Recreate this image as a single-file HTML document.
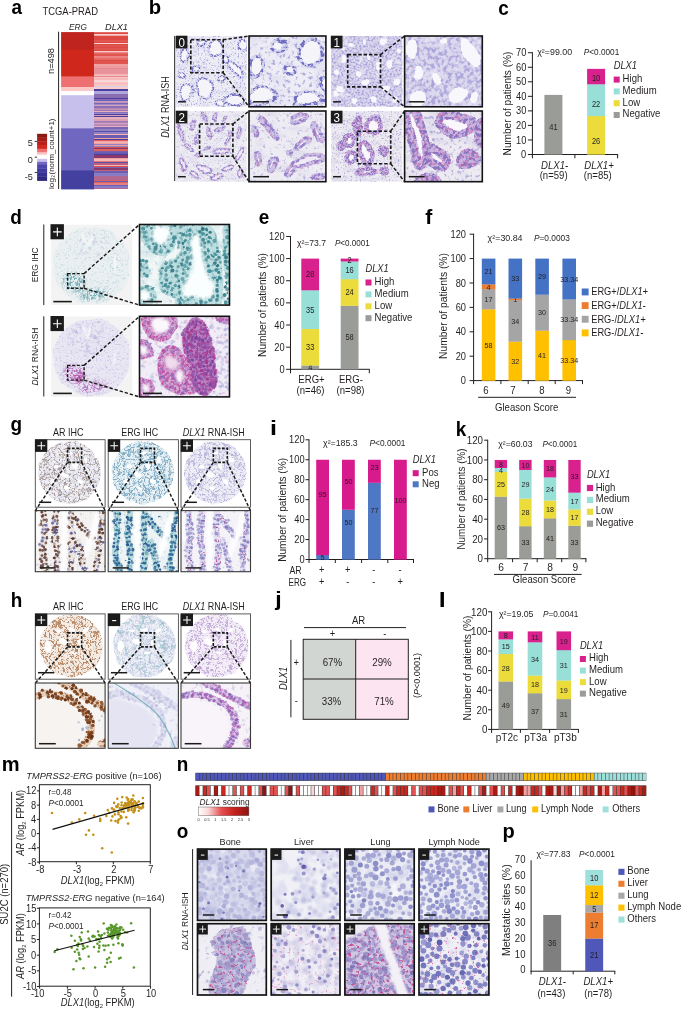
<!DOCTYPE html>
<html><head><meta charset="utf-8"><title>Figure</title>
<style>
html,body{margin:0;padding:0;background:#fff;}
body{width:685px;height:1009px;overflow:hidden;}
svg{display:block;font-family:"Liberation Sans",sans-serif;will-change:transform;transform:translateZ(0);}
</style></head><body>
<svg width="685" height="1009" viewBox="0 0 685 1009">
<rect width="685" height="1009" fill="#fff"/>
<text transform="translate(11.53 14.30) scale(0.9800 1)" font-size="19.3" text-anchor="start" fill="#000" font-weight="bold">a</text>
<text transform="translate(42.50 15.30) scale(0.9424 1)" font-size="10" text-anchor="start" fill="#231f20">TCGA-PRAD</text>
<text transform="translate(69.00 30.00) scale(0.8743 1)" font-size="9.5" text-anchor="start" fill="#231f20"><tspan font-style="italic">ERG</tspan></text>
<text transform="translate(105.00 30.00) scale(0.9679 1)" font-size="9.5" text-anchor="start" fill="#231f20"><tspan font-style="italic">DLX1</tspan></text>
<line x1="58.60" y1="31.70" x2="58.60" y2="189.00" stroke="#231f20" stroke-width="1"/>
<rect x="61.10" y="32.10" width="33.00" height="17.90" fill="#bf241f" />
<rect x="61.10" y="49.60" width="33.00" height="27.30" fill="#cf271b" />
<rect x="61.10" y="76.50" width="33.00" height="10.90" fill="#ee7070" />
<rect x="61.10" y="87.00" width="33.00" height="4.50" fill="#fbc8c8" />
<rect x="61.10" y="91.10" width="33.00" height="4.50" fill="#ffffff" />
<rect x="61.10" y="95.20" width="33.00" height="33.50" fill="#c8c0ec" />
<rect x="61.10" y="128.30" width="33.00" height="42.30" fill="#7068c0" />
<rect x="61.10" y="170.20" width="33.00" height="19.20" fill="#4340a0" />
<rect x="94.10" y="32.00" width="34.30" height="1.00" fill="#e66a66" shape-rendering="crispEdges"/>
<rect x="94.10" y="33.00" width="34.30" height="1.00" fill="#dd4a46" shape-rendering="crispEdges"/>
<rect x="94.10" y="34.00" width="34.30" height="1.00" fill="#f9cfce" shape-rendering="crispEdges"/>
<rect x="94.10" y="35.00" width="34.30" height="1.00" fill="#f4aaa8" shape-rendering="crispEdges"/>
<rect x="94.10" y="36.00" width="34.30" height="2.00" fill="#dd4a46" shape-rendering="crispEdges"/>
<rect x="94.10" y="38.00" width="34.30" height="2.00" fill="#dd4a46" shape-rendering="crispEdges"/>
<rect x="94.10" y="40.00" width="34.30" height="1.00" fill="#e05550" shape-rendering="crispEdges"/>
<rect x="94.10" y="41.00" width="34.30" height="1.00" fill="#e05550" shape-rendering="crispEdges"/>
<rect x="94.10" y="42.00" width="34.30" height="1.00" fill="#dd4a46" shape-rendering="crispEdges"/>
<rect x="94.10" y="43.00" width="34.30" height="1.00" fill="#f9cfce" shape-rendering="crispEdges"/>
<rect x="94.10" y="44.00" width="34.30" height="1.00" fill="#dd4a46" shape-rendering="crispEdges"/>
<rect x="94.10" y="45.00" width="34.30" height="2.00" fill="#e05550" shape-rendering="crispEdges"/>
<rect x="94.10" y="47.00" width="34.30" height="1.00" fill="#dd4a46" shape-rendering="crispEdges"/>
<rect x="94.10" y="48.00" width="34.30" height="2.00" fill="#e05550" shape-rendering="crispEdges"/>
<rect x="94.10" y="50.00" width="34.30" height="1.00" fill="#dd4a46" shape-rendering="crispEdges"/>
<rect x="94.10" y="51.00" width="34.30" height="1.00" fill="#f9cfce" shape-rendering="crispEdges"/>
<rect x="94.10" y="52.00" width="34.30" height="1.00" fill="#ec8482" shape-rendering="crispEdges"/>
<rect x="94.10" y="53.00" width="34.30" height="1.00" fill="#e66a66" shape-rendering="crispEdges"/>
<rect x="94.10" y="54.00" width="34.30" height="2.00" fill="#e05550" shape-rendering="crispEdges"/>
<rect x="94.10" y="56.00" width="34.30" height="2.00" fill="#ec8482" shape-rendering="crispEdges"/>
<rect x="94.10" y="58.00" width="34.30" height="2.00" fill="#e66a66" shape-rendering="crispEdges"/>
<rect x="94.10" y="60.00" width="34.30" height="1.00" fill="#dd4a46" shape-rendering="crispEdges"/>
<rect x="94.10" y="61.00" width="34.30" height="1.00" fill="#e05550" shape-rendering="crispEdges"/>
<rect x="94.10" y="62.00" width="34.30" height="2.00" fill="#e05550" shape-rendering="crispEdges"/>
<rect x="94.10" y="64.00" width="34.30" height="2.00" fill="#f0a2a2" shape-rendering="crispEdges"/>
<rect x="94.10" y="66.00" width="34.30" height="2.00" fill="#ee9a9e" shape-rendering="crispEdges"/>
<rect x="94.10" y="68.00" width="34.30" height="1.00" fill="#e48a96" shape-rendering="crispEdges"/>
<rect x="94.10" y="69.00" width="34.30" height="2.00" fill="#e8929c" shape-rendering="crispEdges"/>
<rect x="94.10" y="71.00" width="34.30" height="1.00" fill="#e8929c" shape-rendering="crispEdges"/>
<rect x="94.10" y="72.00" width="34.30" height="2.00" fill="#e8929c" shape-rendering="crispEdges"/>
<rect x="94.10" y="74.00" width="34.30" height="1.00" fill="#f4b4b4" shape-rendering="crispEdges"/>
<rect x="94.10" y="75.00" width="34.30" height="1.00" fill="#f6bcbc" shape-rendering="crispEdges"/>
<rect x="94.10" y="76.00" width="34.30" height="1.00" fill="#e48a96" shape-rendering="crispEdges"/>
<rect x="94.10" y="77.00" width="34.30" height="1.00" fill="#f8c4c4" shape-rendering="crispEdges"/>
<rect x="94.10" y="78.00" width="34.30" height="2.00" fill="#f6b8b8" shape-rendering="crispEdges"/>
<rect x="94.10" y="80.00" width="34.30" height="2.00" fill="#fad6d6" shape-rendering="crispEdges"/>
<rect x="94.10" y="82.00" width="34.30" height="1.00" fill="#f8c4c4" shape-rendering="crispEdges"/>
<rect x="94.10" y="83.00" width="34.30" height="1.00" fill="#f6b8b8" shape-rendering="crispEdges"/>
<rect x="94.10" y="84.00" width="34.30" height="2.00" fill="#f8c4c4" shape-rendering="crispEdges"/>
<rect x="94.10" y="86.00" width="34.30" height="1.00" fill="#dcd0ec" shape-rendering="crispEdges"/>
<rect x="94.10" y="87.00" width="34.30" height="1.00" fill="#f9cccc" shape-rendering="crispEdges"/>
<rect x="94.10" y="88.00" width="34.30" height="1.00" fill="#f9cccc" shape-rendering="crispEdges"/>
<rect x="94.10" y="89.00" width="34.30" height="1.00" fill="#4a3fa0" shape-rendering="crispEdges"/>
<rect x="94.10" y="90.00" width="34.30" height="1.00" fill="#4a3fa0" shape-rendering="crispEdges"/>
<rect x="94.10" y="91.00" width="34.30" height="2.00" fill="#b0a8dc" shape-rendering="crispEdges"/>
<rect x="94.10" y="93.00" width="34.30" height="1.00" fill="#b0a8dc" shape-rendering="crispEdges"/>
<rect x="94.10" y="94.00" width="34.30" height="2.00" fill="#8a6cb0" shape-rendering="crispEdges"/>
<rect x="94.10" y="96.00" width="34.30" height="2.00" fill="#8a6cb0" shape-rendering="crispEdges"/>
<rect x="94.10" y="98.00" width="34.30" height="1.00" fill="#4a3fa0" shape-rendering="crispEdges"/>
<rect x="94.10" y="99.00" width="34.30" height="1.00" fill="#8a6cb0" shape-rendering="crispEdges"/>
<rect x="94.10" y="100.00" width="34.30" height="1.00" fill="#6a60b8" shape-rendering="crispEdges"/>
<rect x="94.10" y="101.00" width="34.30" height="1.00" fill="#c8a0c4" shape-rendering="crispEdges"/>
<rect x="94.10" y="102.00" width="34.30" height="1.00" fill="#c090b8" shape-rendering="crispEdges"/>
<rect x="94.10" y="103.00" width="34.30" height="1.00" fill="#7a66b4" shape-rendering="crispEdges"/>
<rect x="94.10" y="104.00" width="34.30" height="1.00" fill="#9a8ccc" shape-rendering="crispEdges"/>
<rect x="94.10" y="105.00" width="34.30" height="1.00" fill="#dca0b4" shape-rendering="crispEdges"/>
<rect x="94.10" y="106.00" width="34.30" height="2.00" fill="#8a70b8" shape-rendering="crispEdges"/>
<rect x="94.10" y="108.00" width="34.30" height="1.00" fill="#b884b4" shape-rendering="crispEdges"/>
<rect x="94.10" y="109.00" width="34.30" height="1.00" fill="#c090b8" shape-rendering="crispEdges"/>
<rect x="94.10" y="110.00" width="34.30" height="1.00" fill="#a078b4" shape-rendering="crispEdges"/>
<rect x="94.10" y="111.00" width="34.30" height="1.00" fill="#e8b0bc" shape-rendering="crispEdges"/>
<rect x="94.10" y="112.00" width="34.30" height="1.00" fill="#8a70b8" shape-rendering="crispEdges"/>
<rect x="94.10" y="113.00" width="34.30" height="1.00" fill="#9a8ccc" shape-rendering="crispEdges"/>
<rect x="94.10" y="114.00" width="34.30" height="1.00" fill="#4a3fa0" shape-rendering="crispEdges"/>
<rect x="94.10" y="115.00" width="34.30" height="1.00" fill="#dca0b4" shape-rendering="crispEdges"/>
<rect x="94.10" y="116.00" width="34.30" height="1.00" fill="#4a3fa0" shape-rendering="crispEdges"/>
<rect x="94.10" y="117.00" width="34.30" height="1.00" fill="#e8b0bc" shape-rendering="crispEdges"/>
<rect x="94.10" y="118.00" width="34.30" height="1.00" fill="#e8b0bc" shape-rendering="crispEdges"/>
<rect x="94.10" y="119.00" width="34.30" height="1.00" fill="#dca0b4" shape-rendering="crispEdges"/>
<rect x="94.10" y="120.00" width="34.30" height="1.00" fill="#dca0b4" shape-rendering="crispEdges"/>
<rect x="94.10" y="121.00" width="34.30" height="1.00" fill="#a078b4" shape-rendering="crispEdges"/>
<rect x="94.10" y="122.00" width="34.30" height="1.00" fill="#b884b4" shape-rendering="crispEdges"/>
<rect x="94.10" y="123.00" width="34.30" height="1.00" fill="#c8a0c4" shape-rendering="crispEdges"/>
<rect x="94.10" y="124.00" width="34.30" height="1.00" fill="#c090b8" shape-rendering="crispEdges"/>
<rect x="94.10" y="125.00" width="34.30" height="1.00" fill="#b884b4" shape-rendering="crispEdges"/>
<rect x="94.10" y="126.00" width="34.30" height="1.00" fill="#e8b0bc" shape-rendering="crispEdges"/>
<rect x="94.10" y="127.00" width="34.30" height="2.00" fill="#7a66b4" shape-rendering="crispEdges"/>
<rect x="94.10" y="129.00" width="34.30" height="2.00" fill="#9080c4" shape-rendering="crispEdges"/>
<rect x="94.10" y="131.00" width="34.30" height="1.00" fill="#5a50a8" shape-rendering="crispEdges"/>
<rect x="94.10" y="132.00" width="34.30" height="2.00" fill="#9080c4" shape-rendering="crispEdges"/>
<rect x="94.10" y="134.00" width="34.30" height="1.00" fill="#f4b8b8" shape-rendering="crispEdges"/>
<rect x="94.10" y="135.00" width="34.30" height="2.00" fill="#6a5cb0" shape-rendering="crispEdges"/>
<rect x="94.10" y="137.00" width="34.30" height="1.00" fill="#6a5cb0" shape-rendering="crispEdges"/>
<rect x="94.10" y="138.00" width="34.30" height="1.00" fill="#f0a0a0" shape-rendering="crispEdges"/>
<rect x="94.10" y="139.00" width="34.30" height="1.00" fill="#4a3fa0" shape-rendering="crispEdges"/>
<rect x="94.10" y="140.00" width="34.30" height="1.00" fill="#e06060" shape-rendering="crispEdges"/>
<rect x="94.10" y="141.00" width="34.30" height="1.00" fill="#f0a0a0" shape-rendering="crispEdges"/>
<rect x="94.10" y="142.00" width="34.30" height="1.00" fill="#f4b8b8" shape-rendering="crispEdges"/>
<rect x="94.10" y="143.00" width="34.30" height="1.00" fill="#f0a0a0" shape-rendering="crispEdges"/>
<rect x="94.10" y="144.00" width="34.30" height="1.00" fill="#9080c4" shape-rendering="crispEdges"/>
<rect x="94.10" y="145.00" width="34.30" height="1.00" fill="#f0a0a0" shape-rendering="crispEdges"/>
<rect x="94.10" y="146.00" width="34.30" height="1.00" fill="#9080c4" shape-rendering="crispEdges"/>
<rect x="94.10" y="147.00" width="34.30" height="1.00" fill="#d85050" shape-rendering="crispEdges"/>
<rect x="94.10" y="148.00" width="34.30" height="1.00" fill="#8a3a6a" shape-rendering="crispEdges"/>
<rect x="94.10" y="149.00" width="34.30" height="2.00" fill="#e06060" shape-rendering="crispEdges"/>
<rect x="94.10" y="151.00" width="34.30" height="1.00" fill="#7a60a8" shape-rendering="crispEdges"/>
<rect x="94.10" y="152.00" width="34.30" height="2.00" fill="#6a5cb0" shape-rendering="crispEdges"/>
<rect x="94.10" y="154.00" width="34.30" height="1.00" fill="#4a3fa0" shape-rendering="crispEdges"/>
<rect x="94.10" y="155.00" width="34.30" height="1.00" fill="#8a3a6a" shape-rendering="crispEdges"/>
<rect x="94.10" y="156.00" width="34.30" height="2.00" fill="#8a3a6a" shape-rendering="crispEdges"/>
<rect x="94.10" y="158.00" width="34.30" height="1.00" fill="#f0a0a0" shape-rendering="crispEdges"/>
<rect x="94.10" y="159.00" width="34.30" height="1.00" fill="#f4b8b8" shape-rendering="crispEdges"/>
<rect x="94.10" y="160.00" width="34.30" height="1.00" fill="#f4b8b8" shape-rendering="crispEdges"/>
<rect x="94.10" y="161.00" width="34.30" height="1.00" fill="#e87878" shape-rendering="crispEdges"/>
<rect x="94.10" y="162.00" width="34.30" height="1.00" fill="#5a50a8" shape-rendering="crispEdges"/>
<rect x="94.10" y="163.00" width="34.30" height="1.00" fill="#c06080" shape-rendering="crispEdges"/>
<rect x="94.10" y="164.00" width="34.30" height="1.00" fill="#c06080" shape-rendering="crispEdges"/>
<rect x="94.10" y="165.00" width="34.30" height="1.00" fill="#f4b8b8" shape-rendering="crispEdges"/>
<rect x="94.10" y="166.00" width="34.30" height="1.00" fill="#d85050" shape-rendering="crispEdges"/>
<rect x="94.10" y="167.00" width="34.30" height="1.00" fill="#7a60a8" shape-rendering="crispEdges"/>
<rect x="94.10" y="168.00" width="34.30" height="2.00" fill="#8a3a6a" shape-rendering="crispEdges"/>
<rect x="94.10" y="170.00" width="34.30" height="1.00" fill="#c06080" shape-rendering="crispEdges"/>
<rect x="94.10" y="171.00" width="34.30" height="2.00" fill="#6a60b0" shape-rendering="crispEdges"/>
<rect x="94.10" y="173.00" width="34.30" height="2.00" fill="#8a7cc4" shape-rendering="crispEdges"/>
<rect x="94.10" y="175.00" width="34.30" height="1.00" fill="#8a7cc4" shape-rendering="crispEdges"/>
<rect x="94.10" y="176.00" width="34.30" height="2.00" fill="#b06890" shape-rendering="crispEdges"/>
<rect x="94.10" y="178.00" width="34.30" height="1.00" fill="#b06890" shape-rendering="crispEdges"/>
<rect x="94.10" y="179.00" width="34.30" height="1.00" fill="#b06890" shape-rendering="crispEdges"/>
<rect x="94.10" y="180.00" width="34.30" height="1.00" fill="#d86068" shape-rendering="crispEdges"/>
<rect x="94.10" y="181.00" width="34.30" height="1.00" fill="#6a60b0" shape-rendering="crispEdges"/>
<rect x="94.10" y="182.00" width="34.30" height="1.00" fill="#d86068" shape-rendering="crispEdges"/>
<rect x="94.10" y="183.00" width="34.30" height="2.00" fill="#e88080" shape-rendering="crispEdges"/>
<rect x="94.10" y="185.00" width="34.30" height="1.00" fill="#6a60b0" shape-rendering="crispEdges"/>
<rect x="94.10" y="186.00" width="34.30" height="1.00" fill="#8a7cc4" shape-rendering="crispEdges"/>
<rect x="94.10" y="187.00" width="34.30" height="1.00" fill="#8a7cc4" shape-rendering="crispEdges"/>
<rect x="94.10" y="188.00" width="34.30" height="1.00" fill="#b06890" shape-rendering="crispEdges"/>
<rect x="37.10" y="133.80" width="10.00" height="4.04" fill="#8c1a14" />
<rect x="37.10" y="137.54" width="10.00" height="4.04" fill="#a31d17" />
<rect x="37.10" y="141.29" width="10.00" height="4.04" fill="#b8211a" />
<rect x="37.10" y="145.03" width="10.00" height="4.04" fill="#d12a1c" />
<rect x="37.10" y="148.78" width="10.00" height="3.58" fill="#ee7070" />
<rect x="37.10" y="152.05" width="10.00" height="1.94" fill="#f8b4b4" />
<rect x="37.10" y="153.69" width="10.00" height="1.94" fill="#fcd8d8" />
<rect x="37.10" y="155.33" width="10.00" height="3.81" fill="#ffffff" />
<rect x="37.10" y="158.84" width="10.00" height="3.34" fill="#c8c0ec" />
<rect x="37.10" y="161.88" width="10.00" height="3.11" fill="#7068c0" />
<rect x="37.10" y="164.69" width="10.00" height="4.04" fill="#4d46aa" />
<rect x="37.10" y="168.43" width="10.00" height="4.04" fill="#3f3aa0" />
<rect x="37.10" y="172.18" width="10.00" height="4.51" fill="#363094" />
<rect x="37.10" y="176.39" width="10.00" height="4.51" fill="#2e2a80" />
<text transform="translate(32.80 145.80) scale(0.9300 1)" font-size="9.8" text-anchor="end" fill="#231f20">5</text>
<line x1="34.70" y1="141.40" x2="37.10" y2="141.40" stroke="#231f20" stroke-width="0.9"/>
<text transform="translate(32.80 162.50) scale(0.9300 1)" font-size="9.8" text-anchor="end" fill="#231f20">0</text>
<line x1="34.70" y1="157.20" x2="37.10" y2="157.20" stroke="#231f20" stroke-width="0.9"/>
<text transform="translate(32.80 179.90) scale(0.9300 1)" font-size="9.8" text-anchor="end" fill="#231f20">-5</text>
<line x1="34.70" y1="172.50" x2="37.10" y2="172.50" stroke="#231f20" stroke-width="0.9"/>
<text transform="translate(54.20 61.00) rotate(-90) scale(0.9745 1)" font-size="9.5" text-anchor="middle" fill="#231f20">n=498</text>
<text transform="translate(53.70 189.00) rotate(-90) scale(1.0304 1)" font-size="8" text-anchor="start" fill="#231f20">log</text>
<text transform="translate(55.20 177.60) rotate(-90) scale(0.9300 1)" font-size="4.5" text-anchor="start" fill="#231f20">2</text>
<text transform="translate(53.70 174.50) rotate(-90) scale(0.9878 1)" font-size="8" text-anchor="start" fill="#231f20">(norm_count+1)</text>
<text transform="translate(498.35 14.50) scale(0.9800 1)" font-size="19.3" text-anchor="start" fill="#000" font-weight="bold">c</text>
<line x1="532.40" y1="52.20" x2="532.40" y2="155.00" stroke="#231f20" stroke-width="1"/>
<line x1="527.90" y1="154.50" x2="532.40" y2="154.50" stroke="#231f20" stroke-width="1"/>
<text transform="translate(526.30 158.10) scale(0.9300 1)" font-size="10" text-anchor="end" fill="#231f20">0</text>
<line x1="527.90" y1="139.96" x2="532.40" y2="139.96" stroke="#231f20" stroke-width="1"/>
<text transform="translate(526.30 143.56) scale(0.9300 1)" font-size="10" text-anchor="end" fill="#231f20">10</text>
<line x1="527.90" y1="125.42" x2="532.40" y2="125.42" stroke="#231f20" stroke-width="1"/>
<text transform="translate(526.30 129.02) scale(0.9300 1)" font-size="10" text-anchor="end" fill="#231f20">20</text>
<line x1="527.90" y1="110.88" x2="532.40" y2="110.88" stroke="#231f20" stroke-width="1"/>
<text transform="translate(526.30 114.48) scale(0.9300 1)" font-size="10" text-anchor="end" fill="#231f20">30</text>
<line x1="527.90" y1="96.34" x2="532.40" y2="96.34" stroke="#231f20" stroke-width="1"/>
<text transform="translate(526.30 99.94) scale(0.9300 1)" font-size="10" text-anchor="end" fill="#231f20">40</text>
<line x1="527.90" y1="81.80" x2="532.40" y2="81.80" stroke="#231f20" stroke-width="1"/>
<text transform="translate(526.30 85.40) scale(0.9300 1)" font-size="10" text-anchor="end" fill="#231f20">50</text>
<line x1="527.90" y1="67.26" x2="532.40" y2="67.26" stroke="#231f20" stroke-width="1"/>
<text transform="translate(526.30 70.86) scale(0.9300 1)" font-size="10" text-anchor="end" fill="#231f20">60</text>
<line x1="527.90" y1="52.72" x2="532.40" y2="52.72" stroke="#231f20" stroke-width="1"/>
<text transform="translate(526.30 56.32) scale(0.9300 1)" font-size="10" text-anchor="end" fill="#231f20">70</text>
<line x1="531.90" y1="154.50" x2="618.10" y2="154.50" stroke="#231f20" stroke-width="1"/>
<line x1="532.40" y1="154.50" x2="532.40" y2="158.30" stroke="#231f20" stroke-width="1"/>
<line x1="574.90" y1="154.50" x2="574.90" y2="158.30" stroke="#231f20" stroke-width="1"/>
<line x1="617.60" y1="154.50" x2="617.60" y2="158.30" stroke="#231f20" stroke-width="1"/>
<rect x="544.40" y="94.89" width="18.00" height="59.76" fill="#9a9c97" />
<text transform="translate(553.40 130.48) scale(0.9000 1)" font-size="8.3" text-anchor="middle" fill="#231f20">41</text>
<rect x="587.10" y="115.97" width="18.00" height="38.68" fill="#ebdc3b" />
<text transform="translate(596.10 143.72) scale(0.9000 1)" font-size="8.3" text-anchor="middle" fill="#231f20">26</text>
<rect x="587.10" y="84.13" width="18.00" height="31.99" fill="#98dfd8" />
<text transform="translate(596.10 107.04) scale(0.9000 1)" font-size="8.3" text-anchor="middle" fill="#231f20">22</text>
<rect x="587.10" y="68.86" width="18.00" height="15.42" fill="#d9218d" />
<text transform="translate(596.10 81.08) scale(0.9000 1)" font-size="8.3" text-anchor="middle" fill="#231f20">10</text>
<text transform="translate(537.20 55.20) scale(1.0319 1)" font-size="8.6" text-anchor="start" fill="#231f20">χ²=99.00</text>
<text transform="translate(583.80 55.20) scale(0.9579 1)" font-size="8.6" text-anchor="start" fill="#231f20"><tspan font-style="italic">P</tspan>&lt;0.0001</text>
<text transform="translate(613.70 68.80) scale(0.9300 1)" font-size="10" text-anchor="start" fill="#231f20"><tspan font-style="italic">DLX1</tspan></text>
<rect x="613.70" y="76.60" width="6.00" height="6.00" fill="#d9218d" />
<text transform="translate(622.60 82.00) scale(0.9300 1)" font-size="10.3" text-anchor="start" fill="#231f20">High</text>
<rect x="613.70" y="88.40" width="6.00" height="6.00" fill="#98dfd8" />
<text transform="translate(622.60 93.80) scale(0.9300 1)" font-size="10.3" text-anchor="start" fill="#231f20">Medium</text>
<rect x="613.70" y="100.20" width="6.00" height="6.00" fill="#ebdc3b" />
<text transform="translate(622.60 105.60) scale(0.9300 1)" font-size="10.3" text-anchor="start" fill="#231f20">Low</text>
<rect x="613.70" y="112.00" width="6.00" height="6.00" fill="#9a9c97" />
<text transform="translate(622.60 117.40) scale(0.9300 1)" font-size="10.3" text-anchor="start" fill="#231f20">Negative</text>
<text transform="translate(554.60 169.20) scale(0.9300 1)" font-size="10.3" text-anchor="middle" fill="#231f20"><tspan font-style="italic">DLX1-</tspan></text>
<text transform="translate(553.60 179.00) scale(0.9300 1)" font-size="10.3" text-anchor="middle" fill="#231f20">(n=59)</text>
<text transform="translate(599.00 169.20) scale(0.9300 1)" font-size="10.3" text-anchor="middle" fill="#231f20"><tspan font-style="italic">DLX1+</tspan></text>
<text transform="translate(597.80 179.00) scale(0.9300 1)" font-size="10.3" text-anchor="middle" fill="#231f20">(n=85)</text>
<text transform="translate(511.00 103.50) rotate(-90) scale(0.9821 1)" font-size="10.3" text-anchor="middle" fill="#231f20">Number of patients (%)</text>
<text transform="translate(258.78 223.90) scale(0.9800 1)" font-size="19.3" text-anchor="start" fill="#000" font-weight="bold">e</text>
<line x1="290.50" y1="236.00" x2="290.50" y2="369.80" stroke="#231f20" stroke-width="1"/>
<line x1="286.10" y1="369.30" x2="290.50" y2="369.30" stroke="#231f20" stroke-width="1"/>
<text transform="translate(284.60 372.90) scale(0.9300 1)" font-size="10" text-anchor="end" fill="#231f20">0</text>
<line x1="286.10" y1="347.16" x2="290.50" y2="347.16" stroke="#231f20" stroke-width="1"/>
<text transform="translate(284.60 350.76) scale(0.9300 1)" font-size="10" text-anchor="end" fill="#231f20">20</text>
<line x1="286.10" y1="325.02" x2="290.50" y2="325.02" stroke="#231f20" stroke-width="1"/>
<text transform="translate(284.60 328.62) scale(0.9300 1)" font-size="10" text-anchor="end" fill="#231f20">40</text>
<line x1="286.10" y1="302.88" x2="290.50" y2="302.88" stroke="#231f20" stroke-width="1"/>
<text transform="translate(284.60 306.48) scale(0.9300 1)" font-size="10" text-anchor="end" fill="#231f20">60</text>
<line x1="286.10" y1="280.74" x2="290.50" y2="280.74" stroke="#231f20" stroke-width="1"/>
<text transform="translate(284.60 284.34) scale(0.9300 1)" font-size="10" text-anchor="end" fill="#231f20">80</text>
<line x1="286.10" y1="258.60" x2="290.50" y2="258.60" stroke="#231f20" stroke-width="1"/>
<text transform="translate(284.60 262.20) scale(0.9300 1)" font-size="10" text-anchor="end" fill="#231f20">100</text>
<line x1="286.10" y1="236.46" x2="290.50" y2="236.46" stroke="#231f20" stroke-width="1"/>
<text transform="translate(284.60 240.06) scale(0.9300 1)" font-size="10" text-anchor="end" fill="#231f20">120</text>
<line x1="290.00" y1="369.30" x2="369.80" y2="369.30" stroke="#231f20" stroke-width="1"/>
<line x1="290.50" y1="369.30" x2="290.50" y2="373.30" stroke="#231f20" stroke-width="1"/>
<line x1="369.30" y1="369.30" x2="369.30" y2="373.30" stroke="#231f20" stroke-width="1"/>
<rect x="301.30" y="365.43" width="17.80" height="4.02" fill="#9a9c97" />
<text transform="translate(310.20 370.35) scale(0.9000 1)" font-size="8.3" text-anchor="middle" fill="#231f20">4</text>
<rect x="301.30" y="328.89" width="17.80" height="36.68" fill="#ebdc3b" />
<text transform="translate(310.20 350.15) scale(0.9000 1)" font-size="8.3" text-anchor="middle" fill="#231f20">33</text>
<rect x="301.30" y="290.15" width="17.80" height="38.89" fill="#98dfd8" />
<text transform="translate(310.20 312.51) scale(0.9000 1)" font-size="8.3" text-anchor="middle" fill="#231f20">35</text>
<rect x="301.30" y="258.60" width="17.80" height="31.70" fill="#d9218d" />
<text transform="translate(310.20 277.36) scale(0.9000 1)" font-size="8.3" text-anchor="middle" fill="#231f20">28</text>
<rect x="340.70" y="305.65" width="17.80" height="63.80" fill="#9a9c97" />
<text transform="translate(349.60 340.46) scale(0.9000 1)" font-size="8.3" text-anchor="middle" fill="#231f20">58</text>
<rect x="340.70" y="279.08" width="17.80" height="26.72" fill="#ebdc3b" />
<text transform="translate(349.60 295.35) scale(0.9000 1)" font-size="8.3" text-anchor="middle" fill="#231f20">24</text>
<rect x="340.70" y="261.37" width="17.80" height="17.86" fill="#98dfd8" />
<text transform="translate(349.60 273.21) scale(0.9000 1)" font-size="8.3" text-anchor="middle" fill="#231f20">16</text>
<rect x="340.70" y="258.60" width="17.80" height="2.92" fill="#d9218d" />
<text transform="translate(349.60 262.97) scale(0.9000 1)" font-size="8.3" text-anchor="middle" fill="#231f20">2</text>
<text transform="translate(296.90 245.80) scale(1.0022 1)" font-size="8.6" text-anchor="start" fill="#231f20">χ²=73.7</text>
<text transform="translate(334.90 245.80) scale(0.9444 1)" font-size="8.6" text-anchor="start" fill="#231f20"><tspan font-style="italic">P</tspan>&lt;0.0001</text>
<text transform="translate(365.50 271.80) scale(0.9300 1)" font-size="10" text-anchor="start" fill="#231f20"><tspan font-style="italic">DLX1</tspan></text>
<rect x="365.50" y="279.50" width="6.00" height="6.00" fill="#d9218d" />
<text transform="translate(374.60 284.90) scale(0.9300 1)" font-size="10.3" text-anchor="start" fill="#231f20">High</text>
<rect x="365.50" y="291.40" width="6.00" height="6.00" fill="#98dfd8" />
<text transform="translate(374.60 296.80) scale(0.9300 1)" font-size="10.3" text-anchor="start" fill="#231f20">Medium</text>
<rect x="365.50" y="303.30" width="6.00" height="6.00" fill="#ebdc3b" />
<text transform="translate(374.60 308.70) scale(0.9300 1)" font-size="10.3" text-anchor="start" fill="#231f20">Low</text>
<rect x="365.50" y="315.20" width="6.00" height="6.00" fill="#9a9c97" />
<text transform="translate(374.60 320.60) scale(0.9300 1)" font-size="10.3" text-anchor="start" fill="#231f20">Negative</text>
<text transform="translate(311.50 382.70) scale(0.9300 1)" font-size="10.3" text-anchor="middle" fill="#231f20">ERG+</text>
<text transform="translate(310.50 394.40) scale(0.9300 1)" font-size="10.3" text-anchor="middle" fill="#231f20">(n=46)</text>
<text transform="translate(350.90 382.70) scale(0.9300 1)" font-size="10.3" text-anchor="middle" fill="#231f20">ERG-</text>
<text transform="translate(350.50 394.40) scale(0.9300 1)" font-size="10.3" text-anchor="middle" fill="#231f20">(n=98)</text>
<text transform="translate(266.00 305.00) rotate(-90) scale(0.9821 1)" font-size="10.3" text-anchor="middle" fill="#231f20">Number of patients (%)</text>
<text transform="translate(425.37 223.80) scale(1.1000 1)" font-size="19.3" text-anchor="start" fill="#000" font-weight="bold">f</text>
<line x1="473.60" y1="233.70" x2="473.60" y2="381.10" stroke="#231f20" stroke-width="1"/>
<line x1="469.60" y1="380.60" x2="473.60" y2="380.60" stroke="#231f20" stroke-width="1"/>
<text transform="translate(466.00 384.20) scale(0.9300 1)" font-size="10" text-anchor="end" fill="#231f20">0</text>
<line x1="469.60" y1="356.20" x2="473.60" y2="356.20" stroke="#231f20" stroke-width="1"/>
<text transform="translate(466.00 359.80) scale(0.9300 1)" font-size="10" text-anchor="end" fill="#231f20">20</text>
<line x1="469.60" y1="331.80" x2="473.60" y2="331.80" stroke="#231f20" stroke-width="1"/>
<text transform="translate(466.00 335.40) scale(0.9300 1)" font-size="10" text-anchor="end" fill="#231f20">40</text>
<line x1="469.60" y1="307.40" x2="473.60" y2="307.40" stroke="#231f20" stroke-width="1"/>
<text transform="translate(466.00 311.00) scale(0.9300 1)" font-size="10" text-anchor="end" fill="#231f20">60</text>
<line x1="469.60" y1="283.00" x2="473.60" y2="283.00" stroke="#231f20" stroke-width="1"/>
<text transform="translate(466.00 286.60) scale(0.9300 1)" font-size="10" text-anchor="end" fill="#231f20">80</text>
<line x1="469.60" y1="258.60" x2="473.60" y2="258.60" stroke="#231f20" stroke-width="1"/>
<text transform="translate(466.00 262.20) scale(0.9300 1)" font-size="10" text-anchor="end" fill="#231f20">100</text>
<line x1="469.60" y1="234.20" x2="473.60" y2="234.20" stroke="#231f20" stroke-width="1"/>
<text transform="translate(466.00 237.80) scale(0.9300 1)" font-size="10" text-anchor="end" fill="#231f20">120</text>
<line x1="473.10" y1="380.60" x2="583.00" y2="380.60" stroke="#231f20" stroke-width="1"/>
<line x1="473.60" y1="380.60" x2="473.60" y2="384.10" stroke="#231f20" stroke-width="1"/>
<line x1="500.90" y1="380.60" x2="500.90" y2="384.10" stroke="#231f20" stroke-width="1"/>
<line x1="528.20" y1="380.60" x2="528.20" y2="384.10" stroke="#231f20" stroke-width="1"/>
<line x1="555.20" y1="380.60" x2="555.20" y2="384.10" stroke="#231f20" stroke-width="1"/>
<line x1="582.50" y1="380.60" x2="582.50" y2="384.10" stroke="#231f20" stroke-width="1"/>
<rect x="481.80" y="309.23" width="13.60" height="71.52" fill="#ffc000" />
<text transform="translate(488.60 347.80) scale(0.9000 1)" font-size="8.0" text-anchor="middle" fill="#231f20">58</text>
<rect x="481.80" y="289.10" width="13.60" height="20.28" fill="#a5a5a5" />
<text transform="translate(488.60 302.05) scale(0.9000 1)" font-size="8.0" text-anchor="middle" fill="#231f20">17</text>
<rect x="481.80" y="284.22" width="13.60" height="5.03" fill="#ed7d31" />
<text transform="translate(488.60 289.54) scale(0.9000 1)" font-size="8.0" text-anchor="middle" fill="#231f20">4</text>
<rect x="481.80" y="258.60" width="13.60" height="25.77" fill="#4472c4" />
<text transform="translate(488.60 274.29) scale(0.9000 1)" font-size="8.0" text-anchor="middle" fill="#231f20">21</text>
<rect x="508.50" y="341.56" width="13.60" height="39.19" fill="#ffc000" />
<text transform="translate(515.30 363.96) scale(0.9000 1)" font-size="8.0" text-anchor="middle" fill="#231f20">32</text>
<rect x="508.50" y="300.08" width="13.60" height="41.63" fill="#a5a5a5" />
<text transform="translate(515.30 323.70) scale(0.9000 1)" font-size="8.0" text-anchor="middle" fill="#231f20">34</text>
<rect x="508.50" y="298.49" width="13.60" height="1.74" fill="#ed7d31" />
<text transform="translate(515.30 302.17) scale(0.9000 1)" font-size="8.0" text-anchor="middle" fill="#231f20">1</text>
<rect x="508.50" y="258.60" width="13.60" height="40.04" fill="#4472c4" />
<text transform="translate(515.30 281.43) scale(0.9000 1)" font-size="8.0" text-anchor="middle" fill="#231f20">33</text>
<rect x="535.30" y="330.58" width="13.60" height="50.17" fill="#ffc000" />
<text transform="translate(542.10 358.47) scale(0.9000 1)" font-size="8.0" text-anchor="middle" fill="#231f20">41</text>
<rect x="535.30" y="294.59" width="13.60" height="36.14" fill="#a5a5a5" />
<text transform="translate(542.10 315.47) scale(0.9000 1)" font-size="8.0" text-anchor="middle" fill="#231f20">30</text>
<rect x="535.30" y="258.60" width="13.60" height="36.14" fill="#4472c4" />
<text transform="translate(542.10 279.48) scale(0.9000 1)" font-size="8.0" text-anchor="middle" fill="#231f20">29</text>
<rect x="562.40" y="339.97" width="13.60" height="40.78" fill="#ffc000" />
<text transform="translate(569.20 363.17) scale(0.9000 1)" font-size="8.0" text-anchor="middle" fill="#231f20">33.34</text>
<rect x="562.40" y="299.23" width="13.60" height="40.90" fill="#a5a5a5" />
<text transform="translate(569.20 322.48) scale(0.9000 1)" font-size="8.0" text-anchor="middle" fill="#231f20">33.34</text>
<rect x="562.40" y="258.60" width="13.60" height="40.78" fill="#4472c4" />
<text transform="translate(569.20 281.79) scale(0.9000 1)" font-size="8.0" text-anchor="middle" fill="#231f20">33.34</text>
<text transform="translate(487.60 241.30) scale(1.0692 1)" font-size="8.3" text-anchor="start" fill="#231f20">χ²=30.84</text>
<text transform="translate(533.90 241.30) scale(1.0065 1)" font-size="8.3" text-anchor="start" fill="#231f20"><tspan font-style="italic">P</tspan>=0.0003</text>
<rect x="581.70" y="288.50" width="6.90" height="6.90" fill="#4472c4" />
<text transform="translate(591.20 295.30) scale(0.9300 1)" font-size="10" text-anchor="start" fill="#231f20">ERG+/<tspan font-style="italic">DLX1+</tspan></text>
<rect x="581.70" y="302.15" width="6.90" height="6.90" fill="#ed7d31" />
<text transform="translate(591.20 308.95) scale(0.9300 1)" font-size="10" text-anchor="start" fill="#231f20">ERG+/<tspan font-style="italic">DLX1-</tspan></text>
<rect x="581.70" y="315.80" width="6.90" height="6.90" fill="#a5a5a5" />
<text transform="translate(591.20 322.60) scale(0.9300 1)" font-size="10" text-anchor="start" fill="#231f20">ERG-/<tspan font-style="italic">DLX1+</tspan></text>
<rect x="581.70" y="329.45" width="6.90" height="6.90" fill="#ffc000" />
<text transform="translate(591.20 336.25) scale(0.9300 1)" font-size="10" text-anchor="start" fill="#231f20">ERG-/<tspan font-style="italic">DLX1-</tspan></text>
<text transform="translate(486.00 393.70) scale(0.9300 1)" font-size="10.3" text-anchor="middle" fill="#231f20">6</text>
<text transform="translate(513.00 393.70) scale(0.9300 1)" font-size="10.3" text-anchor="middle" fill="#231f20">7</text>
<text transform="translate(541.90 393.70) scale(0.9300 1)" font-size="10.3" text-anchor="middle" fill="#231f20">8</text>
<text transform="translate(568.50 393.70) scale(0.9300 1)" font-size="10.3" text-anchor="middle" fill="#231f20">9</text>
<line x1="478.10" y1="397.30" x2="576.00" y2="397.30" stroke="#231f20" stroke-width="1"/>
<text transform="translate(526.70 410.80) scale(0.9300 1)" font-size="10.3" text-anchor="middle" fill="#231f20">Gleason Score</text>
<text transform="translate(446.70 306.00) rotate(-90) scale(1.0010 1)" font-size="10.3" text-anchor="middle" fill="#231f20">Number of patients (%)</text>
<text transform="translate(270.05 435.40) scale(1.3000 1)" font-size="19.3" text-anchor="start" fill="#000" font-weight="bold">i</text>
<line x1="309.00" y1="439.30" x2="309.00" y2="560.00" stroke="#231f20" stroke-width="1"/>
<line x1="305.50" y1="559.50" x2="309.00" y2="559.50" stroke="#231f20" stroke-width="1"/>
<text transform="translate(304.60 563.10) scale(0.9300 1)" font-size="10" text-anchor="end" fill="#231f20">0</text>
<line x1="305.50" y1="539.55" x2="309.00" y2="539.55" stroke="#231f20" stroke-width="1"/>
<text transform="translate(304.60 543.15) scale(0.9300 1)" font-size="10" text-anchor="end" fill="#231f20">20</text>
<line x1="305.50" y1="519.60" x2="309.00" y2="519.60" stroke="#231f20" stroke-width="1"/>
<text transform="translate(304.60 523.20) scale(0.9300 1)" font-size="10" text-anchor="end" fill="#231f20">40</text>
<line x1="305.50" y1="499.65" x2="309.00" y2="499.65" stroke="#231f20" stroke-width="1"/>
<text transform="translate(304.60 503.25) scale(0.9300 1)" font-size="10" text-anchor="end" fill="#231f20">60</text>
<line x1="305.50" y1="479.70" x2="309.00" y2="479.70" stroke="#231f20" stroke-width="1"/>
<text transform="translate(304.60 483.30) scale(0.9300 1)" font-size="10" text-anchor="end" fill="#231f20">80</text>
<line x1="305.50" y1="459.75" x2="309.00" y2="459.75" stroke="#231f20" stroke-width="1"/>
<text transform="translate(304.60 463.35) scale(0.9300 1)" font-size="10" text-anchor="end" fill="#231f20">100</text>
<line x1="305.50" y1="439.80" x2="309.00" y2="439.80" stroke="#231f20" stroke-width="1"/>
<text transform="translate(304.60 443.40) scale(0.9300 1)" font-size="10" text-anchor="end" fill="#231f20">120</text>
<line x1="308.50" y1="559.50" x2="414.00" y2="559.50" stroke="#231f20" stroke-width="1"/>
<line x1="309.00" y1="559.50" x2="309.00" y2="563.00" stroke="#231f20" stroke-width="1"/>
<line x1="335.30" y1="559.50" x2="335.30" y2="563.00" stroke="#231f20" stroke-width="1"/>
<line x1="361.60" y1="559.50" x2="361.60" y2="563.00" stroke="#231f20" stroke-width="1"/>
<line x1="387.80" y1="559.50" x2="387.80" y2="563.00" stroke="#231f20" stroke-width="1"/>
<line x1="413.50" y1="559.50" x2="413.50" y2="563.00" stroke="#231f20" stroke-width="1"/>
<rect x="316.20" y="555.01" width="12.80" height="4.64" fill="#4f78c4" />
<text transform="translate(322.60 560.14) scale(0.9000 1)" font-size="8.0" text-anchor="middle" fill="#231f20">5</text>
<rect x="316.20" y="459.75" width="12.80" height="95.41" fill="#d81b8c" />
<text transform="translate(322.60 496.66) scale(0.9000 1)" font-size="8.0" text-anchor="middle" fill="#231f20">95</text>
<rect x="342.00" y="509.62" width="12.80" height="50.02" fill="#4f78c4" />
<text transform="translate(348.40 525.04) scale(0.9000 1)" font-size="8.0" text-anchor="middle" fill="#231f20">50</text>
<rect x="342.00" y="459.75" width="12.80" height="50.02" fill="#d81b8c" />
<text transform="translate(348.40 484.17) scale(0.9000 1)" font-size="8.0" text-anchor="middle" fill="#231f20">50</text>
<rect x="368.00" y="482.69" width="12.80" height="76.96" fill="#4f78c4" />
<text transform="translate(374.40 513.38) scale(0.9000 1)" font-size="8.0" text-anchor="middle" fill="#231f20">77</text>
<rect x="368.00" y="459.75" width="12.80" height="23.09" fill="#d81b8c" />
<text transform="translate(374.40 469.90) scale(0.9000 1)" font-size="8.0" text-anchor="middle" fill="#231f20">23</text>
<rect x="394.00" y="459.75" width="12.80" height="99.90" fill="#d81b8c" />
<text transform="translate(400.40 503.20) scale(0.9000 1)" font-size="8.0" text-anchor="middle" fill="#231f20">100</text>
<text transform="translate(323.00 446.20) scale(1.0260 1)" font-size="8.6" text-anchor="start" fill="#231f20">χ²=185.3</text>
<text transform="translate(369.50 446.20) scale(0.9714 1)" font-size="8.6" text-anchor="start" fill="#231f20"><tspan font-style="italic">P</tspan>&lt;0.0001</text>
<text transform="translate(412.70 462.80) scale(0.9300 1)" font-size="10" text-anchor="start" fill="#231f20"><tspan font-style="italic">DLX1</tspan></text>
<rect x="412.70" y="470.20" width="6.00" height="6.00" fill="#d81b8c" />
<text transform="translate(422.00 475.60) scale(0.9300 1)" font-size="10.3" text-anchor="start" fill="#231f20">Pos</text>
<rect x="412.70" y="481.30" width="6.00" height="6.00" fill="#4f78c4" />
<text transform="translate(422.00 486.70) scale(0.9300 1)" font-size="10.3" text-anchor="start" fill="#231f20">Neg</text>
<text transform="translate(289.50 574.30) scale(0.8526 1)" font-size="10.3" text-anchor="start" fill="#231f20">AR</text>
<text transform="translate(288.60 586.00) scale(0.7840 1)" font-size="10.3" text-anchor="start" fill="#231f20">ERG</text>
<text transform="translate(321.60 573.20) scale(0.9300 1)" font-size="10" text-anchor="middle" fill="#231f20">+</text>
<text transform="translate(321.60 584.90) scale(0.9300 1)" font-size="10" text-anchor="middle" fill="#231f20">+</text>
<text transform="translate(347.80 573.20) scale(0.9300 1)" font-size="10" text-anchor="middle" fill="#231f20">+</text>
<text transform="translate(347.80 584.90) scale(0.9300 1)" font-size="10" text-anchor="middle" fill="#231f20">-</text>
<text transform="translate(373.80 573.20) scale(0.9300 1)" font-size="10" text-anchor="middle" fill="#231f20">-</text>
<text transform="translate(373.80 584.90) scale(0.9300 1)" font-size="10" text-anchor="middle" fill="#231f20">-</text>
<text transform="translate(400.10 573.20) scale(0.9300 1)" font-size="10" text-anchor="middle" fill="#231f20">-</text>
<text transform="translate(400.10 584.90) scale(0.9300 1)" font-size="10" text-anchor="middle" fill="#231f20">+</text>
<text transform="translate(286.00 509.90) rotate(-90) scale(0.9821 1)" font-size="10.3" text-anchor="middle" fill="#231f20">Number of patients (%)</text>
<text transform="translate(275.33 606.10) scale(1.2000 1)" font-size="19.3" text-anchor="start" fill="#000" font-weight="bold">j</text>
<text transform="translate(358.60 623.80) scale(0.9300 1)" font-size="10.3" text-anchor="middle" fill="#231f20">AR</text>
<line x1="304.00" y1="627.60" x2="406.00" y2="627.60" stroke="#231f20" stroke-width="1"/>
<text transform="translate(332.40 636.70) scale(0.9300 1)" font-size="10" text-anchor="middle" fill="#231f20">+</text>
<text transform="translate(384.90 636.50) scale(0.9300 1)" font-size="10" text-anchor="middle" fill="#231f20">-</text>
<rect x="303.20" y="639.30" width="52.50" height="80.00" fill="#d2d6d2" />
<rect x="355.70" y="639.30" width="52.60" height="80.00" fill="#fce4f0" />
<rect x="303.20" y="639.30" width="105.10" height="80.00" fill="none" stroke="#231f20" stroke-width="1" />
<line x1="355.70" y1="639.30" x2="355.70" y2="719.30" stroke="#231f20" stroke-width="1"/>
<line x1="303.20" y1="679.00" x2="408.30" y2="679.00" stroke="#231f20" stroke-width="1"/>
<text transform="translate(332.40 665.60) scale(0.9300 1)" font-size="10.5" text-anchor="middle" fill="#231f20">67%</text>
<text transform="translate(382.00 665.60) scale(0.9300 1)" font-size="10.5" text-anchor="middle" fill="#231f20">29%</text>
<text transform="translate(331.50 704.70) scale(0.9300 1)" font-size="10.5" text-anchor="middle" fill="#231f20">33%</text>
<text transform="translate(384.00 704.70) scale(0.9300 1)" font-size="10.5" text-anchor="middle" fill="#231f20">71%</text>
<line x1="290.90" y1="639.90" x2="290.90" y2="717.30" stroke="#231f20" stroke-width="1"/>
<text transform="translate(296.20 665.50) scale(0.9300 1)" font-size="10" text-anchor="middle" fill="#231f20">+</text>
<text transform="translate(296.20 704.00) scale(0.9300 1)" font-size="10" text-anchor="middle" fill="#231f20">-</text>
<text transform="translate(286.80 678.40) rotate(-90) scale(0.9300 1)" font-size="10" text-anchor="middle" fill="#231f20"><tspan font-style="italic">DLX1</tspan></text>
<text transform="translate(420.30 675.50) rotate(-90) scale(0.9521 1)" font-size="9.5" text-anchor="middle" fill="#231f20">(<tspan font-style="italic">P</tspan>&lt;0.0001)</text>
<text transform="translate(455.80 435.60) scale(0.9800 1)" font-size="19.3" text-anchor="start" fill="#000" font-weight="bold">k</text>
<line x1="487.70" y1="439.70" x2="487.70" y2="559.20" stroke="#231f20" stroke-width="1"/>
<line x1="484.20" y1="558.70" x2="487.70" y2="558.70" stroke="#231f20" stroke-width="1"/>
<text transform="translate(483.00 562.48) scale(0.9300 1)" font-size="10.5" text-anchor="end" fill="#231f20">0</text>
<line x1="484.20" y1="538.95" x2="487.70" y2="538.95" stroke="#231f20" stroke-width="1"/>
<text transform="translate(483.00 542.73) scale(0.9300 1)" font-size="10.5" text-anchor="end" fill="#231f20">20</text>
<line x1="484.20" y1="519.20" x2="487.70" y2="519.20" stroke="#231f20" stroke-width="1"/>
<text transform="translate(483.00 522.98) scale(0.9300 1)" font-size="10.5" text-anchor="end" fill="#231f20">40</text>
<line x1="484.20" y1="499.45" x2="487.70" y2="499.45" stroke="#231f20" stroke-width="1"/>
<text transform="translate(483.00 503.23) scale(0.9300 1)" font-size="10.5" text-anchor="end" fill="#231f20">60</text>
<line x1="484.20" y1="479.70" x2="487.70" y2="479.70" stroke="#231f20" stroke-width="1"/>
<text transform="translate(483.00 483.48) scale(0.9300 1)" font-size="10.5" text-anchor="end" fill="#231f20">80</text>
<line x1="484.20" y1="459.95" x2="487.70" y2="459.95" stroke="#231f20" stroke-width="1"/>
<text transform="translate(483.00 463.73) scale(0.9300 1)" font-size="10.5" text-anchor="end" fill="#231f20">100</text>
<line x1="484.20" y1="440.20" x2="487.70" y2="440.20" stroke="#231f20" stroke-width="1"/>
<text transform="translate(483.00 443.98) scale(0.9300 1)" font-size="10.5" text-anchor="end" fill="#231f20">120</text>
<line x1="487.20" y1="558.70" x2="586.40" y2="558.70" stroke="#231f20" stroke-width="1"/>
<line x1="487.70" y1="558.70" x2="487.70" y2="562.20" stroke="#231f20" stroke-width="1"/>
<line x1="512.60" y1="558.70" x2="512.60" y2="562.20" stroke="#231f20" stroke-width="1"/>
<line x1="537.20" y1="558.70" x2="537.20" y2="562.20" stroke="#231f20" stroke-width="1"/>
<line x1="561.70" y1="558.70" x2="561.70" y2="562.20" stroke="#231f20" stroke-width="1"/>
<line x1="585.90" y1="558.70" x2="585.90" y2="562.20" stroke="#231f20" stroke-width="1"/>
<rect x="494.70" y="496.49" width="12.40" height="62.36" fill="#9a9c97" />
<text transform="translate(500.90 530.47) scale(0.9000 1)" font-size="8.0" text-anchor="middle" fill="#231f20">63</text>
<rect x="494.70" y="471.80" width="12.40" height="24.84" fill="#ebdc3b" />
<text transform="translate(500.90 487.02) scale(0.9000 1)" font-size="8.0" text-anchor="middle" fill="#231f20">25</text>
<rect x="494.70" y="467.85" width="12.40" height="4.10" fill="#98dfd8" />
<text transform="translate(500.90 472.71) scale(0.9000 1)" font-size="8.0" text-anchor="middle" fill="#231f20">4</text>
<rect x="494.70" y="459.95" width="12.40" height="8.05" fill="#d9218d" />
<text transform="translate(500.90 466.78) scale(0.9000 1)" font-size="8.0" text-anchor="middle" fill="#231f20">8</text>
<rect x="519.20" y="526.11" width="12.40" height="32.74" fill="#9a9c97" />
<text transform="translate(525.40 545.29) scale(0.9000 1)" font-size="8.0" text-anchor="middle" fill="#231f20">33</text>
<rect x="519.20" y="498.46" width="12.40" height="27.80" fill="#ebdc3b" />
<text transform="translate(525.40 515.17) scale(0.9000 1)" font-size="8.0" text-anchor="middle" fill="#231f20">28</text>
<rect x="519.20" y="469.83" width="12.40" height="28.79" fill="#98dfd8" />
<text transform="translate(525.40 487.02) scale(0.9000 1)" font-size="8.0" text-anchor="middle" fill="#231f20">29</text>
<rect x="519.20" y="459.95" width="12.40" height="10.03" fill="#d9218d" />
<text transform="translate(525.40 467.77) scale(0.9000 1)" font-size="8.0" text-anchor="middle" fill="#231f20">10</text>
<rect x="543.80" y="518.21" width="12.40" height="40.64" fill="#9a9c97" />
<text transform="translate(550.00 541.34) scale(0.9000 1)" font-size="8.0" text-anchor="middle" fill="#231f20">41</text>
<rect x="543.80" y="500.44" width="12.40" height="17.93" fill="#ebdc3b" />
<text transform="translate(550.00 512.21) scale(0.9000 1)" font-size="8.0" text-anchor="middle" fill="#231f20">18</text>
<rect x="543.80" y="477.23" width="12.40" height="23.36" fill="#98dfd8" />
<text transform="translate(550.00 491.71) scale(0.9000 1)" font-size="8.0" text-anchor="middle" fill="#231f20">24</text>
<rect x="543.80" y="459.95" width="12.40" height="17.43" fill="#d9218d" />
<text transform="translate(550.00 471.47) scale(0.9000 1)" font-size="8.0" text-anchor="middle" fill="#231f20">18</text>
<rect x="568.30" y="525.62" width="12.40" height="33.23" fill="#9a9c97" />
<text transform="translate(574.50 545.04) scale(0.9000 1)" font-size="8.0" text-anchor="middle" fill="#231f20">33</text>
<rect x="568.30" y="509.33" width="12.40" height="16.44" fill="#ebdc3b" />
<text transform="translate(574.50 520.35) scale(0.9000 1)" font-size="8.0" text-anchor="middle" fill="#231f20">17</text>
<rect x="568.30" y="492.54" width="12.40" height="16.94" fill="#98dfd8" />
<text transform="translate(574.50 503.81) scale(0.9000 1)" font-size="8.0" text-anchor="middle" fill="#231f20">17</text>
<rect x="568.30" y="459.95" width="12.40" height="32.74" fill="#d9218d" />
<text transform="translate(574.50 479.12) scale(0.9000 1)" font-size="8.0" text-anchor="middle" fill="#231f20">33</text>
<text transform="translate(498.30 447.00) scale(1.0112 1)" font-size="8.6" text-anchor="start" fill="#231f20">χ²=60.03</text>
<text transform="translate(542.40 447.00) scale(0.9444 1)" font-size="8.6" text-anchor="start" fill="#231f20"><tspan font-style="italic">P</tspan>&lt;0.0001</text>
<text transform="translate(586.90 477.60) scale(0.9300 1)" font-size="10" text-anchor="start" fill="#231f20"><tspan font-style="italic">DLX1</tspan></text>
<rect x="586.90" y="484.90" width="6.20" height="6.20" fill="#d9218d" />
<text transform="translate(595.70 490.50) scale(0.9300 1)" font-size="10.3" text-anchor="start" fill="#231f20">High</text>
<rect x="586.90" y="496.80" width="6.20" height="6.20" fill="#98dfd8" />
<text transform="translate(595.70 502.40) scale(0.9300 1)" font-size="10.3" text-anchor="start" fill="#231f20">Medium</text>
<rect x="586.90" y="508.70" width="6.20" height="6.20" fill="#ebdc3b" />
<text transform="translate(595.70 514.30) scale(0.9300 1)" font-size="10.3" text-anchor="start" fill="#231f20">Low</text>
<rect x="586.90" y="520.60" width="6.20" height="6.20" fill="#9a9c97" />
<text transform="translate(595.70 526.20) scale(0.9300 1)" font-size="10.3" text-anchor="start" fill="#231f20">Negative</text>
<text transform="translate(501.00 571.10) scale(0.9300 1)" font-size="11" text-anchor="middle" fill="#231f20">6</text>
<text transform="translate(525.60 571.10) scale(0.9300 1)" font-size="11" text-anchor="middle" fill="#231f20">7</text>
<text transform="translate(550.10 571.10) scale(0.9300 1)" font-size="11" text-anchor="middle" fill="#231f20">8</text>
<text transform="translate(575.30 571.10) scale(0.9300 1)" font-size="11" text-anchor="middle" fill="#231f20">9</text>
<line x1="494.00" y1="574.40" x2="581.60" y2="574.40" stroke="#231f20" stroke-width="1"/>
<text transform="translate(544.20 583.40) scale(0.9300 1)" font-size="10.3" text-anchor="middle" fill="#231f20">Gleason Score</text>
<text transform="translate(464.70 499.00) rotate(-90) scale(0.9824 1)" font-size="10" text-anchor="middle" fill="#231f20">Number of patients (%)</text>
<text transform="translate(438.85 607.10) scale(1.3000 1)" font-size="19.3" text-anchor="start" fill="#000" font-weight="bold">l</text>
<line x1="491.60" y1="611.40" x2="491.60" y2="729.90" stroke="#231f20" stroke-width="1"/>
<line x1="488.10" y1="729.40" x2="491.60" y2="729.40" stroke="#231f20" stroke-width="1"/>
<text transform="translate(487.40 733.18) scale(0.9300 1)" font-size="10.5" text-anchor="end" fill="#231f20">0</text>
<line x1="488.10" y1="709.80" x2="491.60" y2="709.80" stroke="#231f20" stroke-width="1"/>
<text transform="translate(487.40 713.58) scale(0.9300 1)" font-size="10.5" text-anchor="end" fill="#231f20">20</text>
<line x1="488.10" y1="690.20" x2="491.60" y2="690.20" stroke="#231f20" stroke-width="1"/>
<text transform="translate(487.40 693.98) scale(0.9300 1)" font-size="10.5" text-anchor="end" fill="#231f20">40</text>
<line x1="488.10" y1="670.60" x2="491.60" y2="670.60" stroke="#231f20" stroke-width="1"/>
<text transform="translate(487.40 674.38) scale(0.9300 1)" font-size="10.5" text-anchor="end" fill="#231f20">60</text>
<line x1="488.10" y1="651.00" x2="491.60" y2="651.00" stroke="#231f20" stroke-width="1"/>
<text transform="translate(487.40 654.78) scale(0.9300 1)" font-size="10.5" text-anchor="end" fill="#231f20">80</text>
<line x1="488.10" y1="631.40" x2="491.60" y2="631.40" stroke="#231f20" stroke-width="1"/>
<text transform="translate(487.40 635.18) scale(0.9300 1)" font-size="10.5" text-anchor="end" fill="#231f20">100</text>
<line x1="488.10" y1="611.80" x2="491.60" y2="611.80" stroke="#231f20" stroke-width="1"/>
<text transform="translate(487.40 615.58) scale(0.9300 1)" font-size="10.5" text-anchor="end" fill="#231f20">120</text>
<line x1="491.10" y1="729.40" x2="578.90" y2="729.40" stroke="#231f20" stroke-width="1"/>
<line x1="491.60" y1="729.40" x2="491.60" y2="732.90" stroke="#231f20" stroke-width="1"/>
<line x1="520.40" y1="729.40" x2="520.40" y2="732.90" stroke="#231f20" stroke-width="1"/>
<line x1="549.60" y1="729.40" x2="549.60" y2="732.90" stroke="#231f20" stroke-width="1"/>
<line x1="578.40" y1="729.40" x2="578.40" y2="732.90" stroke="#231f20" stroke-width="1"/>
<rect x="498.50" y="681.38" width="14.60" height="48.17" fill="#9a9c97" />
<text transform="translate(505.80 708.27) scale(0.9000 1)" font-size="8.0" text-anchor="middle" fill="#231f20">49</text>
<rect x="498.50" y="653.94" width="14.60" height="27.59" fill="#ebdc3b" />
<text transform="translate(505.80 670.54) scale(0.9000 1)" font-size="8.0" text-anchor="middle" fill="#231f20">28</text>
<rect x="498.50" y="639.24" width="14.60" height="14.85" fill="#98dfd8" />
<text transform="translate(505.80 649.47) scale(0.9000 1)" font-size="8.0" text-anchor="middle" fill="#231f20">15</text>
<rect x="498.50" y="631.40" width="14.60" height="7.99" fill="#d9218d" />
<text transform="translate(505.80 638.20) scale(0.9000 1)" font-size="8.0" text-anchor="middle" fill="#231f20">8</text>
<rect x="527.70" y="693.14" width="14.60" height="36.41" fill="#9a9c97" />
<text transform="translate(535.00 714.15) scale(0.9000 1)" font-size="8.0" text-anchor="middle" fill="#231f20">37</text>
<rect x="527.70" y="675.50" width="14.60" height="17.79" fill="#ebdc3b" />
<text transform="translate(535.00 687.20) scale(0.9000 1)" font-size="8.0" text-anchor="middle" fill="#231f20">18</text>
<rect x="527.70" y="642.18" width="14.60" height="33.47" fill="#98dfd8" />
<text transform="translate(535.00 661.72) scale(0.9000 1)" font-size="8.0" text-anchor="middle" fill="#231f20">34</text>
<rect x="527.70" y="631.40" width="14.60" height="10.93" fill="#d9218d" />
<text transform="translate(535.00 639.67) scale(0.9000 1)" font-size="8.0" text-anchor="middle" fill="#231f20">11</text>
<rect x="556.50" y="699.02" width="14.60" height="30.53" fill="#9a9c97" />
<text transform="translate(563.80 717.09) scale(0.9000 1)" font-size="8.0" text-anchor="middle" fill="#231f20">31</text>
<rect x="556.50" y="680.40" width="14.60" height="18.77" fill="#ebdc3b" />
<text transform="translate(563.80 692.59) scale(0.9000 1)" font-size="8.0" text-anchor="middle" fill="#231f20">19</text>
<rect x="556.50" y="650.02" width="14.60" height="30.53" fill="#98dfd8" />
<text transform="translate(563.80 668.09) scale(0.9000 1)" font-size="8.0" text-anchor="middle" fill="#231f20">31</text>
<rect x="556.50" y="631.40" width="14.60" height="18.77" fill="#d9218d" />
<text transform="translate(563.80 643.59) scale(0.9000 1)" font-size="8.0" text-anchor="middle" fill="#231f20">19</text>
<text transform="translate(498.90 617.00) scale(1.0201 1)" font-size="8.6" text-anchor="start" fill="#231f20">χ²=19.05</text>
<text transform="translate(543.00 617.00) scale(0.9552 1)" font-size="8.6" text-anchor="start" fill="#231f20"><tspan font-style="italic">P</tspan>=0.0041</text>
<text transform="translate(579.90 648.60) scale(0.9300 1)" font-size="10" text-anchor="start" fill="#231f20"><tspan font-style="italic">DLX1</tspan></text>
<rect x="579.90" y="656.00" width="6.00" height="6.00" fill="#d9218d" />
<text transform="translate(589.00 661.40) scale(0.9300 1)" font-size="10.3" text-anchor="start" fill="#231f20">High</text>
<rect x="579.90" y="667.55" width="6.00" height="6.00" fill="#98dfd8" />
<text transform="translate(589.00 672.95) scale(0.9300 1)" font-size="10.3" text-anchor="start" fill="#231f20">Medium</text>
<rect x="579.90" y="679.10" width="6.00" height="6.00" fill="#ebdc3b" />
<text transform="translate(589.00 684.50) scale(0.9300 1)" font-size="10.3" text-anchor="start" fill="#231f20">Low</text>
<rect x="579.90" y="690.65" width="6.00" height="6.00" fill="#9a9c97" />
<text transform="translate(589.00 696.05) scale(0.9300 1)" font-size="10.3" text-anchor="start" fill="#231f20">Negative</text>
<text transform="translate(506.90 740.90) scale(0.9300 1)" font-size="10.8" text-anchor="middle" fill="#231f20">pT2c</text>
<text transform="translate(535.70 740.90) scale(0.9300 1)" font-size="10.8" text-anchor="middle" fill="#231f20">pT3a</text>
<text transform="translate(565.30 740.90) scale(0.9300 1)" font-size="10.8" text-anchor="middle" fill="#231f20">pT3b</text>
<text transform="translate(470.50 668.00) rotate(-90) scale(0.9915 1)" font-size="10.3" text-anchor="middle" fill="#231f20">Number of patients (%)</text>
<text transform="translate(502.60 837.80) scale(1.0400 1)" font-size="19.3" text-anchor="start" fill="#000" font-weight="bold">p</text>
<line x1="531.10" y1="860.30" x2="531.10" y2="971.70" stroke="#231f20" stroke-width="1"/>
<text transform="translate(525.50 973.40) scale(0.9300 1)" font-size="10.3" text-anchor="end" fill="#231f20">0</text>
<text transform="translate(525.50 957.60) scale(0.9300 1)" font-size="10.3" text-anchor="end" fill="#231f20">10</text>
<text transform="translate(525.50 941.80) scale(0.9300 1)" font-size="10.3" text-anchor="end" fill="#231f20">20</text>
<text transform="translate(525.50 926.00) scale(0.9300 1)" font-size="10.3" text-anchor="end" fill="#231f20">30</text>
<text transform="translate(525.50 910.20) scale(0.9300 1)" font-size="10.3" text-anchor="end" fill="#231f20">40</text>
<text transform="translate(525.50 894.40) scale(0.9300 1)" font-size="10.3" text-anchor="end" fill="#231f20">50</text>
<text transform="translate(525.50 878.60) scale(0.9300 1)" font-size="10.3" text-anchor="end" fill="#231f20">60</text>
<text transform="translate(525.50 862.80) scale(0.9300 1)" font-size="10.3" text-anchor="end" fill="#231f20">70</text>
<line x1="530.60" y1="971.20" x2="615.30" y2="971.20" stroke="#231f20" stroke-width="1"/>
<line x1="531.10" y1="971.20" x2="531.10" y2="974.40" stroke="#231f20" stroke-width="1"/>
<line x1="573.20" y1="971.20" x2="573.20" y2="974.40" stroke="#231f20" stroke-width="1"/>
<line x1="614.80" y1="971.20" x2="614.80" y2="974.40" stroke="#231f20" stroke-width="1"/>
<rect x="543.25" y="914.97" width="17.90" height="56.38" fill="#7f7f7f" />
<text transform="translate(552.20 946.07) scale(0.9000 1)" font-size="8.3" text-anchor="middle" fill="#231f20">36</text>
<rect x="585.25" y="938.44" width="17.90" height="32.91" fill="#4f58b8" />
<text transform="translate(594.20 957.81) scale(0.9000 1)" font-size="8.3" text-anchor="middle" fill="#231f20">21</text>
<rect x="585.25" y="912.45" width="17.90" height="26.14" fill="#ed7d31" />
<text transform="translate(594.20 928.43) scale(0.9000 1)" font-size="8.3" text-anchor="middle" fill="#231f20">17</text>
<rect x="585.25" y="904.89" width="17.90" height="7.71" fill="#a8a8a8" />
<text transform="translate(594.20 911.66) scale(0.9000 1)" font-size="8.3" text-anchor="middle" fill="#231f20">5</text>
<rect x="585.25" y="885.21" width="17.90" height="19.84" fill="#ffc000" />
<text transform="translate(594.20 898.04) scale(0.9000 1)" font-size="8.3" text-anchor="middle" fill="#231f20">12</text>
<rect x="585.25" y="869.93" width="17.90" height="15.43" fill="#9fe0dc" />
<text transform="translate(594.20 880.55) scale(0.9000 1)" font-size="8.3" text-anchor="middle" fill="#231f20">10</text>
<text transform="translate(536.60 857.00) scale(1.0024 1)" font-size="8.6" text-anchor="start" fill="#231f20">χ²=77.83</text>
<text transform="translate(579.00 857.00) scale(0.9660 1)" font-size="8.6" text-anchor="start" fill="#231f20"><tspan font-style="italic">P</tspan>&lt;0.0001</text>
<rect x="618.40" y="868.80" width="6.10" height="6.10" fill="#4f58b8" />
<text transform="translate(627.30 874.30) scale(0.9300 1)" font-size="10.3" text-anchor="start" fill="#231f20">Bone</text>
<rect x="618.40" y="880.73" width="6.10" height="6.10" fill="#ed7d31" />
<text transform="translate(627.30 886.23) scale(0.9300 1)" font-size="10.3" text-anchor="start" fill="#231f20">Liver</text>
<rect x="618.40" y="892.66" width="6.10" height="6.10" fill="#a8a8a8" />
<text transform="translate(627.30 898.16) scale(0.9300 1)" font-size="10.3" text-anchor="start" fill="#231f20">Lung</text>
<rect x="618.40" y="904.59" width="6.10" height="6.10" fill="#ffc000" />
<text transform="translate(627.30 910.09) scale(0.9300 1)" font-size="10.3" text-anchor="start" fill="#231f20">Lymph Node</text>
<rect x="618.40" y="916.52" width="6.10" height="6.10" fill="#9fe0dc" />
<text transform="translate(627.30 922.02) scale(0.9300 1)" font-size="10.3" text-anchor="start" fill="#231f20">Others</text>
<text transform="translate(552.40 984.70) scale(0.9300 1)" font-size="10.3" text-anchor="middle" fill="#231f20"><tspan font-style="italic">DLX1-</tspan></text>
<text transform="translate(551.40 996.90) scale(0.9300 1)" font-size="10.3" text-anchor="middle" fill="#231f20">(n=43)</text>
<text transform="translate(598.20 984.70) scale(0.9300 1)" font-size="10.3" text-anchor="middle" fill="#231f20"><tspan font-style="italic">DLX1+</tspan></text>
<text transform="translate(598.20 996.90) scale(0.9300 1)" font-size="10.3" text-anchor="middle" fill="#231f20">(n=78)</text>
<text transform="translate(510.20 910.20) rotate(-90) scale(1.0239 1)" font-size="10.3" text-anchor="middle" fill="#231f20">Metastatic sites (%)</text>
<text transform="translate(1.86 771.00) scale(1.0400 1)" font-size="19.3" text-anchor="start" fill="#000" font-weight="bold">m</text>
<text transform="translate(26.30 778.60) scale(0.9428 1)" font-size="9.8" text-anchor="start" fill="#231f20"><tspan font-style="italic">TMPRSS2-ERG</tspan> positive (n=106)</text>
<text transform="translate(25.70 901.30) scale(0.9455 1)" font-size="9.8" text-anchor="start" fill="#231f20"><tspan font-style="italic">TMPRSS2-ERG</tspan> negative (n=164)</text>
<line x1="11.60" y1="791.80" x2="11.60" y2="996.70" stroke="#231f20" stroke-width="1"/>
<text transform="translate(8.40 894.30) rotate(-90) scale(0.9225 1)" font-size="10.3" text-anchor="middle" fill="#231f20">SU2C (n=270)</text>
<circle cx="118.3" cy="804.4" r="1.3" fill="#c4921a"/>
<circle cx="134.7" cy="808.6" r="1.3" fill="#c4921a"/>
<circle cx="117.5" cy="806.5" r="1.3" fill="#c4921a"/>
<circle cx="130.9" cy="801.1" r="1.3" fill="#c4921a"/>
<circle cx="118.4" cy="812.2" r="1.3" fill="#c4921a"/>
<circle cx="132.6" cy="804.0" r="1.3" fill="#c4921a"/>
<circle cx="138.7" cy="801.6" r="1.3" fill="#c4921a"/>
<circle cx="126.6" cy="807.5" r="1.3" fill="#c4921a"/>
<circle cx="142.9" cy="807.5" r="1.3" fill="#c4921a"/>
<circle cx="121.5" cy="811.5" r="1.3" fill="#c4921a"/>
<circle cx="128.0" cy="805.5" r="1.3" fill="#c4921a"/>
<circle cx="124.8" cy="806.5" r="1.3" fill="#c4921a"/>
<circle cx="129.4" cy="803.0" r="1.3" fill="#c4921a"/>
<circle cx="135.4" cy="805.2" r="1.3" fill="#c4921a"/>
<circle cx="114.1" cy="802.9" r="1.3" fill="#c4921a"/>
<circle cx="116.8" cy="807.0" r="1.3" fill="#c4921a"/>
<circle cx="116.4" cy="806.2" r="1.3" fill="#c4921a"/>
<circle cx="121.6" cy="805.2" r="1.3" fill="#c4921a"/>
<circle cx="142.9" cy="806.4" r="1.3" fill="#c4921a"/>
<circle cx="133.6" cy="812.3" r="1.3" fill="#c4921a"/>
<circle cx="125.2" cy="803.1" r="1.3" fill="#c4921a"/>
<circle cx="126.7" cy="804.5" r="1.3" fill="#c4921a"/>
<circle cx="128.1" cy="810.8" r="1.3" fill="#c4921a"/>
<circle cx="131.5" cy="809.9" r="1.3" fill="#c4921a"/>
<circle cx="141.2" cy="808.5" r="1.3" fill="#c4921a"/>
<circle cx="132.4" cy="806.2" r="1.3" fill="#c4921a"/>
<circle cx="134.4" cy="809.0" r="1.3" fill="#c4921a"/>
<circle cx="134.7" cy="806.8" r="1.3" fill="#c4921a"/>
<circle cx="136.7" cy="803.3" r="1.3" fill="#c4921a"/>
<circle cx="128.4" cy="809.8" r="1.3" fill="#c4921a"/>
<circle cx="133.0" cy="804.0" r="1.3" fill="#c4921a"/>
<circle cx="139.5" cy="807.9" r="1.3" fill="#c4921a"/>
<circle cx="131.4" cy="803.8" r="1.3" fill="#c4921a"/>
<circle cx="129.4" cy="805.2" r="1.3" fill="#c4921a"/>
<circle cx="128.7" cy="809.0" r="1.3" fill="#c4921a"/>
<circle cx="119.8" cy="808.0" r="1.3" fill="#c4921a"/>
<circle cx="131.7" cy="799.2" r="1.3" fill="#c4921a"/>
<circle cx="134.6" cy="801.3" r="1.3" fill="#c4921a"/>
<circle cx="133.1" cy="803.0" r="1.3" fill="#c4921a"/>
<circle cx="128.7" cy="802.6" r="1.3" fill="#c4921a"/>
<circle cx="140.4" cy="807.7" r="1.3" fill="#c4921a"/>
<circle cx="122.2" cy="797.1" r="1.3" fill="#c4921a"/>
<circle cx="129.1" cy="801.7" r="1.3" fill="#c4921a"/>
<circle cx="133.8" cy="811.4" r="1.3" fill="#c4921a"/>
<circle cx="142.9" cy="798.0" r="1.3" fill="#c4921a"/>
<circle cx="128.6" cy="802.7" r="1.3" fill="#c4921a"/>
<circle cx="128.3" cy="810.3" r="1.3" fill="#c4921a"/>
<circle cx="126.5" cy="804.5" r="1.3" fill="#c4921a"/>
<circle cx="135.6" cy="802.9" r="1.3" fill="#c4921a"/>
<circle cx="127.8" cy="799.9" r="1.3" fill="#c4921a"/>
<circle cx="121.7" cy="802.5" r="1.3" fill="#c4921a"/>
<circle cx="135.6" cy="807.5" r="1.3" fill="#c4921a"/>
<circle cx="114.1" cy="810.4" r="1.3" fill="#c4921a"/>
<circle cx="129.1" cy="803.7" r="1.3" fill="#c4921a"/>
<circle cx="138.8" cy="810.8" r="1.3" fill="#c4921a"/>
<circle cx="127.4" cy="803.2" r="1.3" fill="#c4921a"/>
<circle cx="126.2" cy="817.2" r="1.3" fill="#c4921a"/>
<circle cx="133.3" cy="795.5" r="1.3" fill="#c4921a"/>
<circle cx="134.8" cy="810.4" r="1.3" fill="#c4921a"/>
<circle cx="124.3" cy="805.2" r="1.3" fill="#c4921a"/>
<circle cx="142.9" cy="803.3" r="1.3" fill="#c4921a"/>
<circle cx="128.2" cy="799.0" r="1.3" fill="#c4921a"/>
<circle cx="126.7" cy="797.6" r="1.3" fill="#c4921a"/>
<circle cx="122.3" cy="808.4" r="1.3" fill="#c4921a"/>
<circle cx="132.7" cy="799.6" r="1.3" fill="#c4921a"/>
<circle cx="132.2" cy="804.8" r="1.3" fill="#c4921a"/>
<circle cx="113.9" cy="809.5" r="1.3" fill="#c4921a"/>
<circle cx="122.8" cy="808.7" r="1.3" fill="#c4921a"/>
<circle cx="131.7" cy="807.7" r="1.3" fill="#c4921a"/>
<circle cx="133.2" cy="805.8" r="1.3" fill="#c4921a"/>
<circle cx="124.9" cy="805.6" r="1.3" fill="#c4921a"/>
<circle cx="130.5" cy="802.2" r="1.3" fill="#c4921a"/>
<circle cx="123.8" cy="807.3" r="1.3" fill="#c4921a"/>
<circle cx="117.3" cy="798.8" r="1.3" fill="#c4921a"/>
<circle cx="138.1" cy="807.0" r="1.3" fill="#c4921a"/>
<circle cx="123.8" cy="811.9" r="1.3" fill="#c4921a"/>
<circle cx="128.6" cy="805.2" r="1.3" fill="#c4921a"/>
<circle cx="142.9" cy="805.0" r="1.3" fill="#c4921a"/>
<circle cx="121.6" cy="817.5" r="1.3" fill="#c4921a"/>
<circle cx="137.8" cy="805.3" r="1.3" fill="#c4921a"/>
<circle cx="109.2" cy="812.7" r="1.3" fill="#c4921a"/>
<circle cx="120.7" cy="816.0" r="1.3" fill="#c4921a"/>
<circle cx="100.2" cy="818.9" r="1.3" fill="#c4921a"/>
<circle cx="118.5" cy="814.2" r="1.3" fill="#c4921a"/>
<circle cx="114.9" cy="814.4" r="1.3" fill="#c4921a"/>
<circle cx="118.8" cy="819.5" r="1.3" fill="#c4921a"/>
<circle cx="106.3" cy="815.9" r="1.3" fill="#c4921a"/>
<circle cx="117.8" cy="820.7" r="1.3" fill="#c4921a"/>
<circle cx="107.8" cy="810.1" r="1.3" fill="#c4921a"/>
<circle cx="111.2" cy="820.5" r="1.3" fill="#c4921a"/>
<circle cx="112.4" cy="816.4" r="1.3" fill="#c4921a"/>
<circle cx="112.0" cy="808.4" r="1.3" fill="#c4921a"/>
<circle cx="100.3" cy="820.9" r="1.3" fill="#c4921a"/>
<circle cx="118.0" cy="822.6" r="1.3" fill="#c4921a"/>
<circle cx="52.0" cy="813.0" r="1.3" fill="#c4921a"/>
<circle cx="71.9" cy="822.6" r="1.3" fill="#c4921a"/>
<circle cx="79.3" cy="819.4" r="1.3" fill="#c4921a"/>
<circle cx="85.2" cy="813.0" r="1.3" fill="#c4921a"/>
<circle cx="94.1" cy="815.8" r="1.3" fill="#c4921a"/>
<circle cx="88.9" cy="830.4" r="1.3" fill="#c4921a"/>
<circle cx="86.0" cy="834.7" r="1.3" fill="#c4921a"/>
<circle cx="93.3" cy="834.7" r="1.3" fill="#c4921a"/>
<circle cx="102.2" cy="848.2" r="1.3" fill="#c4921a"/>
<circle cx="111.8" cy="852.5" r="1.3" fill="#c4921a"/>
<circle cx="128.1" cy="823.6" r="1.3" fill="#c4921a"/>
<circle cx="120.7" cy="818.3" r="1.3" fill="#c4921a"/>
<circle cx="115.5" cy="821.1" r="1.3" fill="#c4921a"/>
<line x1="52.50" y1="829.40" x2="144.00" y2="803.10" stroke="#111" stroke-width="1.1"/>
<rect x="39.40" y="784.70" width="110.90" height="77.00" fill="none" stroke="#231f20" stroke-width="1" />
<line x1="36.90" y1="790.88" x2="39.40" y2="790.88" stroke="#231f20" stroke-width="1"/>
<text transform="translate(36.30 794.48) scale(0.9300 1)" font-size="10" text-anchor="end" fill="#231f20">12</text>
<line x1="36.90" y1="805.12" x2="39.40" y2="805.12" stroke="#231f20" stroke-width="1"/>
<text transform="translate(36.30 808.72) scale(0.9300 1)" font-size="10" text-anchor="end" fill="#231f20">8</text>
<line x1="36.90" y1="819.36" x2="39.40" y2="819.36" stroke="#231f20" stroke-width="1"/>
<text transform="translate(36.30 822.96) scale(0.9300 1)" font-size="10" text-anchor="end" fill="#231f20">4</text>
<line x1="36.90" y1="833.60" x2="39.40" y2="833.60" stroke="#231f20" stroke-width="1"/>
<text transform="translate(36.30 837.20) scale(0.9300 1)" font-size="10" text-anchor="end" fill="#231f20">0</text>
<line x1="36.90" y1="847.84" x2="39.40" y2="847.84" stroke="#231f20" stroke-width="1"/>
<text transform="translate(36.30 851.44) scale(0.9300 1)" font-size="10" text-anchor="end" fill="#231f20">-4</text>
<line x1="36.90" y1="862.08" x2="39.40" y2="862.08" stroke="#231f20" stroke-width="1"/>
<text transform="translate(36.30 865.68) scale(0.9300 1)" font-size="10" text-anchor="end" fill="#231f20">-8</text>
<line x1="39.40" y1="861.70" x2="39.40" y2="864.20" stroke="#231f20" stroke-width="1"/>
<text transform="translate(40.20 873.40) scale(0.9300 1)" font-size="10" text-anchor="middle" fill="#231f20">-8</text>
<line x1="76.35" y1="861.70" x2="76.35" y2="864.20" stroke="#231f20" stroke-width="1"/>
<text transform="translate(77.15 873.40) scale(0.9300 1)" font-size="10" text-anchor="middle" fill="#231f20">-3</text>
<line x1="113.30" y1="861.70" x2="113.30" y2="864.20" stroke="#231f20" stroke-width="1"/>
<text transform="translate(113.80 873.40) scale(0.9300 1)" font-size="10" text-anchor="middle" fill="#231f20">2</text>
<line x1="150.25" y1="861.70" x2="150.25" y2="864.20" stroke="#231f20" stroke-width="1"/>
<text transform="translate(150.75 873.40) scale(0.9300 1)" font-size="10" text-anchor="middle" fill="#231f20">7</text>
<text transform="translate(48.60 794.60) scale(0.9300 1)" font-size="8.6" text-anchor="start" fill="#231f20">r=0.48</text>
<text transform="translate(48.60 805.90) scale(0.9444 1)" font-size="8.6" text-anchor="start" fill="#231f20"><tspan font-style="italic">P</tspan>&lt;0.0001</text>
<text transform="translate(97.70 883.90) scale(0.9365 1)" font-size="10" text-anchor="middle" fill="#231f20"><tspan font-style="italic">DLX1</tspan>(log<tspan font-size="6.20" dy="1.60">2</tspan><tspan dy="-1.60"> FPKM)</tspan></text>
<text transform="translate(24.30 822.80) rotate(-90) scale(0.9338 1)" font-size="10" text-anchor="middle" fill="#231f20"><tspan font-style="italic">AR</tspan> (log<tspan font-size="6.20" dy="1.60">2</tspan><tspan dy="-1.60"> FPKM)</tspan></text>
<circle cx="114.0" cy="934.2" r="1.25" fill="#58982a"/>
<circle cx="114.0" cy="935.2" r="1.25" fill="#58982a"/>
<circle cx="107.6" cy="928.9" r="1.25" fill="#58982a"/>
<circle cx="120.1" cy="928.5" r="1.25" fill="#58982a"/>
<circle cx="119.7" cy="930.3" r="1.25" fill="#58982a"/>
<circle cx="111.7" cy="930.8" r="1.25" fill="#58982a"/>
<circle cx="113.1" cy="934.6" r="1.25" fill="#58982a"/>
<circle cx="107.9" cy="935.7" r="1.25" fill="#58982a"/>
<circle cx="114.5" cy="930.6" r="1.25" fill="#58982a"/>
<circle cx="112.7" cy="926.6" r="1.25" fill="#58982a"/>
<circle cx="115.2" cy="929.3" r="1.25" fill="#58982a"/>
<circle cx="119.2" cy="933.7" r="1.25" fill="#58982a"/>
<circle cx="106.9" cy="928.7" r="1.25" fill="#58982a"/>
<circle cx="111.8" cy="927.0" r="1.25" fill="#58982a"/>
<circle cx="115.8" cy="927.9" r="1.25" fill="#58982a"/>
<circle cx="117.5" cy="937.6" r="1.25" fill="#58982a"/>
<circle cx="117.3" cy="933.2" r="1.25" fill="#58982a"/>
<circle cx="111.6" cy="932.5" r="1.25" fill="#58982a"/>
<circle cx="117.5" cy="928.3" r="1.25" fill="#58982a"/>
<circle cx="118.4" cy="936.3" r="1.25" fill="#58982a"/>
<circle cx="112.2" cy="938.5" r="1.25" fill="#58982a"/>
<circle cx="114.1" cy="929.2" r="1.25" fill="#58982a"/>
<circle cx="111.5" cy="930.3" r="1.25" fill="#58982a"/>
<circle cx="115.4" cy="927.9" r="1.25" fill="#58982a"/>
<circle cx="111.3" cy="933.7" r="1.25" fill="#58982a"/>
<circle cx="111.5" cy="925.6" r="1.25" fill="#58982a"/>
<circle cx="118.7" cy="931.5" r="1.25" fill="#58982a"/>
<circle cx="115.4" cy="930.7" r="1.25" fill="#58982a"/>
<circle cx="115.3" cy="931.8" r="1.25" fill="#58982a"/>
<circle cx="113.2" cy="935.0" r="1.25" fill="#58982a"/>
<circle cx="112.0" cy="925.9" r="1.25" fill="#58982a"/>
<circle cx="116.6" cy="930.9" r="1.25" fill="#58982a"/>
<circle cx="113.7" cy="930.9" r="1.25" fill="#58982a"/>
<circle cx="115.9" cy="933.1" r="1.25" fill="#58982a"/>
<circle cx="115.3" cy="930.3" r="1.25" fill="#58982a"/>
<circle cx="111.6" cy="933.6" r="1.25" fill="#58982a"/>
<circle cx="110.6" cy="934.4" r="1.25" fill="#58982a"/>
<circle cx="118.0" cy="938.5" r="1.25" fill="#58982a"/>
<circle cx="113.5" cy="933.0" r="1.25" fill="#58982a"/>
<circle cx="112.1" cy="930.8" r="1.25" fill="#58982a"/>
<circle cx="118.9" cy="930.9" r="1.25" fill="#58982a"/>
<circle cx="114.0" cy="933.0" r="1.25" fill="#58982a"/>
<circle cx="114.0" cy="928.2" r="1.25" fill="#58982a"/>
<circle cx="113.0" cy="934.7" r="1.25" fill="#58982a"/>
<circle cx="109.6" cy="934.6" r="1.25" fill="#58982a"/>
<circle cx="109.1" cy="927.7" r="1.25" fill="#58982a"/>
<circle cx="115.9" cy="931.8" r="1.25" fill="#58982a"/>
<circle cx="120.2" cy="933.2" r="1.25" fill="#58982a"/>
<circle cx="117.4" cy="928.6" r="1.25" fill="#58982a"/>
<circle cx="108.5" cy="936.0" r="1.25" fill="#58982a"/>
<circle cx="110.9" cy="928.3" r="1.25" fill="#58982a"/>
<circle cx="119.5" cy="934.9" r="1.25" fill="#58982a"/>
<circle cx="118.6" cy="932.3" r="1.25" fill="#58982a"/>
<circle cx="113.0" cy="932.8" r="1.25" fill="#58982a"/>
<circle cx="113.2" cy="936.8" r="1.25" fill="#58982a"/>
<circle cx="110.6" cy="935.0" r="1.25" fill="#58982a"/>
<circle cx="116.4" cy="924.6" r="1.25" fill="#58982a"/>
<circle cx="125.1" cy="932.2" r="1.25" fill="#58982a"/>
<circle cx="107.8" cy="932.4" r="1.25" fill="#58982a"/>
<circle cx="110.9" cy="924.9" r="1.25" fill="#58982a"/>
<circle cx="117.6" cy="935.4" r="1.25" fill="#58982a"/>
<circle cx="94.6" cy="936.4" r="1.25" fill="#58982a"/>
<circle cx="100.7" cy="936.4" r="1.25" fill="#58982a"/>
<circle cx="71.7" cy="947.7" r="1.25" fill="#58982a"/>
<circle cx="115.0" cy="926.3" r="1.25" fill="#58982a"/>
<circle cx="79.7" cy="937.1" r="1.25" fill="#58982a"/>
<circle cx="88.7" cy="938.4" r="1.25" fill="#58982a"/>
<circle cx="78.4" cy="943.5" r="1.25" fill="#58982a"/>
<circle cx="98.8" cy="938.9" r="1.25" fill="#58982a"/>
<circle cx="108.4" cy="945.2" r="1.25" fill="#58982a"/>
<circle cx="122.6" cy="945.5" r="1.25" fill="#58982a"/>
<circle cx="74.9" cy="940.8" r="1.25" fill="#58982a"/>
<circle cx="82.4" cy="944.2" r="1.25" fill="#58982a"/>
<circle cx="110.6" cy="936.1" r="1.25" fill="#58982a"/>
<circle cx="105.6" cy="945.8" r="1.25" fill="#58982a"/>
<circle cx="101.2" cy="938.3" r="1.25" fill="#58982a"/>
<circle cx="87.4" cy="946.4" r="1.25" fill="#58982a"/>
<circle cx="120.1" cy="927.2" r="1.25" fill="#58982a"/>
<circle cx="81.7" cy="932.5" r="1.25" fill="#58982a"/>
<circle cx="99.2" cy="947.9" r="1.25" fill="#58982a"/>
<circle cx="101.9" cy="934.9" r="1.25" fill="#58982a"/>
<circle cx="98.0" cy="931.6" r="1.25" fill="#58982a"/>
<circle cx="103.7" cy="923.5" r="1.25" fill="#58982a"/>
<circle cx="98.8" cy="935.1" r="1.25" fill="#58982a"/>
<circle cx="92.4" cy="936.4" r="1.25" fill="#58982a"/>
<circle cx="97.4" cy="943.7" r="1.25" fill="#58982a"/>
<circle cx="108.5" cy="930.0" r="1.25" fill="#58982a"/>
<circle cx="93.1" cy="935.8" r="1.25" fill="#58982a"/>
<circle cx="123.2" cy="929.7" r="1.25" fill="#58982a"/>
<circle cx="96.4" cy="939.6" r="1.25" fill="#58982a"/>
<circle cx="77.2" cy="949.4" r="1.25" fill="#58982a"/>
<circle cx="120.1" cy="930.0" r="1.25" fill="#58982a"/>
<circle cx="96.6" cy="939.1" r="1.25" fill="#58982a"/>
<circle cx="104.4" cy="933.4" r="1.25" fill="#58982a"/>
<circle cx="121.5" cy="927.5" r="1.25" fill="#58982a"/>
<circle cx="71.4" cy="935.7" r="1.25" fill="#58982a"/>
<circle cx="80.9" cy="939.3" r="1.25" fill="#58982a"/>
<circle cx="88.0" cy="931.6" r="1.25" fill="#58982a"/>
<circle cx="89.9" cy="940.6" r="1.25" fill="#58982a"/>
<circle cx="110.7" cy="937.0" r="1.25" fill="#58982a"/>
<circle cx="77.0" cy="944.9" r="1.25" fill="#58982a"/>
<circle cx="81.1" cy="940.6" r="1.25" fill="#58982a"/>
<circle cx="99.6" cy="941.7" r="1.25" fill="#58982a"/>
<circle cx="93.1" cy="936.4" r="1.25" fill="#58982a"/>
<circle cx="99.5" cy="935.4" r="1.25" fill="#58982a"/>
<circle cx="104.4" cy="950.0" r="1.25" fill="#58982a"/>
<circle cx="99.4" cy="945.7" r="1.25" fill="#58982a"/>
<circle cx="103.4" cy="945.6" r="1.25" fill="#58982a"/>
<circle cx="84.5" cy="948.0" r="1.25" fill="#58982a"/>
<circle cx="113.4" cy="944.7" r="1.25" fill="#58982a"/>
<circle cx="88.7" cy="956.6" r="1.25" fill="#58982a"/>
<circle cx="119.0" cy="958.6" r="1.25" fill="#58982a"/>
<circle cx="122.7" cy="945.0" r="1.25" fill="#58982a"/>
<circle cx="79.6" cy="958.2" r="1.25" fill="#58982a"/>
<circle cx="109.2" cy="957.7" r="1.25" fill="#58982a"/>
<circle cx="77.8" cy="946.1" r="1.25" fill="#58982a"/>
<circle cx="94.0" cy="947.0" r="1.25" fill="#58982a"/>
<circle cx="79.2" cy="954.8" r="1.25" fill="#58982a"/>
<circle cx="107.1" cy="962.7" r="1.25" fill="#58982a"/>
<circle cx="82.9" cy="949.1" r="1.25" fill="#58982a"/>
<circle cx="118.4" cy="943.3" r="1.25" fill="#58982a"/>
<circle cx="78.7" cy="952.7" r="1.25" fill="#58982a"/>
<circle cx="110.8" cy="952.8" r="1.25" fill="#58982a"/>
<circle cx="107.1" cy="959.2" r="1.25" fill="#58982a"/>
<circle cx="76.4" cy="960.9" r="1.25" fill="#58982a"/>
<circle cx="74.8" cy="951.8" r="1.25" fill="#58982a"/>
<circle cx="98.6" cy="951.5" r="1.25" fill="#58982a"/>
<circle cx="80.2" cy="959.3" r="1.25" fill="#58982a"/>
<circle cx="83.1" cy="945.9" r="1.25" fill="#58982a"/>
<circle cx="122.3" cy="944.2" r="1.25" fill="#58982a"/>
<circle cx="54.6" cy="952.1" r="1.25" fill="#58982a"/>
<circle cx="57.4" cy="949.3" r="1.25" fill="#58982a"/>
<circle cx="73.5" cy="969.3" r="1.25" fill="#58982a"/>
<circle cx="83.5" cy="968.3" r="1.25" fill="#58982a"/>
<circle cx="95.1" cy="967.4" r="1.25" fill="#58982a"/>
<circle cx="105.1" cy="966.8" r="1.25" fill="#58982a"/>
<circle cx="110.6" cy="962.1" r="1.25" fill="#58982a"/>
<circle cx="120.6" cy="957.7" r="1.25" fill="#58982a"/>
<circle cx="133.9" cy="967.4" r="1.25" fill="#58982a"/>
<circle cx="131.1" cy="923.3" r="1.25" fill="#58982a"/>
<circle cx="127.3" cy="932.4" r="1.25" fill="#58982a"/>
<line x1="54.40" y1="950.70" x2="134.50" y2="930.20" stroke="#111" stroke-width="1.1"/>
<rect x="39.40" y="907.90" width="110.90" height="78.30" fill="none" stroke="#231f20" stroke-width="1" />
<line x1="36.90" y1="908.25" x2="39.40" y2="908.25" stroke="#231f20" stroke-width="1"/>
<text transform="translate(36.30 911.85) scale(0.9300 1)" font-size="10" text-anchor="end" fill="#231f20">15</text>
<line x1="36.90" y1="923.90" x2="39.40" y2="923.90" stroke="#231f20" stroke-width="1"/>
<text transform="translate(36.30 927.50) scale(0.9300 1)" font-size="10" text-anchor="end" fill="#231f20">10</text>
<line x1="36.90" y1="939.55" x2="39.40" y2="939.55" stroke="#231f20" stroke-width="1"/>
<text transform="translate(36.30 943.15) scale(0.9300 1)" font-size="10" text-anchor="end" fill="#231f20">5</text>
<line x1="36.90" y1="955.20" x2="39.40" y2="955.20" stroke="#231f20" stroke-width="1"/>
<text transform="translate(36.30 958.80) scale(0.9300 1)" font-size="10" text-anchor="end" fill="#231f20">0</text>
<line x1="36.90" y1="970.85" x2="39.40" y2="970.85" stroke="#231f20" stroke-width="1"/>
<text transform="translate(36.30 974.45) scale(0.9300 1)" font-size="10" text-anchor="end" fill="#231f20">-5</text>
<line x1="36.90" y1="986.50" x2="39.40" y2="986.50" stroke="#231f20" stroke-width="1"/>
<text transform="translate(36.30 990.10) scale(0.9300 1)" font-size="10" text-anchor="end" fill="#231f20">-10</text>
<line x1="39.65" y1="986.20" x2="39.65" y2="988.70" stroke="#231f20" stroke-width="1"/>
<text transform="translate(37.65 997.40) scale(0.9300 1)" font-size="10" text-anchor="middle" fill="#231f20">-10</text>
<line x1="67.38" y1="986.20" x2="67.38" y2="988.70" stroke="#231f20" stroke-width="1"/>
<text transform="translate(67.88 997.40) scale(0.9300 1)" font-size="10" text-anchor="middle" fill="#231f20">-5</text>
<line x1="95.10" y1="986.20" x2="95.10" y2="988.70" stroke="#231f20" stroke-width="1"/>
<text transform="translate(95.60 997.40) scale(0.9300 1)" font-size="10" text-anchor="middle" fill="#231f20">0</text>
<line x1="122.82" y1="986.20" x2="122.82" y2="988.70" stroke="#231f20" stroke-width="1"/>
<text transform="translate(123.32 997.40) scale(0.9300 1)" font-size="10" text-anchor="middle" fill="#231f20">5</text>
<line x1="150.55" y1="986.20" x2="150.55" y2="988.70" stroke="#231f20" stroke-width="1"/>
<text transform="translate(151.05 997.40) scale(0.9300 1)" font-size="10" text-anchor="middle" fill="#231f20">10</text>
<text transform="translate(48.60 918.10) scale(0.9300 1)" font-size="8.6" text-anchor="start" fill="#231f20">r=0.42</text>
<text transform="translate(48.60 929.40) scale(0.9444 1)" font-size="8.6" text-anchor="start" fill="#231f20"><tspan font-style="italic">P</tspan>&lt;0.0001</text>
<text transform="translate(97.70 1006.10) scale(0.9365 1)" font-size="10" text-anchor="middle" fill="#231f20"><tspan font-style="italic">DLX1</tspan>(log<tspan font-size="6.20" dy="1.60">2</tspan><tspan dy="-1.60"> FPKM)</tspan></text>
<text transform="translate(24.30 946.00) rotate(-90) scale(0.9338 1)" font-size="10" text-anchor="middle" fill="#231f20"><tspan font-style="italic">AR</tspan> (log<tspan font-size="6.20" dy="1.60">2</tspan><tspan dy="-1.60"> FPKM)</tspan></text>
<text transform="translate(176.86 771.00) scale(0.9800 1)" font-size="19.3" text-anchor="start" fill="#000" font-weight="bold">n</text>
<rect x="195.40" y="772.80" width="450.90" height="8.00" fill="#333" />
<rect x="195.40" y="785.40" width="450.90" height="10.60" fill="#333" />
<rect x="195.70" y="773.20" width="3.23" height="7.20" fill="#4f58b8" />
<rect x="195.70" y="785.90" width="3.23" height="9.60" fill="#a81c16" />
<rect x="199.43" y="773.20" width="3.23" height="7.20" fill="#4f58b8" />
<rect x="199.43" y="785.90" width="3.23" height="9.60" fill="#ffffff" />
<rect x="203.15" y="773.20" width="3.23" height="7.20" fill="#4f58b8" />
<rect x="203.15" y="785.90" width="3.23" height="9.60" fill="#cc2820" />
<rect x="206.88" y="773.20" width="3.23" height="7.20" fill="#4f58b8" />
<rect x="206.88" y="785.90" width="3.23" height="9.60" fill="#e25252" />
<rect x="210.61" y="773.20" width="3.23" height="7.20" fill="#4f58b8" />
<rect x="210.61" y="785.90" width="3.23" height="9.60" fill="#ffffff" />
<rect x="214.33" y="773.20" width="3.23" height="7.20" fill="#4f58b8" />
<rect x="214.33" y="785.90" width="3.23" height="9.60" fill="#a81c16" />
<rect x="218.06" y="773.20" width="3.23" height="7.20" fill="#4f58b8" />
<rect x="218.06" y="785.90" width="3.23" height="9.60" fill="#ffffff" />
<rect x="221.79" y="773.20" width="3.23" height="7.20" fill="#4f58b8" />
<rect x="221.79" y="785.90" width="3.23" height="9.60" fill="#cc2820" />
<rect x="225.51" y="773.20" width="3.23" height="7.20" fill="#4f58b8" />
<rect x="225.51" y="785.90" width="3.23" height="9.60" fill="#ffffff" />
<rect x="229.24" y="773.20" width="3.23" height="7.20" fill="#4f58b8" />
<rect x="229.24" y="785.90" width="3.23" height="9.60" fill="#ffffff" />
<rect x="232.96" y="773.20" width="3.23" height="7.20" fill="#4f58b8" />
<rect x="232.96" y="785.90" width="3.23" height="9.60" fill="#e25252" />
<rect x="236.69" y="773.20" width="3.23" height="7.20" fill="#4f58b8" />
<rect x="236.69" y="785.90" width="3.23" height="9.60" fill="#ffffff" />
<rect x="240.42" y="773.20" width="3.23" height="7.20" fill="#4f58b8" />
<rect x="240.42" y="785.90" width="3.23" height="9.60" fill="#e25252" />
<rect x="244.14" y="773.20" width="3.23" height="7.20" fill="#4f58b8" />
<rect x="244.14" y="785.90" width="3.23" height="9.60" fill="#ffffff" />
<rect x="247.87" y="773.20" width="3.23" height="7.20" fill="#4f58b8" />
<rect x="247.87" y="785.90" width="3.23" height="9.60" fill="#cc2820" />
<rect x="251.60" y="773.20" width="3.23" height="7.20" fill="#4f58b8" />
<rect x="251.60" y="785.90" width="3.23" height="9.60" fill="#ffffff" />
<rect x="255.32" y="773.20" width="3.23" height="7.20" fill="#4f58b8" />
<rect x="255.32" y="785.90" width="3.23" height="9.60" fill="#ffffff" />
<rect x="259.05" y="773.20" width="3.23" height="7.20" fill="#4f58b8" />
<rect x="259.05" y="785.90" width="3.23" height="9.60" fill="#e25252" />
<rect x="262.78" y="773.20" width="3.23" height="7.20" fill="#4f58b8" />
<rect x="262.78" y="785.90" width="3.23" height="9.60" fill="#8e1410" />
<rect x="266.50" y="773.20" width="3.23" height="7.20" fill="#4f58b8" />
<rect x="266.50" y="785.90" width="3.23" height="9.60" fill="#ffffff" />
<rect x="270.23" y="773.20" width="3.23" height="7.20" fill="#4f58b8" />
<rect x="270.23" y="785.90" width="3.23" height="9.60" fill="#e25252" />
<rect x="273.96" y="773.20" width="3.23" height="7.20" fill="#4f58b8" />
<rect x="273.96" y="785.90" width="3.23" height="9.60" fill="#e25252" />
<rect x="277.68" y="773.20" width="3.23" height="7.20" fill="#4f58b8" />
<rect x="277.68" y="785.90" width="3.23" height="9.60" fill="#ffffff" />
<rect x="281.41" y="773.20" width="3.23" height="7.20" fill="#4f58b8" />
<rect x="281.41" y="785.90" width="3.23" height="9.60" fill="#ffffff" />
<rect x="285.13" y="773.20" width="3.23" height="7.20" fill="#4f58b8" />
<rect x="285.13" y="785.90" width="3.23" height="9.60" fill="#e25252" />
<rect x="288.86" y="773.20" width="3.23" height="7.20" fill="#4f58b8" />
<rect x="288.86" y="785.90" width="3.23" height="9.60" fill="#8e1410" />
<rect x="292.59" y="773.20" width="3.23" height="7.20" fill="#4f58b8" />
<rect x="292.59" y="785.90" width="3.23" height="9.60" fill="#ffffff" />
<rect x="296.31" y="773.20" width="3.23" height="7.20" fill="#4f58b8" />
<rect x="296.31" y="785.90" width="3.23" height="9.60" fill="#e25252" />
<rect x="300.04" y="773.20" width="3.23" height="7.20" fill="#4f58b8" />
<rect x="300.04" y="785.90" width="3.23" height="9.60" fill="#ffffff" />
<rect x="303.77" y="773.20" width="3.23" height="7.20" fill="#4f58b8" />
<rect x="303.77" y="785.90" width="3.23" height="9.60" fill="#ffffff" />
<rect x="307.49" y="773.20" width="3.23" height="7.20" fill="#4f58b8" />
<rect x="307.49" y="785.90" width="3.23" height="9.60" fill="#ffffff" />
<rect x="311.22" y="773.20" width="3.23" height="7.20" fill="#4f58b8" />
<rect x="311.22" y="785.90" width="3.23" height="9.60" fill="#fbd5d5" />
<rect x="314.95" y="773.20" width="3.23" height="7.20" fill="#4f58b8" />
<rect x="314.95" y="785.90" width="3.23" height="9.60" fill="#ffffff" />
<rect x="318.67" y="773.20" width="3.23" height="7.20" fill="#4f58b8" />
<rect x="318.67" y="785.90" width="3.23" height="9.60" fill="#ffffff" />
<rect x="322.40" y="773.20" width="3.23" height="7.20" fill="#4f58b8" />
<rect x="322.40" y="785.90" width="3.23" height="9.60" fill="#e25252" />
<rect x="326.13" y="773.20" width="3.23" height="7.20" fill="#4f58b8" />
<rect x="326.13" y="785.90" width="3.23" height="9.60" fill="#e25252" />
<rect x="329.85" y="773.20" width="3.23" height="7.20" fill="#4f58b8" />
<rect x="329.85" y="785.90" width="3.23" height="9.60" fill="#ffffff" />
<rect x="333.58" y="773.20" width="3.23" height="7.20" fill="#4f58b8" />
<rect x="333.58" y="785.90" width="3.23" height="9.60" fill="#e25252" />
<rect x="337.30" y="773.20" width="3.23" height="7.20" fill="#4f58b8" />
<rect x="337.30" y="785.90" width="3.23" height="9.60" fill="#cc2820" />
<rect x="341.03" y="773.20" width="3.23" height="7.20" fill="#4f58b8" />
<rect x="341.03" y="785.90" width="3.23" height="9.60" fill="#a81c16" />
<rect x="344.76" y="773.20" width="3.23" height="7.20" fill="#4f58b8" />
<rect x="344.76" y="785.90" width="3.23" height="9.60" fill="#cc2820" />
<rect x="348.48" y="773.20" width="3.23" height="7.20" fill="#4f58b8" />
<rect x="348.48" y="785.90" width="3.23" height="9.60" fill="#e25252" />
<rect x="352.21" y="773.20" width="3.23" height="7.20" fill="#4f58b8" />
<rect x="352.21" y="785.90" width="3.23" height="9.60" fill="#ffffff" />
<rect x="355.94" y="773.20" width="3.23" height="7.20" fill="#4f58b8" />
<rect x="355.94" y="785.90" width="3.23" height="9.60" fill="#ffffff" />
<rect x="359.66" y="773.20" width="3.23" height="7.20" fill="#4f58b8" />
<rect x="359.66" y="785.90" width="3.23" height="9.60" fill="#f4a0a0" />
<rect x="363.39" y="773.20" width="3.23" height="7.20" fill="#4f58b8" />
<rect x="363.39" y="785.90" width="3.23" height="9.60" fill="#ffffff" />
<rect x="367.12" y="773.20" width="3.23" height="7.20" fill="#4f58b8" />
<rect x="367.12" y="785.90" width="3.23" height="9.60" fill="#ffffff" />
<rect x="370.84" y="773.20" width="3.23" height="7.20" fill="#4f58b8" />
<rect x="370.84" y="785.90" width="3.23" height="9.60" fill="#cc2820" />
<rect x="374.57" y="773.20" width="3.23" height="7.20" fill="#4f58b8" />
<rect x="374.57" y="785.90" width="3.23" height="9.60" fill="#e25252" />
<rect x="378.30" y="773.20" width="3.23" height="7.20" fill="#4f58b8" />
<rect x="378.30" y="785.90" width="3.23" height="9.60" fill="#ffffff" />
<rect x="382.02" y="773.20" width="3.23" height="7.20" fill="#4f58b8" />
<rect x="382.02" y="785.90" width="3.23" height="9.60" fill="#ffffff" />
<rect x="385.75" y="773.20" width="3.23" height="7.20" fill="#ed7d31" />
<rect x="385.75" y="785.90" width="3.23" height="9.60" fill="#cc2820" />
<rect x="389.48" y="773.20" width="3.23" height="7.20" fill="#ed7d31" />
<rect x="389.48" y="785.90" width="3.23" height="9.60" fill="#ffffff" />
<rect x="393.20" y="773.20" width="3.23" height="7.20" fill="#ed7d31" />
<rect x="393.20" y="785.90" width="3.23" height="9.60" fill="#e25252" />
<rect x="396.93" y="773.20" width="3.23" height="7.20" fill="#ed7d31" />
<rect x="396.93" y="785.90" width="3.23" height="9.60" fill="#cc2820" />
<rect x="400.65" y="773.20" width="3.23" height="7.20" fill="#ed7d31" />
<rect x="400.65" y="785.90" width="3.23" height="9.60" fill="#cc2820" />
<rect x="404.38" y="773.20" width="3.23" height="7.20" fill="#ed7d31" />
<rect x="404.38" y="785.90" width="3.23" height="9.60" fill="#cc2820" />
<rect x="408.11" y="773.20" width="3.23" height="7.20" fill="#ed7d31" />
<rect x="408.11" y="785.90" width="3.23" height="9.60" fill="#ffffff" />
<rect x="411.83" y="773.20" width="3.23" height="7.20" fill="#ed7d31" />
<rect x="411.83" y="785.90" width="3.23" height="9.60" fill="#e25252" />
<rect x="415.56" y="773.20" width="3.23" height="7.20" fill="#ed7d31" />
<rect x="415.56" y="785.90" width="3.23" height="9.60" fill="#ffffff" />
<rect x="419.29" y="773.20" width="3.23" height="7.20" fill="#ed7d31" />
<rect x="419.29" y="785.90" width="3.23" height="9.60" fill="#e25252" />
<rect x="423.01" y="773.20" width="3.23" height="7.20" fill="#ed7d31" />
<rect x="423.01" y="785.90" width="3.23" height="9.60" fill="#e25252" />
<rect x="426.74" y="773.20" width="3.23" height="7.20" fill="#ed7d31" />
<rect x="426.74" y="785.90" width="3.23" height="9.60" fill="#cc2820" />
<rect x="430.47" y="773.20" width="3.23" height="7.20" fill="#ed7d31" />
<rect x="430.47" y="785.90" width="3.23" height="9.60" fill="#cc2820" />
<rect x="434.19" y="773.20" width="3.23" height="7.20" fill="#ed7d31" />
<rect x="434.19" y="785.90" width="3.23" height="9.60" fill="#cc2820" />
<rect x="437.92" y="773.20" width="3.23" height="7.20" fill="#ed7d31" />
<rect x="437.92" y="785.90" width="3.23" height="9.60" fill="#a81c16" />
<rect x="441.65" y="773.20" width="3.23" height="7.20" fill="#ed7d31" />
<rect x="441.65" y="785.90" width="3.23" height="9.60" fill="#a81c16" />
<rect x="445.37" y="773.20" width="3.23" height="7.20" fill="#ed7d31" />
<rect x="445.37" y="785.90" width="3.23" height="9.60" fill="#ffffff" />
<rect x="449.10" y="773.20" width="3.23" height="7.20" fill="#ed7d31" />
<rect x="449.10" y="785.90" width="3.23" height="9.60" fill="#e25252" />
<rect x="452.82" y="773.20" width="3.23" height="7.20" fill="#ed7d31" />
<rect x="452.82" y="785.90" width="3.23" height="9.60" fill="#f4a0a0" />
<rect x="456.55" y="773.20" width="3.23" height="7.20" fill="#ed7d31" />
<rect x="456.55" y="785.90" width="3.23" height="9.60" fill="#cc2820" />
<rect x="460.28" y="773.20" width="3.23" height="7.20" fill="#ed7d31" />
<rect x="460.28" y="785.90" width="3.23" height="9.60" fill="#e25252" />
<rect x="464.00" y="773.20" width="3.23" height="7.20" fill="#ed7d31" />
<rect x="464.00" y="785.90" width="3.23" height="9.60" fill="#ffffff" />
<rect x="467.73" y="773.20" width="3.23" height="7.20" fill="#ed7d31" />
<rect x="467.73" y="785.90" width="3.23" height="9.60" fill="#cc2820" />
<rect x="471.46" y="773.20" width="3.23" height="7.20" fill="#ed7d31" />
<rect x="471.46" y="785.90" width="3.23" height="9.60" fill="#ffffff" />
<rect x="475.18" y="773.20" width="3.23" height="7.20" fill="#ed7d31" />
<rect x="475.18" y="785.90" width="3.23" height="9.60" fill="#ffffff" />
<rect x="478.91" y="773.20" width="3.23" height="7.20" fill="#ed7d31" />
<rect x="478.91" y="785.90" width="3.23" height="9.60" fill="#e25252" />
<rect x="482.64" y="773.20" width="3.23" height="7.20" fill="#ed7d31" />
<rect x="482.64" y="785.90" width="3.23" height="9.60" fill="#a81c16" />
<rect x="486.36" y="773.20" width="3.23" height="7.20" fill="#a8a8a8" />
<rect x="486.36" y="785.90" width="3.23" height="9.60" fill="#ffffff" />
<rect x="490.09" y="773.20" width="3.23" height="7.20" fill="#a8a8a8" />
<rect x="490.09" y="785.90" width="3.23" height="9.60" fill="#e25252" />
<rect x="493.82" y="773.20" width="3.23" height="7.20" fill="#a8a8a8" />
<rect x="493.82" y="785.90" width="3.23" height="9.60" fill="#a81c16" />
<rect x="497.54" y="773.20" width="3.23" height="7.20" fill="#a8a8a8" />
<rect x="497.54" y="785.90" width="3.23" height="9.60" fill="#ffffff" />
<rect x="501.27" y="773.20" width="3.23" height="7.20" fill="#a8a8a8" />
<rect x="501.27" y="785.90" width="3.23" height="9.60" fill="#e25252" />
<rect x="505.00" y="773.20" width="3.23" height="7.20" fill="#a8a8a8" />
<rect x="505.00" y="785.90" width="3.23" height="9.60" fill="#ffffff" />
<rect x="508.72" y="773.20" width="3.23" height="7.20" fill="#a8a8a8" />
<rect x="508.72" y="785.90" width="3.23" height="9.60" fill="#cc2820" />
<rect x="512.45" y="773.20" width="3.23" height="7.20" fill="#a8a8a8" />
<rect x="512.45" y="785.90" width="3.23" height="9.60" fill="#ffffff" />
<rect x="516.17" y="773.20" width="3.23" height="7.20" fill="#a8a8a8" />
<rect x="516.17" y="785.90" width="3.23" height="9.60" fill="#a81c16" />
<rect x="519.90" y="773.20" width="3.23" height="7.20" fill="#a8a8a8" />
<rect x="519.90" y="785.90" width="3.23" height="9.60" fill="#8e1410" />
<rect x="523.63" y="773.20" width="3.23" height="7.20" fill="#ffc000" />
<rect x="523.63" y="785.90" width="3.23" height="9.60" fill="#f4a0a0" />
<rect x="527.35" y="773.20" width="3.23" height="7.20" fill="#ffc000" />
<rect x="527.35" y="785.90" width="3.23" height="9.60" fill="#f4a0a0" />
<rect x="531.08" y="773.20" width="3.23" height="7.20" fill="#ffc000" />
<rect x="531.08" y="785.90" width="3.23" height="9.60" fill="#cc2820" />
<rect x="534.81" y="773.20" width="3.23" height="7.20" fill="#ffc000" />
<rect x="534.81" y="785.90" width="3.23" height="9.60" fill="#cc2820" />
<rect x="538.53" y="773.20" width="3.23" height="7.20" fill="#ffc000" />
<rect x="538.53" y="785.90" width="3.23" height="9.60" fill="#e25252" />
<rect x="542.26" y="773.20" width="3.23" height="7.20" fill="#ffc000" />
<rect x="542.26" y="785.90" width="3.23" height="9.60" fill="#ffffff" />
<rect x="545.99" y="773.20" width="3.23" height="7.20" fill="#ffc000" />
<rect x="545.99" y="785.90" width="3.23" height="9.60" fill="#a81c16" />
<rect x="549.71" y="773.20" width="3.23" height="7.20" fill="#ffc000" />
<rect x="549.71" y="785.90" width="3.23" height="9.60" fill="#a81c16" />
<rect x="553.44" y="773.20" width="3.23" height="7.20" fill="#ffc000" />
<rect x="553.44" y="785.90" width="3.23" height="9.60" fill="#fbd5d5" />
<rect x="557.17" y="773.20" width="3.23" height="7.20" fill="#ffc000" />
<rect x="557.17" y="785.90" width="3.23" height="9.60" fill="#a81c16" />
<rect x="560.89" y="773.20" width="3.23" height="7.20" fill="#ffc000" />
<rect x="560.89" y="785.90" width="3.23" height="9.60" fill="#f4a0a0" />
<rect x="564.62" y="773.20" width="3.23" height="7.20" fill="#ffc000" />
<rect x="564.62" y="785.90" width="3.23" height="9.60" fill="#e25252" />
<rect x="568.34" y="773.20" width="3.23" height="7.20" fill="#ffc000" />
<rect x="568.34" y="785.90" width="3.23" height="9.60" fill="#cc2820" />
<rect x="572.07" y="773.20" width="3.23" height="7.20" fill="#ffc000" />
<rect x="572.07" y="785.90" width="3.23" height="9.60" fill="#ffffff" />
<rect x="575.80" y="773.20" width="3.23" height="7.20" fill="#ffc000" />
<rect x="575.80" y="785.90" width="3.23" height="9.60" fill="#ffffff" />
<rect x="579.52" y="773.20" width="3.23" height="7.20" fill="#ffc000" />
<rect x="579.52" y="785.90" width="3.23" height="9.60" fill="#f4a0a0" />
<rect x="583.25" y="773.20" width="3.23" height="7.20" fill="#ffc000" />
<rect x="583.25" y="785.90" width="3.23" height="9.60" fill="#cc2820" />
<rect x="586.98" y="773.20" width="3.23" height="7.20" fill="#ffc000" />
<rect x="586.98" y="785.90" width="3.23" height="9.60" fill="#e25252" />
<rect x="590.70" y="773.20" width="3.23" height="7.20" fill="#ffc000" />
<rect x="590.70" y="785.90" width="3.23" height="9.60" fill="#cc2820" />
<rect x="594.43" y="773.20" width="3.23" height="7.20" fill="#9fe0dc" />
<rect x="594.43" y="785.90" width="3.23" height="9.60" fill="#ffffff" />
<rect x="598.16" y="773.20" width="3.23" height="7.20" fill="#9fe0dc" />
<rect x="598.16" y="785.90" width="3.23" height="9.60" fill="#a81c16" />
<rect x="601.88" y="773.20" width="3.23" height="7.20" fill="#9fe0dc" />
<rect x="601.88" y="785.90" width="3.23" height="9.60" fill="#f4a0a0" />
<rect x="605.61" y="773.20" width="3.23" height="7.20" fill="#9fe0dc" />
<rect x="605.61" y="785.90" width="3.23" height="9.60" fill="#cc2820" />
<rect x="609.34" y="773.20" width="3.23" height="7.20" fill="#9fe0dc" />
<rect x="609.34" y="785.90" width="3.23" height="9.60" fill="#ffffff" />
<rect x="613.06" y="773.20" width="3.23" height="7.20" fill="#9fe0dc" />
<rect x="613.06" y="785.90" width="3.23" height="9.60" fill="#e25252" />
<rect x="616.79" y="773.20" width="3.23" height="7.20" fill="#9fe0dc" />
<rect x="616.79" y="785.90" width="3.23" height="9.60" fill="#e25252" />
<rect x="620.51" y="773.20" width="3.23" height="7.20" fill="#9fe0dc" />
<rect x="620.51" y="785.90" width="3.23" height="9.60" fill="#cc2820" />
<rect x="624.24" y="773.20" width="3.23" height="7.20" fill="#9fe0dc" />
<rect x="624.24" y="785.90" width="3.23" height="9.60" fill="#e25252" />
<rect x="627.97" y="773.20" width="3.23" height="7.20" fill="#9fe0dc" />
<rect x="627.97" y="785.90" width="3.23" height="9.60" fill="#a81c16" />
<rect x="631.69" y="773.20" width="3.23" height="7.20" fill="#9fe0dc" />
<rect x="631.69" y="785.90" width="3.23" height="9.60" fill="#8e1410" />
<rect x="635.42" y="773.20" width="3.23" height="7.20" fill="#9fe0dc" />
<rect x="635.42" y="785.90" width="3.23" height="9.60" fill="#e25252" />
<rect x="639.15" y="773.20" width="3.23" height="7.20" fill="#9fe0dc" />
<rect x="639.15" y="785.90" width="3.23" height="9.60" fill="#cc2820" />
<rect x="642.87" y="773.20" width="3.23" height="7.20" fill="#9fe0dc" />
<rect x="642.87" y="785.90" width="3.23" height="9.60" fill="#a81c16" />
<text transform="translate(199.60 805.10) scale(0.9686 1)" font-size="8.6" text-anchor="start" fill="#231f20"><tspan font-style="italic">DLX1</tspan> scoring</text>
<defs><linearGradient id="cbn" x1="0" y1="0" x2="1" y2="0"><stop offset="0" stop-color="#fff"/><stop offset="0.2" stop-color="#fbd5d5"/><stop offset="0.45" stop-color="#e55050"/><stop offset="0.7" stop-color="#c8241e"/><stop offset="1" stop-color="#8e1410"/></linearGradient></defs>
<rect x="198.50" y="807.00" width="50.40" height="8.70" fill="url(#cbn)" stroke="#444" stroke-width="0.4" />
<text transform="translate(198.50 820.60) scale(0.9500 1)" font-size="4.1" text-anchor="middle" fill="#231f20">0</text>
<text transform="translate(206.90 820.60) scale(0.9500 1)" font-size="4.1" text-anchor="middle" fill="#231f20">0.5</text>
<text transform="translate(215.30 820.60) scale(0.9500 1)" font-size="4.1" text-anchor="middle" fill="#231f20">1</text>
<text transform="translate(223.70 820.60) scale(0.9500 1)" font-size="4.1" text-anchor="middle" fill="#231f20">1.5</text>
<text transform="translate(232.10 820.60) scale(0.9500 1)" font-size="4.1" text-anchor="middle" fill="#231f20">2</text>
<text transform="translate(240.50 820.60) scale(0.9500 1)" font-size="4.1" text-anchor="middle" fill="#231f20">2.5</text>
<text transform="translate(248.90 820.60) scale(0.9500 1)" font-size="4.1" text-anchor="middle" fill="#231f20">3</text>
<rect x="428.50" y="806.40" width="6.00" height="6.00" fill="#4f58b8" />
<text transform="translate(437.40 812.40) scale(0.9300 1)" font-size="10" text-anchor="start" fill="#231f20">Bone</text>
<rect x="463.30" y="806.40" width="6.00" height="6.00" fill="#ed7d31" />
<text transform="translate(472.20 812.40) scale(0.9300 1)" font-size="10" text-anchor="start" fill="#231f20">Liver</text>
<rect x="497.40" y="806.40" width="6.00" height="6.00" fill="#a8a8a8" />
<text transform="translate(505.90 812.40) scale(0.9300 1)" font-size="10" text-anchor="start" fill="#231f20">Lung</text>
<rect x="532.20" y="806.40" width="6.00" height="6.00" fill="#ffc000" />
<text transform="translate(541.10 812.40) scale(0.9300 1)" font-size="10" text-anchor="start" fill="#231f20">Lymph Node</text>
<rect x="602.60" y="806.40" width="6.00" height="6.00" fill="#9fe0dc" />
<text transform="translate(612.30 812.40) scale(0.9300 1)" font-size="10" text-anchor="start" fill="#231f20">Others</text>
<clipPath id="c1"><rect x="176.00" y="36.00" width="70.80" height="70.80"/></clipPath>
<g clip-path="url(#c1)">
<rect x="176.00" y="36.00" width="70.80" height="70.80" fill="#eeedf6"/>
<defs><filter id="f2" x="0" y="0" width="1" height="1" color-interpolation-filters="sRGB"><feTurbulence type="fractalNoise" baseFrequency="0.09 0.2" numOctaves="2" seed="3"/><feColorMatrix type="matrix" values="0 0 0 0 0.851 0 0 0 0 0.843 0 0 0 0 0.925 4 0 0 0 -1.8"/></filter></defs>
<rect x="176.00" y="36.00" width="70.80" height="70.80" fill="#000" filter="url(#f2)" opacity="0.5"/>
<defs><filter id="f3" x="0" y="0" width="1" height="1" color-interpolation-filters="sRGB"><feTurbulence type="fractalNoise" baseFrequency="0.55" numOctaves="2" seed="4"/><feColorMatrix type="matrix" values="0 0 0 0 0.573 0 0 0 0 0.565 0 0 0 0 0.824 4.5 0 0 0 -2.5"/></filter></defs>
<rect x="176.00" y="36.00" width="70.80" height="70.80" fill="#000" filter="url(#f3)" opacity="0.75"/>
<defs><filter id="f4" filterUnits="userSpaceOnUse" x="168.0" y="28.0" width="86.8" height="86.8" color-interpolation-filters="sRGB"><feTurbulence type="fractalNoise" baseFrequency="0.05" numOctaves="2" seed="33" result="t"/><feDisplacementMap in="SourceGraphic" in2="t" scale="8.0" xChannelSelector="R" yChannelSelector="G"/><feGaussianBlur stdDeviation="0.3"/></filter></defs>
<g filter="url(#f4)">
<defs><filter id="f5" x="-20%" y="-20%" width="140%" height="140%"><feGaussianBlur stdDeviation="0.7"/></filter></defs>
<g filter="url(#f5)">
<ellipse cx="214.7" cy="48.2" rx="7.4" ry="7.8" fill="#f5f5f9"/>
<ellipse cx="184.8" cy="55.1" rx="4.2" ry="6.0" fill="#f5f5f9"/>
<ellipse cx="235.5" cy="69.0" rx="10.6" ry="3.5" transform="rotate(50 235.5 69.0)" fill="#f5f5f9"/>
<ellipse cx="204.3" cy="88.4" rx="7.8" ry="10.6" transform="rotate(-20 204.3 88.4)" fill="#f5f5f9"/>
<ellipse cx="187.0" cy="93.2" rx="5.7" ry="8.5" transform="rotate(10 187.0 93.2)" fill="#f5f5f9"/>
<ellipse cx="234.3" cy="100.1" rx="9.9" ry="5.3" fill="#f5f5f9"/>
<ellipse cx="221.7" cy="79.2" rx="3.2" ry="3.2" fill="#f5f5f9"/>
<ellipse cx="197.2" cy="67.9" rx="3.5" ry="2.8" fill="#f5f5f9"/>
<ellipse cx="225.6" cy="57.2" rx="2.8" ry="3.5" fill="#f5f5f9"/>
<ellipse cx="243.3" cy="44.5" rx="4.2" ry="5.7" fill="#f5f5f9"/>
<ellipse cx="181.7" cy="74.9" rx="3.5" ry="2.8" fill="#f5f5f9"/>
<ellipse cx="219.9" cy="103.3" rx="4.2" ry="3.5" fill="#f5f5f9"/>
<ellipse cx="200.8" cy="43.1" rx="3.5" ry="2.8" fill="#f5f5f9"/>
</g>
<ellipse cx="214.7" cy="48.2" rx="7.4" ry="7.8" fill="none" stroke="#cfcdea" stroke-width="2.12" stroke-opacity="0.75"/>
<ellipse cx="184.8" cy="55.1" rx="4.2" ry="6.0" fill="none" stroke="#cfcdea" stroke-width="2.12" stroke-opacity="0.75"/>
<ellipse cx="235.5" cy="69.0" rx="10.6" ry="3.5" transform="rotate(50 235.5 69.0)" fill="none" stroke="#cfcdea" stroke-width="2.12" stroke-opacity="0.75"/>
<ellipse cx="204.3" cy="88.4" rx="7.8" ry="10.6" transform="rotate(-20 204.3 88.4)" fill="none" stroke="#cfcdea" stroke-width="2.12" stroke-opacity="0.75"/>
<ellipse cx="187.0" cy="93.2" rx="5.7" ry="8.5" transform="rotate(10 187.0 93.2)" fill="none" stroke="#cfcdea" stroke-width="2.12" stroke-opacity="0.75"/>
<ellipse cx="234.3" cy="100.1" rx="9.9" ry="5.3" fill="none" stroke="#cfcdea" stroke-width="2.12" stroke-opacity="0.75"/>
<ellipse cx="221.7" cy="79.2" rx="3.2" ry="3.2" fill="none" stroke="#cfcdea" stroke-width="2.12" stroke-opacity="0.75"/>
<ellipse cx="197.2" cy="67.9" rx="3.5" ry="2.8" fill="none" stroke="#cfcdea" stroke-width="2.12" stroke-opacity="0.75"/>
<ellipse cx="225.6" cy="57.2" rx="2.8" ry="3.5" fill="none" stroke="#cfcdea" stroke-width="2.12" stroke-opacity="0.75"/>
<ellipse cx="243.3" cy="44.5" rx="4.2" ry="5.7" fill="none" stroke="#cfcdea" stroke-width="2.12" stroke-opacity="0.75"/>
<ellipse cx="181.7" cy="74.9" rx="3.5" ry="2.8" fill="none" stroke="#cfcdea" stroke-width="2.12" stroke-opacity="0.75"/>
<ellipse cx="219.9" cy="103.3" rx="4.2" ry="3.5" fill="none" stroke="#cfcdea" stroke-width="2.12" stroke-opacity="0.75"/>
<ellipse cx="200.8" cy="43.1" rx="3.5" ry="2.8" fill="none" stroke="#cfcdea" stroke-width="2.12" stroke-opacity="0.75"/>
<defs><filter id="f6" x="0" y="0" width="1" height="1" color-interpolation-filters="sRGB"><feTurbulence type="fractalNoise" baseFrequency="0.6" numOctaves="2" seed="13"/><feColorMatrix type="matrix" values="0 0 0 0 0.416 0 0 0 0 0.408 0 0 0 0 0.753 6 0 0 0 -2.65"/><feComposite in2="SourceAlpha" operator="in"/></filter></defs>
<g filter="url(#f6)" opacity="0.95">
<ellipse cx="214.7" cy="48.2" rx="7.4" ry="7.8" fill="none" stroke="#000" stroke-width="2.12"/>
<ellipse cx="184.8" cy="55.1" rx="4.2" ry="6.0" fill="none" stroke="#000" stroke-width="2.12"/>
<ellipse cx="235.5" cy="69.0" rx="10.6" ry="3.5" transform="rotate(50 235.5 69.0)" fill="none" stroke="#000" stroke-width="2.12"/>
<ellipse cx="204.3" cy="88.4" rx="7.8" ry="10.6" transform="rotate(-20 204.3 88.4)" fill="none" stroke="#000" stroke-width="2.12"/>
<ellipse cx="187.0" cy="93.2" rx="5.7" ry="8.5" transform="rotate(10 187.0 93.2)" fill="none" stroke="#000" stroke-width="2.12"/>
<ellipse cx="234.3" cy="100.1" rx="9.9" ry="5.3" fill="none" stroke="#000" stroke-width="2.12"/>
<ellipse cx="221.7" cy="79.2" rx="3.2" ry="3.2" fill="none" stroke="#000" stroke-width="2.12"/>
<ellipse cx="197.2" cy="67.9" rx="3.5" ry="2.8" fill="none" stroke="#000" stroke-width="2.12"/>
<ellipse cx="225.6" cy="57.2" rx="2.8" ry="3.5" fill="none" stroke="#000" stroke-width="2.12"/>
<ellipse cx="243.3" cy="44.5" rx="4.2" ry="5.7" fill="none" stroke="#000" stroke-width="2.12"/>
<ellipse cx="181.7" cy="74.9" rx="3.5" ry="2.8" fill="none" stroke="#000" stroke-width="2.12"/>
<ellipse cx="219.9" cy="103.3" rx="4.2" ry="3.5" fill="none" stroke="#000" stroke-width="2.12"/>
<ellipse cx="200.8" cy="43.1" rx="3.5" ry="2.8" fill="none" stroke="#000" stroke-width="2.12"/>
</g>
</g>
</g>
<clipPath id="c7"><rect x="249.00" y="36.00" width="76.90" height="70.80"/></clipPath>
<g clip-path="url(#c7)">
<rect x="249.00" y="36.00" width="76.90" height="70.80" fill="#eeedf6"/>
<defs><filter id="f8" x="0" y="0" width="1" height="1" color-interpolation-filters="sRGB"><feTurbulence type="fractalNoise" baseFrequency="0.045 0.1" numOctaves="2" seed="5"/><feColorMatrix type="matrix" values="0 0 0 0 0.851 0 0 0 0 0.843 0 0 0 0 0.925 4 0 0 0 -1.8"/></filter></defs>
<rect x="249.00" y="36.00" width="76.90" height="70.80" fill="#000" filter="url(#f8)" opacity="0.5"/>
<defs><filter id="f9" x="0" y="0" width="1" height="1" color-interpolation-filters="sRGB"><feTurbulence type="fractalNoise" baseFrequency="0.275" numOctaves="2" seed="6"/><feColorMatrix type="matrix" values="0 0 0 0 0.573 0 0 0 0 0.565 0 0 0 0 0.824 4.5 0 0 0 -2.5"/></filter></defs>
<rect x="249.00" y="36.00" width="76.90" height="70.80" fill="#000" filter="url(#f9)" opacity="0.75"/>
<defs><filter id="f10" filterUnits="userSpaceOnUse" x="241.0" y="28.0" width="92.9" height="86.8" color-interpolation-filters="sRGB"><feTurbulence type="fractalNoise" baseFrequency="0.025" numOctaves="2" seed="35" result="t"/><feDisplacementMap in="SourceGraphic" in2="t" scale="13.928809012737986" xChannelSelector="R" yChannelSelector="G"/><feGaussianBlur stdDeviation="0.4242640687119285"/></filter></defs>
<g filter="url(#f10)">
<defs><filter id="f11" x="-20%" y="-20%" width="140%" height="140%"><feGaussianBlur stdDeviation="0.9899494936611666"/></filter></defs>
<g filter="url(#f11)">
<ellipse cx="309.0" cy="50.2" rx="12.2" ry="12.6" fill="#f5f5f9"/>
<ellipse cx="288.5" cy="70.1" rx="5.5" ry="5.2" fill="#f5f5f9"/>
<ellipse cx="257.5" cy="66.4" rx="7.8" ry="10.3" fill="#f5f5f9"/>
<ellipse cx="264.2" cy="96.9" rx="11.8" ry="8.9" fill="#f5f5f9"/>
<ellipse cx="307.0" cy="100.4" rx="13.3" ry="7.4" fill="#f5f5f9"/>
<ellipse cx="323.6" cy="83.4" rx="4.4" ry="5.9" fill="#f5f5f9"/>
<ellipse cx="279.8" cy="44.5" rx="5.9" ry="4.4" transform="rotate(20 279.8 44.5)" fill="#f5f5f9"/>
</g>
<ellipse cx="309.0" cy="50.2" rx="12.2" ry="12.6" fill="none" stroke="#cfcdea" stroke-width="3.69" stroke-opacity="0.75"/>
<ellipse cx="288.5" cy="70.1" rx="5.5" ry="5.2" fill="none" stroke="#cfcdea" stroke-width="3.69" stroke-opacity="0.75"/>
<ellipse cx="257.5" cy="66.4" rx="7.8" ry="10.3" fill="none" stroke="#cfcdea" stroke-width="3.69" stroke-opacity="0.75"/>
<ellipse cx="264.2" cy="96.9" rx="11.8" ry="8.9" fill="none" stroke="#cfcdea" stroke-width="3.69" stroke-opacity="0.75"/>
<ellipse cx="307.0" cy="100.4" rx="13.3" ry="7.4" fill="none" stroke="#cfcdea" stroke-width="3.69" stroke-opacity="0.75"/>
<ellipse cx="323.6" cy="83.4" rx="4.4" ry="5.9" fill="none" stroke="#cfcdea" stroke-width="3.69" stroke-opacity="0.75"/>
<ellipse cx="279.8" cy="44.5" rx="5.9" ry="4.4" transform="rotate(20 279.8 44.5)" fill="none" stroke="#cfcdea" stroke-width="3.69" stroke-opacity="0.75"/>
<defs><filter id="f12" x="0" y="0" width="1" height="1" color-interpolation-filters="sRGB"><feTurbulence type="fractalNoise" baseFrequency="0.3" numOctaves="2" seed="15"/><feColorMatrix type="matrix" values="0 0 0 0 0.416 0 0 0 0 0.408 0 0 0 0 0.753 6 0 0 0 -2.65"/><feComposite in2="SourceAlpha" operator="in"/></filter></defs>
<g filter="url(#f12)" opacity="0.95">
<ellipse cx="309.0" cy="50.2" rx="12.2" ry="12.6" fill="none" stroke="#000" stroke-width="3.69"/>
<ellipse cx="288.5" cy="70.1" rx="5.5" ry="5.2" fill="none" stroke="#000" stroke-width="3.69"/>
<ellipse cx="257.5" cy="66.4" rx="7.8" ry="10.3" fill="none" stroke="#000" stroke-width="3.69"/>
<ellipse cx="264.2" cy="96.9" rx="11.8" ry="8.9" fill="none" stroke="#000" stroke-width="3.69"/>
<ellipse cx="307.0" cy="100.4" rx="13.3" ry="7.4" fill="none" stroke="#000" stroke-width="3.69"/>
<ellipse cx="323.6" cy="83.4" rx="4.4" ry="5.9" fill="none" stroke="#000" stroke-width="3.69"/>
<ellipse cx="279.8" cy="44.5" rx="5.9" ry="4.4" transform="rotate(20 279.8 44.5)" fill="none" stroke="#000" stroke-width="3.69"/>
</g>
</g>
</g>
<clipPath id="c13"><rect x="331.10" y="36.00" width="71.30" height="70.80"/></clipPath>
<g clip-path="url(#c13)">
<rect x="331.10" y="36.00" width="71.30" height="70.80" fill="#dcd9ef"/>
<defs><filter id="f14" x="0" y="0" width="1" height="1" color-interpolation-filters="sRGB"><feTurbulence type="fractalNoise" baseFrequency="0.5" numOctaves="2" seed="7"/><feColorMatrix type="matrix" values="0 0 0 0 0.549 0 0 0 0 0.525 0 0 0 0 0.808 4.5 0 0 0 -2.0"/></filter></defs>
<rect x="331.10" y="36.00" width="71.30" height="70.80" fill="#000" filter="url(#f14)" opacity="0.6"/>
<defs><filter id="f15" x="0" y="0" width="1" height="1" color-interpolation-filters="sRGB"><feTurbulence type="fractalNoise" baseFrequency="0.6" numOctaves="2" seed="8"/><feColorMatrix type="matrix" values="0 0 0 0 0.784 0 0 0 0 0.471 0 0 0 0 0.722 5 0 0 0 -3.2"/></filter></defs>
<rect x="331.10" y="36.00" width="71.30" height="70.80" fill="#000" filter="url(#f15)" opacity="0.4"/>
<defs><filter id="f16" x="0" y="0" width="1" height="1" color-interpolation-filters="sRGB"><feTurbulence type="fractalNoise" baseFrequency="0.12" numOctaves="2" seed="9"/><feColorMatrix type="matrix" values="0 0 0 0 0.933 0 0 0 0 0.925 0 0 0 0 0.969 5 0 0 0 -2.9"/></filter></defs>
<rect x="331.10" y="36.00" width="71.30" height="70.80" fill="#000" filter="url(#f16)" opacity="0.7"/>
<defs><filter id="f17" filterUnits="userSpaceOnUse" x="323.1" y="28.0" width="87.3" height="86.8" color-interpolation-filters="sRGB"><feTurbulence type="fractalNoise" baseFrequency="0.05" numOctaves="2" seed="37" result="t"/><feDisplacementMap in="SourceGraphic" in2="t" scale="8.0" xChannelSelector="R" yChannelSelector="G"/><feGaussianBlur stdDeviation="0.3"/></filter></defs>
<g filter="url(#f17)">
<defs><filter id="f18" x="-20%" y="-20%" width="140%" height="140%"><feGaussianBlur stdDeviation="0.45"/></filter></defs>
<g filter="url(#f18)">
<ellipse cx="345.4" cy="59.7" rx="2.8" ry="4.3" fill="#f8f7fb"/>
<ellipse cx="336.1" cy="72.5" rx="2.8" ry="3.6" fill="#f8f7fb"/>
<ellipse cx="340.7" cy="87.4" rx="3.6" ry="3.6" fill="#f8f7fb"/>
<ellipse cx="336.1" cy="93.2" rx="2.8" ry="3.6" fill="#f8f7fb"/>
<ellipse cx="353.2" cy="101.1" rx="3.6" ry="2.8" fill="#f8f7fb"/>
<ellipse cx="386.7" cy="88.4" rx="5.0" ry="3.6" transform="rotate(-30 386.7 88.4)" fill="#f8f7fb"/>
<ellipse cx="364.9" cy="81.7" rx="3.6" ry="2.8" fill="#f8f7fb"/>
<ellipse cx="377.4" cy="66.4" rx="2.8" ry="5.0" fill="#f8f7fb"/>
<ellipse cx="390.3" cy="62.1" rx="2.8" ry="4.3" fill="#f8f7fb"/>
<ellipse cx="397.2" cy="81.7" rx="2.8" ry="3.6" fill="#f8f7fb"/>
<ellipse cx="383.1" cy="41.3" rx="3.6" ry="2.8" fill="#f8f7fb"/>
<ellipse cx="351.1" cy="44.8" rx="2.8" ry="2.1" fill="#f8f7fb"/>
<ellipse cx="364.9" cy="42.4" rx="2.1" ry="2.1" fill="#f8f7fb"/>
<ellipse cx="358.0" cy="74.7" rx="2.1" ry="2.8" fill="#f8f7fb"/>
<ellipse cx="343.9" cy="49.5" rx="2.1" ry="2.1" fill="#f8f7fb"/>
<ellipse cx="373.9" cy="99.0" rx="2.8" ry="2.8" fill="#f8f7fb"/>
<ellipse cx="366.8" cy="57.2" rx="2.1" ry="2.8" fill="#f8f7fb"/>
<ellipse cx="395.3" cy="99.7" rx="2.8" ry="2.1" fill="#f8f7fb"/>
<ellipse cx="398.8" cy="50.2" rx="2.1" ry="2.8" fill="#f8f7fb"/>
</g>
</g>
</g>
<clipPath id="c19"><rect x="404.60" y="36.00" width="77.70" height="70.80"/></clipPath>
<g clip-path="url(#c19)">
<rect x="404.60" y="36.00" width="77.70" height="70.80" fill="#dcd9ef"/>
<defs><filter id="f20" x="0" y="0" width="1" height="1" color-interpolation-filters="sRGB"><feTurbulence type="fractalNoise" baseFrequency="0.25" numOctaves="2" seed="9"/><feColorMatrix type="matrix" values="0 0 0 0 0.549 0 0 0 0 0.525 0 0 0 0 0.808 4.5 0 0 0 -2.0"/></filter></defs>
<rect x="404.60" y="36.00" width="77.70" height="70.80" fill="#000" filter="url(#f20)" opacity="0.6"/>
<defs><filter id="f21" x="0" y="0" width="1" height="1" color-interpolation-filters="sRGB"><feTurbulence type="fractalNoise" baseFrequency="0.3" numOctaves="2" seed="10"/><feColorMatrix type="matrix" values="0 0 0 0 0.784 0 0 0 0 0.471 0 0 0 0 0.722 5 0 0 0 -3.2"/></filter></defs>
<rect x="404.60" y="36.00" width="77.70" height="70.80" fill="#000" filter="url(#f21)" opacity="0.4"/>
<defs><filter id="f22" x="0" y="0" width="1" height="1" color-interpolation-filters="sRGB"><feTurbulence type="fractalNoise" baseFrequency="0.06" numOctaves="2" seed="11"/><feColorMatrix type="matrix" values="0 0 0 0 0.933 0 0 0 0 0.925 0 0 0 0 0.969 5 0 0 0 -2.9"/></filter></defs>
<rect x="404.60" y="36.00" width="77.70" height="70.80" fill="#000" filter="url(#f22)" opacity="0.7"/>
<defs><filter id="f23" filterUnits="userSpaceOnUse" x="396.6" y="28.0" width="93.7" height="86.8" color-interpolation-filters="sRGB"><feTurbulence type="fractalNoise" baseFrequency="0.025" numOctaves="2" seed="39" result="t"/><feDisplacementMap in="SourceGraphic" in2="t" scale="13.928809012737986" xChannelSelector="R" yChannelSelector="G"/><feGaussianBlur stdDeviation="0.4242640687119285"/></filter></defs>
<g filter="url(#f23)">
<defs><filter id="f24" x="-20%" y="-20%" width="140%" height="140%"><feGaussianBlur stdDeviation="0.6363961030678928"/></filter></defs>
<g filter="url(#f24)">
<ellipse cx="413.4" cy="51.6" rx="6.7" ry="10.4" fill="#f8f7fb"/>
<ellipse cx="419.1" cy="72.5" rx="4.5" ry="5.9" fill="#f8f7fb"/>
<ellipse cx="417.8" cy="96.9" rx="7.4" ry="7.4" fill="#f8f7fb"/>
<ellipse cx="436.5" cy="79.2" rx="4.5" ry="4.5" fill="#f8f7fb"/>
<ellipse cx="469.9" cy="51.6" rx="7.4" ry="15.6" transform="rotate(-25 469.9 51.6)" fill="#f8f7fb"/>
<ellipse cx="457.1" cy="95.5" rx="10.4" ry="7.4" fill="#f8f7fb"/>
<ellipse cx="475.3" cy="99.7" rx="4.5" ry="5.9" fill="#f8f7fb"/>
<ellipse cx="443.5" cy="41.7" rx="3.7" ry="3.0" fill="#f8f7fb"/>
</g>
</g>
</g>
<clipPath id="c25"><rect x="176.00" y="111.00" width="70.80" height="70.70"/></clipPath>
<g clip-path="url(#c25)">
<rect x="176.00" y="111.00" width="70.80" height="70.70" fill="#eeecf3"/>
<defs><filter id="f26" x="0" y="0" width="1" height="1" color-interpolation-filters="sRGB"><feTurbulence type="fractalNoise" baseFrequency="0.09 0.22" numOctaves="2" seed="11"/><feColorMatrix type="matrix" values="0 0 0 0 0.839 0 0 0 0 0.827 0 0 0 0 0.902 4 0 0 0 -1.8"/></filter></defs>
<rect x="176.00" y="111.00" width="70.80" height="70.70" fill="#000" filter="url(#f26)" opacity="0.45"/>
<defs><filter id="f27" x="0" y="0" width="1" height="1" color-interpolation-filters="sRGB"><feTurbulence type="fractalNoise" baseFrequency="0.6" numOctaves="2" seed="12"/><feColorMatrix type="matrix" values="0 0 0 0 0.596 0 0 0 0 0.573 0 0 0 0 0.816 4.5 0 0 0 -2.7"/></filter></defs>
<rect x="176.00" y="111.00" width="70.80" height="70.70" fill="#000" filter="url(#f27)" opacity="0.7"/>
<defs><filter id="f28" filterUnits="userSpaceOnUse" x="168.0" y="103.0" width="86.8" height="86.7" color-interpolation-filters="sRGB"><feTurbulence type="fractalNoise" baseFrequency="0.05" numOctaves="2" seed="41" result="t"/><feDisplacementMap in="SourceGraphic" in2="t" scale="8.0" xChannelSelector="R" yChannelSelector="G"/><feGaussianBlur stdDeviation="0.3"/></filter></defs>
<g filter="url(#f28)">
<defs><filter id="f29" x="-20%" y="-20%" width="140%" height="140%"><feGaussianBlur stdDeviation="0.5"/></filter></defs>
<g filter="url(#f29)">
<ellipse cx="181.3" cy="133.3" rx="1.4" ry="9.9" transform="rotate(-20 181.3 133.3)" fill="#efeaf5"/>
<ellipse cx="192.9" cy="125.1" rx="1.4" ry="6.4" transform="rotate(20 192.9 125.1)" fill="#efeaf5"/>
<ellipse cx="204.3" cy="118.1" rx="1.4" ry="5.7" transform="rotate(-10 204.3 118.1)" fill="#efeaf5"/>
<ellipse cx="214.7" cy="117.2" rx="1.4" ry="5.7" transform="rotate(10 214.7 117.2)" fill="#efeaf5"/>
<ellipse cx="225.1" cy="121.6" rx="1.4" ry="5.7" transform="rotate(30 225.1 121.6)" fill="#efeaf5"/>
<ellipse cx="219.2" cy="129.9" rx="5.7" ry="1.4" transform="rotate(-20 219.2 129.9)" fill="#efeaf5"/>
<ellipse cx="209.0" cy="134.3" rx="1.4" ry="5.0" transform="rotate(-30 209.0 134.3)" fill="#efeaf5"/>
<ellipse cx="228.4" cy="137.9" rx="1.4" ry="6.4" transform="rotate(20 228.4 137.9)" fill="#efeaf5"/>
<ellipse cx="221.7" cy="150.6" rx="7.1" ry="2.1" transform="rotate(-15 221.7 150.6)" fill="#efeaf5"/>
<ellipse cx="210.0" cy="147.1" rx="2.1" ry="1.4" fill="#efeaf5"/>
<ellipse cx="239.0" cy="154.1" rx="2.5" ry="7.1" transform="rotate(30 239.0 154.1)" fill="#efeaf5"/>
<ellipse cx="204.3" cy="169.0" rx="8.5" ry="2.8" transform="rotate(10 204.3 169.0)" fill="#efeaf5"/>
<ellipse cx="182.4" cy="165.4" rx="2.1" ry="7.1" transform="rotate(-15 182.4 165.4)" fill="#efeaf5"/>
<ellipse cx="189.5" cy="148.3" rx="5.7" ry="1.4" transform="rotate(30 189.5 148.3)" fill="#efeaf5"/>
<ellipse cx="227.4" cy="167.9" rx="5.7" ry="2.1" transform="rotate(-20 227.4 167.9)" fill="#efeaf5"/>
<ellipse cx="239.0" cy="133.3" rx="1.4" ry="5.7" transform="rotate(15 239.0 133.3)" fill="#efeaf5"/>
<ellipse cx="196.3" cy="139.3" rx="1.4" ry="5.0" transform="rotate(10 196.3 139.3)" fill="#efeaf5"/>
<ellipse cx="193.7" cy="176.0" rx="5.0" ry="2.1" transform="rotate(20 193.7 176.0)" fill="#efeaf5"/>
<ellipse cx="217.1" cy="176.8" rx="5.0" ry="2.1" transform="rotate(-10 217.1 176.8)" fill="#efeaf5"/>
<ellipse cx="241.1" cy="173.2" rx="2.1" ry="4.2" transform="rotate(20 241.1 173.2)" fill="#efeaf5"/>
<ellipse cx="199.4" cy="154.8" rx="3.5" ry="1.4" transform="rotate(-30 199.4 154.8)" fill="#efeaf5"/>
</g>
<ellipse cx="181.3" cy="133.3" rx="1.4" ry="9.9" transform="rotate(-20 181.3 133.3)" fill="none" stroke="#c2b2de" stroke-width="1.84" stroke-opacity="0.7"/>
<ellipse cx="192.9" cy="125.1" rx="1.4" ry="6.4" transform="rotate(20 192.9 125.1)" fill="none" stroke="#c2b2de" stroke-width="1.84" stroke-opacity="0.7"/>
<ellipse cx="204.3" cy="118.1" rx="1.4" ry="5.7" transform="rotate(-10 204.3 118.1)" fill="none" stroke="#c2b2de" stroke-width="1.84" stroke-opacity="0.7"/>
<ellipse cx="214.7" cy="117.2" rx="1.4" ry="5.7" transform="rotate(10 214.7 117.2)" fill="none" stroke="#c2b2de" stroke-width="1.84" stroke-opacity="0.7"/>
<ellipse cx="225.1" cy="121.6" rx="1.4" ry="5.7" transform="rotate(30 225.1 121.6)" fill="none" stroke="#c2b2de" stroke-width="1.84" stroke-opacity="0.7"/>
<ellipse cx="219.2" cy="129.9" rx="5.7" ry="1.4" transform="rotate(-20 219.2 129.9)" fill="none" stroke="#c2b2de" stroke-width="1.84" stroke-opacity="0.7"/>
<ellipse cx="209.0" cy="134.3" rx="1.4" ry="5.0" transform="rotate(-30 209.0 134.3)" fill="none" stroke="#c2b2de" stroke-width="1.84" stroke-opacity="0.7"/>
<ellipse cx="228.4" cy="137.9" rx="1.4" ry="6.4" transform="rotate(20 228.4 137.9)" fill="none" stroke="#c2b2de" stroke-width="1.84" stroke-opacity="0.7"/>
<ellipse cx="221.7" cy="150.6" rx="7.1" ry="2.1" transform="rotate(-15 221.7 150.6)" fill="none" stroke="#c2b2de" stroke-width="1.84" stroke-opacity="0.7"/>
<ellipse cx="210.0" cy="147.1" rx="2.1" ry="1.4" fill="none" stroke="#c2b2de" stroke-width="1.84" stroke-opacity="0.7"/>
<ellipse cx="239.0" cy="154.1" rx="2.5" ry="7.1" transform="rotate(30 239.0 154.1)" fill="none" stroke="#c2b2de" stroke-width="1.84" stroke-opacity="0.7"/>
<ellipse cx="204.3" cy="169.0" rx="8.5" ry="2.8" transform="rotate(10 204.3 169.0)" fill="none" stroke="#c2b2de" stroke-width="1.84" stroke-opacity="0.7"/>
<ellipse cx="182.4" cy="165.4" rx="2.1" ry="7.1" transform="rotate(-15 182.4 165.4)" fill="none" stroke="#c2b2de" stroke-width="1.84" stroke-opacity="0.7"/>
<ellipse cx="189.5" cy="148.3" rx="5.7" ry="1.4" transform="rotate(30 189.5 148.3)" fill="none" stroke="#c2b2de" stroke-width="1.84" stroke-opacity="0.7"/>
<ellipse cx="227.4" cy="167.9" rx="5.7" ry="2.1" transform="rotate(-20 227.4 167.9)" fill="none" stroke="#c2b2de" stroke-width="1.84" stroke-opacity="0.7"/>
<ellipse cx="239.0" cy="133.3" rx="1.4" ry="5.7" transform="rotate(15 239.0 133.3)" fill="none" stroke="#c2b2de" stroke-width="1.84" stroke-opacity="0.7"/>
<ellipse cx="196.3" cy="139.3" rx="1.4" ry="5.0" transform="rotate(10 196.3 139.3)" fill="none" stroke="#c2b2de" stroke-width="1.84" stroke-opacity="0.7"/>
<ellipse cx="193.7" cy="176.0" rx="5.0" ry="2.1" transform="rotate(20 193.7 176.0)" fill="none" stroke="#c2b2de" stroke-width="1.84" stroke-opacity="0.7"/>
<ellipse cx="217.1" cy="176.8" rx="5.0" ry="2.1" transform="rotate(-10 217.1 176.8)" fill="none" stroke="#c2b2de" stroke-width="1.84" stroke-opacity="0.7"/>
<ellipse cx="241.1" cy="173.2" rx="2.1" ry="4.2" transform="rotate(20 241.1 173.2)" fill="none" stroke="#c2b2de" stroke-width="1.84" stroke-opacity="0.7"/>
<ellipse cx="199.4" cy="154.8" rx="3.5" ry="1.4" transform="rotate(-30 199.4 154.8)" fill="none" stroke="#c2b2de" stroke-width="1.84" stroke-opacity="0.7"/>
<defs><filter id="f30" x="0" y="0" width="1" height="1" color-interpolation-filters="sRGB"><feTurbulence type="fractalNoise" baseFrequency="0.6" numOctaves="2" seed="21"/><feColorMatrix type="matrix" values="0 0 0 0 0.518 0 0 0 0 0.455 0 0 0 0 0.769 6 0 0 0 -2.7"/><feComposite in2="SourceAlpha" operator="in"/></filter></defs>
<g filter="url(#f30)" opacity="0.8">
<ellipse cx="181.3" cy="133.3" rx="1.4" ry="9.9" transform="rotate(-20 181.3 133.3)" fill="none" stroke="#000" stroke-width="1.84"/>
<ellipse cx="192.9" cy="125.1" rx="1.4" ry="6.4" transform="rotate(20 192.9 125.1)" fill="none" stroke="#000" stroke-width="1.84"/>
<ellipse cx="204.3" cy="118.1" rx="1.4" ry="5.7" transform="rotate(-10 204.3 118.1)" fill="none" stroke="#000" stroke-width="1.84"/>
<ellipse cx="214.7" cy="117.2" rx="1.4" ry="5.7" transform="rotate(10 214.7 117.2)" fill="none" stroke="#000" stroke-width="1.84"/>
<ellipse cx="225.1" cy="121.6" rx="1.4" ry="5.7" transform="rotate(30 225.1 121.6)" fill="none" stroke="#000" stroke-width="1.84"/>
<ellipse cx="219.2" cy="129.9" rx="5.7" ry="1.4" transform="rotate(-20 219.2 129.9)" fill="none" stroke="#000" stroke-width="1.84"/>
<ellipse cx="209.0" cy="134.3" rx="1.4" ry="5.0" transform="rotate(-30 209.0 134.3)" fill="none" stroke="#000" stroke-width="1.84"/>
<ellipse cx="228.4" cy="137.9" rx="1.4" ry="6.4" transform="rotate(20 228.4 137.9)" fill="none" stroke="#000" stroke-width="1.84"/>
<ellipse cx="221.7" cy="150.6" rx="7.1" ry="2.1" transform="rotate(-15 221.7 150.6)" fill="none" stroke="#000" stroke-width="1.84"/>
<ellipse cx="210.0" cy="147.1" rx="2.1" ry="1.4" fill="none" stroke="#000" stroke-width="1.84"/>
<ellipse cx="239.0" cy="154.1" rx="2.5" ry="7.1" transform="rotate(30 239.0 154.1)" fill="none" stroke="#000" stroke-width="1.84"/>
<ellipse cx="204.3" cy="169.0" rx="8.5" ry="2.8" transform="rotate(10 204.3 169.0)" fill="none" stroke="#000" stroke-width="1.84"/>
<ellipse cx="182.4" cy="165.4" rx="2.1" ry="7.1" transform="rotate(-15 182.4 165.4)" fill="none" stroke="#000" stroke-width="1.84"/>
<ellipse cx="189.5" cy="148.3" rx="5.7" ry="1.4" transform="rotate(30 189.5 148.3)" fill="none" stroke="#000" stroke-width="1.84"/>
<ellipse cx="227.4" cy="167.9" rx="5.7" ry="2.1" transform="rotate(-20 227.4 167.9)" fill="none" stroke="#000" stroke-width="1.84"/>
<ellipse cx="239.0" cy="133.3" rx="1.4" ry="5.7" transform="rotate(15 239.0 133.3)" fill="none" stroke="#000" stroke-width="1.84"/>
<ellipse cx="196.3" cy="139.3" rx="1.4" ry="5.0" transform="rotate(10 196.3 139.3)" fill="none" stroke="#000" stroke-width="1.84"/>
<ellipse cx="193.7" cy="176.0" rx="5.0" ry="2.1" transform="rotate(20 193.7 176.0)" fill="none" stroke="#000" stroke-width="1.84"/>
<ellipse cx="217.1" cy="176.8" rx="5.0" ry="2.1" transform="rotate(-10 217.1 176.8)" fill="none" stroke="#000" stroke-width="1.84"/>
<ellipse cx="241.1" cy="173.2" rx="2.1" ry="4.2" transform="rotate(20 241.1 173.2)" fill="none" stroke="#000" stroke-width="1.84"/>
<ellipse cx="199.4" cy="154.8" rx="3.5" ry="1.4" transform="rotate(-30 199.4 154.8)" fill="none" stroke="#000" stroke-width="1.84"/>
</g>
<defs><filter id="f31" x="0" y="0" width="1" height="1" color-interpolation-filters="sRGB"><feTurbulence type="fractalNoise" baseFrequency="0.7" numOctaves="2" seed="31"/><feColorMatrix type="matrix" values="0 0 0 0 0.800 0 0 0 0 0.424 0 0 0 0 0.682 6 0 0 0 -3.3"/><feComposite in2="SourceAlpha" operator="in"/></filter></defs>
<g filter="url(#f31)" opacity="0.5">
<ellipse cx="181.3" cy="133.3" rx="1.4" ry="9.9" transform="rotate(-20 181.3 133.3)" fill="none" stroke="#000" stroke-width="1.84"/>
<ellipse cx="192.9" cy="125.1" rx="1.4" ry="6.4" transform="rotate(20 192.9 125.1)" fill="none" stroke="#000" stroke-width="1.84"/>
<ellipse cx="204.3" cy="118.1" rx="1.4" ry="5.7" transform="rotate(-10 204.3 118.1)" fill="none" stroke="#000" stroke-width="1.84"/>
<ellipse cx="214.7" cy="117.2" rx="1.4" ry="5.7" transform="rotate(10 214.7 117.2)" fill="none" stroke="#000" stroke-width="1.84"/>
<ellipse cx="225.1" cy="121.6" rx="1.4" ry="5.7" transform="rotate(30 225.1 121.6)" fill="none" stroke="#000" stroke-width="1.84"/>
<ellipse cx="219.2" cy="129.9" rx="5.7" ry="1.4" transform="rotate(-20 219.2 129.9)" fill="none" stroke="#000" stroke-width="1.84"/>
<ellipse cx="209.0" cy="134.3" rx="1.4" ry="5.0" transform="rotate(-30 209.0 134.3)" fill="none" stroke="#000" stroke-width="1.84"/>
<ellipse cx="228.4" cy="137.9" rx="1.4" ry="6.4" transform="rotate(20 228.4 137.9)" fill="none" stroke="#000" stroke-width="1.84"/>
<ellipse cx="221.7" cy="150.6" rx="7.1" ry="2.1" transform="rotate(-15 221.7 150.6)" fill="none" stroke="#000" stroke-width="1.84"/>
<ellipse cx="210.0" cy="147.1" rx="2.1" ry="1.4" fill="none" stroke="#000" stroke-width="1.84"/>
<ellipse cx="239.0" cy="154.1" rx="2.5" ry="7.1" transform="rotate(30 239.0 154.1)" fill="none" stroke="#000" stroke-width="1.84"/>
<ellipse cx="204.3" cy="169.0" rx="8.5" ry="2.8" transform="rotate(10 204.3 169.0)" fill="none" stroke="#000" stroke-width="1.84"/>
<ellipse cx="182.4" cy="165.4" rx="2.1" ry="7.1" transform="rotate(-15 182.4 165.4)" fill="none" stroke="#000" stroke-width="1.84"/>
<ellipse cx="189.5" cy="148.3" rx="5.7" ry="1.4" transform="rotate(30 189.5 148.3)" fill="none" stroke="#000" stroke-width="1.84"/>
<ellipse cx="227.4" cy="167.9" rx="5.7" ry="2.1" transform="rotate(-20 227.4 167.9)" fill="none" stroke="#000" stroke-width="1.84"/>
<ellipse cx="239.0" cy="133.3" rx="1.4" ry="5.7" transform="rotate(15 239.0 133.3)" fill="none" stroke="#000" stroke-width="1.84"/>
<ellipse cx="196.3" cy="139.3" rx="1.4" ry="5.0" transform="rotate(10 196.3 139.3)" fill="none" stroke="#000" stroke-width="1.84"/>
<ellipse cx="193.7" cy="176.0" rx="5.0" ry="2.1" transform="rotate(20 193.7 176.0)" fill="none" stroke="#000" stroke-width="1.84"/>
<ellipse cx="217.1" cy="176.8" rx="5.0" ry="2.1" transform="rotate(-10 217.1 176.8)" fill="none" stroke="#000" stroke-width="1.84"/>
<ellipse cx="241.1" cy="173.2" rx="2.1" ry="4.2" transform="rotate(20 241.1 173.2)" fill="none" stroke="#000" stroke-width="1.84"/>
<ellipse cx="199.4" cy="154.8" rx="3.5" ry="1.4" transform="rotate(-30 199.4 154.8)" fill="none" stroke="#000" stroke-width="1.84"/>
</g>
</g>
</g>
<clipPath id="c32"><rect x="249.00" y="111.00" width="76.90" height="70.70"/></clipPath>
<g clip-path="url(#c32)">
<rect x="249.00" y="111.00" width="76.90" height="70.70" fill="#eeecf3"/>
<defs><filter id="f33" x="0" y="0" width="1" height="1" color-interpolation-filters="sRGB"><feTurbulence type="fractalNoise" baseFrequency="0.045 0.11" numOctaves="2" seed="13"/><feColorMatrix type="matrix" values="0 0 0 0 0.839 0 0 0 0 0.827 0 0 0 0 0.902 4 0 0 0 -1.8"/></filter></defs>
<rect x="249.00" y="111.00" width="76.90" height="70.70" fill="#000" filter="url(#f33)" opacity="0.45"/>
<defs><filter id="f34" x="0" y="0" width="1" height="1" color-interpolation-filters="sRGB"><feTurbulence type="fractalNoise" baseFrequency="0.3" numOctaves="2" seed="14"/><feColorMatrix type="matrix" values="0 0 0 0 0.596 0 0 0 0 0.573 0 0 0 0 0.816 4.5 0 0 0 -2.7"/></filter></defs>
<rect x="249.00" y="111.00" width="76.90" height="70.70" fill="#000" filter="url(#f34)" opacity="0.7"/>
<defs><filter id="f35" filterUnits="userSpaceOnUse" x="241.0" y="103.0" width="92.9" height="86.7" color-interpolation-filters="sRGB"><feTurbulence type="fractalNoise" baseFrequency="0.025" numOctaves="2" seed="43" result="t"/><feDisplacementMap in="SourceGraphic" in2="t" scale="13.928809012737986" xChannelSelector="R" yChannelSelector="G"/><feGaussianBlur stdDeviation="0.4242640687119285"/></filter></defs>
<g filter="url(#f35)">
<defs><filter id="f36" x="-20%" y="-20%" width="140%" height="140%"><feGaussianBlur stdDeviation="0.7071067811865476"/></filter></defs>
<g filter="url(#f36)">
<ellipse cx="268.8" cy="126.4" rx="2.2" ry="11.1" transform="rotate(-35 268.8 126.4)" fill="#efeaf5"/>
<ellipse cx="299.0" cy="119.5" rx="9.6" ry="2.6" transform="rotate(-15 299.0 119.5)" fill="#efeaf5"/>
<ellipse cx="317.4" cy="133.3" rx="2.6" ry="9.6" transform="rotate(-20 317.4 133.3)" fill="#efeaf5"/>
<ellipse cx="301.3" cy="142.5" rx="8.9" ry="2.6" transform="rotate(-25 301.3 142.5)" fill="#efeaf5"/>
<ellipse cx="288.2" cy="150.6" rx="2.2" ry="1.5" fill="#efeaf5"/>
<ellipse cx="306.7" cy="161.0" rx="16.2" ry="4.4" transform="rotate(-12 306.7 161.0)" fill="#efeaf5"/>
<ellipse cx="258.2" cy="157.5" rx="2.6" ry="6.6" transform="rotate(-10 258.2 157.5)" fill="#efeaf5"/>
<ellipse cx="273.6" cy="165.4" rx="2.6" ry="7.4" transform="rotate(20 273.6 165.4)" fill="#efeaf5"/>
<ellipse cx="289.8" cy="171.1" rx="3.0" ry="7.4" transform="rotate(25 289.8 171.1)" fill="#efeaf5"/>
<ellipse cx="255.2" cy="130.8" rx="1.5" ry="4.4" fill="#efeaf5"/>
<ellipse cx="319.7" cy="176.0" rx="5.9" ry="2.2" transform="rotate(-10 319.7 176.0)" fill="#efeaf5"/>
</g>
<ellipse cx="268.8" cy="126.4" rx="2.2" ry="11.1" transform="rotate(-35 268.8 126.4)" fill="none" stroke="#c2b2de" stroke-width="3.69" stroke-opacity="0.7"/>
<ellipse cx="299.0" cy="119.5" rx="9.6" ry="2.6" transform="rotate(-15 299.0 119.5)" fill="none" stroke="#c2b2de" stroke-width="3.69" stroke-opacity="0.7"/>
<ellipse cx="317.4" cy="133.3" rx="2.6" ry="9.6" transform="rotate(-20 317.4 133.3)" fill="none" stroke="#c2b2de" stroke-width="3.69" stroke-opacity="0.7"/>
<ellipse cx="301.3" cy="142.5" rx="8.9" ry="2.6" transform="rotate(-25 301.3 142.5)" fill="none" stroke="#c2b2de" stroke-width="3.69" stroke-opacity="0.7"/>
<ellipse cx="288.2" cy="150.6" rx="2.2" ry="1.5" fill="none" stroke="#c2b2de" stroke-width="3.69" stroke-opacity="0.7"/>
<ellipse cx="306.7" cy="161.0" rx="16.2" ry="4.4" transform="rotate(-12 306.7 161.0)" fill="none" stroke="#c2b2de" stroke-width="3.69" stroke-opacity="0.7"/>
<ellipse cx="258.2" cy="157.5" rx="2.6" ry="6.6" transform="rotate(-10 258.2 157.5)" fill="none" stroke="#c2b2de" stroke-width="3.69" stroke-opacity="0.7"/>
<ellipse cx="273.6" cy="165.4" rx="2.6" ry="7.4" transform="rotate(20 273.6 165.4)" fill="none" stroke="#c2b2de" stroke-width="3.69" stroke-opacity="0.7"/>
<ellipse cx="289.8" cy="171.1" rx="3.0" ry="7.4" transform="rotate(25 289.8 171.1)" fill="none" stroke="#c2b2de" stroke-width="3.69" stroke-opacity="0.7"/>
<ellipse cx="255.2" cy="130.8" rx="1.5" ry="4.4" fill="none" stroke="#c2b2de" stroke-width="3.69" stroke-opacity="0.7"/>
<ellipse cx="319.7" cy="176.0" rx="5.9" ry="2.2" transform="rotate(-10 319.7 176.0)" fill="none" stroke="#c2b2de" stroke-width="3.69" stroke-opacity="0.7"/>
<defs><filter id="f37" x="0" y="0" width="1" height="1" color-interpolation-filters="sRGB"><feTurbulence type="fractalNoise" baseFrequency="0.3" numOctaves="2" seed="23"/><feColorMatrix type="matrix" values="0 0 0 0 0.518 0 0 0 0 0.455 0 0 0 0 0.769 6 0 0 0 -2.7"/><feComposite in2="SourceAlpha" operator="in"/></filter></defs>
<g filter="url(#f37)" opacity="0.8">
<ellipse cx="268.8" cy="126.4" rx="2.2" ry="11.1" transform="rotate(-35 268.8 126.4)" fill="none" stroke="#000" stroke-width="3.69"/>
<ellipse cx="299.0" cy="119.5" rx="9.6" ry="2.6" transform="rotate(-15 299.0 119.5)" fill="none" stroke="#000" stroke-width="3.69"/>
<ellipse cx="317.4" cy="133.3" rx="2.6" ry="9.6" transform="rotate(-20 317.4 133.3)" fill="none" stroke="#000" stroke-width="3.69"/>
<ellipse cx="301.3" cy="142.5" rx="8.9" ry="2.6" transform="rotate(-25 301.3 142.5)" fill="none" stroke="#000" stroke-width="3.69"/>
<ellipse cx="288.2" cy="150.6" rx="2.2" ry="1.5" fill="none" stroke="#000" stroke-width="3.69"/>
<ellipse cx="306.7" cy="161.0" rx="16.2" ry="4.4" transform="rotate(-12 306.7 161.0)" fill="none" stroke="#000" stroke-width="3.69"/>
<ellipse cx="258.2" cy="157.5" rx="2.6" ry="6.6" transform="rotate(-10 258.2 157.5)" fill="none" stroke="#000" stroke-width="3.69"/>
<ellipse cx="273.6" cy="165.4" rx="2.6" ry="7.4" transform="rotate(20 273.6 165.4)" fill="none" stroke="#000" stroke-width="3.69"/>
<ellipse cx="289.8" cy="171.1" rx="3.0" ry="7.4" transform="rotate(25 289.8 171.1)" fill="none" stroke="#000" stroke-width="3.69"/>
<ellipse cx="255.2" cy="130.8" rx="1.5" ry="4.4" fill="none" stroke="#000" stroke-width="3.69"/>
<ellipse cx="319.7" cy="176.0" rx="5.9" ry="2.2" transform="rotate(-10 319.7 176.0)" fill="none" stroke="#000" stroke-width="3.69"/>
</g>
<defs><filter id="f38" x="0" y="0" width="1" height="1" color-interpolation-filters="sRGB"><feTurbulence type="fractalNoise" baseFrequency="0.35" numOctaves="2" seed="33"/><feColorMatrix type="matrix" values="0 0 0 0 0.800 0 0 0 0 0.424 0 0 0 0 0.682 6 0 0 0 -3.3"/><feComposite in2="SourceAlpha" operator="in"/></filter></defs>
<g filter="url(#f38)" opacity="0.5">
<ellipse cx="268.8" cy="126.4" rx="2.2" ry="11.1" transform="rotate(-35 268.8 126.4)" fill="none" stroke="#000" stroke-width="3.69"/>
<ellipse cx="299.0" cy="119.5" rx="9.6" ry="2.6" transform="rotate(-15 299.0 119.5)" fill="none" stroke="#000" stroke-width="3.69"/>
<ellipse cx="317.4" cy="133.3" rx="2.6" ry="9.6" transform="rotate(-20 317.4 133.3)" fill="none" stroke="#000" stroke-width="3.69"/>
<ellipse cx="301.3" cy="142.5" rx="8.9" ry="2.6" transform="rotate(-25 301.3 142.5)" fill="none" stroke="#000" stroke-width="3.69"/>
<ellipse cx="288.2" cy="150.6" rx="2.2" ry="1.5" fill="none" stroke="#000" stroke-width="3.69"/>
<ellipse cx="306.7" cy="161.0" rx="16.2" ry="4.4" transform="rotate(-12 306.7 161.0)" fill="none" stroke="#000" stroke-width="3.69"/>
<ellipse cx="258.2" cy="157.5" rx="2.6" ry="6.6" transform="rotate(-10 258.2 157.5)" fill="none" stroke="#000" stroke-width="3.69"/>
<ellipse cx="273.6" cy="165.4" rx="2.6" ry="7.4" transform="rotate(20 273.6 165.4)" fill="none" stroke="#000" stroke-width="3.69"/>
<ellipse cx="289.8" cy="171.1" rx="3.0" ry="7.4" transform="rotate(25 289.8 171.1)" fill="none" stroke="#000" stroke-width="3.69"/>
<ellipse cx="255.2" cy="130.8" rx="1.5" ry="4.4" fill="none" stroke="#000" stroke-width="3.69"/>
<ellipse cx="319.7" cy="176.0" rx="5.9" ry="2.2" transform="rotate(-10 319.7 176.0)" fill="none" stroke="#000" stroke-width="3.69"/>
</g>
</g>
</g>
<clipPath id="c39"><rect x="331.10" y="111.00" width="71.30" height="70.70"/></clipPath>
<g clip-path="url(#c39)">
<rect x="331.10" y="111.00" width="71.30" height="70.70" fill="#edeaf2"/>
<defs><filter id="f40" x="0" y="0" width="1" height="1" color-interpolation-filters="sRGB"><feTurbulence type="fractalNoise" baseFrequency="0.09 0.22" numOctaves="2" seed="15"/><feColorMatrix type="matrix" values="0 0 0 0 0.839 0 0 0 0 0.824 0 0 0 0 0.902 4 0 0 0 -1.8"/></filter></defs>
<rect x="331.10" y="111.00" width="71.30" height="70.70" fill="#000" filter="url(#f40)" opacity="0.45"/>
<defs><filter id="f41" x="0" y="0" width="1" height="1" color-interpolation-filters="sRGB"><feTurbulence type="fractalNoise" baseFrequency="0.55" numOctaves="2" seed="16"/><feColorMatrix type="matrix" values="0 0 0 0 0.596 0 0 0 0 0.573 0 0 0 0 0.816 4.5 0 0 0 -2.55"/></filter></defs>
<rect x="331.10" y="111.00" width="71.30" height="70.70" fill="#000" filter="url(#f41)" opacity="0.7"/>
<defs><filter id="f42" filterUnits="userSpaceOnUse" x="323.1" y="103.0" width="87.3" height="86.7" color-interpolation-filters="sRGB"><feTurbulence type="fractalNoise" baseFrequency="0.05" numOctaves="2" seed="45" result="t"/><feDisplacementMap in="SourceGraphic" in2="t" scale="8.0" xChannelSelector="R" yChannelSelector="G"/><feGaussianBlur stdDeviation="0.3"/></filter></defs>
<g filter="url(#f42)">
<defs><filter id="f43" x="-20%" y="-20%" width="140%" height="140%"><feGaussianBlur stdDeviation="0.5"/></filter></defs>
<g filter="url(#f43)">
<ellipse cx="358.0" cy="126.6" rx="1.8" ry="8.5" transform="rotate(5 358.0 126.6)" fill="#f9f7fb"/>
<ellipse cx="373.0" cy="125.8" rx="7.8" ry="8.5" fill="#f9f7fb"/>
<ellipse cx="348.8" cy="140.3" rx="4.3" ry="5.0" fill="#f9f7fb"/>
<ellipse cx="341.1" cy="146.0" rx="1.8" ry="2.8" fill="#f9f7fb"/>
<ellipse cx="349.9" cy="157.7" rx="5.3" ry="5.3" fill="#f9f7fb"/>
<ellipse cx="366.0" cy="153.4" rx="5.0" ry="10.6" transform="rotate(-15 366.0 153.4)" fill="#f9f7fb"/>
<ellipse cx="366.0" cy="171.1" rx="9.2" ry="3.2" fill="#f9f7fb"/>
<ellipse cx="383.9" cy="171.1" rx="2.8" ry="2.8" fill="#f9f7fb"/>
</g>
<ellipse cx="358.0" cy="126.6" rx="1.8" ry="8.5" transform="rotate(5 358.0 126.6)" fill="none" stroke="#bfa4d8" stroke-width="4.62" stroke-opacity="0.75"/>
<ellipse cx="373.0" cy="125.8" rx="7.8" ry="8.5" fill="none" stroke="#bfa4d8" stroke-width="4.62" stroke-opacity="0.75"/>
<ellipse cx="348.8" cy="140.3" rx="4.3" ry="5.0" fill="none" stroke="#bfa4d8" stroke-width="4.62" stroke-opacity="0.75"/>
<ellipse cx="341.1" cy="146.0" rx="1.8" ry="2.8" fill="none" stroke="#bfa4d8" stroke-width="4.62" stroke-opacity="0.75"/>
<ellipse cx="349.9" cy="157.7" rx="5.3" ry="5.3" fill="none" stroke="#bfa4d8" stroke-width="4.62" stroke-opacity="0.75"/>
<ellipse cx="366.0" cy="153.4" rx="5.0" ry="10.6" transform="rotate(-15 366.0 153.4)" fill="none" stroke="#bfa4d8" stroke-width="4.62" stroke-opacity="0.75"/>
<ellipse cx="366.0" cy="171.1" rx="9.2" ry="3.2" fill="none" stroke="#bfa4d8" stroke-width="4.62" stroke-opacity="0.75"/>
<ellipse cx="383.9" cy="171.1" rx="2.8" ry="2.8" fill="none" stroke="#bfa4d8" stroke-width="4.62" stroke-opacity="0.75"/>
<ellipse cx="383.9" cy="150.6" rx="6.0" ry="6.7" fill="#bfa4d8" fill-opacity="0.75"/>
<defs><filter id="f44" x="0" y="0" width="1" height="1" color-interpolation-filters="sRGB"><feTurbulence type="fractalNoise" baseFrequency="0.6" numOctaves="2" seed="25"/><feColorMatrix type="matrix" values="0 0 0 0 0.471 0 0 0 0 0.408 0 0 0 0 0.737 6 0 0 0 -2.7"/><feComposite in2="SourceAlpha" operator="in"/></filter></defs>
<g filter="url(#f44)" opacity="0.8">
<ellipse cx="358.0" cy="126.6" rx="1.8" ry="8.5" transform="rotate(5 358.0 126.6)" fill="none" stroke="#000" stroke-width="4.62"/>
<ellipse cx="373.0" cy="125.8" rx="7.8" ry="8.5" fill="none" stroke="#000" stroke-width="4.62"/>
<ellipse cx="348.8" cy="140.3" rx="4.3" ry="5.0" fill="none" stroke="#000" stroke-width="4.62"/>
<ellipse cx="341.1" cy="146.0" rx="1.8" ry="2.8" fill="none" stroke="#000" stroke-width="4.62"/>
<ellipse cx="349.9" cy="157.7" rx="5.3" ry="5.3" fill="none" stroke="#000" stroke-width="4.62"/>
<ellipse cx="366.0" cy="153.4" rx="5.0" ry="10.6" transform="rotate(-15 366.0 153.4)" fill="none" stroke="#000" stroke-width="4.62"/>
<ellipse cx="366.0" cy="171.1" rx="9.2" ry="3.2" fill="none" stroke="#000" stroke-width="4.62"/>
<ellipse cx="383.9" cy="171.1" rx="2.8" ry="2.8" fill="none" stroke="#000" stroke-width="4.62"/>
<ellipse cx="383.9" cy="150.6" rx="6.0" ry="6.7" fill="#000"/>
</g>
<defs><filter id="f45" x="0" y="0" width="1" height="1" color-interpolation-filters="sRGB"><feTurbulence type="fractalNoise" baseFrequency="0.65" numOctaves="2" seed="35"/><feColorMatrix type="matrix" values="0 0 0 0 0.800 0 0 0 0 0.337 0 0 0 0 0.635 6.5 0 0 0 -3.35"/><feComposite in2="SourceAlpha" operator="in"/></filter></defs>
<g filter="url(#f45)" opacity="0.48">
<ellipse cx="358.0" cy="126.6" rx="1.8" ry="8.5" transform="rotate(5 358.0 126.6)" fill="none" stroke="#000" stroke-width="4.62"/>
<ellipse cx="373.0" cy="125.8" rx="7.8" ry="8.5" fill="none" stroke="#000" stroke-width="4.62"/>
<ellipse cx="348.8" cy="140.3" rx="4.3" ry="5.0" fill="none" stroke="#000" stroke-width="4.62"/>
<ellipse cx="341.1" cy="146.0" rx="1.8" ry="2.8" fill="none" stroke="#000" stroke-width="4.62"/>
<ellipse cx="349.9" cy="157.7" rx="5.3" ry="5.3" fill="none" stroke="#000" stroke-width="4.62"/>
<ellipse cx="366.0" cy="153.4" rx="5.0" ry="10.6" transform="rotate(-15 366.0 153.4)" fill="none" stroke="#000" stroke-width="4.62"/>
<ellipse cx="366.0" cy="171.1" rx="9.2" ry="3.2" fill="none" stroke="#000" stroke-width="4.62"/>
<ellipse cx="383.9" cy="171.1" rx="2.8" ry="2.8" fill="none" stroke="#000" stroke-width="4.62"/>
<ellipse cx="383.9" cy="150.6" rx="6.0" ry="6.7" fill="#000"/>
</g>
</g>
</g>
<clipPath id="c46"><rect x="404.60" y="111.00" width="77.70" height="70.70"/></clipPath>
<g clip-path="url(#c46)">
<rect x="404.60" y="111.00" width="77.70" height="70.70" fill="#edeaf2"/>
<defs><filter id="f47" x="0" y="0" width="1" height="1" color-interpolation-filters="sRGB"><feTurbulence type="fractalNoise" baseFrequency="0.045 0.11" numOctaves="2" seed="17"/><feColorMatrix type="matrix" values="0 0 0 0 0.839 0 0 0 0 0.824 0 0 0 0 0.902 4 0 0 0 -1.8"/></filter></defs>
<rect x="404.60" y="111.00" width="77.70" height="70.70" fill="#000" filter="url(#f47)" opacity="0.45"/>
<defs><filter id="f48" x="0" y="0" width="1" height="1" color-interpolation-filters="sRGB"><feTurbulence type="fractalNoise" baseFrequency="0.275" numOctaves="2" seed="18"/><feColorMatrix type="matrix" values="0 0 0 0 0.596 0 0 0 0 0.573 0 0 0 0 0.816 4.5 0 0 0 -2.55"/></filter></defs>
<rect x="404.60" y="111.00" width="77.70" height="70.70" fill="#000" filter="url(#f48)" opacity="0.7"/>
<defs><filter id="f49" filterUnits="userSpaceOnUse" x="396.6" y="103.0" width="93.7" height="86.7" color-interpolation-filters="sRGB"><feTurbulence type="fractalNoise" baseFrequency="0.025" numOctaves="2" seed="47" result="t"/><feDisplacementMap in="SourceGraphic" in2="t" scale="13.928809012737986" xChannelSelector="R" yChannelSelector="G"/><feGaussianBlur stdDeviation="0.4242640687119285"/></filter></defs>
<g filter="url(#f49)">
<defs><filter id="f50" x="-20%" y="-20%" width="140%" height="140%"><feGaussianBlur stdDeviation="0.7071067811865476"/></filter></defs>
<g filter="url(#f50)">
<ellipse cx="455.9" cy="123.0" rx="17.1" ry="8.9" transform="rotate(8 455.9 123.0)" fill="#f9f7fb"/>
<ellipse cx="413.9" cy="137.2" rx="6.7" ry="30.4" transform="rotate(-18 413.9 137.2)" fill="#f9f7fb"/>
<ellipse cx="436.5" cy="158.4" rx="13.4" ry="5.9" transform="rotate(32 436.5 158.4)" fill="#f9f7fb"/>
<ellipse cx="428.7" cy="183.8" rx="12.6" ry="5.9" fill="#f9f7fb"/>
<ellipse cx="482.3" cy="132.2" rx="3.0" ry="10.4" fill="#f9f7fb"/>
</g>
<ellipse cx="455.9" cy="123.0" rx="17.1" ry="8.9" transform="rotate(8 455.9 123.0)" fill="none" stroke="#bfa4d8" stroke-width="8.53" stroke-opacity="0.75"/>
<ellipse cx="413.9" cy="137.2" rx="6.7" ry="30.4" transform="rotate(-18 413.9 137.2)" fill="none" stroke="#bfa4d8" stroke-width="8.53" stroke-opacity="0.75"/>
<ellipse cx="436.5" cy="158.4" rx="13.4" ry="5.9" transform="rotate(32 436.5 158.4)" fill="none" stroke="#bfa4d8" stroke-width="8.53" stroke-opacity="0.75"/>
<ellipse cx="428.7" cy="183.8" rx="12.6" ry="5.9" fill="none" stroke="#bfa4d8" stroke-width="8.53" stroke-opacity="0.75"/>
<ellipse cx="482.3" cy="132.2" rx="3.0" ry="10.4" fill="none" stroke="#bfa4d8" stroke-width="8.53" stroke-opacity="0.75"/>
<ellipse cx="469.9" cy="158.7" rx="11.1" ry="11.1" fill="#bfa4d8" fill-opacity="0.75"/>
<defs><filter id="f51" x="0" y="0" width="1" height="1" color-interpolation-filters="sRGB"><feTurbulence type="fractalNoise" baseFrequency="0.3" numOctaves="2" seed="27"/><feColorMatrix type="matrix" values="0 0 0 0 0.471 0 0 0 0 0.408 0 0 0 0 0.737 6 0 0 0 -2.7"/><feComposite in2="SourceAlpha" operator="in"/></filter></defs>
<g filter="url(#f51)" opacity="0.8">
<ellipse cx="455.9" cy="123.0" rx="17.1" ry="8.9" transform="rotate(8 455.9 123.0)" fill="none" stroke="#000" stroke-width="8.53"/>
<ellipse cx="413.9" cy="137.2" rx="6.7" ry="30.4" transform="rotate(-18 413.9 137.2)" fill="none" stroke="#000" stroke-width="8.53"/>
<ellipse cx="436.5" cy="158.4" rx="13.4" ry="5.9" transform="rotate(32 436.5 158.4)" fill="none" stroke="#000" stroke-width="8.53"/>
<ellipse cx="428.7" cy="183.8" rx="12.6" ry="5.9" fill="none" stroke="#000" stroke-width="8.53"/>
<ellipse cx="482.3" cy="132.2" rx="3.0" ry="10.4" fill="none" stroke="#000" stroke-width="8.53"/>
<ellipse cx="469.9" cy="158.7" rx="11.1" ry="11.1" fill="#000"/>
</g>
<defs><filter id="f52" x="0" y="0" width="1" height="1" color-interpolation-filters="sRGB"><feTurbulence type="fractalNoise" baseFrequency="0.325" numOctaves="2" seed="37"/><feColorMatrix type="matrix" values="0 0 0 0 0.800 0 0 0 0 0.337 0 0 0 0 0.635 6.5 0 0 0 -3.35"/><feComposite in2="SourceAlpha" operator="in"/></filter></defs>
<g filter="url(#f52)" opacity="0.48">
<ellipse cx="455.9" cy="123.0" rx="17.1" ry="8.9" transform="rotate(8 455.9 123.0)" fill="none" stroke="#000" stroke-width="8.53"/>
<ellipse cx="413.9" cy="137.2" rx="6.7" ry="30.4" transform="rotate(-18 413.9 137.2)" fill="none" stroke="#000" stroke-width="8.53"/>
<ellipse cx="436.5" cy="158.4" rx="13.4" ry="5.9" transform="rotate(32 436.5 158.4)" fill="none" stroke="#000" stroke-width="8.53"/>
<ellipse cx="428.7" cy="183.8" rx="12.6" ry="5.9" fill="none" stroke="#000" stroke-width="8.53"/>
<ellipse cx="482.3" cy="132.2" rx="3.0" ry="10.4" fill="none" stroke="#000" stroke-width="8.53"/>
<ellipse cx="469.9" cy="158.7" rx="11.1" ry="11.1" fill="#000"/>
</g>
</g>
</g>
<rect x="175.70" y="35.70" width="11.70" height="12.70" fill="#1b1b1b"/>
<text transform="translate(181.70 46.74) scale(0.9200 1)" font-size="12.6" text-anchor="middle" fill="#fff">0</text>
<rect x="249.00" y="36.00" width="76.90" height="70.80" fill="none" stroke="#141414" stroke-width="1.6"/>
<rect x="330.80" y="35.70" width="11.70" height="12.70" fill="#1b1b1b"/>
<text transform="translate(336.80 46.74) scale(0.9200 1)" font-size="12.6" text-anchor="middle" fill="#fff">1</text>
<rect x="404.60" y="36.00" width="77.70" height="70.80" fill="none" stroke="#141414" stroke-width="1.6"/>
<rect x="175.70" y="110.70" width="11.70" height="12.70" fill="#1b1b1b"/>
<text transform="translate(181.70 121.74) scale(0.9200 1)" font-size="12.6" text-anchor="middle" fill="#fff">2</text>
<rect x="249.00" y="111.00" width="76.90" height="70.70" fill="none" stroke="#141414" stroke-width="1.6"/>
<rect x="330.80" y="110.70" width="11.70" height="12.70" fill="#1b1b1b"/>
<text transform="translate(336.80 121.74) scale(0.9200 1)" font-size="12.6" text-anchor="middle" fill="#fff">3</text>
<rect x="404.60" y="111.00" width="77.70" height="70.70" fill="none" stroke="#141414" stroke-width="1.6"/>
<rect x="190.8" y="39.7" width="32.4" height="33.0" fill="none" stroke="#1a1a1a" stroke-width="1.65" stroke-dasharray="3.4 1.9"/>
<line x1="223.20" y1="39.70" x2="249.00" y2="36.00" stroke="#1a1a1a" stroke-width="1.45" stroke-dasharray="3.4 1.9"/>
<line x1="223.20" y1="72.70" x2="249.00" y2="106.80" stroke="#1a1a1a" stroke-width="1.45" stroke-dasharray="3.4 1.9"/>
<rect x="347.7" y="54.6" width="32.8" height="32.2" fill="none" stroke="#1a1a1a" stroke-width="1.65" stroke-dasharray="3.4 1.9"/>
<line x1="380.50" y1="54.60" x2="404.60" y2="36.00" stroke="#1a1a1a" stroke-width="1.45" stroke-dasharray="3.4 1.9"/>
<line x1="380.50" y1="86.80" x2="404.60" y2="106.80" stroke="#1a1a1a" stroke-width="1.45" stroke-dasharray="3.4 1.9"/>
<rect x="199.6" y="124.0" width="33.3" height="32.2" fill="none" stroke="#1a1a1a" stroke-width="1.65" stroke-dasharray="3.4 1.9"/>
<line x1="232.90" y1="124.00" x2="249.00" y2="111.00" stroke="#1a1a1a" stroke-width="1.45" stroke-dasharray="3.4 1.9"/>
<line x1="232.90" y1="156.20" x2="249.00" y2="181.70" stroke="#1a1a1a" stroke-width="1.45" stroke-dasharray="3.4 1.9"/>
<rect x="357.4" y="131.2" width="33.3" height="32.5" fill="none" stroke="#1a1a1a" stroke-width="1.65" stroke-dasharray="3.4 1.9"/>
<line x1="390.70" y1="131.20" x2="404.60" y2="111.00" stroke="#1a1a1a" stroke-width="1.45" stroke-dasharray="3.4 1.9"/>
<line x1="390.70" y1="163.70" x2="404.60" y2="181.70" stroke="#1a1a1a" stroke-width="1.45" stroke-dasharray="3.4 1.9"/>
<line x1="178.00" y1="101.80" x2="185.80" y2="101.80" stroke="#1a1a1a" stroke-width="1.5"/>
<line x1="253.20" y1="101.80" x2="269.00" y2="101.80" stroke="#1a1a1a" stroke-width="1.5"/>
<line x1="333.10" y1="101.80" x2="340.90" y2="101.80" stroke="#1a1a1a" stroke-width="1.5"/>
<line x1="408.80" y1="101.80" x2="424.60" y2="101.80" stroke="#1a1a1a" stroke-width="1.5"/>
<line x1="178.00" y1="176.70" x2="185.80" y2="176.70" stroke="#1a1a1a" stroke-width="1.5"/>
<line x1="253.20" y1="176.70" x2="269.00" y2="176.70" stroke="#1a1a1a" stroke-width="1.5"/>
<line x1="333.10" y1="176.70" x2="340.90" y2="176.70" stroke="#1a1a1a" stroke-width="1.5"/>
<line x1="408.80" y1="176.70" x2="424.60" y2="176.70" stroke="#1a1a1a" stroke-width="1.5"/>
<clipPath id="c53"><rect x="50.80" y="224.50" width="81.60" height="80.60"/></clipPath>
<g clip-path="url(#c53)">
<rect x="50.80" y="224.50" width="81.60" height="80.60" fill="#f3f3f3"/>
<defs><filter id="f54" filterUnits="userSpaceOnUse" x="42.8" y="216.5" width="97.6" height="96.6" color-interpolation-filters="sRGB"><feTurbulence type="fractalNoise" baseFrequency="0.08" numOctaves="2" seed="61" result="t"/><feDisplacementMap in="SourceGraphic" in2="t" scale="4" xChannelSelector="R" yChannelSelector="G"/><feGaussianBlur stdDeviation="0.3"/></filter></defs>
<g filter="url(#f54)">
<ellipse cx="91.7" cy="265.7" rx="38.9" ry="38.9" fill="#eaf0f2"/>
<clipPath id="c55"><circle cx="91.7" cy="265.7" r="38.9"/></clipPath>
<g clip-path="url(#c55)">
<defs><filter id="f56" x="0" y="0" width="1" height="1" color-interpolation-filters="sRGB"><feTurbulence type="fractalNoise" baseFrequency="0.5" numOctaves="2" seed="21"/><feColorMatrix type="matrix" values="0 0 0 0 0.643 0 0 0 0 0.769 0 0 0 0 0.800 4 0 0 0 -2.2"/><feComposite in2="SourceAlpha" operator="in"/></filter></defs>
<g filter="url(#f56)" opacity="0.55"><ellipse cx="91.7" cy="265.7" rx="38.9" ry="38.9" fill="#000"/></g>
<defs><filter id="f57" x="0" y="0" width="1" height="1" color-interpolation-filters="sRGB"><feTurbulence type="fractalNoise" baseFrequency="0.25" numOctaves="2" seed="22"/><feColorMatrix type="matrix" values="0 0 0 0 0.722 0 0 0 0 0.706 0 0 0 0 0.863 4 0 0 0 -2.2"/><feComposite in2="SourceAlpha" operator="in"/></filter></defs>
<defs><filter id="f58" x="-20%" y="-20%" width="140%" height="140%"><feGaussianBlur stdDeviation="2.433"/></filter></defs>
<g filter="url(#f57)" opacity="0.5"><ellipse cx="91.6" cy="244.7" rx="17.8" ry="14.6" fill="#000" filter="url(#f58)"/></g>
<defs><filter id="f59" x="0" y="0" width="1" height="1" color-interpolation-filters="sRGB"><feTurbulence type="fractalNoise" baseFrequency="0.25" numOctaves="2" seed="23"/><feColorMatrix type="matrix" values="0 0 0 0 0.310 0 0 0 0 0.588 0 0 0 0 0.635 4 0 0 0 -1.5"/><feComponentTransfer><feFuncA type="table" tableValues="0 0 0.3 0.8 1 0.8 0.3 0 0"/></feComponentTransfer><feComposite in2="SourceAlpha" operator="in"/></filter></defs>
<defs><filter id="f60" x="-20%" y="-20%" width="140%" height="140%"><feGaussianBlur stdDeviation="2.0275"/></filter></defs>
<defs><filter id="f61" x="-20%" y="-20%" width="140%" height="140%"><feGaussianBlur stdDeviation="2.0275"/></filter></defs>
<g filter="url(#f59)" opacity="0.8"><ellipse cx="74.5" cy="282.5" rx="12.2" ry="8.9" transform="rotate(30 74.5 282.5)" fill="#000" filter="url(#f60)"/><ellipse cx="93.2" cy="294.6" rx="13.8" ry="5.7" transform="rotate(-10 93.2 294.6)" fill="#000" filter="url(#f61)"/></g>
<defs><filter id="f62" x="0" y="0" width="1" height="1" color-interpolation-filters="sRGB"><feTurbulence type="fractalNoise" baseFrequency="0.3" numOctaves="2" seed="24"/><feColorMatrix type="matrix" values="0 0 0 0 0.478 0 0 0 0 0.706 0 0 0 0 0.737 5 0 0 0 -2.4"/><feComposite in2="SourceAlpha" operator="in"/></filter></defs>
<defs><filter id="f63" x="-20%" y="-20%" width="140%" height="140%"><feGaussianBlur stdDeviation="2.0275"/></filter></defs>
<defs><filter id="f64" x="-20%" y="-20%" width="140%" height="140%"><feGaussianBlur stdDeviation="2.0275"/></filter></defs>
<g filter="url(#f62)" opacity="0.5"><ellipse cx="74.5" cy="282.5" rx="10.5" ry="7.3" transform="rotate(30 74.5 282.5)" fill="#000" filter="url(#f63)"/><ellipse cx="93.2" cy="294.6" rx="12.2" ry="4.1" transform="rotate(-10 93.2 294.6)" fill="#000" filter="url(#f64)"/></g>
<defs><filter id="f65" x="0" y="0" width="1" height="1" color-interpolation-filters="sRGB"><feTurbulence type="fractalNoise" baseFrequency="0.18" numOctaves="2" seed="25"/><feColorMatrix type="matrix" values="0 0 0 0 0.533 0 0 0 0 0.722 0 0 0 0 0.753 4 0 0 0 -1.5"/><feComponentTransfer><feFuncA type="table" tableValues="0 0 0 0 1 0 0 0 0"/></feComponentTransfer><feComposite in2="SourceAlpha" operator="in"/></filter></defs>
<defs><filter id="f66" x="-20%" y="-20%" width="140%" height="140%"><feGaussianBlur stdDeviation="2.433"/></filter></defs>
<g filter="url(#f65)" opacity="0.5"><ellipse cx="112.0" cy="272.9" rx="6.5" ry="21.1" transform="rotate(10 112.0 272.9)" fill="#000" filter="url(#f66)"/></g>
<ellipse cx="85.1" cy="239.8" rx="1.2" ry="7.3" transform="rotate(-25 85.1 239.8)" fill="#f4f6f7"/>
<ellipse cx="90.0" cy="241.4" rx="1.2" ry="5.7" transform="rotate(20 90.0 241.4)" fill="#f4f6f7"/>
<ellipse cx="114.4" cy="263.2" rx="1.0" ry="8.1" transform="rotate(5 114.4 263.2)" fill="#f4f6f7"/>
</g></g>
</g>
<defs><filter id="f67" x="-20%" y="-20%" width="140%" height="140%"><feGaussianBlur stdDeviation="0.5"/></filter></defs>
<clipPath id="c68"><rect x="139.50" y="224.50" width="90.00" height="80.60"/></clipPath>
<g clip-path="url(#c68)">
<rect x="139.50" y="224.50" width="90.00" height="80.60" fill="#f1f7f7"/>
<defs><filter id="f69" x="0" y="0" width="1" height="1" color-interpolation-filters="sRGB"><feTurbulence type="fractalNoise" baseFrequency="0.22" numOctaves="2" seed="23"/><feColorMatrix type="matrix" values="0 0 0 0 0.659 0 0 0 0 0.682 0 0 0 0 0.831 5 0 0 0 -3.1"/></filter></defs>
<rect x="139.50" y="224.50" width="90.00" height="80.60" fill="#000" filter="url(#f69)" opacity="0.5"/>
<defs><filter id="f70" x="0" y="0" width="1" height="1" color-interpolation-filters="sRGB"><feTurbulence type="fractalNoise" baseFrequency="0.1" numOctaves="2" seed="24"/><feColorMatrix type="matrix" values="0 0 0 0 0.753 0 0 0 0 0.871 0 0 0 0 0.871 3 0 0 0 -1.3"/></filter></defs>
<rect x="139.50" y="224.50" width="90.00" height="80.60" fill="#000" filter="url(#f70)" opacity="0.5"/>
<defs><filter id="f71" filterUnits="userSpaceOnUse" x="131.5" y="216.5" width="106.0" height="96.6" color-interpolation-filters="sRGB"><feTurbulence type="fractalNoise" baseFrequency="0.035" numOctaves="2" seed="53" result="t"/><feDisplacementMap in="SourceGraphic" in2="t" scale="6" xChannelSelector="R" yChannelSelector="G"/><feGaussianBlur stdDeviation="0.65"/></filter></defs>
<g filter="url(#f71)">
<path d="M177.3 224.5 C182.6 222.1 202.6 222.1 209.7 226.1 C216.8 230.1 217.6 239.5 219.6 248.7 C221.6 257.8 221.7 271.5 221.4 280.9 C221.1 290.3 224.9 301.1 217.8 305.1 C210.8 309.1 186.2 306.4 179.1 305.1 C172.0 303.8 178.5 299.5 175.5 297.0 C172.5 294.6 164.1 294.4 161.1 290.6 C158.1 286.8 157.1 279.4 157.5 274.5 C157.9 269.5 160.5 263.7 163.8 260.8 C167.1 257.8 174.9 260.1 177.3 256.7 C179.7 253.4 178.2 246.0 178.2 240.6 C178.2 235.2 172.1 226.9 177.3 224.5 Z" fill="#b9dcde" fill-opacity="0.9" stroke="#b9dcde" stroke-width="1.71" stroke-opacity="0.9" stroke-linejoin="round"/>
<path d="M143.1 224.5 C148.5 221.8 169.9 221.8 175.5 224.5 C181.1 227.2 177.5 235.8 176.4 240.6 C175.3 245.5 173.2 251.6 169.2 253.5 C165.1 255.4 156.4 254.1 152.1 251.9 C147.8 249.8 144.6 245.2 143.1 240.6 C141.6 236.1 137.7 227.2 143.1 224.5 Z" fill="#b9dcde" fill-opacity="0.9" stroke="#b9dcde" stroke-width="1.71" stroke-opacity="0.9" stroke-linejoin="round"/>
<path d="M225.9 224.5 C227.1 220.5 229.7 215.1 230.4 224.5 C231.2 233.9 231.3 272.9 230.4 280.9 C229.5 289.0 226.2 278.2 225.0 272.9 C223.8 267.5 223.0 256.7 223.2 248.7 C223.3 240.6 224.7 228.5 225.9 224.5 Z" fill="#b9dcde" fill-opacity="0.9" stroke="#b9dcde" stroke-width="1.71" stroke-opacity="0.9" stroke-linejoin="round"/>
<path d="M139.5 260.0 C140.7 257.8 145.2 261.0 146.7 263.2 C148.2 265.3 149.7 270.7 148.5 272.9 C147.3 275.0 141.0 278.2 139.5 276.1 C138.0 273.9 138.3 262.1 139.5 260.0 Z" fill="#b9dcde" fill-opacity="0.9" stroke="#b9dcde" stroke-width="1.71" stroke-opacity="0.9" stroke-linejoin="round"/>
<path d="M139.5 287.4 C141.6 284.7 149.4 287.1 152.1 289.0 C154.8 290.9 156.0 296.0 155.7 298.7 C155.4 301.3 153.0 304.0 150.3 305.1 C147.6 306.2 141.3 308.1 139.5 305.1 C137.7 302.1 137.4 290.1 139.5 287.4 Z" fill="#b9dcde" fill-opacity="0.9" stroke="#b9dcde" stroke-width="1.71" stroke-opacity="0.9" stroke-linejoin="round"/>
<defs><filter id="f72" x="0" y="0" width="1" height="1" color-interpolation-filters="sRGB"><feTurbulence type="fractalNoise" baseFrequency="0.26" numOctaves="2" seed="33"/><feColorMatrix type="matrix" values="0 0 0 0 0.227 0 0 0 0 0.522 0 0 0 0 0.565 5 0 0 0 -2.6"/><feComposite in2="SourceAlpha" operator="in"/></filter></defs>
<g filter="url(#f72)" opacity="0.45">
<path d="M177.3 224.5 C182.6 222.1 202.6 222.1 209.7 226.1 C216.8 230.1 217.6 239.5 219.6 248.7 C221.6 257.8 221.7 271.5 221.4 280.9 C221.1 290.3 224.9 301.1 217.8 305.1 C210.8 309.1 186.2 306.4 179.1 305.1 C172.0 303.8 178.5 299.5 175.5 297.0 C172.5 294.6 164.1 294.4 161.1 290.6 C158.1 286.8 157.1 279.4 157.5 274.5 C157.9 269.5 160.5 263.7 163.8 260.8 C167.1 257.8 174.9 260.1 177.3 256.7 C179.7 253.4 178.2 246.0 178.2 240.6 C178.2 235.2 172.1 226.9 177.3 224.5 Z" fill="#000" stroke="#000" stroke-width="1.71" stroke-linejoin="round"/>
<path d="M143.1 224.5 C148.5 221.8 169.9 221.8 175.5 224.5 C181.1 227.2 177.5 235.8 176.4 240.6 C175.3 245.5 173.2 251.6 169.2 253.5 C165.1 255.4 156.4 254.1 152.1 251.9 C147.8 249.8 144.6 245.2 143.1 240.6 C141.6 236.1 137.7 227.2 143.1 224.5 Z" fill="#000" stroke="#000" stroke-width="1.71" stroke-linejoin="round"/>
<path d="M225.9 224.5 C227.1 220.5 229.7 215.1 230.4 224.5 C231.2 233.9 231.3 272.9 230.4 280.9 C229.5 289.0 226.2 278.2 225.0 272.9 C223.8 267.5 223.0 256.7 223.2 248.7 C223.3 240.6 224.7 228.5 225.9 224.5 Z" fill="#000" stroke="#000" stroke-width="1.71" stroke-linejoin="round"/>
<path d="M139.5 260.0 C140.7 257.8 145.2 261.0 146.7 263.2 C148.2 265.3 149.7 270.7 148.5 272.9 C147.3 275.0 141.0 278.2 139.5 276.1 C138.0 273.9 138.3 262.1 139.5 260.0 Z" fill="#000" stroke="#000" stroke-width="1.71" stroke-linejoin="round"/>
<path d="M139.5 287.4 C141.6 284.7 149.4 287.1 152.1 289.0 C154.8 290.9 156.0 296.0 155.7 298.7 C155.4 301.3 153.0 304.0 150.3 305.1 C147.6 306.2 141.3 308.1 139.5 305.1 C137.7 302.1 137.4 290.1 139.5 287.4 Z" fill="#000" stroke="#000" stroke-width="1.71" stroke-linejoin="round"/>
</g>
<g filter="url(#f67)"><g fill="#3a8a94"><circle cx="191.8" cy="240.2" r="2.1" opacity=".66"/><circle cx="199.2" cy="241.8" r="1.5" opacity=".79"/><circle cx="172.5" cy="262.5" r="1.6" opacity=".67"/><circle cx="213.6" cy="279.3" r="1.8" opacity=".82"/><circle cx="140.1" cy="261.9" r="1.7" opacity=".92"/><circle cx="170.6" cy="226.3" r="1.9" opacity=".60"/><circle cx="145.4" cy="236.7" r="1.9" opacity=".71"/><circle cx="209.2" cy="289.7" r="1.9" opacity=".79"/><circle cx="169.9" cy="229.9" r="1.7" opacity=".92"/><circle cx="201.5" cy="252.7" r="1.3" opacity=".68"/><circle cx="164.6" cy="291.0" r="1.4" opacity=".83"/><circle cx="189.2" cy="267.6" r="1.6" opacity=".86"/><circle cx="143.1" cy="228.5" r="2.1" opacity=".84"/><circle cx="192.4" cy="278.1" r="2.0" opacity=".60"/><circle cx="179.9" cy="227.5" r="1.4" opacity=".56"/><circle cx="194.5" cy="281.9" r="2.1" opacity=".84"/><circle cx="160.7" cy="282.8" r="1.6" opacity=".85"/><circle cx="179.0" cy="299.1" r="2.0" opacity=".62"/><circle cx="209.5" cy="242.6" r="1.7" opacity=".94"/><circle cx="197.5" cy="279.5" r="1.6" opacity=".72"/><circle cx="210.8" cy="300.1" r="1.8" opacity=".85"/><circle cx="175.3" cy="285.6" r="1.7" opacity=".81"/><circle cx="227.7" cy="269.0" r="1.9" opacity=".77"/><circle cx="168.3" cy="286.8" r="1.8" opacity=".82"/><circle cx="194.9" cy="274.1" r="1.9" opacity=".88"/><circle cx="215.4" cy="240.8" r="2.1" opacity=".70"/><circle cx="210.0" cy="271.3" r="2.0" opacity=".87"/><circle cx="146.8" cy="267.9" r="1.4" opacity=".81"/><circle cx="148.3" cy="290.9" r="1.6" opacity=".59"/><circle cx="176.9" cy="270.9" r="1.5" opacity=".62"/><circle cx="146.2" cy="240.5" r="1.3" opacity=".58"/><circle cx="184.0" cy="269.4" r="1.4" opacity=".80"/><circle cx="166.0" cy="228.6" r="1.9" opacity=".61"/><circle cx="170.3" cy="259.9" r="1.8" opacity=".76"/><circle cx="229.4" cy="302.0" r="2.0" opacity=".73"/><circle cx="225.6" cy="246.7" r="1.8" opacity=".88"/><circle cx="186.2" cy="234.0" r="1.3" opacity=".73"/><circle cx="183.9" cy="291.3" r="2.1" opacity=".72"/><circle cx="184.2" cy="273.6" r="1.4" opacity=".92"/><circle cx="180.6" cy="254.2" r="2.0" opacity=".82"/><circle cx="202.5" cy="260.5" r="1.9" opacity=".62"/><circle cx="155.8" cy="243.9" r="2.0" opacity=".71"/><circle cx="227.7" cy="305.0" r="1.4" opacity=".70"/><circle cx="205.0" cy="248.0" r="1.8" opacity=".72"/><circle cx="152.4" cy="243.8" r="1.5" opacity=".82"/><circle cx="168.0" cy="267.3" r="1.8" opacity=".67"/><circle cx="160.1" cy="250.4" r="2.0" opacity=".56"/><circle cx="161.9" cy="286.6" r="1.4" opacity=".60"/><circle cx="174.8" cy="239.7" r="2.1" opacity=".85"/><circle cx="146.0" cy="275.9" r="1.8" opacity=".89"/><circle cx="185.9" cy="266.1" r="2.0" opacity=".69"/><circle cx="188.7" cy="275.9" r="1.8" opacity=".66"/><circle cx="186.1" cy="253.7" r="1.8" opacity=".83"/><circle cx="152.4" cy="289.5" r="1.6" opacity=".88"/><circle cx="179.6" cy="291.3" r="1.5" opacity=".93"/><circle cx="216.5" cy="271.0" r="2.1" opacity=".85"/><circle cx="142.5" cy="288.7" r="1.6" opacity=".55"/></g><g fill="#2f7f8a"><circle cx="165.5" cy="280.3" r="1.5" opacity=".78"/><circle cx="177.6" cy="257.1" r="1.8" opacity=".67"/><circle cx="147.1" cy="227.1" r="1.6" opacity=".76"/><circle cx="224.6" cy="295.1" r="2.0" opacity=".90"/><circle cx="152.1" cy="238.9" r="1.9" opacity=".75"/><circle cx="157.9" cy="233.5" r="2.1" opacity=".82"/><circle cx="196.5" cy="293.6" r="1.7" opacity=".87"/><circle cx="188.6" cy="250.2" r="1.8" opacity=".82"/><circle cx="205.6" cy="243.9" r="1.6" opacity=".83"/><circle cx="228.0" cy="298.8" r="1.3" opacity=".91"/><circle cx="186.0" cy="282.2" r="2.1" opacity=".61"/><circle cx="185.5" cy="242.8" r="1.8" opacity=".83"/><circle cx="207.7" cy="285.4" r="1.4" opacity=".81"/><circle cx="142.5" cy="296.4" r="1.4" opacity=".64"/><circle cx="227.7" cy="293.0" r="1.3" opacity=".81"/><circle cx="172.9" cy="293.4" r="1.3" opacity=".95"/><circle cx="183.4" cy="298.6" r="1.6" opacity=".67"/><circle cx="216.3" cy="282.1" r="1.7" opacity=".94"/><circle cx="168.5" cy="236.9" r="1.5" opacity=".78"/><circle cx="204.0" cy="240.7" r="2.0" opacity=".88"/><circle cx="185.3" cy="287.5" r="1.5" opacity=".89"/><circle cx="229.3" cy="226.4" r="1.6" opacity=".67"/><circle cx="164.9" cy="284.9" r="2.0" opacity=".84"/><circle cx="226.4" cy="283.6" r="1.3" opacity=".94"/><circle cx="194.7" cy="289.3" r="2.0" opacity=".90"/><circle cx="209.4" cy="251.0" r="1.4" opacity=".92"/><circle cx="224.8" cy="250.4" r="1.4" opacity=".68"/><circle cx="165.5" cy="235.3" r="1.7" opacity=".64"/><circle cx="225.8" cy="278.8" r="1.5" opacity=".55"/><circle cx="224.5" cy="254.3" r="2.1" opacity=".69"/><circle cx="201.0" cy="236.9" r="1.5" opacity=".90"/><circle cx="196.2" cy="260.5" r="1.3" opacity=".83"/><circle cx="172.6" cy="288.8" r="1.8" opacity=".66"/><circle cx="203.0" cy="234.0" r="2.0" opacity=".79"/><circle cx="195.9" cy="269.2" r="1.8" opacity=".65"/><circle cx="201.8" cy="256.8" r="1.3" opacity=".65"/><circle cx="217.6" cy="295.7" r="1.6" opacity=".85"/><circle cx="204.3" cy="291.2" r="1.3" opacity=".70"/><circle cx="218.1" cy="246.8" r="1.3" opacity=".64"/><circle cx="188.9" cy="298.7" r="1.6" opacity=".67"/><circle cx="208.3" cy="257.0" r="1.7" opacity=".90"/><circle cx="225.7" cy="302.1" r="1.8" opacity=".78"/><circle cx="153.2" cy="233.8" r="2.0" opacity=".75"/><circle cx="146.6" cy="261.3" r="1.7" opacity=".80"/><circle cx="153.2" cy="251.1" r="1.5" opacity=".57"/><circle cx="212.8" cy="255.5" r="1.8" opacity=".87"/><circle cx="228.0" cy="242.7" r="1.6" opacity=".65"/><circle cx="216.0" cy="253.4" r="1.7" opacity=".72"/><circle cx="140.5" cy="265.3" r="1.8" opacity=".75"/><circle cx="189.7" cy="231.9" r="1.9" opacity=".82"/><circle cx="168.1" cy="291.1" r="1.4" opacity=".74"/><circle cx="173.4" cy="242.8" r="1.5" opacity=".85"/></g><g fill="#2a7884"><circle cx="226.9" cy="230.2" r="1.4" opacity=".61"/><circle cx="178.2" cy="249.0" r="1.4" opacity=".89"/><circle cx="140.3" cy="270.0" r="1.4" opacity=".76"/><circle cx="205.0" cy="253.7" r="1.8" opacity=".73"/><circle cx="201.7" cy="279.6" r="1.3" opacity=".80"/><circle cx="200.6" cy="296.6" r="1.6" opacity=".84"/><circle cx="199.2" cy="268.8" r="1.4" opacity=".62"/><circle cx="206.1" cy="259.9" r="1.8" opacity=".65"/><circle cx="176.6" cy="260.9" r="1.5" opacity=".88"/><circle cx="195.0" cy="236.1" r="1.9" opacity=".69"/><circle cx="170.0" cy="283.3" r="1.4" opacity=".82"/><circle cx="151.6" cy="229.3" r="1.5" opacity=".88"/><circle cx="189.8" cy="236.7" r="2.0" opacity=".60"/><circle cx="220.3" cy="262.3" r="1.4" opacity=".64"/><circle cx="199.9" cy="231.9" r="1.8" opacity=".85"/><circle cx="144.6" cy="224.7" r="1.4" opacity=".90"/><circle cx="201.4" cy="288.6" r="1.9" opacity=".76"/><circle cx="165.2" cy="274.9" r="1.8" opacity=".57"/><circle cx="145.3" cy="232.7" r="1.9" opacity=".58"/><circle cx="212.8" cy="291.4" r="1.4" opacity=".75"/><circle cx="146.4" cy="287.7" r="2.0" opacity=".66"/><circle cx="192.1" cy="225.5" r="1.5" opacity=".76"/><circle cx="203.9" cy="267.1" r="1.8" opacity=".56"/><circle cx="165.4" cy="270.2" r="2.0" opacity=".66"/><circle cx="210.8" cy="238.3" r="2.0" opacity=".79"/><circle cx="227.3" cy="237.2" r="2.1" opacity=".70"/><circle cx="217.0" cy="290.8" r="1.9" opacity=".94"/><circle cx="155.0" cy="228.8" r="1.6" opacity=".82"/><circle cx="183.1" cy="236.6" r="2.0" opacity=".78"/><circle cx="218.6" cy="250.3" r="1.6" opacity=".89"/><circle cx="196.9" cy="263.8" r="2.0" opacity=".70"/><circle cx="186.4" cy="237.5" r="1.7" opacity=".60"/><circle cx="208.4" cy="265.9" r="1.6" opacity=".92"/><circle cx="187.7" cy="261.6" r="1.8" opacity=".59"/><circle cx="167.4" cy="251.4" r="1.7" opacity=".68"/><circle cx="216.1" cy="286.3" r="1.5" opacity=".77"/><circle cx="142.7" cy="300.9" r="1.9" opacity=".72"/><circle cx="218.7" cy="274.3" r="1.6" opacity=".90"/><circle cx="148.0" cy="246.7" r="1.7" opacity=".55"/><circle cx="207.0" cy="302.2" r="1.5" opacity=".62"/><circle cx="229.2" cy="261.9" r="1.3" opacity=".81"/><circle cx="183.3" cy="245.5" r="1.8" opacity=".94"/><circle cx="172.1" cy="234.5" r="1.4" opacity=".75"/><circle cx="181.3" cy="295.9" r="1.4" opacity=".94"/><circle cx="212.8" cy="296.7" r="1.9" opacity=".76"/><circle cx="152.6" cy="225.3" r="1.4" opacity=".68"/><circle cx="171.5" cy="246.2" r="2.0" opacity=".63"/><circle cx="143.0" cy="260.4" r="1.7" opacity=".75"/><circle cx="183.5" cy="279.1" r="2.0" opacity=".56"/><circle cx="147.8" cy="300.0" r="1.9" opacity=".64"/><circle cx="226.1" cy="257.2" r="2.0" opacity=".93"/><circle cx="192.6" cy="250.4" r="2.1" opacity=".75"/><circle cx="183.7" cy="259.7" r="1.5" opacity=".67"/><circle cx="178.9" cy="244.4" r="1.8" opacity=".67"/><circle cx="171.8" cy="266.3" r="1.7" opacity=".89"/><circle cx="179.1" cy="286.3" r="1.4" opacity=".94"/><circle cx="201.1" cy="300.0" r="2.0" opacity=".87"/><circle cx="163.9" cy="231.6" r="2.1" opacity=".59"/><circle cx="197.4" cy="286.4" r="1.9" opacity=".71"/><circle cx="189.2" cy="281.2" r="2.1" opacity=".71"/><circle cx="227.5" cy="289.3" r="2.1" opacity=".67"/><circle cx="176.2" cy="275.7" r="2.0" opacity=".73"/><circle cx="218.7" cy="279.7" r="2.0" opacity=".89"/><circle cx="164.2" cy="240.2" r="1.5" opacity=".69"/><circle cx="225.7" cy="265.7" r="1.4" opacity=".85"/></g><g fill="#27707c"><circle cx="196.9" cy="257.1" r="1.5" opacity=".82"/><circle cx="218.9" cy="256.3" r="1.6" opacity=".79"/><circle cx="182.3" cy="264.7" r="2.0" opacity=".79"/><circle cx="205.9" cy="296.4" r="1.7" opacity=".56"/><circle cx="190.7" cy="289.3" r="1.5" opacity=".89"/><circle cx="225.1" cy="286.8" r="1.7" opacity=".91"/><circle cx="201.8" cy="245.9" r="1.8" opacity=".75"/><circle cx="201.7" cy="303.2" r="2.0" opacity=".63"/><circle cx="163.4" cy="243.7" r="1.5" opacity=".77"/><circle cx="211.2" cy="232.2" r="1.5" opacity=".84"/><circle cx="156.8" cy="237.2" r="1.9" opacity=".59"/><circle cx="191.4" cy="263.3" r="1.4" opacity=".92"/><circle cx="193.7" cy="304.6" r="1.6" opacity=".76"/><circle cx="187.3" cy="304.0" r="1.5" opacity=".59"/><circle cx="205.0" cy="279.7" r="1.5" opacity=".62"/><circle cx="151.8" cy="300.6" r="1.5" opacity=".84"/><circle cx="184.5" cy="249.1" r="1.4" opacity=".77"/><circle cx="193.1" cy="257.2" r="2.1" opacity=".62"/><circle cx="207.8" cy="275.7" r="1.5" opacity=".71"/><circle cx="179.0" cy="281.0" r="1.3" opacity=".68"/><circle cx="172.4" cy="270.5" r="2.1" opacity=".83"/><circle cx="225.8" cy="261.8" r="2.0" opacity=".79"/><circle cx="201.4" cy="274.2" r="1.9" opacity=".87"/><circle cx="199.1" cy="282.7" r="2.1" opacity=".94"/><circle cx="180.5" cy="234.4" r="1.4" opacity=".73"/><circle cx="202.8" cy="229.0" r="2.1" opacity=".90"/><circle cx="204.7" cy="273.1" r="1.3" opacity=".81"/><circle cx="216.9" cy="300.0" r="1.8" opacity=".74"/><circle cx="164.7" cy="246.8" r="1.6" opacity=".61"/><circle cx="188.9" cy="258.3" r="1.9" opacity=".61"/><circle cx="168.7" cy="240.5" r="1.3" opacity=".74"/><circle cx="196.3" cy="302.4" r="1.5" opacity=".64"/><circle cx="192.5" cy="295.7" r="1.6" opacity=".88"/><circle cx="214.9" cy="263.1" r="1.9" opacity=".87"/><circle cx="160.0" cy="273.7" r="1.6" opacity=".58"/><circle cx="182.8" cy="225.9" r="1.5" opacity=".69"/><circle cx="202.3" cy="284.2" r="1.6" opacity=".86"/><circle cx="143.2" cy="273.9" r="1.4" opacity=".64"/><circle cx="227.1" cy="275.5" r="2.0" opacity=".60"/><circle cx="207.0" cy="229.5" r="1.9" opacity=".89"/><circle cx="186.7" cy="294.6" r="1.8" opacity=".67"/><circle cx="208.6" cy="280.0" r="1.5" opacity=".93"/><circle cx="161.4" cy="267.6" r="1.6" opacity=".85"/><circle cx="154.4" cy="247.8" r="2.1" opacity=".75"/><circle cx="160.0" cy="246.1" r="1.3" opacity=".93"/><circle cx="217.4" cy="266.6" r="1.8" opacity=".92"/><circle cx="173.9" cy="225.5" r="1.5" opacity=".94"/><circle cx="229.0" cy="254.0" r="1.6" opacity=".89"/><circle cx="180.6" cy="302.4" r="2.1" opacity=".81"/><circle cx="178.3" cy="266.4" r="1.4" opacity=".61"/><circle cx="166.2" cy="262.2" r="2.1" opacity=".73"/><circle cx="216.4" cy="259.2" r="2.0" opacity=".63"/><circle cx="150.7" cy="296.4" r="1.6" opacity=".60"/><circle cx="206.9" cy="235.1" r="1.5" opacity=".82"/><circle cx="195.5" cy="240.3" r="2.0" opacity=".86"/><circle cx="160.7" cy="226.2" r="1.9" opacity=".56"/></g></g>
<defs><filter id="f73" x="-20%" y="-20%" width="140%" height="140%"><feGaussianBlur stdDeviation="1.6"/></filter></defs>
<g filter="url(#f73)">
<path d="M195.3 235.8 C196.8 234.7 199.5 233.9 200.7 237.4 C201.9 240.9 201.3 250.6 202.5 256.7 C203.7 262.9 206.0 268.8 207.9 274.5 C209.8 280.1 214.3 286.6 214.2 290.6 C214.0 294.6 210.4 297.8 207.0 298.7 C203.6 299.5 197.2 296.1 193.5 295.4 C189.8 294.8 186.4 295.8 184.5 294.6 C182.6 293.4 181.1 291.0 181.8 288.2 C182.6 285.4 187.1 282.1 189.0 277.7 C190.9 273.3 193.1 267.2 193.5 261.6 C193.9 255.9 191.4 248.1 191.7 243.8 C192.0 239.5 193.8 236.9 195.3 235.8 Z" fill="#fbfefe"/>
<path d="M154.8 226.9 C157.5 224.9 166.6 225.2 169.2 226.9 C171.8 228.7 171.1 234.4 170.1 237.4 C169.1 240.4 165.8 244.4 162.9 244.7 C160.1 244.9 154.3 242.0 153.0 239.0 C151.7 236.1 152.1 228.9 154.8 226.9 Z" fill="#fbfefe"/>
<path d="M141.3 292.2 C142.5 290.7 146.1 291.1 147.6 292.2 C149.1 293.3 150.8 296.9 150.3 298.7 C149.9 300.4 146.6 302.3 144.9 302.7 C143.2 303.1 141.0 302.8 140.4 301.1 C139.8 299.3 140.1 293.7 141.3 292.2 Z" fill="#fbfefe"/>
<path d="M166.5 255.1 C168.3 253.0 176.7 248.9 179.1 248.7 C181.5 248.4 182.7 251.4 180.9 253.5 C179.1 255.7 170.7 261.3 168.3 261.6 C165.9 261.8 164.7 257.3 166.5 255.1 Z" fill="#f1f7f7"/>
</g>
</g>
</g>
<clipPath id="c74"><rect x="50.80" y="316.30" width="81.60" height="80.60"/></clipPath>
<g clip-path="url(#c74)">
<rect x="50.80" y="316.30" width="81.60" height="80.60" fill="#f3f3f3"/>
<defs><filter id="f75" filterUnits="userSpaceOnUse" x="42.8" y="308.3" width="97.6" height="96.6" color-interpolation-filters="sRGB"><feTurbulence type="fractalNoise" baseFrequency="0.08" numOctaves="2" seed="65" result="t"/><feDisplacementMap in="SourceGraphic" in2="t" scale="4" xChannelSelector="R" yChannelSelector="G"/><feGaussianBlur stdDeviation="0.3"/></filter></defs>
<g filter="url(#f75)">
<ellipse cx="91.7" cy="357.5" rx="38.9" ry="38.9" fill="#e8e6f3"/>
<clipPath id="c76"><circle cx="91.7" cy="357.5" r="38.9"/></clipPath>
<g clip-path="url(#c76)">
<defs><filter id="f77" x="0" y="0" width="1" height="1" color-interpolation-filters="sRGB"><feTurbulence type="fractalNoise" baseFrequency="0.5" numOctaves="2" seed="25"/><feColorMatrix type="matrix" values="0 0 0 0 0.675 0 0 0 0 0.651 0 0 0 0 0.847 4 0 0 0 -2.2"/><feComposite in2="SourceAlpha" operator="in"/></filter></defs>
<g filter="url(#f77)" opacity="0.55"><ellipse cx="91.7" cy="357.5" rx="38.9" ry="38.9" fill="#000"/></g>
<defs><filter id="f78" x="0" y="0" width="1" height="1" color-interpolation-filters="sRGB"><feTurbulence type="fractalNoise" baseFrequency="0.2" numOctaves="2" seed="26"/><feColorMatrix type="matrix" values="0 0 0 0 0.604 0 0 0 0 0.573 0 0 0 0 0.800 4 0 0 0 -2.1"/><feComposite in2="SourceAlpha" operator="in"/></filter></defs>
<defs><filter id="f79" x="-20%" y="-20%" width="140%" height="140%"><feGaussianBlur stdDeviation="2.433"/></filter></defs>
<g filter="url(#f78)" opacity="0.4"><ellipse cx="87.5" cy="338.9" rx="21.1" ry="16.2" fill="#000" filter="url(#f79)"/></g>
<defs><filter id="f80" x="0" y="0" width="1" height="1" color-interpolation-filters="sRGB"><feTurbulence type="fractalNoise" baseFrequency="0.25" numOctaves="2" seed="27"/><feColorMatrix type="matrix" values="0 0 0 0 0.643 0 0 0 0 0.333 0 0 0 0 0.690 4 0 0 0 -1.5"/><feComponentTransfer><feFuncA type="table" tableValues="0 0 0.3 0.8 1 0.8 0.3 0 0"/></feComponentTransfer><feComposite in2="SourceAlpha" operator="in"/></filter></defs>
<defs><filter id="f81" x="-20%" y="-20%" width="140%" height="140%"><feGaussianBlur stdDeviation="2.0275"/></filter></defs>
<defs><filter id="f82" x="-20%" y="-20%" width="140%" height="140%"><feGaussianBlur stdDeviation="2.0275"/></filter></defs>
<g filter="url(#f80)" opacity="0.8"><ellipse cx="74.5" cy="375.1" rx="12.2" ry="8.9" transform="rotate(30 74.5 375.1)" fill="#000" filter="url(#f81)"/><ellipse cx="93.2" cy="387.2" rx="13.8" ry="5.7" transform="rotate(-10 93.2 387.2)" fill="#000" filter="url(#f82)"/></g>
<defs><filter id="f83" x="0" y="0" width="1" height="1" color-interpolation-filters="sRGB"><feTurbulence type="fractalNoise" baseFrequency="0.3" numOctaves="2" seed="28"/><feColorMatrix type="matrix" values="0 0 0 0 0.769 0 0 0 0 0.439 0 0 0 0 0.753 5 0 0 0 -2.4"/><feComposite in2="SourceAlpha" operator="in"/></filter></defs>
<defs><filter id="f84" x="-20%" y="-20%" width="140%" height="140%"><feGaussianBlur stdDeviation="2.0275"/></filter></defs>
<defs><filter id="f85" x="-20%" y="-20%" width="140%" height="140%"><feGaussianBlur stdDeviation="2.0275"/></filter></defs>
<g filter="url(#f83)" opacity="0.5"><ellipse cx="74.5" cy="375.1" rx="10.5" ry="7.3" transform="rotate(30 74.5 375.1)" fill="#000" filter="url(#f84)"/><ellipse cx="93.2" cy="387.2" rx="12.2" ry="4.1" transform="rotate(-10 93.2 387.2)" fill="#000" filter="url(#f85)"/></g>
<defs><filter id="f86" x="0" y="0" width="1" height="1" color-interpolation-filters="sRGB"><feTurbulence type="fractalNoise" baseFrequency="0.3" numOctaves="2" seed="29"/><feColorMatrix type="matrix" values="0 0 0 0 0.690 0 0 0 0 0.173 0 0 0 0 0.565 5 0 0 0 -1.9"/><feComposite in2="SourceAlpha" operator="in"/></filter></defs>
<defs><filter id="f87" x="-20%" y="-20%" width="140%" height="140%"><feGaussianBlur stdDeviation="0.8109999999999999"/></filter></defs>
<g filter="url(#f86)" opacity="0.9"><ellipse cx="78.5" cy="377.6" rx="3.2" ry="5.3" transform="rotate(10 78.5 377.6)" fill="#000" filter="url(#f87)"/></g>
<ellipse cx="85.1" cy="331.6" rx="1.2" ry="7.3" transform="rotate(-25 85.1 331.6)" fill="#f2f2f7"/>
<ellipse cx="90.0" cy="333.2" rx="1.2" ry="5.7" transform="rotate(20 90.0 333.2)" fill="#f2f2f7"/>
<ellipse cx="114.4" cy="356.6" rx="1.0" ry="8.1" transform="rotate(5 114.4 356.6)" fill="#f2f2f7"/>
</g></g>
</g>
<defs><filter id="f88" x="-20%" y="-20%" width="140%" height="140%"><feGaussianBlur stdDeviation="0.5"/></filter></defs>
<defs><filter id="f89" x="-20%" y="-20%" width="140%" height="140%"><feGaussianBlur stdDeviation="0.5"/></filter></defs>
<defs><filter id="f90" x="-20%" y="-20%" width="140%" height="140%"><feGaussianBlur stdDeviation="0.5"/></filter></defs>
<defs><filter id="f91" x="-20%" y="-20%" width="140%" height="140%"><feGaussianBlur stdDeviation="0.5"/></filter></defs>
<clipPath id="c92"><rect x="139.50" y="316.30" width="90.00" height="80.60"/></clipPath>
<g clip-path="url(#c92)">
<rect x="139.50" y="316.30" width="90.00" height="80.60" fill="#f1edf6"/>
<defs><filter id="f93" x="0" y="0" width="1" height="1" color-interpolation-filters="sRGB"><feTurbulence type="fractalNoise" baseFrequency="0.2" numOctaves="2" seed="27"/><feColorMatrix type="matrix" values="0 0 0 0 0.663 0 0 0 0 0.643 0 0 0 0 0.855 5 0 0 0 -2.75"/></filter></defs>
<rect x="139.50" y="316.30" width="90.00" height="80.60" fill="#000" filter="url(#f93)" opacity="0.55"/>
<defs><filter id="f94" x="0" y="0" width="1" height="1" color-interpolation-filters="sRGB"><feTurbulence type="fractalNoise" baseFrequency="0.2" numOctaves="2" seed="28"/><feColorMatrix type="matrix" values="0 0 0 0 0.878 0 0 0 0 0.627 0 0 0 0 0.800 5 0 0 0 -3.0"/></filter></defs>
<rect x="139.50" y="316.30" width="90.00" height="80.60" fill="#000" filter="url(#f94)" opacity="0.45"/>
<defs><filter id="f95" filterUnits="userSpaceOnUse" x="131.5" y="308.3" width="106.0" height="96.6" color-interpolation-filters="sRGB"><feTurbulence type="fractalNoise" baseFrequency="0.035" numOctaves="2" seed="57" result="t"/><feDisplacementMap in="SourceGraphic" in2="t" scale="6" xChannelSelector="R" yChannelSelector="G"/><feGaussianBlur stdDeviation="0.65"/></filter></defs>
<g filter="url(#f95)">
<path d="M191.7 320.3 C195.1 317.8 199.2 317.8 202.5 321.1 C205.8 324.5 209.1 333.2 211.5 340.5 C213.9 347.7 216.2 357.3 216.9 364.7 C217.7 372.0 217.8 379.7 216.0 384.8 C214.2 389.9 209.5 394.6 206.1 395.3 C202.7 396.0 197.7 392.6 195.3 388.8 C192.9 385.1 193.5 378.1 191.7 372.7 C189.9 367.3 186.2 362.6 184.5 356.6 C182.8 350.6 180.6 342.5 181.8 336.4 C183.0 330.4 188.2 322.9 191.7 320.3 Z" fill="#d2a2d0" fill-opacity="0.9" stroke="#d2a2d0" stroke-width="1.71" stroke-opacity="0.9" stroke-linejoin="round"/>
<path d="M166.5 346.9 C169.7 344.8 174.0 347.5 177.3 350.2 C180.6 352.8 183.3 358.5 186.3 363.0 C189.3 367.6 193.2 373.0 195.3 377.6 C197.4 382.1 200.7 387.8 198.9 390.5 C197.1 393.1 189.3 393.9 184.5 393.7 C179.7 393.4 174.0 391.3 170.1 388.8 C166.2 386.4 163.0 383.5 161.1 379.2 C159.2 374.9 157.5 368.4 158.4 363.0 C159.3 357.7 163.3 349.1 166.5 346.9 Z" fill="#d2a2d0" fill-opacity="0.9" stroke="#d2a2d0" stroke-width="1.71" stroke-opacity="0.9" stroke-linejoin="round"/>
<path d="M144.9 316.3 C150.0 314.4 168.6 314.4 173.7 316.3 C178.8 318.2 176.7 323.8 175.5 327.6 C174.3 331.3 170.7 337.3 166.5 338.9 C162.3 340.5 154.2 339.1 150.3 337.3 C146.4 335.4 144.0 331.1 143.1 327.6 C142.2 324.1 139.8 318.2 144.9 316.3 Z" fill="#d2a2d0" fill-opacity="0.9" stroke="#d2a2d0" stroke-width="1.71" stroke-opacity="0.9" stroke-linejoin="round"/>
<path d="M139.5 340.5 C141.3 338.3 147.9 341.6 150.3 343.7 C152.7 345.9 154.8 351.0 153.9 353.4 C153.0 355.8 147.3 357.7 144.9 358.2 C142.5 358.7 140.4 359.6 139.5 356.6 C138.6 353.6 137.7 342.6 139.5 340.5 Z" fill="#d2a2d0" fill-opacity="0.9" stroke="#d2a2d0" stroke-width="1.71" stroke-opacity="0.9" stroke-linejoin="round"/>
<path d="M139.5 379.2 C141.3 376.5 147.9 378.9 150.3 380.8 C152.7 382.7 154.5 387.8 153.9 390.5 C153.3 393.1 149.1 395.8 146.7 396.9 C144.3 398.0 140.7 399.9 139.5 396.9 C138.3 393.9 137.7 381.9 139.5 379.2 Z" fill="#d2a2d0" fill-opacity="0.9" stroke="#d2a2d0" stroke-width="1.71" stroke-opacity="0.9" stroke-linejoin="round"/>
<path d="M215.1 316.3 C216.6 315.2 227.1 315.0 229.5 316.3 C231.9 317.6 231.0 323.3 229.5 324.4 C228.0 325.4 222.9 324.1 220.5 322.7 C218.1 321.4 213.6 317.4 215.1 316.3 Z" fill="#d2a2d0" fill-opacity="0.9" stroke="#d2a2d0" stroke-width="1.71" stroke-opacity="0.9" stroke-linejoin="round"/>
<defs><filter id="f96" x="0" y="0" width="1" height="1" color-interpolation-filters="sRGB"><feTurbulence type="fractalNoise" baseFrequency="0.28" numOctaves="2" seed="37"/><feColorMatrix type="matrix" values="0 0 0 0 0.490 0 0 0 0 0.314 0 0 0 0 0.675 5 0 0 0 -2.5"/><feComposite in2="SourceAlpha" operator="in"/></filter></defs>
<g filter="url(#f96)" opacity="0.4">
<path d="M191.7 320.3 C195.1 317.8 199.2 317.8 202.5 321.1 C205.8 324.5 209.1 333.2 211.5 340.5 C213.9 347.7 216.2 357.3 216.9 364.7 C217.7 372.0 217.8 379.7 216.0 384.8 C214.2 389.9 209.5 394.6 206.1 395.3 C202.7 396.0 197.7 392.6 195.3 388.8 C192.9 385.1 193.5 378.1 191.7 372.7 C189.9 367.3 186.2 362.6 184.5 356.6 C182.8 350.6 180.6 342.5 181.8 336.4 C183.0 330.4 188.2 322.9 191.7 320.3 Z" fill="#000" stroke="#000" stroke-width="1.71" stroke-linejoin="round"/>
<path d="M166.5 346.9 C169.7 344.8 174.0 347.5 177.3 350.2 C180.6 352.8 183.3 358.5 186.3 363.0 C189.3 367.6 193.2 373.0 195.3 377.6 C197.4 382.1 200.7 387.8 198.9 390.5 C197.1 393.1 189.3 393.9 184.5 393.7 C179.7 393.4 174.0 391.3 170.1 388.8 C166.2 386.4 163.0 383.5 161.1 379.2 C159.2 374.9 157.5 368.4 158.4 363.0 C159.3 357.7 163.3 349.1 166.5 346.9 Z" fill="#000" stroke="#000" stroke-width="1.71" stroke-linejoin="round"/>
<path d="M144.9 316.3 C150.0 314.4 168.6 314.4 173.7 316.3 C178.8 318.2 176.7 323.8 175.5 327.6 C174.3 331.3 170.7 337.3 166.5 338.9 C162.3 340.5 154.2 339.1 150.3 337.3 C146.4 335.4 144.0 331.1 143.1 327.6 C142.2 324.1 139.8 318.2 144.9 316.3 Z" fill="#000" stroke="#000" stroke-width="1.71" stroke-linejoin="round"/>
<path d="M139.5 340.5 C141.3 338.3 147.9 341.6 150.3 343.7 C152.7 345.9 154.8 351.0 153.9 353.4 C153.0 355.8 147.3 357.7 144.9 358.2 C142.5 358.7 140.4 359.6 139.5 356.6 C138.6 353.6 137.7 342.6 139.5 340.5 Z" fill="#000" stroke="#000" stroke-width="1.71" stroke-linejoin="round"/>
<path d="M139.5 379.2 C141.3 376.5 147.9 378.9 150.3 380.8 C152.7 382.7 154.5 387.8 153.9 390.5 C153.3 393.1 149.1 395.8 146.7 396.9 C144.3 398.0 140.7 399.9 139.5 396.9 C138.3 393.9 137.7 381.9 139.5 379.2 Z" fill="#000" stroke="#000" stroke-width="1.71" stroke-linejoin="round"/>
<path d="M215.1 316.3 C216.6 315.2 227.1 315.0 229.5 316.3 C231.9 317.6 231.0 323.3 229.5 324.4 C228.0 325.4 222.9 324.1 220.5 322.7 C218.1 321.4 213.6 317.4 215.1 316.3 Z" fill="#000" stroke="#000" stroke-width="1.71" stroke-linejoin="round"/>
</g>
<defs><filter id="f97" x="0" y="0" width="1" height="1" color-interpolation-filters="sRGB"><feTurbulence type="fractalNoise" baseFrequency="0.4" numOctaves="2" seed="38"/><feColorMatrix type="matrix" values="0 0 0 0 0.769 0 0 0 0 0.173 0 0 0 0 0.549 6 0 0 0 -2.95"/><feComposite in2="SourceAlpha" operator="in"/></filter></defs>
<g filter="url(#f97)" opacity="0.65">
<path d="M191.7 320.3 C195.1 317.8 199.2 317.8 202.5 321.1 C205.8 324.5 209.1 333.2 211.5 340.5 C213.9 347.7 216.2 357.3 216.9 364.7 C217.7 372.0 217.8 379.7 216.0 384.8 C214.2 389.9 209.5 394.6 206.1 395.3 C202.7 396.0 197.7 392.6 195.3 388.8 C192.9 385.1 193.5 378.1 191.7 372.7 C189.9 367.3 186.2 362.6 184.5 356.6 C182.8 350.6 180.6 342.5 181.8 336.4 C183.0 330.4 188.2 322.9 191.7 320.3 Z" fill="#000" stroke="#000" stroke-width="1.71" stroke-linejoin="round"/>
<path d="M166.5 346.9 C169.7 344.8 174.0 347.5 177.3 350.2 C180.6 352.8 183.3 358.5 186.3 363.0 C189.3 367.6 193.2 373.0 195.3 377.6 C197.4 382.1 200.7 387.8 198.9 390.5 C197.1 393.1 189.3 393.9 184.5 393.7 C179.7 393.4 174.0 391.3 170.1 388.8 C166.2 386.4 163.0 383.5 161.1 379.2 C159.2 374.9 157.5 368.4 158.4 363.0 C159.3 357.7 163.3 349.1 166.5 346.9 Z" fill="#000" stroke="#000" stroke-width="1.71" stroke-linejoin="round"/>
<path d="M144.9 316.3 C150.0 314.4 168.6 314.4 173.7 316.3 C178.8 318.2 176.7 323.8 175.5 327.6 C174.3 331.3 170.7 337.3 166.5 338.9 C162.3 340.5 154.2 339.1 150.3 337.3 C146.4 335.4 144.0 331.1 143.1 327.6 C142.2 324.1 139.8 318.2 144.9 316.3 Z" fill="#000" stroke="#000" stroke-width="1.71" stroke-linejoin="round"/>
<path d="M139.5 340.5 C141.3 338.3 147.9 341.6 150.3 343.7 C152.7 345.9 154.8 351.0 153.9 353.4 C153.0 355.8 147.3 357.7 144.9 358.2 C142.5 358.7 140.4 359.6 139.5 356.6 C138.6 353.6 137.7 342.6 139.5 340.5 Z" fill="#000" stroke="#000" stroke-width="1.71" stroke-linejoin="round"/>
<path d="M139.5 379.2 C141.3 376.5 147.9 378.9 150.3 380.8 C152.7 382.7 154.5 387.8 153.9 390.5 C153.3 393.1 149.1 395.8 146.7 396.9 C144.3 398.0 140.7 399.9 139.5 396.9 C138.3 393.9 137.7 381.9 139.5 379.2 Z" fill="#000" stroke="#000" stroke-width="1.71" stroke-linejoin="round"/>
<path d="M215.1 316.3 C216.6 315.2 227.1 315.0 229.5 316.3 C231.9 317.6 231.0 323.3 229.5 324.4 C228.0 325.4 222.9 324.1 220.5 322.7 C218.1 321.4 213.6 317.4 215.1 316.3 Z" fill="#000" stroke="#000" stroke-width="1.71" stroke-linejoin="round"/>
</g>
<path d="M191.7 320.3 C195.1 317.8 199.2 317.8 202.5 321.1 C205.8 324.5 209.1 333.2 211.5 340.5 C213.9 347.7 216.2 357.3 216.9 364.7 C217.7 372.0 217.8 379.7 216.0 384.8 C214.2 389.9 209.5 394.6 206.1 395.3 C202.7 396.0 197.7 392.6 195.3 388.8 C192.9 385.1 193.5 378.1 191.7 372.7 C189.9 367.3 186.2 362.6 184.5 356.6 C182.8 350.6 180.6 342.5 181.8 336.4 C183.0 330.4 188.2 322.9 191.7 320.3 Z" fill="#6a2a90" fill-opacity="0.28"/>
<g filter="url(#f88)"><g fill="#6a3a9c"><circle cx="199.8" cy="349.8" r="1.6" opacity=".54"/><circle cx="199.3" cy="333.1" r="1.3" opacity=".52"/><circle cx="216.1" cy="366.1" r="1.7" opacity=".74"/><circle cx="192.8" cy="370.0" r="1.3" opacity=".55"/><circle cx="202.2" cy="379.7" r="1.5" opacity=".56"/><circle cx="212.2" cy="364.4" r="1.8" opacity=".62"/><circle cx="211.5" cy="340.7" r="2.0" opacity=".55"/><circle cx="195.4" cy="351.4" r="1.6" opacity=".49"/><circle cx="199.7" cy="377.7" r="1.5" opacity=".61"/><circle cx="202.6" cy="341.1" r="1.7" opacity=".80"/><circle cx="206.2" cy="339.7" r="1.7" opacity=".58"/><circle cx="201.7" cy="362.8" r="1.9" opacity=".54"/><circle cx="214.4" cy="361.9" r="1.4" opacity=".82"/><circle cx="196.5" cy="322.1" r="1.8" opacity=".56"/><circle cx="196.7" cy="379.6" r="1.7" opacity=".68"/><circle cx="196.6" cy="375.6" r="1.3" opacity=".71"/><circle cx="195.9" cy="338.3" r="1.9" opacity=".82"/><circle cx="210.7" cy="358.1" r="1.3" opacity=".76"/><circle cx="190.1" cy="340.9" r="1.6" opacity=".52"/><circle cx="215.7" cy="373.3" r="1.5" opacity=".52"/><circle cx="186.0" cy="348.6" r="1.8" opacity=".71"/><circle cx="206.7" cy="351.1" r="1.7" opacity=".61"/></g><g fill="#8a3a92"><circle cx="204.0" cy="389.0" r="1.6" opacity=".60"/><circle cx="208.3" cy="347.6" r="1.9" opacity=".60"/><circle cx="215.1" cy="378.4" r="1.7" opacity=".51"/><circle cx="190.0" cy="325.6" r="2.0" opacity=".56"/><circle cx="206.8" cy="374.3" r="2.0" opacity=".78"/><circle cx="186.7" cy="360.0" r="2.1" opacity=".61"/><circle cx="203.6" cy="335.2" r="1.8" opacity=".57"/><circle cx="195.5" cy="384.1" r="1.7" opacity=".54"/><circle cx="193.9" cy="341.6" r="1.3" opacity=".85"/><circle cx="195.8" cy="368.4" r="1.3" opacity=".46"/><circle cx="204.4" cy="325.6" r="1.4" opacity=".84"/><circle cx="187.4" cy="338.1" r="1.8" opacity=".76"/><circle cx="204.6" cy="385.2" r="1.6" opacity=".71"/><circle cx="197.0" cy="347.3" r="1.6" opacity=".56"/><circle cx="187.1" cy="332.6" r="1.3" opacity=".83"/><circle cx="203.1" cy="330.2" r="1.9" opacity=".46"/><circle cx="212.6" cy="349.0" r="1.9" opacity=".61"/><circle cx="214.6" cy="385.9" r="1.9" opacity=".61"/><circle cx="213.5" cy="354.6" r="2.0" opacity=".46"/><circle cx="197.9" cy="353.7" r="1.5" opacity=".47"/><circle cx="203.5" cy="357.5" r="1.9" opacity=".66"/><circle cx="215.7" cy="369.9" r="1.7" opacity=".53"/><circle cx="187.5" cy="329.4" r="1.5" opacity=".78"/><circle cx="201.1" cy="345.9" r="2.1" opacity=".45"/><circle cx="200.5" cy="323.5" r="1.9" opacity=".56"/><circle cx="208.6" cy="343.1" r="1.7" opacity=".83"/><circle cx="197.1" cy="372.0" r="1.4" opacity=".59"/><circle cx="205.4" cy="377.3" r="2.0" opacity=".48"/></g><g fill="#a02c88"><circle cx="207.9" cy="335.5" r="1.8" opacity=".72"/><circle cx="206.1" cy="355.2" r="1.7" opacity=".59"/><circle cx="197.1" cy="362.8" r="1.8" opacity=".66"/><circle cx="207.0" cy="362.6" r="1.7" opacity=".81"/><circle cx="209.9" cy="352.0" r="1.7" opacity=".72"/><circle cx="191.8" cy="332.0" r="2.0" opacity=".74"/><circle cx="188.0" cy="344.4" r="1.9" opacity=".74"/><circle cx="201.0" cy="327.8" r="1.3" opacity=".58"/><circle cx="189.9" cy="350.9" r="2.0" opacity=".47"/><circle cx="203.1" cy="353.2" r="1.7" opacity=".55"/><circle cx="198.5" cy="343.8" r="1.8" opacity=".61"/><circle cx="192.1" cy="373.9" r="1.9" opacity=".84"/><circle cx="212.2" cy="380.3" r="1.5" opacity=".48"/><circle cx="208.7" cy="380.0" r="1.7" opacity=".66"/><circle cx="199.7" cy="389.9" r="1.5" opacity=".72"/><circle cx="183.2" cy="346.5" r="1.5" opacity=".65"/><circle cx="200.4" cy="383.1" r="1.3" opacity=".65"/><circle cx="208.4" cy="387.5" r="1.3" opacity=".50"/><circle cx="189.1" cy="335.2" r="2.0" opacity=".57"/><circle cx="194.5" cy="329.1" r="1.9" opacity=".69"/><circle cx="193.6" cy="355.3" r="1.4" opacity=".66"/><circle cx="214.3" cy="358.0" r="1.4" opacity=".63"/><circle cx="183.3" cy="338.8" r="1.5" opacity=".83"/><circle cx="201.9" cy="370.5" r="1.7" opacity=".76"/></g><g fill="#7a3a9a"><circle cx="200.9" cy="374.3" r="1.4" opacity=".58"/><circle cx="192.9" cy="377.7" r="1.7" opacity=".46"/><circle cx="192.8" cy="324.0" r="2.0" opacity=".50"/><circle cx="193.5" cy="335.2" r="1.4" opacity=".65"/><circle cx="211.2" cy="385.8" r="2.0" opacity=".84"/><circle cx="191.1" cy="363.6" r="1.3" opacity=".47"/><circle cx="195.8" cy="357.6" r="1.7" opacity=".45"/><circle cx="203.5" cy="366.3" r="1.5" opacity=".80"/><circle cx="189.4" cy="367.1" r="2.0" opacity=".47"/><circle cx="204.1" cy="348.1" r="1.6" opacity=".75"/><circle cx="190.4" cy="354.9" r="2.0" opacity=".47"/><circle cx="184.7" cy="342.3" r="1.6" opacity=".51"/><circle cx="207.0" cy="331.4" r="1.8" opacity=".65"/><circle cx="199.3" cy="339.9" r="1.7" opacity=".74"/><circle cx="206.1" cy="393.7" r="2.1" opacity=".53"/><circle cx="216.0" cy="381.5" r="1.6" opacity=".74"/><circle cx="199.3" cy="366.1" r="2.1" opacity=".73"/><circle cx="191.1" cy="359.2" r="1.8" opacity=".74"/><circle cx="186.9" cy="352.4" r="1.7" opacity=".57"/><circle cx="182.7" cy="335.2" r="2.1" opacity=".55"/><circle cx="209.3" cy="370.6" r="1.8" opacity=".70"/><circle cx="206.6" cy="359.4" r="1.5" opacity=".62"/><circle cx="205.4" cy="369.6" r="1.7" opacity=".61"/><circle cx="196.2" cy="325.7" r="1.8" opacity=".57"/><circle cx="207.0" cy="390.5" r="1.7" opacity=".49"/><circle cx="212.6" cy="371.3" r="1.9" opacity=".60"/><circle cx="202.2" cy="392.9" r="1.7" opacity=".84"/><circle cx="191.2" cy="346.2" r="1.9" opacity=".67"/><circle cx="197.7" cy="387.1" r="1.7" opacity=".54"/><circle cx="193.5" cy="366.2" r="1.6" opacity=".62"/><circle cx="207.8" cy="366.5" r="1.5" opacity=".55"/><circle cx="212.1" cy="375.1" r="1.3" opacity=".58"/><circle cx="205.0" cy="344.9" r="1.7" opacity=".51"/><circle cx="186.4" cy="355.6" r="1.4" opacity=".69"/><circle cx="199.6" cy="360.0" r="1.3" opacity=".84"/><circle cx="199.7" cy="356.7" r="2.0" opacity=".78"/><circle cx="194.6" cy="345.2" r="1.3" opacity=".47"/><circle cx="192.6" cy="338.6" r="2.0" opacity=".62"/></g></g>
<g filter="url(#f89)"><g fill="#9a5ab0"><circle cx="182.8" cy="370.0" r="1.7" opacity=".47"/><circle cx="167.1" cy="368.5" r="1.9" opacity=".44"/><circle cx="191.3" cy="386.9" r="1.3" opacity=".73"/><circle cx="174.7" cy="365.1" r="1.3" opacity=".52"/><circle cx="179.2" cy="365.2" r="1.8" opacity=".57"/><circle cx="186.5" cy="367.6" r="1.7" opacity=".46"/><circle cx="172.0" cy="386.2" r="1.8" opacity=".51"/><circle cx="180.4" cy="383.9" r="1.4" opacity=".50"/><circle cx="189.2" cy="375.2" r="1.2" opacity=".62"/><circle cx="175.0" cy="377.3" r="1.9" opacity=".76"/><circle cx="168.9" cy="360.0" r="1.6" opacity=".50"/><circle cx="194.1" cy="380.5" r="1.8" opacity=".75"/><circle cx="176.9" cy="353.8" r="1.5" opacity=".46"/><circle cx="164.4" cy="363.7" r="1.5" opacity=".77"/><circle cx="185.9" cy="373.7" r="1.3" opacity=".49"/><circle cx="182.6" cy="378.4" r="1.4" opacity=".63"/><circle cx="161.3" cy="373.2" r="1.4" opacity=".58"/></g><g fill="#8a60b8"><circle cx="193.8" cy="390.8" r="1.3" opacity=".49"/><circle cx="161.6" cy="369.7" r="1.6" opacity=".60"/><circle cx="168.5" cy="364.4" r="1.8" opacity=".47"/><circle cx="176.7" cy="360.5" r="1.7" opacity=".68"/><circle cx="176.3" cy="350.2" r="1.9" opacity=".57"/><circle cx="176.2" cy="371.4" r="1.4" opacity=".77"/><circle cx="170.6" cy="370.1" r="1.3" opacity=".48"/><circle cx="187.1" cy="390.4" r="1.9" opacity=".73"/><circle cx="177.6" cy="380.2" r="1.3" opacity=".56"/><circle cx="192.7" cy="373.5" r="1.7" opacity=".79"/><circle cx="162.1" cy="356.9" r="1.3" opacity=".74"/><circle cx="195.0" cy="385.6" r="1.4" opacity=".73"/><circle cx="184.8" cy="387.2" r="1.8" opacity=".51"/><circle cx="160.0" cy="361.0" r="1.3" opacity=".61"/><circle cx="171.0" cy="382.7" r="1.2" opacity=".41"/><circle cx="173.1" cy="374.4" r="1.5" opacity=".79"/><circle cx="160.8" cy="376.7" r="1.8" opacity=".65"/><circle cx="198.5" cy="389.3" r="1.5" opacity=".72"/><circle cx="186.1" cy="382.2" r="1.8" opacity=".72"/><circle cx="165.6" cy="379.9" r="1.7" opacity=".48"/><circle cx="183.4" cy="392.9" r="2.0" opacity=".79"/><circle cx="171.6" cy="353.0" r="1.5" opacity=".62"/><circle cx="180.8" cy="374.8" r="1.6" opacity=".79"/><circle cx="167.1" cy="347.3" r="1.4" opacity=".71"/><circle cx="165.5" cy="360.1" r="1.7" opacity=".42"/><circle cx="172.0" cy="361.8" r="1.2" opacity=".77"/><circle cx="164.3" cy="375.8" r="1.7" opacity=".74"/></g><g fill="#b04aa0"><circle cx="191.3" cy="378.1" r="1.8" opacity=".60"/><circle cx="180.5" cy="359.4" r="1.4" opacity=".64"/><circle cx="168.7" cy="376.7" r="1.7" opacity=".51"/><circle cx="175.2" cy="388.2" r="1.9" opacity=".42"/><circle cx="167.8" cy="355.7" r="1.5" opacity=".48"/><circle cx="186.2" cy="378.3" r="1.4" opacity=".68"/><circle cx="172.9" cy="357.6" r="1.9" opacity=".68"/><circle cx="183.6" cy="364.7" r="1.7" opacity=".61"/><circle cx="159.3" cy="364.8" r="1.8" opacity=".41"/><circle cx="179.7" cy="390.7" r="1.5" opacity=".78"/><circle cx="172.4" cy="349.1" r="1.2" opacity=".77"/><circle cx="168.0" cy="384.9" r="1.8" opacity=".51"/><circle cx="175.5" cy="383.2" r="1.3" opacity=".45"/><circle cx="166.8" cy="373.6" r="1.4" opacity=".46"/><circle cx="164.8" cy="351.0" r="1.7" opacity=".55"/><circle cx="188.4" cy="371.4" r="1.4" opacity=".56"/></g></g>
<g filter="url(#f90)"><g fill="#8878c4"><circle cx="142.2" cy="386.2" r="1.7" opacity=".53"/><circle cx="160.7" cy="332.5" r="1.6" opacity=".47"/><circle cx="143.4" cy="357.2" r="1.8" opacity=".48"/><circle cx="171.4" cy="328.8" r="1.6" opacity=".70"/><circle cx="161.7" cy="316.5" r="1.2" opacity=".61"/><circle cx="149.8" cy="389.6" r="1.3" opacity=".58"/><circle cx="223.0" cy="324.1" r="1.4" opacity=".56"/><circle cx="146.5" cy="393.8" r="1.5" opacity=".68"/><circle cx="147.0" cy="381.9" r="1.4" opacity=".59"/><circle cx="149.6" cy="354.4" r="1.7" opacity=".67"/><circle cx="150.6" cy="342.9" r="1.5" opacity=".68"/><circle cx="168.2" cy="331.0" r="1.3" opacity=".48"/><circle cx="150.1" cy="346.5" r="1.6" opacity=".70"/><circle cx="219.9" cy="322.5" r="1.7" opacity=".48"/><circle cx="143.5" cy="390.1" r="1.3" opacity=".45"/><circle cx="146.4" cy="388.7" r="1.6" opacity=".55"/><circle cx="149.4" cy="322.3" r="1.2" opacity=".41"/><circle cx="174.6" cy="326.4" r="1.2" opacity=".46"/><circle cx="155.2" cy="323.6" r="1.5" opacity=".42"/><circle cx="147.1" cy="341.9" r="1.8" opacity=".53"/><circle cx="141.8" cy="395.9" r="1.4" opacity=".43"/><circle cx="225.8" cy="317.2" r="1.2" opacity=".56"/><circle cx="142.8" cy="348.3" r="1.8" opacity=".62"/></g><g fill="#9a6ab8"><circle cx="142.9" cy="344.7" r="1.9" opacity=".56"/><circle cx="164.5" cy="331.8" r="1.6" opacity=".50"/><circle cx="152.2" cy="350.2" r="1.3" opacity=".58"/><circle cx="167.2" cy="319.9" r="1.8" opacity=".64"/><circle cx="151.1" cy="317.5" r="1.5" opacity=".51"/><circle cx="172.4" cy="323.2" r="1.2" opacity=".52"/><circle cx="154.4" cy="331.2" r="1.2" opacity=".72"/><circle cx="146.2" cy="345.0" r="1.1" opacity=".63"/><circle cx="167.7" cy="336.7" r="1.2" opacity=".43"/><circle cx="143.4" cy="380.0" r="1.7" opacity=".63"/><circle cx="141.7" cy="352.9" r="1.7" opacity=".64"/><circle cx="168.5" cy="326.3" r="1.2" opacity=".67"/><circle cx="171.9" cy="332.1" r="1.8" opacity=".53"/><circle cx="216.3" cy="320.0" r="1.3" opacity=".78"/><circle cx="226.8" cy="321.6" r="1.7" opacity=".56"/><circle cx="153.8" cy="354.1" r="1.2" opacity=".55"/><circle cx="145.4" cy="326.8" r="1.2" opacity=".48"/><circle cx="151.8" cy="386.6" r="1.3" opacity=".48"/><circle cx="140.3" cy="390.6" r="1.1" opacity=".47"/><circle cx="147.8" cy="396.8" r="1.3" opacity=".63"/><circle cx="148.0" cy="349.7" r="1.3" opacity=".41"/></g><g fill="#b85aa8"><circle cx="151.0" cy="383.0" r="1.4" opacity=".52"/><circle cx="152.1" cy="337.0" r="1.2" opacity=".42"/><circle cx="159.8" cy="324.2" r="1.4" opacity=".78"/><circle cx="156.9" cy="337.7" r="1.6" opacity=".52"/><circle cx="152.6" cy="394.0" r="1.3" opacity=".71"/><circle cx="219.5" cy="318.4" r="1.7" opacity=".53"/><circle cx="158.5" cy="328.0" r="1.6" opacity=".41"/><circle cx="163.6" cy="320.4" r="1.7" opacity=".72"/><circle cx="154.1" cy="319.1" r="1.6" opacity=".80"/><circle cx="222.4" cy="319.9" r="1.3" opacity=".68"/><circle cx="228.7" cy="318.8" r="1.6" opacity=".42"/><circle cx="140.4" cy="383.5" r="1.4" opacity=".66"/><circle cx="172.5" cy="319.1" r="1.2" opacity=".62"/><circle cx="151.8" cy="328.2" r="1.6" opacity=".40"/><circle cx="141.8" cy="341.6" r="1.3" opacity=".54"/><circle cx="145.0" cy="318.1" r="1.7" opacity=".61"/></g></g>
<g filter="url(#f91)"><g fill="#a8a4da"><circle cx="227.8" cy="370.7" r="1.3" opacity=".54"/><circle cx="220.3" cy="343.5" r="1.1" opacity=".42"/><circle cx="226.9" cy="340.6" r="1.3" opacity=".70"/><circle cx="217.7" cy="376.7" r="1.7" opacity=".60"/><circle cx="225.1" cy="381.6" r="1.7" opacity=".42"/><circle cx="226.1" cy="357.2" r="1.3" opacity=".69"/><circle cx="224.1" cy="330.7" r="1.7" opacity=".69"/><circle cx="223.9" cy="369.4" r="1.2" opacity=".59"/><circle cx="225.1" cy="335.4" r="1.5" opacity=".57"/><circle cx="221.2" cy="352.4" r="1.4" opacity=".67"/><circle cx="222.0" cy="362.3" r="1.1" opacity=".42"/></g><g fill="#9c98d2"><circle cx="227.5" cy="388.4" r="1.4" opacity=".42"/><circle cx="227.7" cy="384.1" r="1.4" opacity=".63"/><circle cx="220.0" cy="385.4" r="1.5" opacity=".50"/><circle cx="226.7" cy="346.9" r="1.4" opacity=".52"/><circle cx="225.0" cy="385.7" r="1.3" opacity=".71"/><circle cx="218.2" cy="359.3" r="1.5" opacity=".43"/><circle cx="221.7" cy="373.5" r="1.3" opacity=".45"/><circle cx="217.2" cy="395.5" r="1.1" opacity=".50"/><circle cx="227.3" cy="329.8" r="1.3" opacity=".46"/><circle cx="217.3" cy="329.4" r="1.6" opacity=".41"/><circle cx="218.4" cy="339.5" r="1.1" opacity=".61"/><circle cx="227.2" cy="362.5" r="1.4" opacity=".47"/><circle cx="219.8" cy="393.0" r="1.2" opacity=".52"/><circle cx="228.0" cy="353.9" r="1.3" opacity=".71"/></g></g>
<defs><filter id="f98" x="-20%" y="-20%" width="140%" height="140%"><feGaussianBlur stdDeviation="1.4"/></filter></defs>
<g filter="url(#f98)">
<path d="M152.1 319.5 C154.5 317.9 163.8 318.2 166.5 319.5 C169.2 320.9 169.2 325.4 168.3 327.6 C167.4 329.7 163.8 332.2 161.1 332.4 C158.4 332.7 153.6 331.3 152.1 329.2 C150.6 327.0 149.7 321.1 152.1 319.5 Z" fill="#fbf8fc"/>
<path d="M142.2 384.8 C142.6 383.3 146.4 383.9 147.6 384.8 C148.8 385.8 149.8 389.0 149.4 390.5 C149.0 391.9 146.1 394.6 144.9 393.7 C143.7 392.7 141.8 386.3 142.2 384.8 Z" fill="#fbf8fc"/>
<path d="M176.4 371.1 C177.2 369.6 180.8 369.9 181.8 371.1 C182.9 372.3 183.4 376.9 182.7 378.4 C181.9 379.8 178.4 381.2 177.3 380.0 C176.2 378.8 175.7 372.6 176.4 371.1 Z" fill="#fbf8fc"/>
<path d="M166.5 356.6 C168.3 355.5 173.7 356.6 175.5 358.2 C177.3 359.8 178.2 364.4 177.3 366.3 C176.4 368.2 172.2 369.8 170.1 369.5 C168.0 369.2 165.3 366.8 164.7 364.7 C164.1 362.5 164.7 357.7 166.5 356.6 Z" fill="#f0dcec"/>
<path d="M139.5 345.3 C140.4 344.2 145.2 345.6 146.7 346.9 C148.2 348.3 149.4 352.3 148.5 353.4 C147.6 354.5 142.8 354.7 141.3 353.4 C139.8 352.0 138.6 346.4 139.5 345.3 Z" fill="#fbf8fc"/>
</g>
</g>
</g>
<rect x="50.50" y="224.20" width="13.40" height="15.10" fill="#1b1b1b"/>
<path d="M53.03 231.90H61.67M57.35 227.58V236.22" stroke="#fff" stroke-width="1.11" fill="none"/>
<rect x="139.50" y="224.50" width="90.00" height="80.60" fill="none" stroke="#141414" stroke-width="1.6"/>
<rect x="67.6" y="273.6" width="16.5" height="14.7" fill="none" stroke="#1a1a1a" stroke-width="1.4" stroke-dasharray="3 1.6"/>
<line x1="84.10" y1="273.60" x2="139.50" y2="224.50" stroke="#1a1a1a" stroke-width="1.45" stroke-dasharray="3.4 1.9"/>
<line x1="84.10" y1="288.30" x2="139.50" y2="305.10" stroke="#1a1a1a" stroke-width="1.45" stroke-dasharray="3.4 1.9"/>
<line x1="53.30" y1="301.60" x2="71.80" y2="301.60" stroke="#1a1a1a" stroke-width="1.6"/>
<line x1="143.00" y1="301.60" x2="161.90" y2="301.60" stroke="#1a1a1a" stroke-width="1.6"/>
<rect x="50.50" y="316.00" width="13.40" height="15.10" fill="#1b1b1b"/>
<path d="M53.03 323.70H61.67M57.35 319.38V328.02" stroke="#fff" stroke-width="1.11" fill="none"/>
<rect x="139.50" y="316.30" width="90.00" height="80.60" fill="none" stroke="#141414" stroke-width="1.6"/>
<rect x="67.6" y="365.4" width="16.5" height="14.7" fill="none" stroke="#1a1a1a" stroke-width="1.4" stroke-dasharray="3 1.6"/>
<line x1="84.10" y1="365.40" x2="139.50" y2="316.30" stroke="#1a1a1a" stroke-width="1.45" stroke-dasharray="3.4 1.9"/>
<line x1="84.10" y1="380.10" x2="139.50" y2="396.90" stroke="#1a1a1a" stroke-width="1.45" stroke-dasharray="3.4 1.9"/>
<line x1="53.30" y1="393.40" x2="71.80" y2="393.40" stroke="#1a1a1a" stroke-width="1.6"/>
<line x1="143.00" y1="393.40" x2="161.90" y2="393.40" stroke="#1a1a1a" stroke-width="1.6"/>
<clipPath id="c99"><rect x="35.30" y="439.70" width="69.80" height="67.50"/></clipPath>
<g clip-path="url(#c99)">
<rect x="35.30" y="439.70" width="69.80" height="67.50" fill="#ffffff"/>
<defs><filter id="f100" filterUnits="userSpaceOnUse" x="27.3" y="431.7" width="85.8" height="83.5" color-interpolation-filters="sRGB"><feTurbulence type="fractalNoise" baseFrequency="0.1" numOctaves="2" seed="71" result="t"/><feDisplacementMap in="SourceGraphic" in2="t" scale="3" xChannelSelector="R" yChannelSelector="G"/><feGaussianBlur stdDeviation="0.3"/></filter></defs>
<g filter="url(#f100)">
<ellipse cx="69.6" cy="472.5" rx="31.3" ry="31.3" fill="#eeeef4"/>
<clipPath id="c101"><circle cx="69.6" cy="472.5" r="31.3"/></clipPath>
<g clip-path="url(#c101)">
<defs><filter id="f102" x="0" y="0" width="1" height="1" color-interpolation-filters="sRGB"><feTurbulence type="fractalNoise" baseFrequency="0.2" numOctaves="2" seed="31"/><feColorMatrix type="matrix" values="0 0 0 0 0.478 0 0 0 0 0.384 0 0 0 0 0.345 4 0 0 0 -1.5"/><feComponentTransfer><feFuncA type="table" tableValues="0 0 0 0.5 1 0.5 0 0 0"/></feComponentTransfer><feComposite in2="SourceAlpha" operator="in"/></filter></defs>
<g filter="url(#f102)" opacity="0.62"><ellipse cx="69.6" cy="472.5" rx="31.3" ry="31.3" fill="#000"/></g>
<defs><filter id="f103" x="0" y="0" width="1" height="1" color-interpolation-filters="sRGB"><feTurbulence type="fractalNoise" baseFrequency="0.2" numOctaves="2" seed="32"/><feColorMatrix type="matrix" values="0 0 0 0 0.541 0 0 0 0 0.573 0 0 0 0 0.722 4 0 0 0 -1.5"/><feComponentTransfer><feFuncA type="table" tableValues="0 0 1 0 0 0 1 0 0"/></feComponentTransfer><feComposite in2="SourceAlpha" operator="in"/></filter></defs>
<g filter="url(#f103)" opacity="0.3"><ellipse cx="69.6" cy="472.5" rx="31.3" ry="31.3" fill="#000"/></g>
<defs><filter id="f104" x="0" y="0" width="1" height="1" color-interpolation-filters="sRGB"><feTurbulence type="fractalNoise" baseFrequency="0.6" numOctaves="2" seed="33"/><feColorMatrix type="matrix" values="0 0 0 0 0.416 0 0 0 0 0.290 0 0 0 0 0.235 5 0 0 0 -3.0"/><feComposite in2="SourceAlpha" operator="in"/></filter></defs>
<g filter="url(#f104)" opacity="0.3"><ellipse cx="69.6" cy="472.5" rx="31.3" ry="31.3" fill="#000"/></g>
<ellipse cx="64.6" cy="474.8" rx="4.1" ry="2.4" transform="rotate(20 64.6 474.8)" fill="#ffffff"/>
<ellipse cx="74.4" cy="465.3" rx="2.4" ry="4.1" transform="rotate(-20 74.4 465.3)" fill="#ffffff"/>
<ellipse cx="56.2" cy="466.7" rx="2.7" ry="1.7" fill="#ffffff"/>
<ellipse cx="80.0" cy="481.6" rx="3.4" ry="2.1" transform="rotate(30 80.0 481.6)" fill="#ffffff"/>
<ellipse cx="66.7" cy="488.3" rx="2.7" ry="1.7" fill="#ffffff"/>
<ellipse cx="85.6" cy="459.9" rx="2.1" ry="2.7" fill="#ffffff"/>
<ellipse cx="52.8" cy="481.6" rx="2.1" ry="2.7" transform="rotate(20 52.8 481.6)" fill="#ffffff"/>
<ellipse cx="70.2" cy="453.2" rx="2.7" ry="1.4" fill="#ffffff"/>
</g></g>
</g>
<clipPath id="c105"><rect x="108.20" y="439.70" width="70.20" height="67.50"/></clipPath>
<g clip-path="url(#c105)">
<rect x="108.20" y="439.70" width="70.20" height="67.50" fill="#ffffff"/>
<defs><filter id="f106" filterUnits="userSpaceOnUse" x="100.2" y="431.7" width="86.2" height="83.5" color-interpolation-filters="sRGB"><feTurbulence type="fractalNoise" baseFrequency="0.1" numOctaves="2" seed="71" result="t"/><feDisplacementMap in="SourceGraphic" in2="t" scale="3" xChannelSelector="R" yChannelSelector="G"/><feGaussianBlur stdDeviation="0.3"/></filter></defs>
<g filter="url(#f106)">
<ellipse cx="142.7" cy="472.5" rx="31.4" ry="31.4" fill="#e9f1f5"/>
<clipPath id="c107"><circle cx="142.7" cy="472.5" r="31.4"/></clipPath>
<g clip-path="url(#c107)">
<defs><filter id="f108" x="0" y="0" width="1" height="1" color-interpolation-filters="sRGB"><feTurbulence type="fractalNoise" baseFrequency="0.2" numOctaves="2" seed="31"/><feColorMatrix type="matrix" values="0 0 0 0 0.290 0 0 0 0 0.525 0 0 0 0 0.675 4 0 0 0 -1.5"/><feComponentTransfer><feFuncA type="table" tableValues="0 0 0 0.6 1 0.6 0 0 0"/></feComponentTransfer><feComposite in2="SourceAlpha" operator="in"/></filter></defs>
<g filter="url(#f108)" opacity="0.68"><ellipse cx="142.7" cy="472.5" rx="31.4" ry="31.4" fill="#000"/></g>
<defs><filter id="f109" x="0" y="0" width="1" height="1" color-interpolation-filters="sRGB"><feTurbulence type="fractalNoise" baseFrequency="0.2" numOctaves="2" seed="32"/><feColorMatrix type="matrix" values="0 0 0 0 0.416 0 0 0 0 0.651 0 0 0 0 0.753 4 0 0 0 -1.5"/><feComponentTransfer><feFuncA type="table" tableValues="0 0 1 0 0 0 1 0 0"/></feComponentTransfer><feComposite in2="SourceAlpha" operator="in"/></filter></defs>
<g filter="url(#f109)" opacity="0.35"><ellipse cx="142.7" cy="472.5" rx="31.4" ry="31.4" fill="#000"/></g>
<defs><filter id="f110" x="0" y="0" width="1" height="1" color-interpolation-filters="sRGB"><feTurbulence type="fractalNoise" baseFrequency="0.6" numOctaves="2" seed="33"/><feColorMatrix type="matrix" values="0 0 0 0 0.227 0 0 0 0 0.471 0 0 0 0 0.627 5 0 0 0 -3.0"/><feComposite in2="SourceAlpha" operator="in"/></filter></defs>
<g filter="url(#f110)" opacity="0.3"><ellipse cx="142.7" cy="472.5" rx="31.4" ry="31.4" fill="#000"/></g>
<ellipse cx="137.7" cy="474.8" rx="4.1" ry="2.4" transform="rotate(20 137.7 474.8)" fill="#ffffff"/>
<ellipse cx="147.5" cy="465.3" rx="2.4" ry="4.1" transform="rotate(-20 147.5 465.3)" fill="#ffffff"/>
<ellipse cx="129.3" cy="466.7" rx="2.8" ry="1.7" fill="#ffffff"/>
<ellipse cx="153.1" cy="481.6" rx="3.4" ry="2.1" transform="rotate(30 153.1 481.6)" fill="#ffffff"/>
<ellipse cx="139.8" cy="488.3" rx="2.8" ry="1.7" fill="#ffffff"/>
<ellipse cx="158.7" cy="459.9" rx="2.1" ry="2.8" fill="#ffffff"/>
<ellipse cx="125.8" cy="481.6" rx="2.1" ry="2.8" transform="rotate(20 125.8 481.6)" fill="#ffffff"/>
<ellipse cx="143.3" cy="453.2" rx="2.8" ry="1.4" fill="#ffffff"/>
</g></g>
</g>
<clipPath id="c111"><rect x="181.00" y="439.70" width="69.50" height="67.50"/></clipPath>
<g clip-path="url(#c111)">
<rect x="181.00" y="439.70" width="69.50" height="67.50" fill="#ffffff"/>
<defs><filter id="f112" filterUnits="userSpaceOnUse" x="173.0" y="431.7" width="85.5" height="83.5" color-interpolation-filters="sRGB"><feTurbulence type="fractalNoise" baseFrequency="0.1" numOctaves="2" seed="71" result="t"/><feDisplacementMap in="SourceGraphic" in2="t" scale="3" xChannelSelector="R" yChannelSelector="G"/><feGaussianBlur stdDeviation="0.3"/></filter></defs>
<g filter="url(#f112)">
<ellipse cx="215.2" cy="472.5" rx="31.2" ry="31.2" fill="#efeef6"/>
<clipPath id="c113"><circle cx="215.2" cy="472.5" r="31.2"/></clipPath>
<g clip-path="url(#c113)">
<defs><filter id="f114" x="0" y="0" width="1" height="1" color-interpolation-filters="sRGB"><feTurbulence type="fractalNoise" baseFrequency="0.2" numOctaves="2" seed="31"/><feColorMatrix type="matrix" values="0 0 0 0 0.557 0 0 0 0 0.549 0 0 0 0 0.784 4 0 0 0 -1.5"/><feComponentTransfer><feFuncA type="table" tableValues="0 0 0 0.5 1 0.5 0 0 0"/></feComponentTransfer><feComposite in2="SourceAlpha" operator="in"/></filter></defs>
<g filter="url(#f114)" opacity="0.58"><ellipse cx="215.2" cy="472.5" rx="31.2" ry="31.2" fill="#000"/></g>
<defs><filter id="f115" x="0" y="0" width="1" height="1" color-interpolation-filters="sRGB"><feTurbulence type="fractalNoise" baseFrequency="0.2" numOctaves="2" seed="32"/><feColorMatrix type="matrix" values="0 0 0 0 0.659 0 0 0 0 0.651 0 0 0 0 0.831 4 0 0 0 -1.5"/><feComponentTransfer><feFuncA type="table" tableValues="0 0 1 0 0 0 1 0 0"/></feComponentTransfer><feComposite in2="SourceAlpha" operator="in"/></filter></defs>
<g filter="url(#f115)" opacity="0.25"><ellipse cx="215.2" cy="472.5" rx="31.2" ry="31.2" fill="#000"/></g>
<defs><filter id="f116" x="0" y="0" width="1" height="1" color-interpolation-filters="sRGB"><feTurbulence type="fractalNoise" baseFrequency="0.6" numOctaves="2" seed="33"/><feColorMatrix type="matrix" values="0 0 0 0 0.541 0 0 0 0 0.533 0 0 0 0 0.769 5 0 0 0 -3.0"/><feComposite in2="SourceAlpha" operator="in"/></filter></defs>
<g filter="url(#f116)" opacity="0.3"><ellipse cx="215.2" cy="472.5" rx="31.2" ry="31.2" fill="#000"/></g>
<ellipse cx="210.2" cy="474.8" rx="4.1" ry="2.4" transform="rotate(20 210.2 474.8)" fill="#ffffff"/>
<ellipse cx="219.9" cy="465.3" rx="2.4" ry="4.1" transform="rotate(-20 219.9 465.3)" fill="#ffffff"/>
<ellipse cx="201.8" cy="466.7" rx="2.7" ry="1.7" fill="#ffffff"/>
<ellipse cx="225.5" cy="481.6" rx="3.4" ry="2.1" transform="rotate(30 225.5 481.6)" fill="#ffffff"/>
<ellipse cx="212.3" cy="488.3" rx="2.7" ry="1.7" fill="#ffffff"/>
<ellipse cx="231.0" cy="459.9" rx="2.1" ry="2.7" fill="#ffffff"/>
<ellipse cx="198.4" cy="481.6" rx="2.1" ry="2.7" transform="rotate(20 198.4 481.6)" fill="#ffffff"/>
<ellipse cx="215.8" cy="453.2" rx="2.7" ry="1.4" fill="#ffffff"/>
</g></g>
</g>
<defs><filter id="f117" x="-20%" y="-20%" width="140%" height="140%"><feGaussianBlur stdDeviation="0.4"/></filter></defs>
<defs><filter id="f118" x="-20%" y="-20%" width="140%" height="140%"><feGaussianBlur stdDeviation="0.4"/></filter></defs>
<clipPath id="c119"><rect x="35.30" y="510.60" width="69.80" height="61.10"/></clipPath>
<g clip-path="url(#c119)">
<rect x="35.30" y="510.60" width="69.80" height="61.10" fill="#f5f3f2"/>
<defs><filter id="f120" x="0" y="0" width="1" height="1" color-interpolation-filters="sRGB"><feTurbulence type="fractalNoise" baseFrequency="0.3" numOctaves="2" seed="33"/><feColorMatrix type="matrix" values="0 0 0 0 0.604 0 0 0 0 0.627 0 0 0 0 0.784 5 0 0 0 -3.2"/></filter></defs>
<rect x="35.30" y="510.60" width="69.80" height="61.10" fill="#000" filter="url(#f120)" opacity="0.45"/>
<defs><filter id="f121" filterUnits="userSpaceOnUse" x="27.3" y="502.6" width="85.8" height="77.1" color-interpolation-filters="sRGB"><feTurbulence type="fractalNoise" baseFrequency="0.05" numOctaves="2" seed="63" result="t"/><feDisplacementMap in="SourceGraphic" in2="t" scale="5" xChannelSelector="R" yChannelSelector="G"/><feGaussianBlur stdDeviation="0.45"/></filter></defs>
<g filter="url(#f121)">
<path d="M42.3 507.5 C42.7 511.1 45.1 521.8 45.1 528.9 C45.1 536.1 42.0 542.7 42.3 550.3 C42.5 558.0 45.8 570.7 46.5 574.8" fill="none" stroke="#ebe3de" stroke-width="6.54" stroke-opacity="0.9" stroke-linecap="round" stroke-linejoin="round"/>
<path d="M56.2 507.5 C56.0 512.1 54.7 526.9 54.8 535.0 C55.0 543.2 56.7 549.8 56.9 556.4 C57.2 563.0 56.4 571.7 56.2 574.8" fill="none" stroke="#ebe3de" stroke-width="5.89" stroke-opacity="0.9" stroke-linecap="round" stroke-linejoin="round"/>
<path d="M70.9 507.5 C70.9 511.1 70.5 521.3 70.9 528.9 C71.2 536.6 73.2 545.7 73.0 553.4 C72.8 561.0 70.1 571.2 69.5 574.8" fill="none" stroke="#ebe3de" stroke-width="6.54" stroke-opacity="0.9" stroke-linecap="round" stroke-linejoin="round"/>
<path d="M73.0 515.5 C74.6 517.5 79.5 523.8 82.8 527.7 C86.0 531.6 90.9 536.9 92.5 538.7" fill="none" stroke="#ebe3de" stroke-width="5.24" stroke-opacity="0.9" stroke-linecap="round" stroke-linejoin="round"/>
<path d="M78.6 541.1 C79.0 543.7 80.2 550.8 81.4 556.4 C82.5 562.0 84.9 571.7 85.6 574.8" fill="none" stroke="#ebe3de" stroke-width="5.89" stroke-opacity="0.9" stroke-linecap="round" stroke-linejoin="round"/>
<path d="M103.0 507.5 C102.5 512.1 101.1 526.9 100.2 535.0 C99.3 543.2 98.1 549.8 97.4 556.4 C96.7 563.0 96.3 571.7 96.0 574.8" fill="none" stroke="#ebe3de" stroke-width="5.89" stroke-opacity="0.9" stroke-linecap="round" stroke-linejoin="round"/>
<defs><filter id="f122" x="0" y="0" width="1" height="1" color-interpolation-filters="sRGB"><feTurbulence type="fractalNoise" baseFrequency="0.35" numOctaves="2" seed="43"/><feColorMatrix type="matrix" values="0 0 0 0 0.353 0 0 0 0 0.408 0 0 0 0 0.659 6 0 0 0 -3.4"/><feComposite in2="SourceAlpha" operator="in"/></filter></defs>
<g filter="url(#f122)" opacity="0.6">
<path d="M42.3 507.5 C42.7 511.1 45.1 521.8 45.1 528.9 C45.1 536.1 42.0 542.7 42.3 550.3 C42.5 558.0 45.8 570.7 46.5 574.8" fill="none" stroke="#000" stroke-width="6.54" stroke-linecap="round" stroke-linejoin="round"/>
<path d="M56.2 507.5 C56.0 512.1 54.7 526.9 54.8 535.0 C55.0 543.2 56.7 549.8 56.9 556.4 C57.2 563.0 56.4 571.7 56.2 574.8" fill="none" stroke="#000" stroke-width="5.89" stroke-linecap="round" stroke-linejoin="round"/>
<path d="M70.9 507.5 C70.9 511.1 70.5 521.3 70.9 528.9 C71.2 536.6 73.2 545.7 73.0 553.4 C72.8 561.0 70.1 571.2 69.5 574.8" fill="none" stroke="#000" stroke-width="6.54" stroke-linecap="round" stroke-linejoin="round"/>
<path d="M73.0 515.5 C74.6 517.5 79.5 523.8 82.8 527.7 C86.0 531.6 90.9 536.9 92.5 538.7" fill="none" stroke="#000" stroke-width="5.24" stroke-linecap="round" stroke-linejoin="round"/>
<path d="M78.6 541.1 C79.0 543.7 80.2 550.8 81.4 556.4 C82.5 562.0 84.9 571.7 85.6 574.8" fill="none" stroke="#000" stroke-width="5.89" stroke-linecap="round" stroke-linejoin="round"/>
<path d="M103.0 507.5 C102.5 512.1 101.1 526.9 100.2 535.0 C99.3 543.2 98.1 549.8 97.4 556.4 C96.7 563.0 96.3 571.7 96.0 574.8" fill="none" stroke="#000" stroke-width="5.89" stroke-linecap="round" stroke-linejoin="round"/>
</g>
<g filter="url(#f118)"><g fill="#5e3a2e"><circle cx="54.3" cy="543.7" r="1.3" opacity=".40"/><circle cx="102.2" cy="533.2" r="1.2" opacity=".64"/><circle cx="104.6" cy="567.3" r="1.5" opacity=".62"/><circle cx="39.1" cy="525.3" r="1.5" opacity=".80"/><circle cx="100.6" cy="524.7" r="1.1" opacity=".74"/><circle cx="53.3" cy="515.4" r="1.0" opacity=".57"/><circle cx="36.4" cy="510.8" r="1.2" opacity=".74"/><circle cx="56.1" cy="533.1" r="1.2" opacity=".43"/><circle cx="57.3" cy="555.9" r="1.0" opacity=".79"/><circle cx="70.5" cy="513.1" r="1.0" opacity=".63"/></g><g fill="#6a4434"><circle cx="61.5" cy="544.2" r="1.4" opacity=".59"/><circle cx="74.6" cy="519.4" r="1.3" opacity=".74"/><circle cx="47.4" cy="570.3" r="1.0" opacity=".45"/><circle cx="70.0" cy="533.2" r="1.3" opacity=".60"/><circle cx="66.8" cy="527.6" r="1.5" opacity=".72"/><circle cx="89.8" cy="531.8" r="1.3" opacity=".48"/></g></g>
<g filter="url(#f117)"><g fill="#5e3a2e"><circle cx="45.2" cy="509.9" r="1.2" opacity=".76"/><circle cx="41.8" cy="511.0" r="1.5" opacity=".91"/><circle cx="45.7" cy="514.0" r="1.2" opacity=".88"/><circle cx="42.2" cy="515.4" r="1.4" opacity=".96"/><circle cx="43.0" cy="514.4" r="1.3" opacity=".78"/><circle cx="44.7" cy="519.1" r="1.3" opacity=".71"/><circle cx="48.0" cy="529.6" r="1.7" opacity=".81"/><circle cx="45.8" cy="532.5" r="1.2" opacity=".75"/><circle cx="47.0" cy="538.3" r="1.2" opacity=".88"/><circle cx="43.8" cy="547.1" r="1.3" opacity=".84"/><circle cx="42.2" cy="545.8" r="1.3" opacity=".80"/><circle cx="44.3" cy="554.4" r="1.4" opacity=".98"/><circle cx="57.6" cy="520.4" r="1.2" opacity=".78"/><circle cx="54.5" cy="532.0" r="1.3" opacity=".81"/><circle cx="57.9" cy="538.1" r="1.7" opacity=".77"/><circle cx="58.5" cy="545.4" r="1.4" opacity=".76"/><circle cx="54.7" cy="546.5" r="1.5" opacity=".93"/><circle cx="58.6" cy="551.2" r="1.6" opacity=".71"/><circle cx="54.4" cy="550.5" r="1.6" opacity=".78"/><circle cx="56.6" cy="550.5" r="1.3" opacity=".99"/><circle cx="57.7" cy="555.1" r="1.4" opacity=".77"/><circle cx="55.8" cy="554.3" r="1.4" opacity=".84"/><circle cx="54.9" cy="566.7" r="1.6" opacity=".81"/><circle cx="72.8" cy="514.8" r="1.4" opacity=".70"/><circle cx="72.9" cy="520.0" r="1.3" opacity=".84"/><circle cx="68.1" cy="528.3" r="1.6" opacity=".94"/><circle cx="70.6" cy="557.4" r="1.1" opacity=".79"/><circle cx="72.4" cy="569.0" r="1.2" opacity=".93"/><circle cx="69.9" cy="572.1" r="1.3" opacity=".91"/><circle cx="76.2" cy="520.8" r="1.5" opacity=".93"/><circle cx="77.5" cy="524.5" r="1.2" opacity=".97"/><circle cx="82.4" cy="525.6" r="1.4" opacity=".99"/><circle cx="84.8" cy="531.3" r="1.2" opacity=".86"/><circle cx="88.0" cy="533.6" r="1.3" opacity=".94"/><circle cx="91.7" cy="535.7" r="1.4" opacity=".85"/><circle cx="94.7" cy="537.9" r="1.3" opacity=".87"/><circle cx="92.1" cy="538.6" r="1.3" opacity=".94"/><circle cx="81.7" cy="550.4" r="1.5" opacity=".96"/><circle cx="79.2" cy="559.4" r="1.2" opacity=".83"/><circle cx="81.3" cy="558.0" r="1.3" opacity=".77"/><circle cx="81.2" cy="562.6" r="1.4" opacity=".94"/><circle cx="84.5" cy="570.3" r="1.3" opacity=".94"/><circle cx="100.5" cy="522.7" r="1.6" opacity=".99"/><circle cx="96.4" cy="542.4" r="1.4" opacity=".87"/><circle cx="96.0" cy="546.9" r="1.3" opacity=".78"/><circle cx="99.0" cy="554.6" r="1.5" opacity=".98"/><circle cx="99.6" cy="563.5" r="1.3" opacity=".97"/><circle cx="94.4" cy="571.0" r="1.2" opacity=".93"/></g><g fill="#6a4434"><circle cx="47.4" cy="518.8" r="1.6" opacity=".71"/><circle cx="41.6" cy="520.6" r="1.6" opacity=".84"/><circle cx="42.0" cy="524.2" r="1.7" opacity=".84"/><circle cx="44.4" cy="533.6" r="1.3" opacity=".88"/><circle cx="45.9" cy="543.0" r="1.4" opacity=".79"/><circle cx="45.4" cy="549.4" r="1.5" opacity=".96"/><circle cx="40.1" cy="549.9" r="1.5" opacity=".92"/><circle cx="46.4" cy="560.1" r="1.3" opacity=".83"/><circle cx="45.8" cy="571.9" r="1.3" opacity=".71"/><circle cx="48.8" cy="573.2" r="1.4" opacity=".87"/><circle cx="56.8" cy="516.3" r="1.5" opacity=".86"/><circle cx="53.6" cy="526.9" r="1.7" opacity=".82"/><circle cx="52.5" cy="530.0" r="1.3" opacity=".93"/><circle cx="52.1" cy="538.3" r="1.2" opacity=".85"/><circle cx="57.7" cy="540.7" r="1.2" opacity=".72"/><circle cx="55.2" cy="571.7" r="1.6" opacity="1.00"/><circle cx="71.2" cy="519.1" r="1.3" opacity=".86"/><circle cx="72.0" cy="523.4" r="1.3" opacity=".84"/><circle cx="69.5" cy="543.7" r="1.4" opacity=".88"/><circle cx="73.8" cy="563.6" r="1.2" opacity=".75"/><circle cx="71.2" cy="572.3" r="1.5" opacity=".91"/><circle cx="73.3" cy="519.5" r="1.4" opacity=".73"/><circle cx="81.3" cy="523.5" r="1.3" opacity=".90"/><circle cx="81.7" cy="529.8" r="1.4" opacity=".99"/><circle cx="92.2" cy="539.1" r="1.3" opacity=".91"/><circle cx="84.6" cy="557.6" r="1.5" opacity=".76"/><circle cx="85.4" cy="562.2" r="1.1" opacity=".92"/><circle cx="104.3" cy="512.6" r="1.6" opacity=".95"/><circle cx="102.1" cy="510.4" r="1.2" opacity=".96"/><circle cx="104.7" cy="519.5" r="1.3" opacity=".70"/><circle cx="103.6" cy="523.1" r="1.6" opacity=".82"/><circle cx="103.0" cy="533.1" r="1.3" opacity=".99"/><circle cx="99.8" cy="541.6" r="1.3" opacity=".94"/><circle cx="98.7" cy="559.6" r="1.4" opacity=".77"/><circle cx="96.1" cy="571.1" r="1.3" opacity=".86"/></g><g fill="#5a5a98"><circle cx="46.0" cy="524.2" r="1.5" opacity=".73"/><circle cx="42.7" cy="529.5" r="1.3" opacity=".73"/><circle cx="45.5" cy="529.2" r="1.3" opacity=".79"/><circle cx="41.8" cy="532.5" r="1.2" opacity=".96"/><circle cx="42.6" cy="537.6" r="1.2" opacity=".96"/><circle cx="42.1" cy="540.9" r="1.6" opacity=".86"/><circle cx="39.6" cy="544.4" r="1.4" opacity=".79"/><circle cx="54.7" cy="520.1" r="1.4" opacity=".71"/><circle cx="57.2" cy="522.8" r="1.3" opacity=".77"/><circle cx="52.5" cy="522.0" r="1.5" opacity=".87"/><circle cx="55.7" cy="530.2" r="1.3" opacity=".96"/><circle cx="54.8" cy="529.3" r="1.3" opacity=".91"/><circle cx="55.8" cy="532.8" r="1.3" opacity=".99"/><circle cx="52.7" cy="533.1" r="1.3" opacity=".77"/><circle cx="59.8" cy="562.7" r="1.4" opacity=".83"/><circle cx="56.5" cy="567.3" r="1.3" opacity=".98"/><circle cx="58.5" cy="570.7" r="1.3" opacity=".84"/><circle cx="72.4" cy="510.3" r="1.4" opacity=".87"/><circle cx="69.1" cy="511.4" r="1.3" opacity=".79"/><circle cx="68.4" cy="514.0" r="1.3" opacity=".86"/><circle cx="74.5" cy="532.8" r="1.2" opacity=".89"/><circle cx="70.5" cy="533.3" r="1.3" opacity=".91"/><circle cx="73.9" cy="548.0" r="1.4" opacity=".76"/><circle cx="70.1" cy="549.7" r="1.4" opacity=".78"/><circle cx="75.6" cy="552.3" r="1.3" opacity=".76"/><circle cx="72.1" cy="552.8" r="1.3" opacity=".95"/><circle cx="72.2" cy="563.3" r="1.3" opacity="1.00"/><circle cx="67.9" cy="571.9" r="1.2" opacity=".80"/><circle cx="77.0" cy="520.8" r="1.3" opacity=".92"/><circle cx="87.4" cy="529.7" r="1.2" opacity=".83"/><circle cx="89.7" cy="531.9" r="1.2" opacity=".80"/><circle cx="80.8" cy="545.1" r="1.6" opacity="1.00"/><circle cx="78.3" cy="555.1" r="1.2" opacity=".89"/><circle cx="86.3" cy="567.0" r="1.3" opacity=".85"/><circle cx="83.2" cy="567.3" r="1.6" opacity="1.00"/><circle cx="86.1" cy="571.2" r="1.4" opacity=".91"/><circle cx="81.8" cy="571.3" r="1.6" opacity=".90"/><circle cx="99.5" cy="525.8" r="1.7" opacity=".88"/><circle cx="101.1" cy="538.3" r="1.2" opacity=".94"/><circle cx="102.1" cy="542.3" r="1.4" opacity=".90"/><circle cx="96.2" cy="558.4" r="1.1" opacity=".76"/><circle cx="96.9" cy="571.3" r="1.2" opacity=".88"/></g><g fill="#52322a"><circle cx="42.6" cy="550.4" r="1.3" opacity=".79"/><circle cx="40.9" cy="555.6" r="1.3" opacity=".81"/><circle cx="43.9" cy="557.5" r="1.6" opacity=".85"/><circle cx="40.3" cy="559.2" r="1.4" opacity=".84"/><circle cx="41.7" cy="561.4" r="1.6" opacity=".79"/><circle cx="46.4" cy="563.9" r="1.2" opacity=".71"/><circle cx="43.0" cy="564.6" r="1.3" opacity=".74"/><circle cx="47.9" cy="566.6" r="1.4" opacity=".91"/><circle cx="42.3" cy="567.0" r="1.7" opacity=".84"/><circle cx="47.2" cy="570.1" r="1.2" opacity=".80"/><circle cx="58.6" cy="510.8" r="1.6" opacity=".75"/><circle cx="54.5" cy="510.5" r="1.2" opacity=".85"/><circle cx="53.1" cy="517.3" r="1.4" opacity=".89"/><circle cx="56.3" cy="526.3" r="1.6" opacity=".92"/><circle cx="52.4" cy="541.5" r="1.3" opacity=".97"/><circle cx="54.2" cy="557.8" r="1.5" opacity=".92"/><circle cx="55.2" cy="562.7" r="1.5" opacity=".86"/><circle cx="57.7" cy="567.5" r="1.5" opacity=".73"/><circle cx="67.7" cy="518.9" r="1.5" opacity=".79"/><circle cx="72.8" cy="539.1" r="1.4" opacity=".74"/><circle cx="72.0" cy="538.5" r="1.3" opacity=".92"/><circle cx="75.4" cy="542.5" r="1.4" opacity=".84"/><circle cx="70.2" cy="563.9" r="1.3" opacity=".77"/><circle cx="69.7" cy="566.8" r="1.4" opacity=".87"/><circle cx="75.6" cy="517.1" r="1.2" opacity=".97"/><circle cx="77.9" cy="519.4" r="1.5" opacity=".73"/><circle cx="79.6" cy="527.0" r="1.6" opacity=".97"/><circle cx="85.6" cy="527.2" r="1.2" opacity=".77"/><circle cx="87.4" cy="535.3" r="1.5" opacity=".70"/><circle cx="89.4" cy="537.7" r="1.5" opacity=".84"/><circle cx="89.9" cy="535.9" r="1.3" opacity=".93"/><circle cx="77.9" cy="545.7" r="1.6" opacity=".97"/><circle cx="82.5" cy="547.7" r="1.2" opacity=".86"/><circle cx="81.8" cy="555.4" r="1.4" opacity=".92"/><circle cx="86.9" cy="572.2" r="1.3" opacity=".77"/><circle cx="100.3" cy="520.6" r="1.1" opacity=".92"/><circle cx="101.9" cy="529.2" r="1.5" opacity=".96"/><circle cx="99.6" cy="529.6" r="1.4" opacity=".79"/><circle cx="99.4" cy="532.4" r="1.6" opacity=".85"/><circle cx="100.0" cy="537.1" r="1.3" opacity=".92"/><circle cx="99.7" cy="549.6" r="1.3" opacity=".95"/><circle cx="95.1" cy="562.3" r="1.6" opacity=".84"/><circle cx="94.1" cy="566.1" r="1.4" opacity=".80"/><circle cx="94.1" cy="572.6" r="1.3" opacity=".96"/></g></g>
<defs><filter id="f123" x="-20%" y="-20%" width="140%" height="140%"><feGaussianBlur stdDeviation="0.9"/></filter></defs>
<g filter="url(#f123)">
<path d="M61.1 509.4 C61.9 505.6 64.4 505.6 65.3 509.4 C66.2 513.1 66.4 524.7 66.7 532.0 C67.1 539.3 67.8 546.5 67.4 553.4 C67.1 560.2 65.7 569.7 64.6 572.9 C63.6 576.2 61.6 576.2 61.1 572.9 C60.7 569.7 61.9 560.2 61.8 553.4 C61.7 546.5 60.5 539.3 60.4 532.0 C60.3 524.7 60.3 513.1 61.1 509.4 Z" fill="#fdfdfd"/>
<path d="M95.3 514.3 C97.0 511.8 99.6 514.0 99.5 517.9 C99.4 521.9 96.6 532.0 94.6 538.1 C92.7 544.2 89.5 551.0 87.6 554.6 C85.8 558.2 84.0 560.5 83.5 559.5 C82.9 558.5 83.1 553.0 84.2 548.5 C85.2 544.0 87.9 538.3 89.7 532.6 C91.6 526.9 93.7 516.7 95.3 514.3 Z" fill="#fdfdfd"/>
<path d="M36.0 514.3 C36.5 510.0 38.8 510.3 39.5 514.3 C40.2 518.2 40.7 533.8 40.2 538.1 C39.7 542.4 37.4 543.9 36.7 539.9 C36.0 536.0 35.5 518.5 36.0 514.3 Z" fill="#fdfdfd"/>
</g>
</g>
</g>
<defs><filter id="f124" x="-20%" y="-20%" width="140%" height="140%"><feGaussianBlur stdDeviation="0.4"/></filter></defs>
<defs><filter id="f125" x="-20%" y="-20%" width="140%" height="140%"><feGaussianBlur stdDeviation="0.4"/></filter></defs>
<clipPath id="c126"><rect x="108.20" y="510.60" width="70.20" height="61.10"/></clipPath>
<g clip-path="url(#c126)">
<rect x="108.20" y="510.60" width="70.20" height="61.10" fill="#eef4f6"/>
<defs><filter id="f127" x="0" y="0" width="1" height="1" color-interpolation-filters="sRGB"><feTurbulence type="fractalNoise" baseFrequency="0.3" numOctaves="2" seed="33"/><feColorMatrix type="matrix" values="0 0 0 0 0.541 0 0 0 0 0.690 0 0 0 0 0.784 5 0 0 0 -3.1"/></filter></defs>
<rect x="108.20" y="510.60" width="70.20" height="61.10" fill="#000" filter="url(#f127)" opacity="0.45"/>
<defs><filter id="f128" filterUnits="userSpaceOnUse" x="100.2" y="502.6" width="86.2" height="77.1" color-interpolation-filters="sRGB"><feTurbulence type="fractalNoise" baseFrequency="0.05" numOctaves="2" seed="63" result="t"/><feDisplacementMap in="SourceGraphic" in2="t" scale="5" xChannelSelector="R" yChannelSelector="G"/><feGaussianBlur stdDeviation="0.45"/></filter></defs>
<g filter="url(#f128)">
<path d="M115.2 507.5 C115.7 511.1 118.0 521.8 118.0 528.9 C118.0 536.1 115.0 542.7 115.2 550.3 C115.5 558.0 118.7 570.7 119.4 574.8" fill="none" stroke="#b4d6dc" stroke-width="6.57" stroke-opacity="0.9" stroke-linecap="round" stroke-linejoin="round"/>
<path d="M129.3 507.5 C129.0 512.1 127.7 526.9 127.9 535.0 C128.0 543.2 129.7 549.8 130.0 556.4 C130.2 563.0 129.4 571.7 129.3 574.8" fill="none" stroke="#b4d6dc" stroke-width="5.91" stroke-opacity="0.9" stroke-linecap="round" stroke-linejoin="round"/>
<path d="M144.0 507.5 C144.0 511.1 143.7 521.3 144.0 528.9 C144.4 536.6 146.3 545.7 146.1 553.4 C145.9 561.0 143.2 571.2 142.6 574.8" fill="none" stroke="#b4d6dc" stroke-width="6.57" stroke-opacity="0.9" stroke-linecap="round" stroke-linejoin="round"/>
<path d="M146.1 515.5 C147.7 517.5 152.7 523.8 155.9 527.7 C159.2 531.6 164.1 536.9 165.8 538.7" fill="none" stroke="#b4d6dc" stroke-width="5.25" stroke-opacity="0.9" stroke-linecap="round" stroke-linejoin="round"/>
<path d="M151.7 541.1 C152.2 543.7 153.4 550.8 154.5 556.4 C155.7 562.0 158.0 571.7 158.7 574.8" fill="none" stroke="#b4d6dc" stroke-width="5.91" stroke-opacity="0.9" stroke-linecap="round" stroke-linejoin="round"/>
<path d="M176.3 507.5 C175.8 512.1 174.4 526.9 173.5 535.0 C172.5 543.2 171.4 549.8 170.7 556.4 C170.0 563.0 169.5 571.7 169.3 574.8" fill="none" stroke="#b4d6dc" stroke-width="5.91" stroke-opacity="0.9" stroke-linecap="round" stroke-linejoin="round"/>
<defs><filter id="f129" x="0" y="0" width="1" height="1" color-interpolation-filters="sRGB"><feTurbulence type="fractalNoise" baseFrequency="0.35" numOctaves="2" seed="43"/><feColorMatrix type="matrix" values="0 0 0 0 0.165 0 0 0 0 0.541 0 0 0 0 0.565 6 0 0 0 -3.2"/><feComposite in2="SourceAlpha" operator="in"/></filter></defs>
<g filter="url(#f129)" opacity="0.5">
<path d="M115.2 507.5 C115.7 511.1 118.0 521.8 118.0 528.9 C118.0 536.1 115.0 542.7 115.2 550.3 C115.5 558.0 118.7 570.7 119.4 574.8" fill="none" stroke="#000" stroke-width="6.57" stroke-linecap="round" stroke-linejoin="round"/>
<path d="M129.3 507.5 C129.0 512.1 127.7 526.9 127.9 535.0 C128.0 543.2 129.7 549.8 130.0 556.4 C130.2 563.0 129.4 571.7 129.3 574.8" fill="none" stroke="#000" stroke-width="5.91" stroke-linecap="round" stroke-linejoin="round"/>
<path d="M144.0 507.5 C144.0 511.1 143.7 521.3 144.0 528.9 C144.4 536.6 146.3 545.7 146.1 553.4 C145.9 561.0 143.2 571.2 142.6 574.8" fill="none" stroke="#000" stroke-width="6.57" stroke-linecap="round" stroke-linejoin="round"/>
<path d="M146.1 515.5 C147.7 517.5 152.7 523.8 155.9 527.7 C159.2 531.6 164.1 536.9 165.8 538.7" fill="none" stroke="#000" stroke-width="5.25" stroke-linecap="round" stroke-linejoin="round"/>
<path d="M151.7 541.1 C152.2 543.7 153.4 550.8 154.5 556.4 C155.7 562.0 158.0 571.7 158.7 574.8" fill="none" stroke="#000" stroke-width="5.91" stroke-linecap="round" stroke-linejoin="round"/>
<path d="M176.3 507.5 C175.8 512.1 174.4 526.9 173.5 535.0 C172.5 543.2 171.4 549.8 170.7 556.4 C170.0 563.0 169.5 571.7 169.3 574.8" fill="none" stroke="#000" stroke-width="5.91" stroke-linecap="round" stroke-linejoin="round"/>
</g>
<g filter="url(#f125)"><g fill="#1f4f84"><circle cx="143.7" cy="538.3" r="1.2" opacity=".55"/><circle cx="171.8" cy="528.2" r="1.1" opacity=".56"/><circle cx="175.7" cy="571.4" r="1.4" opacity=".76"/><circle cx="131.4" cy="534.1" r="1.4" opacity=".52"/><circle cx="124.6" cy="560.9" r="1.0" opacity=".77"/><circle cx="132.7" cy="563.8" r="1.3" opacity=".68"/><circle cx="158.7" cy="516.6" r=".9" opacity=".74"/><circle cx="165.5" cy="566.8" r="1.0" opacity=".60"/><circle cx="115.2" cy="522.1" r="1.0" opacity=".78"/></g><g fill="#23588e"><circle cx="135.2" cy="561.6" r="1.0" opacity=".41"/><circle cx="139.8" cy="557.2" r="1.3" opacity=".45"/><circle cx="129.6" cy="518.7" r=".9" opacity=".63"/><circle cx="144.3" cy="528.8" r="1.2" opacity=".68"/><circle cx="139.6" cy="544.7" r="1.5" opacity=".57"/><circle cx="159.6" cy="561.9" r="1.1" opacity=".44"/><circle cx="138.2" cy="529.4" r="1.1" opacity=".59"/></g></g>
<g filter="url(#f124)"><g fill="#1f4f84"><circle cx="117.1" cy="509.1" r="1.7" opacity=".78"/><circle cx="112.4" cy="510.5" r="1.2" opacity=".94"/><circle cx="115.3" cy="514.4" r="1.1" opacity=".73"/><circle cx="114.0" cy="520.2" r="1.3" opacity=".90"/><circle cx="116.9" cy="519.6" r="1.3" opacity=".82"/><circle cx="120.2" cy="523.0" r="1.3" opacity=".72"/><circle cx="117.3" cy="546.9" r="1.4" opacity=".84"/><circle cx="117.7" cy="549.3" r="1.4" opacity=".90"/><circle cx="117.1" cy="560.1" r="1.4" opacity=".75"/><circle cx="120.7" cy="566.8" r="1.2" opacity=".77"/><circle cx="129.9" cy="510.4" r="1.3" opacity=".75"/><circle cx="126.2" cy="517.2" r="1.5" opacity=".94"/><circle cx="129.9" cy="520.2" r="1.6" opacity=".87"/><circle cx="126.5" cy="538.1" r="1.4" opacity=".75"/><circle cx="129.4" cy="542.5" r="1.3" opacity=".72"/><circle cx="127.6" cy="545.7" r="1.6" opacity=".94"/><circle cx="132.0" cy="550.2" r="1.4" opacity=".81"/><circle cx="128.0" cy="550.9" r="1.4" opacity=".72"/><circle cx="127.7" cy="553.9" r="1.7" opacity=".78"/><circle cx="128.8" cy="559.3" r="1.6" opacity=".92"/><circle cx="131.6" cy="562.1" r="1.1" opacity=".70"/><circle cx="131.5" cy="570.2" r="1.4" opacity=".85"/><circle cx="129.1" cy="570.2" r="1.3" opacity=".80"/><circle cx="145.9" cy="543.3" r="1.3" opacity=".91"/><circle cx="143.1" cy="558.4" r="1.3" opacity="1.00"/><circle cx="146.1" cy="563.3" r="1.3" opacity=".83"/><circle cx="145.8" cy="568.4" r="1.3" opacity=".84"/><circle cx="149.6" cy="522.9" r="1.1" opacity=".94"/><circle cx="151.0" cy="525.0" r="1.5" opacity=".84"/><circle cx="159.2" cy="527.8" r="1.2" opacity=".81"/><circle cx="154.9" cy="547.4" r="1.2" opacity=".79"/><circle cx="151.4" cy="552.3" r="1.3" opacity=".73"/><circle cx="159.5" cy="566.2" r="1.4" opacity=".92"/><circle cx="160.2" cy="569.6" r="1.1" opacity=".98"/><circle cx="158.6" cy="573.2" r="1.3" opacity=".75"/><circle cx="176.3" cy="523.8" r="1.1" opacity=".79"/><circle cx="175.5" cy="527.6" r="1.3" opacity=".85"/><circle cx="173.0" cy="529.3" r="1.6" opacity=".84"/><circle cx="172.4" cy="531.8" r="1.3" opacity=".94"/><circle cx="175.9" cy="536.9" r="1.5" opacity=".97"/><circle cx="170.8" cy="536.8" r="1.4" opacity=".84"/><circle cx="174.4" cy="546.1" r="1.3" opacity=".78"/><circle cx="166.9" cy="571.6" r="1.2" opacity=".89"/><circle cx="170.3" cy="573.2" r="1.2" opacity=".99"/></g><g fill="#2a6a90"><circle cx="115.4" cy="510.0" r="1.3" opacity=".99"/><circle cx="118.8" cy="514.8" r="1.5" opacity=".98"/><circle cx="120.2" cy="519.8" r="1.4" opacity=".76"/><circle cx="119.8" cy="529.6" r="1.3" opacity=".87"/><circle cx="117.7" cy="529.0" r="1.3" opacity=".80"/><circle cx="120.2" cy="532.5" r="1.5" opacity=".97"/><circle cx="115.4" cy="533.4" r="1.6" opacity=".83"/><circle cx="118.9" cy="537.7" r="1.3" opacity=".98"/><circle cx="113.9" cy="537.8" r="1.4" opacity=".84"/><circle cx="117.9" cy="541.3" r="1.5" opacity=".77"/><circle cx="115.1" cy="563.4" r="1.6" opacity=".73"/><circle cx="120.1" cy="571.4" r="1.5" opacity=".71"/><circle cx="116.6" cy="570.7" r="1.2" opacity=".88"/><circle cx="127.9" cy="512.1" r="1.5" opacity=".71"/><circle cx="130.5" cy="517.7" r="1.2" opacity="1.00"/><circle cx="127.0" cy="533.3" r="1.5" opacity=".95"/><circle cx="127.2" cy="543.0" r="1.4" opacity=".87"/><circle cx="130.8" cy="554.7" r="1.3" opacity=".81"/><circle cx="127.0" cy="566.7" r="1.5" opacity=".71"/><circle cx="128.2" cy="572.8" r="1.2" opacity=".71"/><circle cx="145.7" cy="518.4" r="1.3" opacity=".84"/><circle cx="146.9" cy="524.1" r="1.6" opacity=".74"/><circle cx="140.8" cy="529.4" r="1.3" opacity=".94"/><circle cx="144.3" cy="529.2" r="1.3" opacity=".85"/><circle cx="144.5" cy="533.2" r="1.3" opacity=".84"/><circle cx="146.4" cy="538.4" r="1.2" opacity=".89"/><circle cx="144.3" cy="544.1" r="1.1" opacity=".97"/><circle cx="143.9" cy="549.9" r="1.2" opacity=".84"/><circle cx="144.8" cy="563.0" r="1.3" opacity=".99"/><circle cx="147.2" cy="517.9" r="1.2" opacity=".85"/><circle cx="160.0" cy="530.4" r="1.2" opacity=".75"/><circle cx="162.4" cy="532.3" r="1.3" opacity=".84"/><circle cx="164.2" cy="540.0" r="1.3" opacity=".89"/><circle cx="154.5" cy="550.7" r="1.4" opacity=".79"/><circle cx="157.8" cy="557.7" r="1.3" opacity=".96"/><circle cx="154.9" cy="558.3" r="1.3" opacity=".71"/><circle cx="155.9" cy="567.7" r="1.3" opacity=".83"/><circle cx="175.1" cy="511.4" r="1.3" opacity=".74"/><circle cx="173.5" cy="517.5" r="1.6" opacity=".96"/><circle cx="174.0" cy="543.3" r="1.2" opacity=".83"/><circle cx="170.1" cy="542.7" r="1.7" opacity=".77"/><circle cx="170.3" cy="546.0" r="1.5" opacity=".86"/><circle cx="169.5" cy="550.6" r="1.4" opacity=".85"/><circle cx="171.5" cy="550.2" r="1.3" opacity=".84"/><circle cx="170.6" cy="558.0" r="1.3" opacity=".89"/><circle cx="170.2" cy="567.3" r="1.3" opacity=".89"/><circle cx="169.7" cy="570.6" r="1.3" opacity=".76"/></g><g fill="#23588e"><circle cx="116.9" cy="523.9" r="1.3" opacity=".72"/><circle cx="117.4" cy="533.1" r="1.3" opacity=".74"/><circle cx="114.1" cy="542.0" r="1.3" opacity=".91"/><circle cx="113.7" cy="545.5" r="1.5" opacity=".87"/><circle cx="114.2" cy="554.7" r="1.4" opacity=".96"/><circle cx="119.1" cy="564.4" r="1.3" opacity=".91"/><circle cx="116.7" cy="564.3" r="1.3" opacity=".71"/><circle cx="127.2" cy="519.5" r="1.2" opacity=".90"/><circle cx="128.8" cy="529.0" r="1.5" opacity=".83"/><circle cx="129.6" cy="531.9" r="1.4" opacity=".74"/><circle cx="131.5" cy="545.6" r="1.6" opacity=".71"/><circle cx="128.0" cy="563.5" r="1.6" opacity="1.00"/><circle cx="143.1" cy="510.7" r="1.6" opacity=".93"/><circle cx="143.1" cy="513.5" r="1.2" opacity=".92"/><circle cx="144.0" cy="523.7" r="1.3" opacity=".79"/><circle cx="146.7" cy="528.5" r="1.5" opacity=".85"/><circle cx="142.6" cy="534.5" r="1.4" opacity=".72"/><circle cx="148.2" cy="544.2" r="1.6" opacity=".85"/><circle cx="142.9" cy="553.9" r="1.6" opacity=".88"/><circle cx="147.3" cy="559.0" r="1.2" opacity=".77"/><circle cx="143.0" cy="563.7" r="1.3" opacity=".74"/><circle cx="145.4" cy="572.9" r="1.2" opacity=".95"/><circle cx="152.6" cy="519.9" r="1.4" opacity=".97"/><circle cx="153.7" cy="523.3" r="1.3" opacity=".82"/><circle cx="156.0" cy="525.1" r="1.3" opacity=".90"/><circle cx="158.6" cy="531.6" r="1.5" opacity=".84"/><circle cx="161.4" cy="535.0" r="1.6" opacity=".77"/><circle cx="162.7" cy="537.5" r="1.6" opacity=".71"/><circle cx="152.8" cy="544.7" r="1.3" opacity=".81"/><circle cx="157.1" cy="554.8" r="1.6" opacity=".93"/><circle cx="153.5" cy="554.4" r="1.1" opacity=".76"/><circle cx="157.6" cy="562.8" r="1.3" opacity=".84"/><circle cx="155.0" cy="563.2" r="1.4" opacity=".94"/><circle cx="161.2" cy="572.3" r="1.6" opacity=".81"/><circle cx="176.1" cy="511.7" r="1.3" opacity=".83"/><circle cx="176.2" cy="517.6" r="1.5" opacity=".90"/><circle cx="175.6" cy="516.5" r="1.3" opacity=".70"/><circle cx="172.1" cy="525.3" r="1.6" opacity=".99"/><circle cx="174.8" cy="526.7" r="1.3" opacity=".88"/><circle cx="175.3" cy="531.5" r="1.4" opacity=".94"/><circle cx="172.4" cy="542.0" r="1.3" opacity=".81"/><circle cx="169.5" cy="559.2" r="1.6" opacity=".78"/><circle cx="171.5" cy="563.2" r="1.4" opacity=".71"/><circle cx="172.2" cy="568.0" r="1.7" opacity=".87"/><circle cx="171.3" cy="571.3" r="1.6" opacity=".85"/></g><g fill="#2c649a"><circle cx="115.3" cy="550.5" r="1.3" opacity=".76"/><circle cx="117.2" cy="555.3" r="1.3" opacity=".95"/><circle cx="117.4" cy="558.1" r="1.3" opacity=".96"/><circle cx="115.3" cy="557.8" r="1.3" opacity=".87"/><circle cx="113.9" cy="561.0" r="1.2" opacity=".80"/><circle cx="116.9" cy="566.0" r="1.4" opacity=".95"/><circle cx="131.0" cy="524.2" r="1.4" opacity=".79"/><circle cx="125.9" cy="522.8" r="1.3" opacity=".71"/><circle cx="129.1" cy="527.4" r="1.4" opacity=".84"/><circle cx="126.8" cy="526.4" r="1.4" opacity=".81"/><circle cx="128.0" cy="529.0" r="1.3" opacity=".86"/><circle cx="129.4" cy="536.8" r="1.2" opacity=".96"/><circle cx="129.0" cy="550.1" r="1.3" opacity=".77"/><circle cx="127.2" cy="569.5" r="1.2" opacity=".97"/><circle cx="144.7" cy="509.7" r="1.4" opacity=".95"/><circle cx="146.4" cy="515.1" r="1.2" opacity=".81"/><circle cx="142.9" cy="518.4" r="1.7" opacity=".93"/><circle cx="142.6" cy="523.9" r="1.5" opacity=".81"/><circle cx="145.5" cy="533.3" r="1.2" opacity=".81"/><circle cx="142.1" cy="539.9" r="1.5" opacity=".71"/><circle cx="148.8" cy="549.4" r="1.6" opacity=".78"/><circle cx="142.0" cy="567.5" r="1.4" opacity=".81"/><circle cx="149.4" cy="517.6" r="1.2" opacity=".81"/><circle cx="153.5" cy="527.9" r="1.1" opacity=".94"/><circle cx="164.4" cy="535.6" r="1.6" opacity=".92"/><circle cx="166.9" cy="537.7" r="1.2" opacity=".71"/><circle cx="155.0" cy="543.6" r="1.4" opacity=".83"/><circle cx="149.8" cy="544.6" r="1.5" opacity=".75"/><circle cx="150.3" cy="548.7" r="1.2" opacity=".97"/><circle cx="156.7" cy="570.1" r="1.4" opacity=".82"/><circle cx="177.0" cy="511.4" r="1.7" opacity=".95"/><circle cx="176.1" cy="520.8" r="1.6" opacity=".88"/><circle cx="172.9" cy="520.2" r="1.5" opacity=".86"/><circle cx="172.6" cy="523.8" r="1.4" opacity=".72"/><circle cx="175.2" cy="522.9" r="1.3" opacity=".97"/><circle cx="175.2" cy="528.7" r="1.1" opacity=".72"/><circle cx="172.7" cy="549.6" r="1.5" opacity=".86"/><circle cx="172.4" cy="554.7" r="1.2" opacity=".96"/><circle cx="170.3" cy="554.2" r="1.7" opacity=".85"/><circle cx="172.0" cy="559.0" r="1.5" opacity=".90"/><circle cx="167.2" cy="563.6" r="1.2" opacity=".80"/></g></g>
<defs><filter id="f130" x="-20%" y="-20%" width="140%" height="140%"><feGaussianBlur stdDeviation="0.9"/></filter></defs>
<g filter="url(#f130)">
<path d="M134.2 509.4 C135.0 505.6 137.4 505.6 138.4 509.4 C139.3 513.1 139.4 524.7 139.8 532.0 C140.1 539.3 140.8 546.5 140.5 553.4 C140.1 560.2 138.7 569.7 137.7 572.9 C136.6 576.2 134.6 576.2 134.2 572.9 C133.7 569.7 135.0 560.2 134.9 553.4 C134.8 546.5 133.6 539.3 133.5 532.0 C133.4 524.7 133.4 513.1 134.2 509.4 Z" fill="#fdfefe"/>
<path d="M168.6 514.3 C170.2 511.8 172.9 514.0 172.8 517.9 C172.7 521.9 169.9 532.0 167.9 538.1 C165.9 544.2 162.7 551.0 160.9 554.6 C159.0 558.2 157.2 560.5 156.6 559.5 C156.1 558.5 156.3 553.0 157.3 548.5 C158.4 544.0 161.1 538.3 163.0 532.6 C164.8 526.9 166.9 516.7 168.6 514.3 Z" fill="#fdfefe"/>
<path d="M108.9 514.3 C109.4 510.0 111.7 510.3 112.4 514.3 C113.1 518.2 113.6 533.8 113.1 538.1 C112.6 542.4 110.3 543.9 109.6 539.9 C108.9 536.0 108.4 518.5 108.9 514.3 Z" fill="#fdfefe"/>
</g>
</g>
</g>
<defs><filter id="f131" x="-20%" y="-20%" width="140%" height="140%"><feGaussianBlur stdDeviation="0.4"/></filter></defs>
<defs><filter id="f132" x="-20%" y="-20%" width="140%" height="140%"><feGaussianBlur stdDeviation="0.4"/></filter></defs>
<clipPath id="c133"><rect x="181.00" y="510.60" width="69.50" height="61.10"/></clipPath>
<g clip-path="url(#c133)">
<rect x="181.00" y="510.60" width="69.50" height="61.10" fill="#f5f2f8"/>
<defs><filter id="f134" x="0" y="0" width="1" height="1" color-interpolation-filters="sRGB"><feTurbulence type="fractalNoise" baseFrequency="0.3" numOctaves="2" seed="33"/><feColorMatrix type="matrix" values="0 0 0 0 0.659 0 0 0 0 0.651 0 0 0 0 0.831 5 0 0 0 -3.2"/></filter></defs>
<rect x="181.00" y="510.60" width="69.50" height="61.10" fill="#000" filter="url(#f134)" opacity="0.45"/>
<defs><filter id="f135" filterUnits="userSpaceOnUse" x="173.0" y="502.6" width="85.5" height="77.1" color-interpolation-filters="sRGB"><feTurbulence type="fractalNoise" baseFrequency="0.05" numOctaves="2" seed="63" result="t"/><feDisplacementMap in="SourceGraphic" in2="t" scale="5" xChannelSelector="R" yChannelSelector="G"/><feGaussianBlur stdDeviation="0.45"/></filter></defs>
<g filter="url(#f135)">
<path d="M187.9 507.5 C188.4 511.1 190.7 521.8 190.7 528.9 C190.7 536.1 187.7 542.7 187.9 550.3 C188.2 558.0 191.4 570.7 192.1 574.8" fill="none" stroke="#e2def0" stroke-width="6.53" stroke-opacity="0.9" stroke-linecap="round" stroke-linejoin="round"/>
<path d="M201.8 507.5 C201.6 512.1 200.3 526.9 200.5 535.0 C200.6 543.2 202.3 549.8 202.5 556.4 C202.8 563.0 202.0 571.7 201.8 574.8" fill="none" stroke="#e2def0" stroke-width="5.88" stroke-opacity="0.9" stroke-linecap="round" stroke-linejoin="round"/>
<path d="M216.4 507.5 C216.4 511.1 216.1 521.3 216.4 528.9 C216.8 536.6 218.8 545.7 218.5 553.4 C218.3 561.0 215.6 571.2 215.1 574.8" fill="none" stroke="#e2def0" stroke-width="6.53" stroke-opacity="0.9" stroke-linecap="round" stroke-linejoin="round"/>
<path d="M218.5 515.5 C220.2 517.5 225.0 523.8 228.3 527.7 C231.5 531.6 236.4 536.9 238.0 538.7" fill="none" stroke="#e2def0" stroke-width="5.22" stroke-opacity="0.9" stroke-linecap="round" stroke-linejoin="round"/>
<path d="M224.1 541.1 C224.6 543.7 225.7 550.8 226.9 556.4 C228.0 562.0 230.3 571.7 231.0 574.8" fill="none" stroke="#e2def0" stroke-width="5.88" stroke-opacity="0.9" stroke-linecap="round" stroke-linejoin="round"/>
<path d="M248.4 507.5 C248.0 512.1 246.6 526.9 245.6 535.0 C244.7 543.2 243.6 549.8 242.9 556.4 C242.2 563.0 241.7 571.7 241.5 574.8" fill="none" stroke="#e2def0" stroke-width="5.88" stroke-opacity="0.9" stroke-linecap="round" stroke-linejoin="round"/>
<defs><filter id="f136" x="0" y="0" width="1" height="1" color-interpolation-filters="sRGB"><feTurbulence type="fractalNoise" baseFrequency="0.35" numOctaves="2" seed="43"/><feColorMatrix type="matrix" values="0 0 0 0 0.604 0 0 0 0 0.596 0 0 0 0 0.816 6 0 0 0 -3.3"/><feComposite in2="SourceAlpha" operator="in"/></filter></defs>
<g filter="url(#f136)" opacity="0.5">
<path d="M187.9 507.5 C188.4 511.1 190.7 521.8 190.7 528.9 C190.7 536.1 187.7 542.7 187.9 550.3 C188.2 558.0 191.4 570.7 192.1 574.8" fill="none" stroke="#000" stroke-width="6.53" stroke-linecap="round" stroke-linejoin="round"/>
<path d="M201.8 507.5 C201.6 512.1 200.3 526.9 200.5 535.0 C200.6 543.2 202.3 549.8 202.5 556.4 C202.8 563.0 202.0 571.7 201.8 574.8" fill="none" stroke="#000" stroke-width="5.88" stroke-linecap="round" stroke-linejoin="round"/>
<path d="M216.4 507.5 C216.4 511.1 216.1 521.3 216.4 528.9 C216.8 536.6 218.8 545.7 218.5 553.4 C218.3 561.0 215.6 571.2 215.1 574.8" fill="none" stroke="#000" stroke-width="6.53" stroke-linecap="round" stroke-linejoin="round"/>
<path d="M218.5 515.5 C220.2 517.5 225.0 523.8 228.3 527.7 C231.5 531.6 236.4 536.9 238.0 538.7" fill="none" stroke="#000" stroke-width="5.22" stroke-linecap="round" stroke-linejoin="round"/>
<path d="M224.1 541.1 C224.6 543.7 225.7 550.8 226.9 556.4 C228.0 562.0 230.3 571.7 231.0 574.8" fill="none" stroke="#000" stroke-width="5.88" stroke-linecap="round" stroke-linejoin="round"/>
<path d="M248.4 507.5 C248.0 512.1 246.6 526.9 245.6 535.0 C244.7 543.2 243.6 549.8 242.9 556.4 C242.2 563.0 241.7 571.7 241.5 574.8" fill="none" stroke="#000" stroke-width="5.88" stroke-linecap="round" stroke-linejoin="round"/>
</g>
<defs><filter id="f137" x="0" y="0" width="1" height="1" color-interpolation-filters="sRGB"><feTurbulence type="fractalNoise" baseFrequency="0.5" numOctaves="2" seed="53"/><feColorMatrix type="matrix" values="0 0 0 0 0.722 0 0 0 0 0.125 0 0 0 0 0.439 7 0 0 0 -4.4"/><feComposite in2="SourceAlpha" operator="in"/></filter></defs>
<g filter="url(#f137)" opacity="0.9">
<path d="M187.9 507.5 C188.4 511.1 190.7 521.8 190.7 528.9 C190.7 536.1 187.7 542.7 187.9 550.3 C188.2 558.0 191.4 570.7 192.1 574.8" fill="none" stroke="#000" stroke-width="6.53" stroke-linecap="round" stroke-linejoin="round"/>
<path d="M201.8 507.5 C201.6 512.1 200.3 526.9 200.5 535.0 C200.6 543.2 202.3 549.8 202.5 556.4 C202.8 563.0 202.0 571.7 201.8 574.8" fill="none" stroke="#000" stroke-width="5.88" stroke-linecap="round" stroke-linejoin="round"/>
<path d="M216.4 507.5 C216.4 511.1 216.1 521.3 216.4 528.9 C216.8 536.6 218.8 545.7 218.5 553.4 C218.3 561.0 215.6 571.2 215.1 574.8" fill="none" stroke="#000" stroke-width="6.53" stroke-linecap="round" stroke-linejoin="round"/>
<path d="M218.5 515.5 C220.2 517.5 225.0 523.8 228.3 527.7 C231.5 531.6 236.4 536.9 238.0 538.7" fill="none" stroke="#000" stroke-width="5.22" stroke-linecap="round" stroke-linejoin="round"/>
<path d="M224.1 541.1 C224.6 543.7 225.7 550.8 226.9 556.4 C228.0 562.0 230.3 571.7 231.0 574.8" fill="none" stroke="#000" stroke-width="5.88" stroke-linecap="round" stroke-linejoin="round"/>
<path d="M248.4 507.5 C248.0 512.1 246.6 526.9 245.6 535.0 C244.7 543.2 243.6 549.8 242.9 556.4 C242.2 563.0 241.7 571.7 241.5 574.8" fill="none" stroke="#000" stroke-width="5.88" stroke-linecap="round" stroke-linejoin="round"/>
</g>
<g filter="url(#f132)"><g fill="#7a77bc"><circle cx="191.1" cy="540.5" r="1.2" opacity=".54"/><circle cx="211.1" cy="546.2" r="1.0" opacity=".57"/><circle cx="186.9" cy="530.5" r="1.1" opacity=".69"/><circle cx="215.1" cy="540.2" r="1.0" opacity=".43"/><circle cx="181.1" cy="532.4" r="1.1" opacity=".43"/><circle cx="218.4" cy="544.8" r="1.3" opacity=".73"/><circle cx="211.7" cy="534.1" r="1.3" opacity=".55"/><circle cx="201.8" cy="569.5" r="1.5" opacity=".55"/><circle cx="246.8" cy="531.2" r=".9" opacity=".68"/></g><g fill="#8683c6"><circle cx="248.3" cy="560.2" r="1.4" opacity=".67"/><circle cx="228.3" cy="520.2" r="1.4" opacity=".68"/><circle cx="202.3" cy="562.0" r="1.0" opacity=".44"/><circle cx="244.0" cy="551.0" r=".9" opacity=".68"/><circle cx="201.7" cy="523.6" r=".9" opacity=".67"/><circle cx="189.6" cy="515.0" r="1.5" opacity=".42"/><circle cx="244.7" cy="548.5" r="1.4" opacity=".47"/></g></g>
<g filter="url(#f131)"><g fill="#8683c6"><circle cx="185.2" cy="510.7" r="1.4" opacity=".68"/><circle cx="190.6" cy="514.5" r="1.7" opacity=".59"/><circle cx="189.4" cy="519.3" r="1.3" opacity=".74"/><circle cx="192.7" cy="537.8" r="1.7" opacity=".55"/><circle cx="189.2" cy="550.4" r="1.4" opacity=".74"/><circle cx="188.9" cy="558.1" r="1.3" opacity=".65"/><circle cx="187.0" cy="561.1" r="1.1" opacity=".72"/><circle cx="188.8" cy="571.0" r="1.6" opacity=".70"/><circle cx="191.1" cy="571.5" r="1.3" opacity=".63"/><circle cx="199.7" cy="511.4" r="1.4" opacity=".76"/><circle cx="199.0" cy="519.8" r="1.5" opacity=".73"/><circle cx="202.7" cy="531.7" r="1.6" opacity=".70"/><circle cx="200.6" cy="532.2" r="1.3" opacity=".72"/><circle cx="202.3" cy="537.1" r="1.6" opacity=".68"/><circle cx="201.7" cy="541.1" r="1.6" opacity=".88"/><circle cx="198.4" cy="543.1" r="1.6" opacity=".70"/><circle cx="199.4" cy="550.7" r="1.4" opacity=".68"/><circle cx="204.7" cy="555.2" r="1.2" opacity=".78"/><circle cx="201.2" cy="554.8" r="1.6" opacity=".70"/><circle cx="204.9" cy="566.0" r="1.3" opacity=".83"/><circle cx="204.2" cy="570.2" r="1.4" opacity=".66"/><circle cx="217.7" cy="509.5" r="1.3" opacity=".77"/><circle cx="218.9" cy="515.3" r="1.3" opacity=".81"/><circle cx="213.5" cy="518.2" r="1.7" opacity=".79"/><circle cx="218.9" cy="524.6" r="1.7" opacity=".89"/><circle cx="213.3" cy="524.2" r="1.4" opacity=".87"/><circle cx="217.3" cy="534.0" r="1.3" opacity=".70"/><circle cx="219.5" cy="547.8" r="1.7" opacity=".56"/><circle cx="215.6" cy="557.8" r="1.4" opacity=".73"/><circle cx="215.1" cy="563.5" r="1.1" opacity=".84"/><circle cx="217.6" cy="563.0" r="1.3" opacity=".60"/><circle cx="216.3" cy="568.3" r="1.3" opacity=".81"/><circle cx="228.0" cy="526.5" r="1.5" opacity=".57"/><circle cx="226.8" cy="526.9" r="1.3" opacity=".88"/><circle cx="233.0" cy="535.8" r="1.3" opacity=".80"/><circle cx="222.3" cy="544.6" r="1.7" opacity=".55"/><circle cx="227.6" cy="546.4" r="1.3" opacity=".77"/><circle cx="227.0" cy="551.5" r="1.5" opacity=".72"/><circle cx="225.6" cy="551.5" r="1.3" opacity=".82"/><circle cx="225.2" cy="555.3" r="1.5" opacity=".82"/><circle cx="226.6" cy="558.9" r="1.5" opacity=".84"/><circle cx="226.3" cy="566.4" r="1.2" opacity=".85"/><circle cx="229.8" cy="573.4" r="1.5" opacity=".77"/><circle cx="247.5" cy="517.2" r="1.3" opacity=".62"/><circle cx="248.1" cy="523.0" r="1.3" opacity=".65"/><circle cx="243.9" cy="523.8" r="1.1" opacity=".70"/><circle cx="244.5" cy="525.7" r="1.6" opacity=".83"/><circle cx="246.7" cy="529.9" r="1.3" opacity=".68"/><circle cx="242.6" cy="545.6" r="1.2" opacity=".78"/><circle cx="242.1" cy="563.2" r="1.3" opacity=".66"/><circle cx="242.8" cy="566.6" r="1.3" opacity=".69"/></g><g fill="#9491ce"><circle cx="187.6" cy="514.6" r="1.5" opacity=".70"/><circle cx="192.8" cy="523.4" r="1.6" opacity=".90"/><circle cx="192.5" cy="528.1" r="1.7" opacity=".89"/><circle cx="189.9" cy="528.8" r="1.3" opacity=".84"/><circle cx="188.0" cy="540.5" r="1.7" opacity=".59"/><circle cx="189.0" cy="541.2" r="1.3" opacity=".62"/><circle cx="187.1" cy="546.4" r="1.3" opacity=".89"/><circle cx="185.0" cy="550.5" r="1.6" opacity=".55"/><circle cx="192.7" cy="562.4" r="1.1" opacity=".78"/><circle cx="194.0" cy="570.0" r="1.3" opacity=".66"/><circle cx="203.4" cy="517.8" r="1.2" opacity=".63"/><circle cx="199.7" cy="515.9" r="1.3" opacity=".69"/><circle cx="202.0" cy="523.6" r="1.2" opacity=".64"/><circle cx="199.4" cy="522.7" r="1.5" opacity=".60"/><circle cx="197.8" cy="525.9" r="1.5" opacity=".62"/><circle cx="200.6" cy="526.5" r="1.3" opacity=".82"/><circle cx="201.2" cy="530.5" r="1.4" opacity=".56"/><circle cx="198.2" cy="529.4" r="1.5" opacity=".71"/><circle cx="197.8" cy="538.1" r="1.5" opacity=".68"/><circle cx="199.0" cy="545.8" r="1.5" opacity=".81"/><circle cx="201.3" cy="557.7" r="1.7" opacity=".83"/><circle cx="203.4" cy="563.4" r="1.2" opacity=".79"/><circle cx="199.4" cy="573.3" r="1.5" opacity=".82"/><circle cx="213.2" cy="509.7" r="1.3" opacity=".59"/><circle cx="216.6" cy="524.6" r="1.3" opacity=".69"/><circle cx="215.8" cy="534.0" r="1.2" opacity=".79"/><circle cx="216.8" cy="544.9" r="1.3" opacity=".70"/><circle cx="220.8" cy="553.3" r="1.2" opacity=".84"/><circle cx="217.8" cy="553.0" r="1.4" opacity=".89"/><circle cx="219.1" cy="558.9" r="1.2" opacity=".88"/><circle cx="214.2" cy="567.1" r="1.2" opacity=".60"/><circle cx="222.2" cy="516.7" r="1.4" opacity=".61"/><circle cx="218.9" cy="519.4" r="1.4" opacity=".71"/><circle cx="225.4" cy="520.2" r="1.2" opacity=".88"/><circle cx="222.3" cy="522.2" r="1.4" opacity=".66"/><circle cx="230.9" cy="527.6" r="1.6" opacity=".88"/><circle cx="228.1" cy="528.8" r="1.4" opacity=".76"/><circle cx="234.4" cy="531.9" r="1.2" opacity=".82"/><circle cx="234.0" cy="536.7" r="1.6" opacity=".85"/><circle cx="239.9" cy="537.5" r="1.6" opacity=".76"/><circle cx="223.9" cy="548.0" r="1.6" opacity=".66"/><circle cx="224.6" cy="552.3" r="1.3" opacity=".89"/><circle cx="225.6" cy="563.0" r="1.2" opacity=".63"/><circle cx="229.1" cy="566.9" r="1.3" opacity=".86"/><circle cx="231.0" cy="570.3" r="1.3" opacity=".76"/><circle cx="247.0" cy="512.1" r="1.6" opacity=".76"/><circle cx="246.1" cy="516.1" r="1.6" opacity=".88"/><circle cx="246.2" cy="519.0" r="1.1" opacity=".72"/><circle cx="247.1" cy="523.5" r="1.3" opacity=".86"/><circle cx="247.8" cy="532.9" r="1.7" opacity=".63"/><circle cx="245.0" cy="533.3" r="1.7" opacity=".66"/><circle cx="243.6" cy="541.1" r="1.3" opacity=".89"/><circle cx="244.8" cy="551.5" r="1.2" opacity=".86"/><circle cx="243.8" cy="558.8" r="1.3" opacity=".70"/><circle cx="241.4" cy="558.1" r="1.5" opacity=".87"/><circle cx="244.4" cy="563.2" r="1.5" opacity=".67"/><circle cx="240.3" cy="566.6" r="1.2" opacity=".56"/><circle cx="244.0" cy="570.4" r="1.6" opacity=".74"/><circle cx="240.3" cy="571.3" r="1.4" opacity=".63"/></g><g fill="#7a77bc"><circle cx="191.0" cy="519.1" r="1.6" opacity=".67"/><circle cx="188.9" cy="524.5" r="1.2" opacity=".85"/><circle cx="193.5" cy="533.4" r="1.1" opacity=".83"/><circle cx="188.4" cy="533.8" r="1.6" opacity=".63"/><circle cx="190.7" cy="533.2" r="1.3" opacity=".58"/><circle cx="189.5" cy="537.2" r="1.3" opacity=".65"/><circle cx="191.4" cy="542.8" r="1.3" opacity=".66"/><circle cx="190.5" cy="546.4" r="1.5" opacity=".88"/><circle cx="190.9" cy="555.1" r="1.2" opacity=".72"/><circle cx="185.6" cy="556.1" r="1.2" opacity=".64"/><circle cx="190.0" cy="558.7" r="1.3" opacity=".65"/><circle cx="191.9" cy="565.9" r="1.3" opacity=".79"/><circle cx="203.0" cy="510.6" r="1.6" opacity=".69"/><circle cx="202.4" cy="521.0" r="1.5" opacity=".65"/><circle cx="201.9" cy="527.4" r="1.4" opacity=".74"/><circle cx="198.7" cy="532.8" r="1.3" opacity=".65"/><circle cx="202.8" cy="546.4" r="1.4" opacity=".57"/><circle cx="203.2" cy="558.2" r="1.6" opacity=".79"/><circle cx="202.1" cy="566.9" r="1.3" opacity=".86"/><circle cx="200.6" cy="570.6" r="1.5" opacity=".57"/><circle cx="215.3" cy="515.3" r="1.1" opacity=".84"/><circle cx="217.8" cy="519.8" r="1.6" opacity=".67"/><circle cx="214.3" cy="528.0" r="1.7" opacity=".69"/><circle cx="215.2" cy="539.8" r="1.2" opacity=".77"/><circle cx="216.0" cy="549.9" r="1.4" opacity=".74"/><circle cx="218.8" cy="563.5" r="1.5" opacity=".79"/><circle cx="218.3" cy="569.1" r="1.1" opacity=".78"/><circle cx="216.6" cy="572.1" r="1.2" opacity=".86"/><circle cx="214.6" cy="571.9" r="1.3" opacity=".60"/><circle cx="215.9" cy="571.4" r="1.3" opacity=".89"/><circle cx="225.9" cy="522.8" r="1.4" opacity=".66"/><circle cx="226.6" cy="527.5" r="1.3" opacity=".63"/><circle cx="233.1" cy="529.9" r="1.7" opacity=".79"/><circle cx="229.9" cy="532.0" r="1.3" opacity=".64"/><circle cx="236.8" cy="535.8" r="1.5" opacity=".68"/><circle cx="235.7" cy="539.9" r="1.2" opacity=".87"/><circle cx="238.0" cy="539.1" r="1.3" opacity=".71"/><circle cx="225.3" cy="544.1" r="1.3" opacity=".63"/><circle cx="228.4" cy="553.9" r="1.3" opacity=".78"/><circle cx="229.5" cy="557.9" r="1.3" opacity=".67"/><circle cx="229.6" cy="561.2" r="1.6" opacity=".69"/><circle cx="228.0" cy="570.7" r="1.4" opacity=".86"/><circle cx="248.8" cy="511.0" r="1.2" opacity=".70"/><circle cx="248.6" cy="516.1" r="1.1" opacity=".88"/><circle cx="248.7" cy="520.5" r="1.5" opacity=".89"/><circle cx="248.1" cy="526.7" r="1.6" opacity=".81"/><circle cx="243.0" cy="536.9" r="1.5" opacity=".80"/><circle cx="247.0" cy="542.1" r="1.6" opacity=".80"/><circle cx="244.5" cy="541.9" r="1.3" opacity=".83"/><circle cx="245.4" cy="547.5" r="1.1" opacity=".78"/><circle cx="244.5" cy="546.1" r="1.3" opacity=".89"/><circle cx="241.6" cy="550.4" r="1.5" opacity=".87"/><circle cx="245.3" cy="555.6" r="1.2" opacity=".69"/><circle cx="240.2" cy="554.7" r="1.5" opacity=".60"/><circle cx="243.0" cy="554.9" r="1.3" opacity=".62"/><circle cx="238.7" cy="573.3" r="1.1" opacity=".77"/></g></g>
<defs><filter id="f138" x="-20%" y="-20%" width="140%" height="140%"><feGaussianBlur stdDeviation="0.9"/></filter></defs>
<g filter="url(#f138)">
<path d="M206.7 509.4 C207.5 505.6 210.0 505.6 210.9 509.4 C211.8 513.1 211.9 524.7 212.3 532.0 C212.6 539.3 213.3 546.5 213.0 553.4 C212.6 560.2 211.2 569.7 210.2 572.9 C209.1 576.2 207.2 576.2 206.7 572.9 C206.3 569.7 207.5 560.2 207.4 553.4 C207.3 546.5 206.1 539.3 206.0 532.0 C205.9 524.7 205.9 513.1 206.7 509.4 Z" fill="#fdfdfe"/>
<path d="M240.8 514.3 C242.4 511.8 245.1 514.0 244.9 517.9 C244.8 521.9 242.0 532.0 240.1 538.1 C238.1 544.2 235.0 551.0 233.1 554.6 C231.3 558.2 229.5 560.5 229.0 559.5 C228.4 558.5 228.6 553.0 229.7 548.5 C230.7 544.0 233.4 538.3 235.2 532.6 C237.1 526.9 239.1 516.7 240.8 514.3 Z" fill="#fdfdfe"/>
<path d="M181.7 514.3 C182.2 510.0 184.5 510.3 185.2 514.3 C185.9 518.2 186.3 533.8 185.9 538.1 C185.4 542.4 183.1 543.9 182.4 539.9 C181.7 536.0 181.2 518.5 181.7 514.3 Z" fill="#fdfdfe"/>
</g>
</g>
</g>
<rect x="35.3" y="439.7" width="69.8" height="67.5" fill="none" stroke="#4a4a4a" stroke-width="0.9"/>
<rect x="35.3" y="510.6" width="69.8" height="61.1" fill="none" stroke="#3a3a3a" stroke-width="1.1"/>
<rect x="35.00" y="439.40" width="12.30" height="12.50" fill="#1b1b1b"/>
<path d="M37.34 445.80H45.26M41.30 441.84V449.76" stroke="#fff" stroke-width="1.02" fill="none"/>
<rect x="67.6" y="448.4" width="14.0" height="14.0" fill="none" stroke="#1a1a1a" stroke-width="1.6" stroke-dasharray="2.8 1.5"/>
<line x1="67.60" y1="462.40" x2="35.30" y2="510.60" stroke="#1a1a1a" stroke-width="1.45" stroke-dasharray="3.2 1.8"/>
<line x1="81.60" y1="462.40" x2="105.10" y2="510.60" stroke="#1a1a1a" stroke-width="1.45" stroke-dasharray="3.2 1.8"/>
<line x1="39.10" y1="502.30" x2="51.20" y2="502.30" stroke="#1a1a1a" stroke-width="1.5"/>
<line x1="39.80" y1="567.90" x2="55.80" y2="567.90" stroke="#1a1a1a" stroke-width="1.5"/>
<rect x="108.2" y="439.7" width="70.2" height="67.5" fill="none" stroke="#4a4a4a" stroke-width="0.9"/>
<rect x="108.2" y="510.6" width="70.2" height="61.1" fill="none" stroke="#3a3a3a" stroke-width="1.1"/>
<rect x="107.90" y="439.40" width="12.30" height="12.50" fill="#1b1b1b"/>
<path d="M110.24 445.80H118.16M114.20 441.84V449.76" stroke="#fff" stroke-width="1.02" fill="none"/>
<rect x="140.5" y="448.4" width="14.0" height="14.0" fill="none" stroke="#1a1a1a" stroke-width="1.6" stroke-dasharray="2.8 1.5"/>
<line x1="140.50" y1="462.40" x2="108.20" y2="510.60" stroke="#1a1a1a" stroke-width="1.45" stroke-dasharray="3.2 1.8"/>
<line x1="154.50" y1="462.40" x2="178.40" y2="510.60" stroke="#1a1a1a" stroke-width="1.45" stroke-dasharray="3.2 1.8"/>
<line x1="112.00" y1="502.30" x2="124.10" y2="502.30" stroke="#1a1a1a" stroke-width="1.5"/>
<line x1="112.70" y1="567.90" x2="128.70" y2="567.90" stroke="#1a1a1a" stroke-width="1.5"/>
<rect x="181.0" y="439.7" width="69.5" height="67.5" fill="none" stroke="#4a4a4a" stroke-width="0.9"/>
<rect x="181.0" y="510.6" width="69.5" height="61.1" fill="none" stroke="#3a3a3a" stroke-width="1.1"/>
<rect x="180.70" y="439.40" width="12.30" height="12.50" fill="#1b1b1b"/>
<path d="M183.04 445.80H190.96M187.00 441.84V449.76" stroke="#fff" stroke-width="1.02" fill="none"/>
<rect x="213.3" y="448.4" width="14.0" height="14.0" fill="none" stroke="#1a1a1a" stroke-width="1.6" stroke-dasharray="2.8 1.5"/>
<line x1="213.30" y1="462.40" x2="181.00" y2="510.60" stroke="#1a1a1a" stroke-width="1.45" stroke-dasharray="3.2 1.8"/>
<line x1="227.30" y1="462.40" x2="250.50" y2="510.60" stroke="#1a1a1a" stroke-width="1.45" stroke-dasharray="3.2 1.8"/>
<line x1="184.80" y1="502.30" x2="196.90" y2="502.30" stroke="#1a1a1a" stroke-width="1.5"/>
<line x1="185.50" y1="567.90" x2="201.50" y2="567.90" stroke="#1a1a1a" stroke-width="1.5"/>
<clipPath id="c139"><rect x="35.30" y="613.90" width="69.80" height="65.30"/></clipPath>
<g clip-path="url(#c139)">
<rect x="35.30" y="613.90" width="69.80" height="65.30" fill="#ffffff"/>
<defs><filter id="f140" filterUnits="userSpaceOnUse" x="27.3" y="605.9" width="85.8" height="81.3" color-interpolation-filters="sRGB"><feTurbulence type="fractalNoise" baseFrequency="0.1" numOctaves="2" seed="81" result="t"/><feDisplacementMap in="SourceGraphic" in2="t" scale="3" xChannelSelector="R" yChannelSelector="G"/><feGaussianBlur stdDeviation="0.3"/></filter></defs>
<g filter="url(#f140)">
<ellipse cx="71.2" cy="645.8" rx="31.7" ry="31.7" fill="#f4ede6"/>
<clipPath id="c141"><circle cx="71.2" cy="645.8" r="31.7"/></clipPath>
<g clip-path="url(#c141)">
<defs><filter id="f142" x="0" y="0" width="1" height="1" color-interpolation-filters="sRGB"><feTurbulence type="fractalNoise" baseFrequency="0.22" numOctaves="2" seed="41"/><feColorMatrix type="matrix" values="0 0 0 0 0.627 0 0 0 0 0.369 0 0 0 0 0.188 4 0 0 0 -1.5"/><feComponentTransfer><feFuncA type="table" tableValues="0 0 0 0.8 1 0.8 0 0 0"/></feComponentTransfer><feComposite in2="SourceAlpha" operator="in"/></filter></defs>
<g filter="url(#f142)" opacity="0.72"><ellipse cx="71.2" cy="645.8" rx="31.7" ry="31.7" fill="#000"/></g>
<defs><filter id="f143" x="0" y="0" width="1" height="1" color-interpolation-filters="sRGB"><feTurbulence type="fractalNoise" baseFrequency="0.6" numOctaves="2" seed="42"/><feColorMatrix type="matrix" values="0 0 0 0 0.580 0 0 0 0 0.329 0 0 0 0 0.165 5 0 0 0 -2.9"/><feComposite in2="SourceAlpha" operator="in"/></filter></defs>
<g filter="url(#f143)" opacity="0.35"><ellipse cx="71.2" cy="645.8" rx="31.7" ry="31.7" fill="#000"/></g>
<ellipse cx="63.2" cy="641.3" rx="4.7" ry="2.7" transform="rotate(25 63.2 641.3)" fill="#ffffff"/>
<ellipse cx="80.0" cy="643.3" rx="2.4" ry="3.4" transform="rotate(-20 80.0 643.3)" fill="#ffffff"/>
<ellipse cx="47.9" cy="646.5" rx="3.4" ry="5.4" fill="#ffffff"/>
<ellipse cx="71.6" cy="629.6" rx="3.4" ry="1.7" transform="rotate(10 71.6 629.6)" fill="#ffffff"/>
<ellipse cx="85.6" cy="630.2" rx="4.1" ry="1.7" transform="rotate(-30 85.6 630.2)" fill="#ffffff"/>
<ellipse cx="59.0" cy="631.5" rx="2.7" ry="1.7" fill="#ffffff"/>
<ellipse cx="73.7" cy="653.1" rx="2.7" ry="1.4" fill="#ffffff"/>
</g></g>
</g>
<clipPath id="c144"><rect x="108.20" y="613.90" width="70.20" height="65.30"/></clipPath>
<g clip-path="url(#c144)">
<rect x="108.20" y="613.90" width="70.20" height="65.30" fill="#ffffff"/>
<defs><filter id="f145" filterUnits="userSpaceOnUse" x="100.2" y="605.9" width="86.2" height="81.3" color-interpolation-filters="sRGB"><feTurbulence type="fractalNoise" baseFrequency="0.1" numOctaves="2" seed="81" result="t"/><feDisplacementMap in="SourceGraphic" in2="t" scale="3" xChannelSelector="R" yChannelSelector="G"/><feGaussianBlur stdDeviation="0.3"/></filter></defs>
<g filter="url(#f145)">
<ellipse cx="144.3" cy="645.8" rx="31.8" ry="31.8" fill="#eceef6"/>
<clipPath id="c146"><circle cx="144.3" cy="645.8" r="31.8"/></clipPath>
<g clip-path="url(#c146)">
<defs><filter id="f147" x="0" y="0" width="1" height="1" color-interpolation-filters="sRGB"><feTurbulence type="fractalNoise" baseFrequency="0.22" numOctaves="2" seed="41"/><feColorMatrix type="matrix" values="0 0 0 0 0.690 0 0 0 0 0.722 0 0 0 0 0.847 4 0 0 0 -1.5"/><feComponentTransfer><feFuncA type="table" tableValues="0 0 0 0.6 1 0.6 0 0 0"/></feComponentTransfer><feComposite in2="SourceAlpha" operator="in"/></filter></defs>
<g filter="url(#f147)" opacity="0.6"><ellipse cx="144.3" cy="645.8" rx="31.8" ry="31.8" fill="#000"/></g>
<defs><filter id="f148" x="0" y="0" width="1" height="1" color-interpolation-filters="sRGB"><feTurbulence type="fractalNoise" baseFrequency="0.09" numOctaves="2" seed="42"/><feColorMatrix type="matrix" values="0 0 0 0 0.416 0 0 0 0 0.659 0 0 0 0 0.690 4 0 0 0 -1.5"/><feComponentTransfer><feFuncA type="table" tableValues="0 0 0 0 1 0 0 0 0"/></feComponentTransfer><feComposite in2="SourceAlpha" operator="in"/></filter></defs>
<g filter="url(#f148)" opacity="0.5"><ellipse cx="144.3" cy="645.8" rx="31.8" ry="31.8" fill="#000"/></g>
<defs><filter id="f149" x="0" y="0" width="1" height="1" color-interpolation-filters="sRGB"><feTurbulence type="fractalNoise" baseFrequency="0.6" numOctaves="2" seed="43"/><feColorMatrix type="matrix" values="0 0 0 0 0.659 0 0 0 0 0.690 0 0 0 0 0.831 5 0 0 0 -3.0"/><feComposite in2="SourceAlpha" operator="in"/></filter></defs>
<g filter="url(#f149)" opacity="0.5"><ellipse cx="144.3" cy="645.8" rx="31.8" ry="31.8" fill="#000"/></g>
<ellipse cx="136.3" cy="641.3" rx="4.7" ry="2.7" transform="rotate(25 136.3 641.3)" fill="#ffffff"/>
<ellipse cx="153.1" cy="643.3" rx="2.4" ry="3.4" transform="rotate(-20 153.1 643.3)" fill="#ffffff"/>
<ellipse cx="120.8" cy="646.5" rx="3.4" ry="5.4" fill="#ffffff"/>
<ellipse cx="144.7" cy="629.6" rx="3.4" ry="1.7" transform="rotate(10 144.7 629.6)" fill="#ffffff"/>
<ellipse cx="158.7" cy="630.2" rx="4.1" ry="1.7" transform="rotate(-30 158.7 630.2)" fill="#ffffff"/>
<ellipse cx="132.1" cy="631.5" rx="2.7" ry="1.7" fill="#ffffff"/>
<ellipse cx="146.8" cy="653.1" rx="2.7" ry="1.4" fill="#ffffff"/>
</g></g>
</g>
<clipPath id="c150"><rect x="181.00" y="613.90" width="69.50" height="65.30"/></clipPath>
<g clip-path="url(#c150)">
<rect x="181.00" y="613.90" width="69.50" height="65.30" fill="#ffffff"/>
<defs><filter id="f151" filterUnits="userSpaceOnUse" x="173.0" y="605.9" width="85.5" height="81.3" color-interpolation-filters="sRGB"><feTurbulence type="fractalNoise" baseFrequency="0.1" numOctaves="2" seed="81" result="t"/><feDisplacementMap in="SourceGraphic" in2="t" scale="3" xChannelSelector="R" yChannelSelector="G"/><feGaussianBlur stdDeviation="0.3"/></filter></defs>
<g filter="url(#f151)">
<ellipse cx="216.7" cy="645.8" rx="31.7" ry="31.7" fill="#f2edf7"/>
<clipPath id="c152"><circle cx="216.7" cy="645.8" r="31.7"/></clipPath>
<g clip-path="url(#c152)">
<defs><filter id="f153" x="0" y="0" width="1" height="1" color-interpolation-filters="sRGB"><feTurbulence type="fractalNoise" baseFrequency="0.22" numOctaves="2" seed="41"/><feColorMatrix type="matrix" values="0 0 0 0 0.627 0 0 0 0 0.486 0 0 0 0 0.769 4 0 0 0 -1.5"/><feComponentTransfer><feFuncA type="table" tableValues="0 0 0 0.7 1 0.7 0 0 0"/></feComponentTransfer><feComposite in2="SourceAlpha" operator="in"/></filter></defs>
<g filter="url(#f153)" opacity="0.6"><ellipse cx="216.7" cy="645.8" rx="31.7" ry="31.7" fill="#000"/></g>
<defs><filter id="f154" x="0" y="0" width="1" height="1" color-interpolation-filters="sRGB"><feTurbulence type="fractalNoise" baseFrequency="0.6" numOctaves="2" seed="42"/><feColorMatrix type="matrix" values="0 0 0 0 0.690 0 0 0 0 0.376 0 0 0 0 0.690 5 0 0 0 -3.0"/><feComposite in2="SourceAlpha" operator="in"/></filter></defs>
<g filter="url(#f154)" opacity="0.3"><ellipse cx="216.7" cy="645.8" rx="31.7" ry="31.7" fill="#000"/></g>
<ellipse cx="208.8" cy="641.3" rx="4.7" ry="2.7" transform="rotate(25 208.8 641.3)" fill="#ffffff"/>
<ellipse cx="225.5" cy="643.3" rx="2.4" ry="3.4" transform="rotate(-20 225.5 643.3)" fill="#ffffff"/>
<ellipse cx="193.5" cy="646.5" rx="3.4" ry="5.4" fill="#ffffff"/>
<ellipse cx="217.1" cy="629.6" rx="3.4" ry="1.7" transform="rotate(10 217.1 629.6)" fill="#ffffff"/>
<ellipse cx="231.0" cy="630.2" rx="4.0" ry="1.7" transform="rotate(-30 231.0 630.2)" fill="#ffffff"/>
<ellipse cx="204.6" cy="631.5" rx="2.7" ry="1.7" fill="#ffffff"/>
<ellipse cx="219.2" cy="653.1" rx="2.7" ry="1.3" fill="#ffffff"/>
</g></g>
</g>
<defs><filter id="f155" x="-20%" y="-20%" width="140%" height="140%"><feGaussianBlur stdDeviation="0.4"/></filter></defs>
<defs><filter id="f156" x="-20%" y="-20%" width="140%" height="140%"><feGaussianBlur stdDeviation="0.45"/></filter></defs>
<clipPath id="c157"><rect x="35.30" y="683.00" width="69.80" height="65.30"/></clipPath>
<g clip-path="url(#c157)">
<rect x="35.30" y="683.00" width="69.80" height="65.30" fill="#f7f5f3"/>
<defs><filter id="f158" filterUnits="userSpaceOnUse" x="27.3" y="675.0" width="85.8" height="81.3" color-interpolation-filters="sRGB"><feTurbulence type="fractalNoise" baseFrequency="0.04" numOctaves="2" seed="73" result="t"/><feDisplacementMap in="SourceGraphic" in2="t" scale="5" xChannelSelector="R" yChannelSelector="G"/><feGaussianBlur stdDeviation="0.45"/></filter></defs>
<g filter="url(#f158)">
<defs><filter id="f159" x="-20%" y="-20%" width="140%" height="140%"><feGaussianBlur stdDeviation="0.9"/></filter></defs>
<g filter="url(#f159)">
<path d="M35.3 703.9 C37.4 696.0 42.7 700.5 47.9 700.6 C53.0 700.7 61.1 702.5 66.0 704.5 C70.9 706.6 74.3 709.8 77.2 713.0 C80.1 716.3 82.8 720.2 83.5 724.1 C84.2 728.1 83.1 732.5 81.4 736.5 C79.6 740.6 80.7 746.3 73.0 748.3 C65.3 750.3 41.6 755.7 35.3 748.3 C29.0 740.9 33.2 711.8 35.3 703.9 Z" fill="#f6f3f0"/>
</g>
<path d="M29.7 698.7 C32.4 697.9 39.6 694.2 45.8 694.1 C51.9 694.0 60.5 695.5 66.7 698.0 C72.9 700.5 78.8 704.9 82.8 709.1 C86.7 713.4 89.6 718.6 90.4 723.5 C91.3 728.4 89.9 733.5 87.6 738.5 C85.4 743.5 78.9 751.0 77.2 753.5" fill="none" stroke="#e6cdb6" stroke-width="6.75" stroke-opacity="0.9" stroke-linecap="round" stroke-linejoin="round"/>
<path d="M54.8 679.7 C58.0 681.4 67.6 686.2 73.7 689.5 C79.7 692.9 85.2 696.6 91.1 700.0 C97.1 703.4 106.3 708.1 109.3 709.8" fill="none" stroke="#e6cdb6" stroke-width="6.75" stroke-opacity="0.9" stroke-linecap="round" stroke-linejoin="round"/>
<path d="M101.6 743.1 L109.3 739.2" fill="none" stroke="#e6cdb6" stroke-width="8.78" stroke-opacity="0.9" stroke-linecap="round" stroke-linejoin="round"/>
<defs><filter id="f160" x="0" y="0" width="1" height="1" color-interpolation-filters="sRGB"><feTurbulence type="fractalNoise" baseFrequency="0.45" numOctaves="2" seed="53"/><feColorMatrix type="matrix" values="0 0 0 0 0.541 0 0 0 0 0.290 0 0 0 0 0.133 6 0 0 0 -3.1"/><feComposite in2="SourceAlpha" operator="in"/></filter></defs>
<g filter="url(#f160)" opacity="0.45">
<path d="M29.7 698.7 C32.4 697.9 39.6 694.2 45.8 694.1 C51.9 694.0 60.5 695.5 66.7 698.0 C72.9 700.5 78.8 704.9 82.8 709.1 C86.7 713.4 89.6 718.6 90.4 723.5 C91.3 728.4 89.9 733.5 87.6 738.5 C85.4 743.5 78.9 751.0 77.2 753.5" fill="none" stroke="#000" stroke-width="6.75" stroke-linecap="round" stroke-linejoin="round"/>
<path d="M54.8 679.7 C58.0 681.4 67.6 686.2 73.7 689.5 C79.7 692.9 85.2 696.6 91.1 700.0 C97.1 703.4 106.3 708.1 109.3 709.8" fill="none" stroke="#000" stroke-width="6.75" stroke-linecap="round" stroke-linejoin="round"/>
<path d="M101.6 743.1 L109.3 739.2" fill="none" stroke="#000" stroke-width="8.78" stroke-linecap="round" stroke-linejoin="round"/>
</g>
<g filter="url(#f156)"><g fill="#7c8cc0"><circle cx="88.4" cy="716.6" r="1.5" opacity=".75"/><circle cx="54.6" cy="695.7" r="1.2" opacity=".49"/><circle cx="86.6" cy="727.6" r="1.4" opacity=".57"/><circle cx="76.5" cy="702.5" r="1.1" opacity=".76"/><circle cx="43.9" cy="691.6" r="1.5" opacity=".75"/><circle cx="82.6" cy="728.8" r="1.3" opacity=".69"/><circle cx="104.3" cy="712.5" r="1.2" opacity=".44"/><circle cx="99.3" cy="720.5" r="1.1" opacity=".48"/><circle cx="101.8" cy="716.1" r="1.1" opacity=".42"/><circle cx="79.1" cy="739.1" r="1.1" opacity=".75"/></g><g fill="#8a98c8"><circle cx="45.0" cy="683.8" r="1.0" opacity=".69"/><circle cx="80.6" cy="706.5" r="1.3" opacity=".64"/><circle cx="78.6" cy="722.2" r="1.3" opacity=".41"/><circle cx="51.2" cy="690.4" r="1.2" opacity=".58"/></g></g>
<g filter="url(#f155)"><g fill="#7a3c18"><circle cx="33.7" cy="698.9" r="2.0" opacity=".98"/><circle cx="39.5" cy="694.0" r="2.0" opacity=".90"/><circle cx="40.2" cy="697.8" r="1.9" opacity=".97"/><circle cx="43.2" cy="691.2" r="1.4" opacity=".96"/><circle cx="48.3" cy="696.8" r="1.7" opacity=".87"/><circle cx="56.9" cy="697.1" r="1.9" opacity="1.00"/><circle cx="60.3" cy="693.0" r="1.7" opacity=".97"/><circle cx="83.2" cy="707.2" r="1.6" opacity=".93"/><circle cx="90.3" cy="714.6" r="1.5" opacity=".92"/><circle cx="88.5" cy="733.2" r="2.0" opacity=".99"/><circle cx="90.1" cy="737.1" r="1.9" opacity=".88"/><circle cx="87.5" cy="736.0" r="1.8" opacity=".97"/><circle cx="82.5" cy="741.3" r="1.6" opacity=".84"/><circle cx="81.1" cy="690.6" r="2.1" opacity=".88"/><circle cx="77.2" cy="693.9" r="1.7" opacity=".93"/><circle cx="88.0" cy="701.7" r="2.0" opacity="1.00"/><circle cx="89.2" cy="698.5" r="1.6" opacity=".83"/><circle cx="91.9" cy="703.2" r="1.4" opacity=".89"/><circle cx="101.5" cy="705.8" r="1.6" opacity=".85"/><circle cx="104.4" cy="709.5" r="1.8" opacity=".83"/></g><g fill="#6e3414"><circle cx="34.6" cy="694.0" r="1.9" opacity=".86"/><circle cx="51.4" cy="691.7" r="1.7" opacity=".87"/><circle cx="52.5" cy="696.0" r="1.8" opacity=".99"/><circle cx="55.4" cy="693.9" r="1.6" opacity=".91"/><circle cx="60.7" cy="698.3" r="1.8" opacity=".82"/><circle cx="70.3" cy="696.8" r="1.9" opacity=".83"/><circle cx="72.1" cy="699.3" r="1.9" opacity=".83"/><circle cx="73.5" cy="704.8" r="1.5" opacity=".83"/><circle cx="75.4" cy="703.3" r="1.6" opacity=".90"/><circle cx="82.9" cy="710.8" r="1.9" opacity=".86"/><circle cx="86.4" cy="716.8" r="1.7" opacity=".98"/><circle cx="90.3" cy="717.4" r="1.7" opacity=".87"/><circle cx="88.1" cy="722.2" r="1.9" opacity=".93"/><circle cx="90.8" cy="731.8" r="1.8" opacity="1.00"/><circle cx="65.3" cy="682.2" r="1.4" opacity=".91"/><circle cx="73.4" cy="686.2" r="1.9" opacity=".93"/><circle cx="80.9" cy="697.2" r="1.4" opacity=".94"/><circle cx="94.5" cy="699.0" r="1.5" opacity=".81"/><circle cx="95.0" cy="705.9" r="1.7" opacity=".81"/><circle cx="104.0" cy="739.7" r="1.8" opacity=".83"/><circle cx="105.5" cy="744.6" r="1.7" opacity=".96"/></g><g fill="#642e12"><circle cx="40.1" cy="695.4" r="1.6" opacity=".91"/><circle cx="48.4" cy="693.4" r="1.7" opacity=".86"/><circle cx="64.3" cy="699.8" r="1.6" opacity=".99"/><circle cx="67.5" cy="699.1" r="1.7" opacity=".87"/><circle cx="80.3" cy="702.9" r="1.5" opacity=".97"/><circle cx="79.5" cy="710.4" r="1.7" opacity=".91"/><circle cx="88.2" cy="712.1" r="2.0" opacity=".90"/><circle cx="92.1" cy="721.4" r="1.6" opacity=".95"/><circle cx="91.7" cy="725.4" r="1.7" opacity=".84"/><circle cx="90.9" cy="735.5" r="1.9" opacity=".94"/><circle cx="86.0" cy="739.8" r="1.9" opacity=".98"/><circle cx="58.9" cy="683.3" r="1.9" opacity=".85"/><circle cx="66.1" cy="689.3" r="1.7" opacity=".98"/><circle cx="72.0" cy="689.5" r="1.6" opacity=".99"/><circle cx="76.2" cy="688.7" r="1.5" opacity=".89"/><circle cx="83.4" cy="694.1" r="1.8" opacity=".88"/><circle cx="86.9" cy="694.6" r="1.7" opacity=".89"/><circle cx="93.1" cy="700.6" r="1.6" opacity=".86"/></g><g fill="#85471f"><circle cx="66.0" cy="697.0" r="1.6" opacity=".97"/><circle cx="71.1" cy="703.5" r="1.5" opacity=".87"/><circle cx="77.1" cy="699.9" r="2.1" opacity=".92"/><circle cx="78.1" cy="707.3" r="1.4" opacity=".86"/><circle cx="85.1" cy="709.3" r="1.6" opacity=".88"/><circle cx="82.8" cy="714.3" r="2.0" opacity=".83"/><circle cx="86.0" cy="712.9" r="1.6" opacity=".99"/><circle cx="86.3" cy="719.8" r="1.6" opacity=".82"/><circle cx="89.4" cy="719.4" r="1.6" opacity=".87"/><circle cx="87.4" cy="731.2" r="1.8" opacity=".84"/><circle cx="90.4" cy="731.2" r="1.6" opacity=".93"/><circle cx="79.4" cy="745.3" r="2.0" opacity=".83"/><circle cx="78.8" cy="748.6" r="1.4" opacity=".90"/><circle cx="62.8" cy="686.9" r="1.5" opacity=".87"/><circle cx="68.8" cy="683.3" r="1.4" opacity=".97"/><circle cx="74.8" cy="692.6" r="1.9" opacity=".96"/><circle cx="90.7" cy="698.5" r="1.9" opacity=".94"/><circle cx="97.4" cy="702.8" r="1.6" opacity=".87"/><circle cx="101.8" cy="702.6" r="1.9" opacity=".82"/><circle cx="101.3" cy="707.7" r="2.0" opacity=".80"/><circle cx="105.4" cy="707.4" r="1.6" opacity=".89"/></g></g>
</g>
</g>
<defs><filter id="f161" x="-20%" y="-20%" width="140%" height="140%"><feGaussianBlur stdDeviation="0.7"/></filter></defs>
<defs><filter id="f162" x="-20%" y="-20%" width="140%" height="140%"><feGaussianBlur stdDeviation="0.45"/></filter></defs>
<clipPath id="c163"><rect x="108.20" y="683.00" width="70.20" height="65.30"/></clipPath>
<g clip-path="url(#c163)">
<rect x="108.20" y="683.00" width="70.20" height="65.30" fill="#f0f1f8"/>
<defs><filter id="f164" x="0" y="0" width="1" height="1" color-interpolation-filters="sRGB"><feTurbulence type="fractalNoise" baseFrequency="0.2" numOctaves="2" seed="43"/><feColorMatrix type="matrix" values="0 0 0 0 0.753 0 0 0 0 0.769 0 0 0 0 0.894 5 0 0 0 -2.9"/></filter></defs>
<rect x="108.20" y="683.00" width="70.20" height="65.30" fill="#000" filter="url(#f164)" opacity="0.5"/>
<defs><filter id="f165" filterUnits="userSpaceOnUse" x="100.2" y="675.0" width="86.2" height="81.3" color-interpolation-filters="sRGB"><feTurbulence type="fractalNoise" baseFrequency="0.04" numOctaves="2" seed="73" result="t"/><feDisplacementMap in="SourceGraphic" in2="t" scale="5" xChannelSelector="R" yChannelSelector="G"/><feGaussianBlur stdDeviation="0.5"/></filter></defs>
<g filter="url(#f165)">
<defs><filter id="f166" x="-20%" y="-20%" width="140%" height="140%"><feGaussianBlur stdDeviation="0.9"/></filter></defs>
<g filter="url(#f166)">
<path d="M108.2 703.9 C110.3 696.0 115.7 700.5 120.8 700.6 C126.0 700.7 134.2 702.5 139.1 704.5 C144.0 706.6 147.4 709.8 150.3 713.0 C153.2 716.3 155.9 720.2 156.6 724.1 C157.3 728.1 156.3 732.5 154.5 736.5 C152.8 740.6 153.8 746.3 146.1 748.3 C138.4 750.3 114.5 755.7 108.2 748.3 C101.9 740.9 106.1 711.8 108.2 703.9 Z" fill="#e4e4f3"/>
</g>
<path d="M102.6 698.7 C105.3 697.9 112.5 694.2 118.7 694.1 C124.9 694.0 133.6 695.5 139.8 698.0 C146.0 700.5 152.0 704.9 155.9 709.1 C159.9 713.4 162.8 718.6 163.7 723.5 C164.5 728.4 163.1 733.5 160.9 738.5 C158.6 743.5 152.1 751.0 150.3 753.5" fill="none" stroke="#dedef0" stroke-width="6.78" stroke-opacity="0.8" stroke-linecap="round" stroke-linejoin="round"/>
<path d="M127.9 679.7 C131.0 681.4 140.7 686.2 146.8 689.5 C152.9 692.9 158.4 696.6 164.4 700.0 C170.3 703.4 179.6 708.1 182.6 709.8" fill="none" stroke="#dedef0" stroke-width="6.78" stroke-opacity="0.8" stroke-linecap="round" stroke-linejoin="round"/>
<path d="M174.9 743.1 L182.6 739.2" fill="none" stroke="#dedef0" stroke-width="8.81" stroke-opacity="0.8" stroke-linecap="round" stroke-linejoin="round"/>
<defs><filter id="f167" x="0" y="0" width="1" height="1" color-interpolation-filters="sRGB"><feTurbulence type="fractalNoise" baseFrequency="0.3" numOctaves="2" seed="53"/><feColorMatrix type="matrix" values="0 0 0 0 0.725 0 0 0 0 0.725 0 0 0 0 0.871 5 0 0 0 -2.6"/><feComposite in2="SourceAlpha" operator="in"/></filter></defs>
<g filter="url(#f167)" opacity="0.5">
<path d="M102.6 698.7 C105.3 697.9 112.5 694.2 118.7 694.1 C124.9 694.0 133.6 695.5 139.8 698.0 C146.0 700.5 152.0 704.9 155.9 709.1 C159.9 713.4 162.8 718.6 163.7 723.5 C164.5 728.4 163.1 733.5 160.9 738.5 C158.6 743.5 152.1 751.0 150.3 753.5" fill="none" stroke="#000" stroke-width="6.78" stroke-linecap="round" stroke-linejoin="round"/>
<path d="M127.9 679.7 C131.0 681.4 140.7 686.2 146.8 689.5 C152.9 692.9 158.4 696.6 164.4 700.0 C170.3 703.4 179.6 708.1 182.6 709.8" fill="none" stroke="#000" stroke-width="6.78" stroke-linecap="round" stroke-linejoin="round"/>
<path d="M174.9 743.1 L182.6 739.2" fill="none" stroke="#000" stroke-width="8.81" stroke-linecap="round" stroke-linejoin="round"/>
</g>
<g filter="url(#f162)"><g fill="#b8bce0"><circle cx="165.6" cy="732.5" r="1.3" opacity=".64"/><circle cx="110.2" cy="687.0" r="1.2" opacity=".55"/><circle cx="166.2" cy="707.3" r="1.5" opacity=".62"/><circle cx="148.1" cy="703.0" r="1.0" opacity=".45"/><circle cx="155.7" cy="702.0" r="1.2" opacity=".47"/><circle cx="153.1" cy="725.1" r="1.0" opacity=".47"/></g><g fill="#a8a4d4"><circle cx="156.5" cy="705.6" r="1.4" opacity=".62"/><circle cx="170.1" cy="735.2" r="1.2" opacity=".46"/><circle cx="154.3" cy="699.5" r="1.4" opacity=".77"/><circle cx="169.0" cy="706.2" r="1.3" opacity=".55"/><circle cx="161.8" cy="735.5" r="1.3" opacity=".76"/><circle cx="123.3" cy="694.7" r="1.0" opacity=".79"/><circle cx="158.9" cy="702.2" r="1.5" opacity=".43"/><circle cx="165.4" cy="725.4" r="1.4" opacity=".57"/></g></g>
<g filter="url(#f161)"><g fill="#bcbce0"><circle cx="106.3" cy="700.0" r="1.8" opacity=".53"/><circle cx="109.3" cy="693.9" r="1.4" opacity=".71"/><circle cx="109.6" cy="696.4" r="1.4" opacity=".64"/><circle cx="113.6" cy="696.8" r="1.4" opacity=".63"/><circle cx="121.4" cy="693.1" r="1.4" opacity=".64"/><circle cx="121.6" cy="694.9" r="1.3" opacity=".84"/><circle cx="130.4" cy="693.4" r="1.7" opacity=".52"/><circle cx="129.4" cy="698.3" r="1.8" opacity=".84"/><circle cx="134.5" cy="693.7" r="1.4" opacity=".63"/><circle cx="146.7" cy="698.4" r="1.5" opacity=".63"/><circle cx="148.7" cy="701.7" r="1.3" opacity=".59"/><circle cx="162.5" cy="714.6" r="1.6" opacity=".78"/><circle cx="160.6" cy="723.2" r="1.4" opacity=".55"/><circle cx="164.6" cy="727.4" r="1.8" opacity=".80"/><circle cx="160.6" cy="726.1" r="1.4" opacity=".71"/><circle cx="165.8" cy="732.4" r="1.3" opacity=".56"/><circle cx="157.5" cy="738.6" r="1.3" opacity=".67"/><circle cx="155.7" cy="743.1" r="1.3" opacity=".75"/><circle cx="135.8" cy="685.3" r="1.7" opacity=".57"/><circle cx="140.9" cy="687.8" r="1.6" opacity=".66"/><circle cx="151.1" cy="695.8" r="1.5" opacity=".71"/><circle cx="160.9" cy="701.3" r="1.8" opacity=".67"/><circle cx="166.1" cy="699.2" r="1.8" opacity=".72"/><circle cx="164.8" cy="703.3" r="1.3" opacity=".74"/><circle cx="171.3" cy="701.3" r="1.6" opacity=".52"/></g><g fill="#c6c6e4"><circle cx="109.9" cy="697.7" r="1.8" opacity=".63"/><circle cx="138.2" cy="695.6" r="1.2" opacity=".68"/><circle cx="136.2" cy="700.0" r="1.8" opacity=".63"/><circle cx="146.8" cy="705.4" r="1.3" opacity=".62"/><circle cx="148.6" cy="703.3" r="1.4" opacity=".58"/><circle cx="151.4" cy="706.7" r="1.6" opacity=".74"/><circle cx="151.9" cy="705.8" r="1.4" opacity=".82"/><circle cx="157.9" cy="717.3" r="1.3" opacity=".76"/><circle cx="160.7" cy="716.2" r="1.4" opacity=".70"/><circle cx="164.4" cy="735.2" r="1.8" opacity=".54"/><circle cx="160.1" cy="737.1" r="1.3" opacity=".81"/><circle cx="160.4" cy="740.4" r="1.4" opacity=".51"/><circle cx="160.4" cy="745.7" r="1.3" opacity=".84"/><circle cx="131.6" cy="684.2" r="1.8" opacity=".55"/><circle cx="146.3" cy="687.3" r="1.4" opacity=".75"/><circle cx="147.1" cy="693.1" r="1.8" opacity=".66"/><circle cx="153.1" cy="691.9" r="1.8" opacity=".57"/><circle cx="153.7" cy="696.5" r="1.8" opacity=".65"/><circle cx="156.1" cy="694.7" r="1.4" opacity=".63"/><circle cx="158.4" cy="698.9" r="1.7" opacity=".80"/><circle cx="159.1" cy="697.2" r="1.4" opacity=".51"/><circle cx="170.6" cy="703.1" r="1.4" opacity=".74"/><circle cx="174.9" cy="707.0" r="1.8" opacity=".79"/><circle cx="174.7" cy="705.8" r="1.4" opacity=".73"/><circle cx="179.9" cy="705.4" r="1.6" opacity=".61"/><circle cx="179.8" cy="710.3" r="1.3" opacity=".52"/><circle cx="175.2" cy="738.6" r="1.4" opacity=".76"/><circle cx="178.0" cy="742.5" r="1.4" opacity=".66"/><circle cx="179.5" cy="739.7" r="1.8" opacity=".54"/></g><g fill="#d0d0ea"><circle cx="117.0" cy="691.7" r="1.7" opacity=".81"/><circle cx="117.1" cy="696.8" r="1.5" opacity=".65"/><circle cx="126.1" cy="691.7" r="1.5" opacity=".54"/><circle cx="124.6" cy="697.3" r="1.7" opacity=".53"/><circle cx="133.9" cy="698.8" r="1.4" opacity=".70"/><circle cx="140.8" cy="700.1" r="1.3" opacity=".83"/><circle cx="145.0" cy="702.0" r="1.7" opacity=".61"/><circle cx="153.2" cy="703.7" r="1.4" opacity=".76"/><circle cx="152.5" cy="710.3" r="1.8" opacity=".61"/><circle cx="157.3" cy="709.6" r="1.4" opacity=".76"/><circle cx="154.5" cy="711.6" r="1.5" opacity=".75"/><circle cx="160.8" cy="711.1" r="1.8" opacity=".65"/><circle cx="157.4" cy="714.8" r="1.3" opacity=".63"/><circle cx="164.3" cy="718.8" r="1.7" opacity=".77"/><circle cx="161.6" cy="720.3" r="1.7" opacity=".58"/><circle cx="164.5" cy="720.7" r="1.5" opacity=".67"/><circle cx="160.7" cy="731.1" r="1.5" opacity=".73"/><circle cx="164.1" cy="737.2" r="1.6" opacity=".78"/><circle cx="154.0" cy="746.1" r="1.4" opacity=".58"/><circle cx="132.2" cy="682.3" r="1.4" opacity=".56"/><circle cx="141.1" cy="684.0" r="1.8" opacity=".53"/><circle cx="144.7" cy="690.0" r="1.4" opacity=".65"/><circle cx="144.6" cy="688.9" r="1.4" opacity=".73"/><circle cx="149.2" cy="689.7" r="1.4" opacity=".56"/><circle cx="157.2" cy="692.1" r="1.8" opacity=".69"/><circle cx="159.2" cy="694.7" r="1.8" opacity=".77"/><circle cx="164.5" cy="697.8" r="1.5" opacity=".79"/><circle cx="177.6" cy="741.8" r="1.4" opacity=".79"/><circle cx="180.2" cy="740.4" r="1.4" opacity=".68"/></g></g>
</g>
</g>
<clipPath id="c168"><rect x="108.20" y="683.00" width="70.20" height="65.30"/></clipPath>
<g clip-path="url(#c168)">
<path d="M113.8 683.0 C117.6 685.4 129.0 692.1 136.3 697.4 C143.5 702.6 151.7 708.0 157.3 714.3 C163.0 720.7 166.9 729.4 170.0 735.2 C173.0 741.1 174.7 747.2 175.6 749.6" fill="none" stroke="#5aa4aa" stroke-width="1.1" stroke-opacity="0.75"/>
</g>
<defs><filter id="f169" x="-20%" y="-20%" width="140%" height="140%"><feGaussianBlur stdDeviation="0.4"/></filter></defs>
<defs><filter id="f170" x="-20%" y="-20%" width="140%" height="140%"><feGaussianBlur stdDeviation="0.45"/></filter></defs>
<clipPath id="c171"><rect x="181.00" y="683.00" width="69.50" height="65.30"/></clipPath>
<g clip-path="url(#c171)">
<rect x="181.00" y="683.00" width="69.50" height="65.30" fill="#f6f2f8"/>
<defs><filter id="f172" x="0" y="0" width="1" height="1" color-interpolation-filters="sRGB"><feTurbulence type="fractalNoise" baseFrequency="0.22" numOctaves="2" seed="43"/><feColorMatrix type="matrix" values="0 0 0 0 0.706 0 0 0 0 0.659 0 0 0 0 0.847 5 0 0 0 -3.1"/></filter></defs>
<rect x="181.00" y="683.00" width="69.50" height="65.30" fill="#000" filter="url(#f172)" opacity="0.45"/>
<defs><filter id="f173" filterUnits="userSpaceOnUse" x="173.0" y="675.0" width="85.5" height="81.3" color-interpolation-filters="sRGB"><feTurbulence type="fractalNoise" baseFrequency="0.04" numOctaves="2" seed="73" result="t"/><feDisplacementMap in="SourceGraphic" in2="t" scale="5" xChannelSelector="R" yChannelSelector="G"/><feGaussianBlur stdDeviation="0.45"/></filter></defs>
<g filter="url(#f173)">
<defs><filter id="f174" x="-20%" y="-20%" width="140%" height="140%"><feGaussianBlur stdDeviation="0.9"/></filter></defs>
<g filter="url(#f174)">
<path d="M181.0 703.9 C183.1 696.0 188.4 700.5 193.5 700.6 C198.6 700.7 206.7 702.5 211.6 704.5 C216.4 706.6 219.8 709.8 222.7 713.0 C225.6 716.3 228.3 720.2 229.0 724.1 C229.6 728.1 228.6 732.5 226.9 736.5 C225.1 740.6 226.2 746.3 218.5 748.3 C210.9 750.3 187.3 755.7 181.0 748.3 C174.7 740.9 178.9 711.8 181.0 703.9 Z" fill="#f8f4fa"/>
</g>
<path d="M175.4 698.7 C178.1 697.9 185.3 694.2 191.4 694.1 C197.6 694.0 206.1 695.5 212.3 698.0 C218.4 700.5 224.3 704.9 228.3 709.1 C232.2 713.4 235.1 718.6 235.9 723.5 C236.7 728.4 235.3 733.5 233.1 738.5 C230.9 743.5 224.4 751.0 222.7 753.5" fill="none" stroke="#d8c0e4" stroke-width="6.74" stroke-opacity="0.9" stroke-linecap="round" stroke-linejoin="round"/>
<path d="M200.5 679.7 C203.6 681.4 213.2 686.2 219.2 689.5 C225.2 692.9 230.7 696.6 236.6 700.0 C242.5 703.4 251.7 708.1 254.7 709.8" fill="none" stroke="#d8c0e4" stroke-width="6.74" stroke-opacity="0.9" stroke-linecap="round" stroke-linejoin="round"/>
<path d="M247.0 743.1 L254.7 739.2" fill="none" stroke="#d8c0e4" stroke-width="8.76" stroke-opacity="0.9" stroke-linecap="round" stroke-linejoin="round"/>
<defs><filter id="f175" x="0" y="0" width="1" height="1" color-interpolation-filters="sRGB"><feTurbulence type="fractalNoise" baseFrequency="0.3" numOctaves="2" seed="53"/><feColorMatrix type="matrix" values="0 0 0 0 0.549 0 0 0 0 0.384 0 0 0 0 0.722 6 0 0 0 -3.0"/><feComposite in2="SourceAlpha" operator="in"/></filter></defs>
<g filter="url(#f175)" opacity="0.5">
<path d="M175.4 698.7 C178.1 697.9 185.3 694.2 191.4 694.1 C197.6 694.0 206.1 695.5 212.3 698.0 C218.4 700.5 224.3 704.9 228.3 709.1 C232.2 713.4 235.1 718.6 235.9 723.5 C236.7 728.4 235.3 733.5 233.1 738.5 C230.9 743.5 224.4 751.0 222.7 753.5" fill="none" stroke="#000" stroke-width="6.74" stroke-linecap="round" stroke-linejoin="round"/>
<path d="M200.5 679.7 C203.6 681.4 213.2 686.2 219.2 689.5 C225.2 692.9 230.7 696.6 236.6 700.0 C242.5 703.4 251.7 708.1 254.7 709.8" fill="none" stroke="#000" stroke-width="6.74" stroke-linecap="round" stroke-linejoin="round"/>
<path d="M247.0 743.1 L254.7 739.2" fill="none" stroke="#000" stroke-width="8.76" stroke-linecap="round" stroke-linejoin="round"/>
</g>
<defs><filter id="f176" x="0" y="0" width="1" height="1" color-interpolation-filters="sRGB"><feTurbulence type="fractalNoise" baseFrequency="0.45" numOctaves="2" seed="63"/><feColorMatrix type="matrix" values="0 0 0 0 0.816 0 0 0 0 0.235 0 0 0 0 0.588 6 0 0 0 -3.4"/><feComposite in2="SourceAlpha" operator="in"/></filter></defs>
<g filter="url(#f176)" opacity="0.75">
<path d="M175.4 698.7 C178.1 697.9 185.3 694.2 191.4 694.1 C197.6 694.0 206.1 695.5 212.3 698.0 C218.4 700.5 224.3 704.9 228.3 709.1 C232.2 713.4 235.1 718.6 235.9 723.5 C236.7 728.4 235.3 733.5 233.1 738.5 C230.9 743.5 224.4 751.0 222.7 753.5" fill="none" stroke="#000" stroke-width="6.74" stroke-linecap="round" stroke-linejoin="round"/>
<path d="M200.5 679.7 C203.6 681.4 213.2 686.2 219.2 689.5 C225.2 692.9 230.7 696.6 236.6 700.0 C242.5 703.4 251.7 708.1 254.7 709.8" fill="none" stroke="#000" stroke-width="6.74" stroke-linecap="round" stroke-linejoin="round"/>
<path d="M247.0 743.1 L254.7 739.2" fill="none" stroke="#000" stroke-width="8.76" stroke-linecap="round" stroke-linejoin="round"/>
</g>
<g filter="url(#f170)"><g fill="#b8bce0"><circle cx="236.3" cy="720.5" r="1.2" opacity=".71"/><circle cx="244.0" cy="723.6" r="1.3" opacity=".42"/><circle cx="197.9" cy="692.2" r="1.5" opacity=".45"/><circle cx="232.1" cy="740.9" r=".9" opacity=".57"/><circle cx="250.1" cy="728.5" r="1.2" opacity=".76"/><circle cx="242.1" cy="719.0" r=".9" opacity=".72"/><circle cx="201.4" cy="685.6" r="1.2" opacity=".46"/><circle cx="245.0" cy="738.3" r=".9" opacity=".46"/><circle cx="244.9" cy="707.4" r="1.3" opacity=".59"/></g><g fill="#a8a4d4"><circle cx="237.6" cy="707.0" r=".9" opacity=".51"/><circle cx="197.7" cy="684.4" r="1.2" opacity=".63"/><circle cx="235.0" cy="711.8" r="1.3" opacity=".45"/><circle cx="235.3" cy="737.6" r="1.1" opacity=".62"/><circle cx="198.9" cy="695.5" r="1.1" opacity=".78"/></g></g>
<g filter="url(#f169)"><g fill="#9a70c2"><circle cx="180.5" cy="700.3" r="1.7" opacity=".61"/><circle cx="188.4" cy="693.2" r="1.5" opacity=".57"/><circle cx="201.6" cy="694.2" r="1.3" opacity=".67"/><circle cx="206.4" cy="696.1" r="1.4" opacity=".55"/><circle cx="218.8" cy="698.9" r="1.4" opacity=".65"/><circle cx="235.2" cy="713.7" r="1.8" opacity=".61"/><circle cx="236.4" cy="721.2" r="1.8" opacity=".50"/><circle cx="237.3" cy="734.0" r="1.7" opacity=".80"/><circle cx="236.1" cy="738.5" r="1.4" opacity=".76"/><circle cx="227.1" cy="745.5" r="1.7" opacity=".57"/><circle cx="204.8" cy="681.1" r="1.6" opacity=".51"/><circle cx="209.6" cy="681.1" r="1.6" opacity=".76"/><circle cx="207.5" cy="686.8" r="1.5" opacity=".79"/><circle cx="214.0" cy="683.9" r="1.4" opacity=".50"/><circle cx="239.7" cy="698.6" r="1.9" opacity=".54"/><circle cx="237.2" cy="701.8" r="1.4" opacity=".79"/><circle cx="242.4" cy="703.1" r="1.4" opacity=".74"/><circle cx="247.8" cy="702.9" r="1.7" opacity=".58"/><circle cx="250.4" cy="706.1" r="1.3" opacity=".51"/></g><g fill="#7d58ae"><circle cx="182.8" cy="694.7" r="1.6" opacity=".62"/><circle cx="183.2" cy="696.7" r="1.6" opacity=".76"/><circle cx="185.5" cy="693.2" r="1.3" opacity=".75"/><circle cx="198.4" cy="693.5" r="1.6" opacity=".78"/><circle cx="202.2" cy="697.8" r="1.5" opacity=".78"/><circle cx="206.9" cy="697.5" r="1.2" opacity=".50"/><circle cx="209.4" cy="700.2" r="1.6" opacity=".65"/><circle cx="214.0" cy="700.7" r="1.4" opacity=".67"/><circle cx="217.3" cy="703.7" r="1.5" opacity=".66"/><circle cx="221.2" cy="701.5" r="1.5" opacity=".78"/><circle cx="228.6" cy="710.7" r="1.5" opacity=".74"/><circle cx="230.3" cy="714.4" r="1.4" opacity=".61"/><circle cx="230.7" cy="718.0" r="1.8" opacity=".57"/><circle cx="235.7" cy="718.4" r="1.5" opacity=".85"/><circle cx="235.6" cy="722.3" r="1.4" opacity=".78"/><circle cx="233.4" cy="736.7" r="1.4" opacity=".85"/><circle cx="224.8" cy="749.5" r="1.4" opacity=".73"/><circle cx="213.0" cy="688.5" r="1.5" opacity=".68"/><circle cx="220.4" cy="692.3" r="1.4" opacity=".62"/><circle cx="225.6" cy="689.9" r="1.6" opacity=".51"/><circle cx="229.7" cy="693.6" r="1.7" opacity=".78"/><circle cx="230.7" cy="698.3" r="1.5" opacity=".69"/><circle cx="235.0" cy="697.9" r="1.5" opacity=".57"/><circle cx="241.6" cy="705.0" r="1.4" opacity=".68"/><circle cx="246.2" cy="706.7" r="1.5" opacity=".51"/></g><g fill="#8c62b8"><circle cx="187.1" cy="697.4" r="1.7" opacity=".50"/><circle cx="192.7" cy="691.3" r="1.4" opacity=".59"/><circle cx="201.7" cy="694.7" r="1.4" opacity=".82"/><circle cx="207.6" cy="694.5" r="1.8" opacity=".76"/><circle cx="211.5" cy="696.1" r="1.8" opacity=".80"/><circle cx="219.2" cy="704.5" r="1.6" opacity=".74"/><circle cx="226.9" cy="709.0" r="1.4" opacity=".60"/><circle cx="234.5" cy="729.8" r="1.7" opacity=".77"/><circle cx="233.4" cy="741.5" r="1.6" opacity=".66"/><circle cx="230.7" cy="739.9" r="1.6" opacity=".83"/><circle cx="231.5" cy="744.7" r="1.5" opacity=".83"/><circle cx="228.0" cy="743.1" r="1.6" opacity=".83"/><circle cx="228.2" cy="748.2" r="1.3" opacity=".77"/><circle cx="216.7" cy="690.0" r="1.7" opacity=".83"/><circle cx="231.6" cy="696.8" r="1.4" opacity=".79"/><circle cx="249.7" cy="708.7" r="1.5" opacity=".50"/><circle cx="249.1" cy="740.1" r="1.4" opacity=".54"/><circle cx="251.6" cy="742.6" r="1.7" opacity=".60"/><circle cx="249.5" cy="741.5" r="1.4" opacity=".57"/><circle cx="251.2" cy="736.3" r="1.8" opacity=".56"/></g><g fill="#a05aae"><circle cx="192.2" cy="696.1" r="1.6" opacity=".84"/><circle cx="193.1" cy="694.6" r="1.4" opacity=".70"/><circle cx="225.6" cy="702.2" r="1.4" opacity=".66"/><circle cx="228.0" cy="707.0" r="1.4" opacity=".68"/><circle cx="231.4" cy="708.3" r="1.4" opacity=".72"/><circle cx="231.3" cy="713.0" r="1.4" opacity=".64"/><circle cx="233.3" cy="723.6" r="1.7" opacity=".65"/><circle cx="239.2" cy="725.9" r="1.7" opacity=".70"/><circle cx="232.2" cy="732.5" r="1.4" opacity=".76"/><circle cx="232.0" cy="735.4" r="1.5" opacity=".56"/><circle cx="204.2" cy="682.8" r="1.8" opacity=".73"/><circle cx="219.2" cy="686.5" r="1.8" opacity=".64"/><circle cx="224.2" cy="694.5" r="1.4" opacity=".70"/><circle cx="227.4" cy="697.6" r="1.7" opacity=".60"/><circle cx="233.3" cy="700.0" r="1.4" opacity=".57"/><circle cx="242.9" cy="701.2" r="1.8" opacity=".84"/></g></g>
</g>
</g>
<rect x="35.3" y="613.9" width="69.8" height="65.3" fill="none" stroke="#4a4a4a" stroke-width="0.9"/>
<rect x="35.3" y="683.0" width="69.8" height="65.3" fill="none" stroke="#3a3a3a" stroke-width="1.1"/>
<rect x="35.00" y="613.60" width="12.30" height="12.50" fill="#1b1b1b"/>
<path d="M37.34 620.00H45.26M41.30 616.04V623.96" stroke="#fff" stroke-width="1.02" fill="none"/>
<rect x="67.6" y="632.9" width="14.0" height="14.0" fill="none" stroke="#1a1a1a" stroke-width="1.6" stroke-dasharray="2.8 1.5"/>
<line x1="67.60" y1="646.90" x2="35.30" y2="683.00" stroke="#1a1a1a" stroke-width="1.45" stroke-dasharray="3.2 1.8"/>
<line x1="81.60" y1="646.90" x2="105.10" y2="683.00" stroke="#1a1a1a" stroke-width="1.45" stroke-dasharray="3.2 1.8"/>
<line x1="38.00" y1="672.70" x2="54.30" y2="672.70" stroke="#1a1a1a" stroke-width="1.5"/>
<line x1="39.00" y1="743.70" x2="55.80" y2="743.70" stroke="#1a1a1a" stroke-width="1.5"/>
<rect x="108.2" y="613.9" width="70.2" height="65.3" fill="none" stroke="#4a4a4a" stroke-width="0.9"/>
<rect x="108.2" y="683.0" width="70.2" height="65.3" fill="none" stroke="#3a3a3a" stroke-width="1.1"/>
<rect x="107.90" y="613.60" width="12.30" height="12.50" fill="#1b1b1b"/>
<path d="M112.16 620.60H116.24" stroke="#fff" stroke-width="1.20" fill="none"/>
<rect x="140.5" y="632.9" width="14.0" height="14.0" fill="none" stroke="#1a1a1a" stroke-width="1.6" stroke-dasharray="2.8 1.5"/>
<line x1="140.50" y1="646.90" x2="108.20" y2="683.00" stroke="#1a1a1a" stroke-width="1.45" stroke-dasharray="3.2 1.8"/>
<line x1="154.50" y1="646.90" x2="178.40" y2="683.00" stroke="#1a1a1a" stroke-width="1.45" stroke-dasharray="3.2 1.8"/>
<line x1="110.90" y1="672.70" x2="127.20" y2="672.70" stroke="#1a1a1a" stroke-width="1.5"/>
<line x1="111.90" y1="743.70" x2="128.70" y2="743.70" stroke="#1a1a1a" stroke-width="1.5"/>
<rect x="181.0" y="613.9" width="69.5" height="65.3" fill="none" stroke="#4a4a4a" stroke-width="0.9"/>
<rect x="181.0" y="683.0" width="69.5" height="65.3" fill="none" stroke="#3a3a3a" stroke-width="1.1"/>
<rect x="180.70" y="613.60" width="12.30" height="12.50" fill="#1b1b1b"/>
<path d="M183.04 620.00H190.96M187.00 616.04V623.96" stroke="#fff" stroke-width="1.02" fill="none"/>
<rect x="213.3" y="632.9" width="14.0" height="14.0" fill="none" stroke="#1a1a1a" stroke-width="1.6" stroke-dasharray="2.8 1.5"/>
<line x1="213.30" y1="646.90" x2="181.00" y2="683.00" stroke="#1a1a1a" stroke-width="1.45" stroke-dasharray="3.2 1.8"/>
<line x1="227.30" y1="646.90" x2="250.50" y2="683.00" stroke="#1a1a1a" stroke-width="1.45" stroke-dasharray="3.2 1.8"/>
<line x1="183.70" y1="672.70" x2="200.00" y2="672.70" stroke="#1a1a1a" stroke-width="1.5"/>
<line x1="184.70" y1="743.70" x2="201.50" y2="743.70" stroke="#1a1a1a" stroke-width="1.5"/>
<defs><filter id="f177" x="-20%" y="-20%" width="140%" height="140%"><feGaussianBlur stdDeviation="0.7"/></filter></defs>
<defs><filter id="f178" x="-20%" y="-20%" width="140%" height="140%"><feGaussianBlur stdDeviation="0.4"/></filter></defs>
<clipPath id="c179"><rect x="197.50" y="849.10" width="68.80" height="71.30"/></clipPath>
<g clip-path="url(#c179)">
<rect x="197.50" y="849.10" width="68.80" height="71.30" fill="#d8d9ed"/>
<defs><filter id="f180" x="0" y="0" width="1" height="1" color-interpolation-filters="sRGB"><feTurbulence type="fractalNoise" baseFrequency="0.12" numOctaves="2" seed="51"/><feColorMatrix type="matrix" values="0 0 0 0 0.725 0 0 0 0 0.733 0 0 0 0 0.871 4 0 0 0 -1.9"/><feGaussianBlur stdDeviation="0.5"/></filter></defs>
<rect x="197.50" y="849.10" width="68.80" height="71.30" fill="#000" filter="url(#f180)" opacity="0.7"/>
<defs><filter id="f181" x="0" y="0" width="1" height="1" color-interpolation-filters="sRGB"><feTurbulence type="fractalNoise" baseFrequency="0.1" numOctaves="2" seed="52"/><feColorMatrix type="matrix" values="0 0 0 0 0.933 0 0 0 0 0.933 0 0 0 0 0.973 5 0 0 0 -2.9"/><feGaussianBlur stdDeviation="0.5"/></filter></defs>
<rect x="197.50" y="849.10" width="68.80" height="71.30" fill="#000" filter="url(#f181)" opacity="0.8"/>
<g>
<g filter="url(#f177)"><g fill="#a9abd6"><circle cx="206.7" cy="909.5" r="2.7" opacity=".64"/><circle cx="234.7" cy="916.1" r="2.3" opacity=".73"/><circle cx="231.6" cy="865.7" r="2.1" opacity=".70"/><circle cx="243.6" cy="870.7" r="2.5" opacity=".62"/><circle cx="250.5" cy="887.6" r="2.8" opacity=".80"/><circle cx="263.0" cy="890.3" r="2.4" opacity=".55"/><circle cx="233.2" cy="889.1" r="2.3" opacity=".76"/><circle cx="236.7" cy="863.3" r="2.4" opacity=".74"/><circle cx="205.0" cy="893.6" r="2.2" opacity=".59"/><circle cx="209.1" cy="868.6" r="2.7" opacity=".80"/><circle cx="218.9" cy="916.1" r="2.7" opacity=".43"/><circle cx="264.5" cy="899.3" r="2.4" opacity=".50"/><circle cx="210.9" cy="856.5" r="2.6" opacity=".56"/><circle cx="198.7" cy="863.4" r="2.2" opacity=".57"/><circle cx="265.4" cy="904.9" r="2.2" opacity=".62"/><circle cx="261.6" cy="873.6" r="2.9" opacity=".69"/><circle cx="260.2" cy="864.3" r="2.7" opacity=".80"/><circle cx="220.9" cy="869.9" r="2.8" opacity=".71"/><circle cx="239.1" cy="917.1" r="2.9" opacity=".75"/><circle cx="206.8" cy="888.4" r="1.9" opacity=".67"/><circle cx="226.5" cy="857.3" r="2.0" opacity=".64"/><circle cx="209.4" cy="904.4" r="3.0" opacity=".40"/><circle cx="198.0" cy="886.8" r="2.4" opacity=".49"/><circle cx="253.1" cy="893.9" r="2.1" opacity=".61"/><circle cx="225.6" cy="902.2" r="3.0" opacity=".60"/><circle cx="248.0" cy="913.1" r="2.7" opacity=".45"/><circle cx="213.5" cy="889.1" r="2.0" opacity=".63"/><circle cx="220.2" cy="865.0" r="3.0" opacity=".49"/><circle cx="251.5" cy="862.6" r="2.6" opacity=".71"/><circle cx="264.2" cy="894.8" r="2.1" opacity=".50"/><circle cx="264.7" cy="859.9" r="2.9" opacity=".54"/><circle cx="223.0" cy="919.3" r="1.8" opacity=".69"/><circle cx="234.1" cy="880.7" r="2.0" opacity=".52"/><circle cx="228.4" cy="919.5" r="2.7" opacity=".54"/><circle cx="218.0" cy="874.2" r="2.2" opacity=".46"/></g><g fill="#bfc1e2"><circle cx="215.0" cy="884.4" r="2.3" opacity=".68"/><circle cx="217.4" cy="850.6" r="2.8" opacity=".61"/><circle cx="235.8" cy="894.9" r="2.0" opacity=".43"/><circle cx="265.8" cy="910.4" r="1.9" opacity=".42"/><circle cx="220.4" cy="900.5" r="2.7" opacity=".40"/><circle cx="243.9" cy="875.8" r="2.3" opacity=".64"/><circle cx="251.4" cy="907.6" r="2.9" opacity=".51"/><circle cx="230.9" cy="874.5" r="2.2" opacity=".51"/><circle cx="215.1" cy="909.1" r="2.6" opacity=".71"/><circle cx="203.2" cy="850.3" r="1.8" opacity=".58"/><circle cx="207.6" cy="900.4" r="2.0" opacity=".50"/><circle cx="237.1" cy="872.0" r="2.6" opacity=".49"/><circle cx="201.5" cy="870.4" r="3.0" opacity=".78"/><circle cx="257.7" cy="870.9" r="2.8" opacity=".69"/><circle cx="223.5" cy="873.8" r="2.0" opacity=".71"/><circle cx="212.2" cy="897.2" r="2.8" opacity=".54"/><circle cx="244.8" cy="883.6" r="3.0" opacity=".73"/><circle cx="221.0" cy="893.0" r="2.7" opacity=".76"/><circle cx="214.1" cy="902.1" r="1.9" opacity=".44"/><circle cx="198.2" cy="919.2" r="2.2" opacity=".65"/><circle cx="221.9" cy="859.0" r="2.0" opacity=".52"/><circle cx="236.7" cy="903.1" r="1.9" opacity=".62"/><circle cx="217.0" cy="856.8" r="2.8" opacity=".50"/><circle cx="254.6" cy="885.5" r="3.0" opacity=".61"/><circle cx="225.4" cy="910.5" r="2.5" opacity=".59"/><circle cx="245.2" cy="855.9" r="2.3" opacity=".41"/><circle cx="264.9" cy="883.3" r="2.9" opacity=".55"/></g><g fill="#b4b6dc"><circle cx="242.3" cy="905.3" r="1.9" opacity=".49"/><circle cx="247.1" cy="865.4" r="2.9" opacity=".62"/><circle cx="212.4" cy="879.2" r="1.8" opacity=".56"/><circle cx="261.9" cy="879.2" r="2.8" opacity=".68"/><circle cx="258.2" cy="909.4" r="2.4" opacity=".60"/><circle cx="238.0" cy="851.6" r="2.1" opacity=".79"/><circle cx="252.4" cy="878.6" r="2.0" opacity=".61"/><circle cx="232.5" cy="904.6" r="2.4" opacity=".58"/><circle cx="239.6" cy="881.8" r="1.8" opacity=".72"/><circle cx="213.3" cy="861.7" r="2.5" opacity=".65"/><circle cx="230.1" cy="850.8" r="2.3" opacity=".55"/><circle cx="259.4" cy="885.5" r="2.1" opacity=".78"/><circle cx="246.0" cy="897.5" r="2.5" opacity=".70"/><circle cx="212.7" cy="918.7" r="2.8" opacity=".57"/><circle cx="238.8" cy="909.1" r="2.2" opacity=".47"/><circle cx="200.2" cy="854.3" r="2.8" opacity=".67"/><circle cx="205.2" cy="864.4" r="2.5" opacity=".57"/><circle cx="220.5" cy="887.9" r="2.5" opacity=".75"/><circle cx="252.2" cy="854.6" r="2.9" opacity=".74"/><circle cx="255.3" cy="902.3" r="2.6" opacity=".77"/><circle cx="226.2" cy="889.8" r="1.9" opacity=".42"/><circle cx="216.4" cy="895.2" r="1.9" opacity=".51"/><circle cx="206.2" cy="913.9" r="3.0" opacity=".51"/><circle cx="198.9" cy="893.8" r="2.5" opacity=".51"/><circle cx="219.3" cy="879.9" r="2.7" opacity=".57"/><circle cx="228.0" cy="914.2" r="2.7" opacity=".73"/><circle cx="204.8" cy="877.4" r="2.4" opacity=".51"/><circle cx="265.9" cy="852.4" r="2.8" opacity=".54"/><circle cx="241.8" cy="861.5" r="2.8" opacity=".51"/></g><g fill="#9ea0d0"><circle cx="199.5" cy="908.7" r="2.3" opacity=".64"/><circle cx="249.9" cy="849.3" r="2.3" opacity=".57"/><circle cx="259.5" cy="851.3" r="1.8" opacity=".72"/><circle cx="224.6" cy="884.0" r="1.8" opacity=".60"/><circle cx="200.5" cy="899.3" r="3.0" opacity=".62"/><circle cx="238.3" cy="877.2" r="2.0" opacity=".50"/><circle cx="202.3" cy="860.5" r="2.4" opacity=".57"/><circle cx="226.5" cy="862.5" r="1.9" opacity=".64"/><circle cx="226.1" cy="867.1" r="1.8" opacity=".79"/><circle cx="253.9" cy="917.7" r="2.5" opacity=".69"/><circle cx="219.9" cy="911.2" r="2.9" opacity=".73"/><circle cx="260.3" cy="918.2" r="3.0" opacity=".47"/><circle cx="256.9" cy="860.1" r="2.4" opacity=".72"/><circle cx="202.4" cy="885.6" r="2.9" opacity=".56"/><circle cx="245.1" cy="909.6" r="2.2" opacity=".50"/><circle cx="223.8" cy="906.3" r="2.3" opacity=".78"/><circle cx="231.3" cy="910.1" r="2.7" opacity=".60"/><circle cx="227.9" cy="881.2" r="2.2" opacity=".64"/><circle cx="211.5" cy="849.4" r="2.1" opacity=".70"/><circle cx="240.2" cy="887.0" r="2.2" opacity=".66"/><circle cx="197.7" cy="876.8" r="2.3" opacity=".53"/><circle cx="241.6" cy="895.4" r="2.6" opacity=".68"/><circle cx="211.8" cy="912.3" r="2.1" opacity=".44"/><circle cx="199.6" cy="913.2" r="2.5" opacity=".60"/><circle cx="239.2" cy="867.8" r="2.4" opacity=".43"/><circle cx="207.0" cy="858.9" r="2.7" opacity=".51"/><circle cx="226.7" cy="896.3" r="2.7" opacity=".67"/><circle cx="233.6" cy="855.5" r="2.8" opacity=".51"/><circle cx="251.4" cy="899.2" r="2.7" opacity=".44"/></g></g>
<g filter="url(#f178)"><g fill="#5a5aa8"><circle cx="263.3" cy="916.7" r="1.0" opacity=".76"/><circle cx="243.6" cy="871.1" r="1.4" opacity=".70"/><circle cx="239.2" cy="890.5" r="1.1" opacity=".76"/><circle cx="227.1" cy="877.2" r="1.4" opacity=".86"/><circle cx="265.9" cy="916.8" r="1.3" opacity=".64"/><circle cx="228.1" cy="868.2" r="1.0" opacity=".69"/><circle cx="236.1" cy="865.9" r="1.0" opacity=".81"/><circle cx="219.9" cy="858.8" r="1.3" opacity=".62"/><circle cx="266.2" cy="897.2" r="1.1" opacity=".62"/><circle cx="259.9" cy="903.5" r="1.5" opacity=".87"/><circle cx="208.6" cy="902.9" r="1.4" opacity=".79"/></g><g fill="#6c6cb4"><circle cx="203.3" cy="908.7" r="1.5" opacity=".70"/><circle cx="199.4" cy="882.2" r="1.2" opacity=".88"/><circle cx="223.6" cy="912.7" r="1.3" opacity=".85"/><circle cx="259.0" cy="905.9" r="1.5" opacity=".70"/><circle cx="221.8" cy="919.0" r="1.6" opacity=".81"/></g></g>
</g>
</g>
<defs><filter id="f182" x="-20%" y="-20%" width="140%" height="140%"><feGaussianBlur stdDeviation="0.8"/></filter></defs>
<defs><filter id="f183" x="-20%" y="-20%" width="140%" height="140%"><feGaussianBlur stdDeviation="0.5"/></filter></defs>
<defs><filter id="f184" x="-20%" y="-20%" width="140%" height="140%"><feGaussianBlur stdDeviation="0.45"/></filter></defs>
<clipPath id="c185"><rect x="271.20" y="849.10" width="68.80" height="71.30"/></clipPath>
<g clip-path="url(#c185)">
<rect x="271.20" y="849.10" width="68.80" height="71.30" fill="#f0f0f6"/>
<defs><filter id="f186" x="0" y="0" width="1" height="1" color-interpolation-filters="sRGB"><feTurbulence type="fractalNoise" baseFrequency="0.08" numOctaves="2" seed="53"/><feColorMatrix type="matrix" values="0 0 0 0 0.863 0 0 0 0 0.863 0 0 0 0 0.937 5 0 0 0 -2.2"/><feGaussianBlur stdDeviation="0.5"/></filter></defs>
<rect x="271.20" y="849.10" width="68.80" height="71.30" fill="#000" filter="url(#f186)" opacity="0.8"/>
<g>
<g filter="url(#f182)"><g fill="#c4c4e4"><circle cx="296.7" cy="892.2" r="2.8" opacity=".76"/><circle cx="322.2" cy="897.0" r="2.0" opacity=".65"/><circle cx="323.4" cy="891.2" r="2.3" opacity=".89"/><circle cx="320.3" cy="914.8" r="2.5" opacity=".67"/><circle cx="297.7" cy="874.1" r="2.7" opacity=".57"/><circle cx="339.3" cy="855.4" r="3.0" opacity=".55"/><circle cx="299.4" cy="859.8" r="2.3" opacity=".56"/><circle cx="313.5" cy="852.3" r="2.9" opacity=".84"/><circle cx="314.4" cy="882.3" r="2.8" opacity=".57"/><circle cx="321.8" cy="871.2" r="2.2" opacity=".67"/><circle cx="291.3" cy="905.7" r="2.3" opacity=".84"/><circle cx="299.4" cy="914.7" r="2.2" opacity=".69"/><circle cx="335.0" cy="864.9" r="2.9" opacity=".86"/><circle cx="322.5" cy="861.4" r="2.3" opacity=".84"/><circle cx="288.6" cy="910.5" r="2.6" opacity=".86"/><circle cx="309.4" cy="900.2" r="2.4" opacity=".86"/><circle cx="300.4" cy="879.5" r="3.1" opacity=".63"/><circle cx="332.2" cy="905.6" r="2.8" opacity=".55"/></g><g fill="#b8b8de"><circle cx="328.8" cy="867.6" r="2.3" opacity=".75"/><circle cx="339.7" cy="882.6" r="3.0" opacity=".60"/><circle cx="314.9" cy="911.0" r="2.6" opacity=".72"/><circle cx="303.7" cy="900.4" r="3.1" opacity=".84"/><circle cx="330.1" cy="919.8" r="2.8" opacity=".80"/><circle cx="333.4" cy="889.7" r="2.9" opacity=".73"/><circle cx="306.0" cy="920.3" r="2.4" opacity=".77"/><circle cx="337.2" cy="913.0" r="2.4" opacity=".74"/><circle cx="312.2" cy="889.0" r="2.8" opacity=".86"/><circle cx="308.9" cy="849.9" r="2.5" opacity=".51"/><circle cx="313.6" cy="894.2" r="2.0" opacity=".82"/><circle cx="295.5" cy="899.5" r="2.9" opacity=".60"/><circle cx="324.3" cy="851.0" r="2.7" opacity=".81"/><circle cx="326.7" cy="894.9" r="3.0" opacity=".90"/><circle cx="295.0" cy="878.8" r="2.5" opacity=".81"/><circle cx="307.5" cy="879.3" r="2.6" opacity=".55"/><circle cx="302.9" cy="866.6" r="2.6" opacity=".57"/><circle cx="335.6" cy="875.8" r="3.1" opacity=".54"/><circle cx="324.0" cy="885.6" r="2.9" opacity=".83"/><circle cx="278.5" cy="902.5" r="3.2" opacity=".51"/><circle cx="310.0" cy="908.1" r="2.3" opacity=".73"/></g><g fill="#cfcfea"><circle cx="304.0" cy="894.7" r="2.1" opacity=".66"/><circle cx="326.3" cy="880.8" r="3.2" opacity=".80"/><circle cx="331.7" cy="856.0" r="2.1" opacity=".87"/><circle cx="286.1" cy="917.9" r="2.5" opacity=".69"/><circle cx="314.3" cy="870.6" r="2.6" opacity=".66"/><circle cx="282.4" cy="910.5" r="3.2" opacity=".71"/><circle cx="324.1" cy="911.3" r="2.0" opacity=".63"/><circle cx="294.0" cy="911.9" r="3.2" opacity=".88"/><circle cx="302.9" cy="886.2" r="2.8" opacity=".73"/><circle cx="319.2" cy="856.4" r="2.4" opacity=".69"/><circle cx="301.4" cy="910.1" r="2.2" opacity=".58"/><circle cx="332.1" cy="881.3" r="2.2" opacity=".83"/><circle cx="328.9" cy="862.2" r="2.3" opacity=".72"/><circle cx="306.9" cy="869.7" r="2.4" opacity=".79"/><circle cx="333.4" cy="898.6" r="3.2" opacity=".53"/><circle cx="311.6" cy="874.8" r="2.2" opacity=".78"/></g></g>
<g filter="url(#f183)"><g fill="#7a76bc"><circle cx="298.4" cy="860.1" r="1.3" opacity=".80"/><circle cx="292.5" cy="893.8" r="1.9" opacity=".74"/><circle cx="330.0" cy="911.8" r="1.3" opacity=".67"/><circle cx="327.1" cy="852.2" r="1.3" opacity=".78"/><circle cx="303.6" cy="873.5" r="2.1" opacity=".72"/><circle cx="285.1" cy="894.2" r="1.5" opacity=".93"/><circle cx="309.6" cy="913.6" r="1.4" opacity=".94"/><circle cx="302.8" cy="852.2" r="1.9" opacity=".91"/><circle cx="337.2" cy="850.4" r="1.5" opacity=".83"/><circle cx="337.4" cy="872.7" r="1.3" opacity=".92"/><circle cx="305.0" cy="866.9" r="2.1" opacity=".64"/><circle cx="324.4" cy="878.3" r="2.1" opacity=".91"/></g><g fill="#9a98ce"><circle cx="298.8" cy="914.6" r="2.0" opacity=".74"/><circle cx="323.8" cy="864.9" r="1.7" opacity=".83"/><circle cx="335.0" cy="908.2" r="2.0" opacity=".86"/><circle cx="312.9" cy="897.0" r="1.7" opacity=".91"/><circle cx="333.7" cy="889.9" r="2.0" opacity=".76"/><circle cx="299.7" cy="891.8" r="1.6" opacity=".71"/><circle cx="314.3" cy="869.1" r="1.7" opacity=".88"/><circle cx="323.8" cy="893.0" r="1.5" opacity=".67"/><circle cx="336.1" cy="893.3" r="2.0" opacity=".82"/><circle cx="301.8" cy="858.8" r="1.6" opacity=".77"/><circle cx="299.5" cy="851.7" r="1.6" opacity=".62"/><circle cx="331.0" cy="859.2" r="1.3" opacity=".72"/></g><g fill="#8a88c6"><circle cx="330.7" cy="888.1" r="1.5" opacity=".72"/><circle cx="295.7" cy="902.4" r="1.5" opacity=".90"/><circle cx="332.8" cy="917.2" r="1.9" opacity=".87"/><circle cx="337.7" cy="904.4" r="1.6" opacity=".90"/><circle cx="325.1" cy="875.0" r="1.5" opacity=".88"/><circle cx="300.4" cy="863.9" r="1.3" opacity=".92"/><circle cx="317.8" cy="859.8" r="1.3" opacity=".81"/><circle cx="288.3" cy="912.5" r="2.0" opacity=".66"/></g></g>
<g filter="url(#f184)"><g fill="#5a4aa0"><circle cx="303.5" cy="866.7" r="2.2" opacity=".84"/><circle cx="282.2" cy="905.9" r="1.8" opacity=".86"/><circle cx="285.3" cy="916.2" r="2.4" opacity=".84"/></g></g>
</g>
</g>
<defs><filter id="f187" x="-20%" y="-20%" width="140%" height="140%"><feGaussianBlur stdDeviation="0.6"/></filter></defs>
<clipPath id="c188"><rect x="344.90" y="849.10" width="69.30" height="71.30"/></clipPath>
<g clip-path="url(#c188)">
<rect x="344.90" y="849.10" width="69.30" height="71.30" fill="#ebebf4"/>
<defs><filter id="f189" x="0" y="0" width="1" height="1" color-interpolation-filters="sRGB"><feTurbulence type="fractalNoise" baseFrequency="0.1" numOctaves="2" seed="55"/><feColorMatrix type="matrix" values="0 0 0 0 0.812 0 0 0 0 0.816 0 0 0 0 0.910 5 0 0 0 -2.2"/><feGaussianBlur stdDeviation="0.55"/></filter></defs>
<rect x="344.90" y="849.10" width="69.30" height="71.30" fill="#000" filter="url(#f189)" opacity="0.7"/>
<defs><filter id="f190" x="0" y="0" width="1" height="1" color-interpolation-filters="sRGB"><feTurbulence type="fractalNoise" baseFrequency="0.09" numOctaves="2" seed="56"/><feColorMatrix type="matrix" values="0 0 0 0 0.969 0 0 0 0 0.969 0 0 0 0 0.984 6 0 0 0 -3.6"/><feGaussianBlur stdDeviation="0.55"/></filter></defs>
<rect x="344.90" y="849.10" width="69.30" height="71.30" fill="#000" filter="url(#f190)" opacity="0.9"/>
<g>
<g filter="url(#f187)"><g fill="#9a9cd2"><circle cx="399.9" cy="907.7" r="2.4" opacity=".56"/><circle cx="368.2" cy="855.7" r="2.8" opacity=".88"/><circle cx="365.1" cy="916.9" r="2.5" opacity=".75"/><circle cx="368.0" cy="913.6" r="2.5" opacity=".79"/><circle cx="353.7" cy="920.4" r="1.9" opacity=".93"/><circle cx="372.5" cy="919.0" r="2.1" opacity=".75"/><circle cx="391.3" cy="912.5" r="2.3" opacity=".69"/><circle cx="380.7" cy="882.7" r="2.6" opacity=".60"/><circle cx="373.2" cy="855.2" r="2.7" opacity=".85"/><circle cx="363.3" cy="883.9" r="2.7" opacity=".90"/><circle cx="409.2" cy="867.3" r="2.3" opacity=".57"/><circle cx="405.8" cy="892.7" r="2.1" opacity=".68"/><circle cx="400.7" cy="872.2" r="2.6" opacity=".51"/><circle cx="371.0" cy="892.1" r="2.2" opacity=".81"/><circle cx="372.5" cy="883.9" r="2.8" opacity=".59"/><circle cx="351.6" cy="856.6" r="2.6" opacity=".72"/><circle cx="410.0" cy="855.1" r="2.8" opacity=".89"/><circle cx="350.3" cy="901.3" r="1.9" opacity=".94"/><circle cx="381.3" cy="859.8" r="2.1" opacity=".87"/><circle cx="408.0" cy="879.0" r="2.0" opacity=".77"/><circle cx="347.1" cy="887.8" r="2.7" opacity=".75"/><circle cx="370.6" cy="910.1" r="2.2" opacity=".76"/><circle cx="385.9" cy="910.9" r="2.6" opacity=".92"/><circle cx="369.2" cy="860.4" r="2.7" opacity=".72"/><circle cx="375.8" cy="850.0" r="3.0" opacity=".81"/><circle cx="363.6" cy="894.6" r="3.0" opacity=".52"/><circle cx="378.3" cy="895.0" r="2.8" opacity=".82"/><circle cx="346.5" cy="864.6" r="2.2" opacity=".51"/><circle cx="393.5" cy="869.3" r="2.2" opacity=".93"/><circle cx="386.4" cy="920.0" r="2.5" opacity=".91"/><circle cx="404.3" cy="902.9" r="2.3" opacity=".91"/><circle cx="381.2" cy="866.8" r="2.0" opacity=".84"/><circle cx="390.9" cy="919.8" r="2.1" opacity=".65"/></g><g fill="#8f91cb"><circle cx="363.0" cy="849.1" r="2.6" opacity=".78"/><circle cx="377.5" cy="903.3" r="2.2" opacity=".89"/><circle cx="395.5" cy="878.6" r="2.4" opacity=".85"/><circle cx="358.8" cy="895.8" r="2.2" opacity=".89"/><circle cx="409.5" cy="913.9" r="2.4" opacity=".55"/><circle cx="389.6" cy="898.9" r="2.8" opacity=".55"/><circle cx="386.6" cy="870.8" r="2.5" opacity=".68"/><circle cx="359.4" cy="910.8" r="2.6" opacity=".58"/><circle cx="345.8" cy="904.6" r="1.8" opacity=".56"/><circle cx="356.8" cy="850.7" r="1.9" opacity=".84"/><circle cx="404.0" cy="853.5" r="2.0" opacity=".88"/><circle cx="393.5" cy="858.2" r="2.8" opacity=".55"/><circle cx="348.5" cy="919.9" r="2.7" opacity=".59"/><circle cx="410.7" cy="899.1" r="2.2" opacity=".63"/><circle cx="355.4" cy="889.6" r="2.3" opacity=".74"/><circle cx="399.4" cy="889.7" r="2.0" opacity=".73"/><circle cx="375.5" cy="877.4" r="3.0" opacity=".91"/><circle cx="383.1" cy="896.3" r="2.7" opacity=".69"/><circle cx="375.1" cy="908.5" r="1.9" opacity=".85"/><circle cx="402.9" cy="886.2" r="2.9" opacity=".65"/><circle cx="408.4" cy="861.6" r="2.0" opacity=".54"/><circle cx="345.0" cy="912.0" r="1.8" opacity=".80"/><circle cx="390.7" cy="893.5" r="1.8" opacity=".87"/><circle cx="395.3" cy="899.2" r="2.9" opacity=".93"/><circle cx="412.1" cy="870.5" r="2.3" opacity=".75"/><circle cx="371.0" cy="874.8" r="2.7" opacity=".71"/><circle cx="347.0" cy="895.1" r="2.5" opacity=".72"/><circle cx="389.2" cy="850.8" r="2.9" opacity=".52"/><circle cx="359.3" cy="878.5" r="2.5" opacity=".77"/><circle cx="347.7" cy="876.8" r="2.2" opacity=".73"/><circle cx="406.2" cy="898.6" r="2.6" opacity=".91"/><circle cx="365.4" cy="889.5" r="2.1" opacity=".68"/><circle cx="411.7" cy="876.3" r="2.6" opacity=".74"/></g><g fill="#8386c4"><circle cx="398.3" cy="868.5" r="2.8" opacity=".81"/><circle cx="400.6" cy="898.0" r="2.8" opacity=".77"/><circle cx="351.4" cy="863.2" r="2.6" opacity=".69"/><circle cx="351.1" cy="911.8" r="2.4" opacity=".63"/><circle cx="358.5" cy="883.6" r="2.0" opacity=".51"/><circle cx="354.8" cy="876.0" r="2.2" opacity=".65"/><circle cx="386.9" cy="859.4" r="2.6" opacity=".69"/><circle cx="377.0" cy="913.2" r="2.6" opacity=".59"/><circle cx="375.9" cy="868.8" r="2.7" opacity=".90"/><circle cx="347.1" cy="855.2" r="2.8" opacity=".77"/><circle cx="379.2" cy="854.5" r="1.9" opacity=".58"/><circle cx="366.8" cy="866.2" r="2.5" opacity=".72"/><circle cx="360.5" cy="889.4" r="2.9" opacity=".55"/><circle cx="362.6" cy="905.5" r="2.7" opacity=".71"/><circle cx="363.8" cy="858.5" r="2.3" opacity=".63"/><circle cx="410.6" cy="906.8" r="2.4" opacity=".92"/><circle cx="403.2" cy="913.2" r="2.0" opacity=".63"/><circle cx="345.3" cy="870.8" r="1.9" opacity=".71"/><circle cx="388.0" cy="903.9" r="2.9" opacity=".61"/><circle cx="398.9" cy="855.3" r="3.0" opacity=".88"/><circle cx="402.6" cy="859.6" r="2.6" opacity=".85"/><circle cx="400.0" cy="919.6" r="2.8" opacity=".79"/><circle cx="352.3" cy="905.7" r="2.0" opacity=".78"/><circle cx="387.0" cy="883.4" r="2.6" opacity=".58"/><circle cx="412.6" cy="885.8" r="2.2" opacity=".80"/><circle cx="387.8" cy="878.9" r="2.0" opacity=".89"/><circle cx="414.0" cy="857.0" r="1.9" opacity=".51"/><circle cx="360.3" cy="918.7" r="2.3" opacity=".77"/><circle cx="398.3" cy="849.8" r="2.2" opacity=".68"/><circle cx="352.2" cy="885.6" r="2.1" opacity=".72"/><circle cx="354.4" cy="869.8" r="3.0" opacity=".73"/><circle cx="388.7" cy="855.3" r="2.6" opacity=".93"/><circle cx="356.0" cy="858.1" r="2.8" opacity=".59"/><circle cx="358.8" cy="873.8" r="2.3" opacity=".67"/><circle cx="382.2" cy="915.8" r="2.3" opacity=".70"/></g><g fill="#7d80c0"><circle cx="392.2" cy="862.9" r="2.5" opacity=".62"/><circle cx="412.6" cy="851.1" r="2.2" opacity=".78"/><circle cx="353.0" cy="896.4" r="2.2" opacity=".79"/><circle cx="366.1" cy="876.0" r="2.3" opacity=".54"/><circle cx="345.3" cy="881.1" r="1.9" opacity=".50"/><circle cx="410.6" cy="892.8" r="2.3" opacity=".58"/><circle cx="393.0" cy="905.5" r="2.0" opacity=".81"/><circle cx="389.2" cy="887.3" r="1.8" opacity=".57"/><circle cx="360.4" cy="864.9" r="2.5" opacity=".93"/><circle cx="370.7" cy="896.6" r="3.0" opacity=".62"/><circle cx="375.6" cy="863.5" r="2.8" opacity=".87"/><circle cx="351.4" cy="891.5" r="1.8" opacity=".94"/><circle cx="349.6" cy="849.3" r="2.8" opacity=".66"/><circle cx="413.8" cy="881.6" r="1.9" opacity=".66"/><circle cx="363.9" cy="900.5" r="2.3" opacity=".95"/><circle cx="382.4" cy="873.8" r="2.5" opacity=".81"/><circle cx="351.0" cy="879.8" r="2.5" opacity=".63"/><circle cx="370.6" cy="903.0" r="2.6" opacity=".57"/><circle cx="380.3" cy="908.3" r="2.5" opacity=".79"/></g></g>
</g>
</g>
<defs><filter id="f191" x="-20%" y="-20%" width="140%" height="140%"><feGaussianBlur stdDeviation="0.55"/></filter></defs>
<clipPath id="c192"><rect x="419.00" y="849.10" width="69.90" height="71.30"/></clipPath>
<g clip-path="url(#c192)">
<rect x="419.00" y="849.10" width="69.90" height="71.30" fill="#ededf5"/>
<defs><filter id="f193" x="0" y="0" width="1" height="1" color-interpolation-filters="sRGB"><feTurbulence type="fractalNoise" baseFrequency="0.1" numOctaves="2" seed="57"/><feColorMatrix type="matrix" values="0 0 0 0 0.843 0 0 0 0 0.847 0 0 0 0 0.929 5 0 0 0 -2.3"/><feGaussianBlur stdDeviation="0.55"/></filter></defs>
<rect x="419.00" y="849.10" width="69.90" height="71.30" fill="#000" filter="url(#f193)" opacity="0.7"/>
<defs><filter id="f194" x="0" y="0" width="1" height="1" color-interpolation-filters="sRGB"><feTurbulence type="fractalNoise" baseFrequency="0.07" numOctaves="2" seed="58"/><feColorMatrix type="matrix" values="0 0 0 0 0.973 0 0 0 0 0.973 0 0 0 0 0.988 6 0 0 0 -3.8"/><feGaussianBlur stdDeviation="0.55"/></filter></defs>
<rect x="419.00" y="849.10" width="69.90" height="71.30" fill="#000" filter="url(#f194)" opacity="0.9"/>
<g>
<g filter="url(#f191)"><g fill="#9396d0"><circle cx="441.6" cy="859.9" r="2.5" opacity=".87"/><circle cx="476.8" cy="857.9" r="2.0" opacity=".77"/><circle cx="427.2" cy="871.1" r="2.7" opacity=".86"/><circle cx="470.0" cy="869.6" r="2.9" opacity=".76"/><circle cx="427.3" cy="878.9" r="2.7" opacity=".63"/><circle cx="465.7" cy="903.6" r="2.4" opacity=".66"/><circle cx="423.2" cy="899.1" r="2.5" opacity=".69"/><circle cx="436.3" cy="877.0" r="2.8" opacity=".71"/><circle cx="480.8" cy="917.4" r="1.9" opacity=".82"/><circle cx="462.2" cy="897.3" r="1.8" opacity=".73"/><circle cx="481.9" cy="904.7" r="2.8" opacity=".76"/><circle cx="474.8" cy="877.1" r="2.2" opacity=".94"/><circle cx="422.7" cy="849.1" r="1.9" opacity=".64"/><circle cx="473.5" cy="872.6" r="2.0" opacity=".71"/><circle cx="464.4" cy="886.6" r="2.9" opacity=".84"/><circle cx="460.0" cy="867.6" r="2.3" opacity=".67"/><circle cx="428.2" cy="914.0" r="2.2" opacity=".83"/><circle cx="452.1" cy="900.8" r="2.4" opacity=".69"/><circle cx="457.8" cy="905.0" r="1.9" opacity=".62"/><circle cx="449.9" cy="854.3" r="2.0" opacity=".83"/><circle cx="486.6" cy="864.8" r="2.9" opacity=".70"/><circle cx="441.3" cy="900.6" r="1.8" opacity=".80"/><circle cx="420.3" cy="872.7" r="2.5" opacity=".60"/><circle cx="426.7" cy="860.6" r="1.8" opacity=".60"/><circle cx="443.3" cy="850.4" r="2.1" opacity=".81"/><circle cx="437.5" cy="855.5" r="2.2" opacity=".78"/><circle cx="470.3" cy="907.0" r="1.9" opacity=".61"/><circle cx="476.8" cy="890.7" r="2.8" opacity=".89"/><circle cx="421.2" cy="858.6" r="2.2" opacity=".91"/><circle cx="458.0" cy="893.9" r="2.5" opacity=".65"/><circle cx="476.3" cy="885.4" r="2.8" opacity=".79"/><circle cx="488.8" cy="891.1" r="2.2" opacity=".73"/><circle cx="434.4" cy="913.7" r="2.9" opacity=".88"/><circle cx="473.7" cy="865.7" r="2.8" opacity=".80"/><circle cx="464.5" cy="863.6" r="1.8" opacity=".74"/><circle cx="462.4" cy="907.9" r="2.0" opacity=".95"/><circle cx="440.4" cy="879.1" r="2.4" opacity=".68"/><circle cx="454.2" cy="868.5" r="2.4" opacity=".62"/><circle cx="443.2" cy="855.2" r="2.4" opacity=".83"/><circle cx="483.6" cy="893.4" r="2.1" opacity=".85"/><circle cx="470.6" cy="902.1" r="2.7" opacity=".74"/><circle cx="447.4" cy="879.1" r="1.9" opacity=".83"/><circle cx="488.8" cy="879.5" r="2.4" opacity=".67"/></g><g fill="#7c80c4"><circle cx="424.1" cy="887.3" r="2.2" opacity=".83"/><circle cx="421.6" cy="880.0" r="1.8" opacity=".74"/><circle cx="479.0" cy="869.7" r="1.9" opacity=".62"/><circle cx="445.0" cy="888.2" r="1.8" opacity=".90"/><circle cx="423.2" cy="863.8" r="2.6" opacity=".89"/><circle cx="429.6" cy="884.0" r="1.8" opacity=".72"/><circle cx="431.3" cy="865.6" r="2.0" opacity=".67"/><circle cx="452.9" cy="891.1" r="2.1" opacity=".92"/><circle cx="485.6" cy="898.3" r="2.4" opacity=".84"/><circle cx="426.2" cy="894.3" r="1.8" opacity=".66"/><circle cx="420.8" cy="911.4" r="2.5" opacity=".74"/><circle cx="451.6" cy="883.6" r="1.9" opacity=".76"/><circle cx="437.5" cy="908.2" r="2.0" opacity=".80"/><circle cx="475.7" cy="919.3" r="2.8" opacity=".91"/><circle cx="475.3" cy="907.4" r="2.6" opacity=".73"/><circle cx="485.8" cy="875.1" r="2.0" opacity=".94"/><circle cx="452.5" cy="895.7" r="2.7" opacity=".80"/><circle cx="429.2" cy="908.0" r="2.9" opacity=".64"/><circle cx="464.9" cy="874.1" r="2.4" opacity=".76"/><circle cx="428.2" cy="850.1" r="2.9" opacity=".80"/><circle cx="449.3" cy="911.3" r="2.7" opacity=".93"/><circle cx="482.2" cy="879.1" r="2.8" opacity=".67"/><circle cx="478.9" cy="853.9" r="2.8" opacity=".91"/><circle cx="433.1" cy="871.3" r="2.1" opacity=".72"/><circle cx="469.6" cy="895.0" r="1.8" opacity=".84"/><circle cx="477.4" cy="912.7" r="2.5" opacity=".74"/><circle cx="466.7" cy="898.5" r="2.0" opacity=".64"/><circle cx="436.8" cy="902.1" r="2.1" opacity=".90"/><circle cx="477.7" cy="849.2" r="2.6" opacity=".66"/><circle cx="484.8" cy="888.3" r="2.6" opacity=".69"/><circle cx="464.1" cy="912.1" r="2.3" opacity=".76"/><circle cx="465.4" cy="857.7" r="2.8" opacity=".68"/><circle cx="433.2" cy="905.8" r="2.4" opacity=".77"/><circle cx="426.3" cy="919.9" r="2.5" opacity=".63"/><circle cx="436.7" cy="894.7" r="2.9" opacity=".86"/><circle cx="464.7" cy="850.7" r="1.8" opacity=".83"/><circle cx="478.0" cy="902.2" r="2.3" opacity=".86"/><circle cx="485.0" cy="869.3" r="2.0" opacity=".69"/><circle cx="455.3" cy="856.3" r="2.4" opacity=".71"/><circle cx="423.0" cy="868.7" r="2.2" opacity=".92"/><circle cx="456.6" cy="920.3" r="2.4" opacity=".69"/><circle cx="465.6" cy="891.8" r="2.3" opacity=".63"/><circle cx="488.3" cy="902.6" r="1.9" opacity=".60"/><circle cx="438.8" cy="872.7" r="2.3" opacity=".95"/><circle cx="480.8" cy="874.8" r="2.7" opacity=".69"/><circle cx="441.1" cy="885.1" r="2.0" opacity=".84"/><circle cx="446.4" cy="860.0" r="2.8" opacity=".62"/></g><g fill="#888bca"><circle cx="462.9" cy="916.7" r="2.4" opacity=".62"/><circle cx="446.7" cy="918.7" r="1.8" opacity=".88"/><circle cx="431.6" cy="890.6" r="2.5" opacity=".72"/><circle cx="448.9" cy="871.5" r="2.5" opacity=".76"/><circle cx="474.5" cy="898.9" r="2.0" opacity=".63"/><circle cx="459.2" cy="886.5" r="2.8" opacity=".68"/><circle cx="459.5" cy="881.6" r="2.7" opacity=".83"/><circle cx="485.0" cy="882.9" r="2.5" opacity=".83"/><circle cx="488.4" cy="907.7" r="2.1" opacity=".66"/><circle cx="446.0" cy="896.8" r="1.8" opacity=".77"/><circle cx="451.3" cy="861.1" r="1.9" opacity=".69"/><circle cx="423.1" cy="903.9" r="1.9" opacity=".68"/><circle cx="457.4" cy="912.1" r="2.7" opacity=".82"/><circle cx="443.3" cy="875.1" r="1.9" opacity=".92"/><circle cx="420.6" cy="916.9" r="2.4" opacity=".79"/><circle cx="434.8" cy="886.0" r="2.2" opacity=".94"/><circle cx="438.5" cy="867.6" r="2.6" opacity=".77"/><circle cx="471.4" cy="883.2" r="2.0" opacity=".71"/><circle cx="430.9" cy="858.2" r="1.9" opacity=".71"/><circle cx="455.6" cy="850.4" r="2.3" opacity=".71"/><circle cx="472.1" cy="914.2" r="2.3" opacity=".67"/><circle cx="452.4" cy="916.2" r="2.6" opacity=".67"/><circle cx="429.8" cy="900.2" r="2.5" opacity=".83"/><circle cx="446.8" cy="883.8" r="2.9" opacity=".95"/><circle cx="486.9" cy="856.6" r="2.1" opacity=".94"/><circle cx="467.1" cy="879.4" r="1.8" opacity=".94"/><circle cx="457.5" cy="862.6" r="2.3" opacity=".60"/><circle cx="453.6" cy="908.6" r="2.2" opacity=".95"/><circle cx="486.2" cy="918.4" r="2.4" opacity=".64"/><circle cx="436.1" cy="918.0" r="2.1" opacity=".69"/><circle cx="481.5" cy="863.3" r="2.9" opacity=".93"/><circle cx="484.4" cy="850.3" r="2.3" opacity=".95"/><circle cx="485.8" cy="912.1" r="2.7" opacity=".73"/><circle cx="443.0" cy="870.3" r="2.6" opacity=".66"/><circle cx="458.0" cy="877.2" r="2.0" opacity=".65"/><circle cx="460.0" cy="849.1" r="2.2" opacity=".66"/><circle cx="446.1" cy="865.0" r="2.5" opacity=".80"/><circle cx="434.9" cy="851.5" r="2.2" opacity=".85"/><circle cx="452.1" cy="875.7" r="2.8" opacity=".75"/><circle cx="447.7" cy="907.0" r="2.7" opacity=".92"/><circle cx="457.6" cy="872.3" r="2.9" opacity=".68"/><circle cx="439.5" cy="889.5" r="2.2" opacity=".89"/><circle cx="440.5" cy="917.1" r="2.1" opacity=".68"/><circle cx="471.9" cy="851.8" r="2.7" opacity=".76"/><circle cx="420.6" cy="893.2" r="2.3" opacity=".81"/><circle cx="444.1" cy="911.3" r="2.4" opacity=".67"/><circle cx="426.0" cy="856.1" r="2.7" opacity=".78"/><circle cx="447.3" cy="901.9" r="2.8" opacity=".66"/><circle cx="456.8" cy="900.2" r="2.4" opacity=".85"/><circle cx="470.0" cy="860.9" r="2.8" opacity=".95"/><circle cx="472.0" cy="856.6" r="2.1" opacity=".89"/><circle cx="432.0" cy="880.1" r="2.8" opacity=".70"/><circle cx="437.6" cy="862.4" r="2.7" opacity=".72"/><circle cx="419.3" cy="886.2" r="2.3" opacity=".78"/><circle cx="441.5" cy="905.2" r="2.8" opacity=".83"/><circle cx="469.1" cy="919.0" r="2.4" opacity=".83"/><circle cx="459.6" cy="854.8" r="2.6" opacity=".67"/><circle cx="431.0" cy="917.6" r="2.4" opacity=".79"/><circle cx="430.2" cy="875.5" r="2.9" opacity=".61"/><circle cx="419.3" cy="906.3" r="2.7" opacity=".62"/></g></g>
</g>
</g>
<defs><filter id="f195" x="-20%" y="-20%" width="140%" height="140%"><feGaussianBlur stdDeviation="0.6"/></filter></defs>
<defs><filter id="f196" x="-20%" y="-20%" width="140%" height="140%"><feGaussianBlur stdDeviation="0.5"/></filter></defs>
<clipPath id="c197"><rect x="197.50" y="923.70" width="68.80" height="71.30"/></clipPath>
<g clip-path="url(#c197)">
<rect x="197.50" y="923.70" width="68.80" height="71.30" fill="#f0eef5"/>
<defs><filter id="f198" x="0" y="0" width="1" height="1" color-interpolation-filters="sRGB"><feTurbulence type="fractalNoise" baseFrequency="0.2" numOctaves="2" seed="59"/><feColorMatrix type="matrix" values="0 0 0 0 0.769 0 0 0 0 0.753 0 0 0 0 0.871 6 0 0 0 -3.7"/></filter></defs>
<rect x="197.50" y="923.70" width="68.80" height="71.30" fill="#000" filter="url(#f198)" opacity="0.55"/>
<defs><filter id="f199" filterUnits="userSpaceOnUse" x="189.5" y="915.7" width="84.8" height="87.3" color-interpolation-filters="sRGB"><feTurbulence type="fractalNoise" baseFrequency="0.04" numOctaves="2" seed="89" result="t"/><feDisplacementMap in="SourceGraphic" in2="t" scale="8" xChannelSelector="R" yChannelSelector="G"/><feGaussianBlur stdDeviation="0.5"/></filter></defs>
<g filter="url(#f199)">
<path d="M228.5 929.4 C232.8 928.2 241.6 924.7 245.7 927.3 C249.7 929.9 251.2 938.6 252.5 945.1 C253.9 951.6 255.1 960.5 253.9 966.5 C252.8 972.4 248.2 975.4 245.7 980.7 C243.1 986.1 243.9 995.6 238.8 998.6 C233.6 1001.5 219.1 1001.5 214.7 998.6 C210.3 995.6 212.3 987.3 212.6 980.7 C213.0 974.2 217.0 965.3 216.8 959.4 C216.5 953.4 210.8 949.2 211.3 945.1 C211.7 940.9 216.6 937.0 219.5 934.4 C222.4 931.8 224.1 930.6 228.5 929.4 Z" fill="#c2bcdc" fill-opacity="0.9" stroke="#c2bcdc" stroke-width="0.70" stroke-opacity="0.9" stroke-linejoin="round"/>
<defs><filter id="f200" x="0" y="0" width="1" height="1" color-interpolation-filters="sRGB"><feTurbulence type="fractalNoise" baseFrequency="0.2" numOctaves="2" seed="69"/><feColorMatrix type="matrix" values="0 0 0 0 0.580 0 0 0 0 0.565 0 0 0 0 0.776 6 0 0 0 -3.1"/><feComposite in2="SourceAlpha" operator="in"/></filter></defs>
<g filter="url(#f200)" opacity="0.5">
<path d="M228.5 929.4 C232.8 928.2 241.6 924.7 245.7 927.3 C249.7 929.9 251.2 938.6 252.5 945.1 C253.9 951.6 255.1 960.5 253.9 966.5 C252.8 972.4 248.2 975.4 245.7 980.7 C243.1 986.1 243.9 995.6 238.8 998.6 C233.6 1001.5 219.1 1001.5 214.7 998.6 C210.3 995.6 212.3 987.3 212.6 980.7 C213.0 974.2 217.0 965.3 216.8 959.4 C216.5 953.4 210.8 949.2 211.3 945.1 C211.7 940.9 216.6 937.0 219.5 934.4 C222.4 931.8 224.1 930.6 228.5 929.4 Z" fill="#000" stroke="#000" stroke-width="0.70" stroke-linejoin="round"/>
</g>
<defs><filter id="f201" x="0" y="0" width="1" height="1" color-interpolation-filters="sRGB"><feTurbulence type="fractalNoise" baseFrequency="0.32" numOctaves="2" seed="79"/><feColorMatrix type="matrix" values="0 0 0 0 0.769 0 0 0 0 0.188 0 0 0 0 0.498 7 0 0 0 -3.95"/><feComposite in2="SourceAlpha" operator="in"/></filter></defs>
<g filter="url(#f201)" opacity="0.75">
<path d="M228.5 929.4 C232.8 928.2 241.6 924.7 245.7 927.3 C249.7 929.9 251.2 938.6 252.5 945.1 C253.9 951.6 255.1 960.5 253.9 966.5 C252.8 972.4 248.2 975.4 245.7 980.7 C243.1 986.1 243.9 995.6 238.8 998.6 C233.6 1001.5 219.1 1001.5 214.7 998.6 C210.3 995.6 212.3 987.3 212.6 980.7 C213.0 974.2 217.0 965.3 216.8 959.4 C216.5 953.4 210.8 949.2 211.3 945.1 C211.7 940.9 216.6 937.0 219.5 934.4 C222.4 931.8 224.1 930.6 228.5 929.4 Z" fill="#000" stroke="#000" stroke-width="0.70" stroke-linejoin="round"/>
</g>
<g filter="url(#f195)"><g fill="#9a96ca"><circle cx="228.6" cy="963.6" r="2.8" opacity=".84"/><circle cx="237.9" cy="936.9" r="2.3" opacity=".83"/><circle cx="225.0" cy="984.1" r="2.2" opacity=".54"/><circle cx="220.4" cy="992.4" r="2.6" opacity=".69"/><circle cx="247.9" cy="933.0" r="2.5" opacity=".84"/><circle cx="223.1" cy="956.0" r="2.8" opacity=".46"/><circle cx="238.5" cy="944.6" r="1.9" opacity=".63"/><circle cx="248.2" cy="973.9" r="2.6" opacity=".68"/><circle cx="223.8" cy="965.2" r="2.4" opacity=".55"/><circle cx="228.2" cy="968.6" r="2.5" opacity=".66"/><circle cx="216.2" cy="948.4" r="2.5" opacity=".52"/><circle cx="250.4" cy="958.5" r="1.8" opacity=".76"/><circle cx="241.4" cy="961.5" r="2.7" opacity=".84"/><circle cx="245.3" cy="978.4" r="2.6" opacity=".75"/><circle cx="234.2" cy="951.5" r="2.9" opacity=".57"/><circle cx="253.7" cy="966.7" r="1.9" opacity=".76"/><circle cx="233.8" cy="932.6" r="2.2" opacity=".69"/><circle cx="249.3" cy="937.2" r="2.0" opacity=".79"/><circle cx="222.7" cy="949.6" r="2.2" opacity=".54"/><circle cx="252.7" cy="953.8" r="2.2" opacity=".85"/><circle cx="233.0" cy="943.3" r="2.9" opacity=".59"/><circle cx="237.2" cy="973.4" r="2.1" opacity=".81"/><circle cx="211.7" cy="944.8" r="2.8" opacity=".82"/></g><g fill="#8c88c2"><circle cx="240.8" cy="980.2" r="1.8" opacity=".69"/><circle cx="229.4" cy="955.1" r="2.7" opacity=".49"/><circle cx="218.4" cy="986.8" r="2.0" opacity=".68"/><circle cx="241.7" cy="930.9" r="2.9" opacity=".58"/><circle cx="245.1" cy="965.4" r="1.9" opacity=".48"/><circle cx="247.8" cy="946.4" r="2.9" opacity=".68"/><circle cx="247.6" cy="951.4" r="2.6" opacity=".47"/><circle cx="220.5" cy="979.9" r="1.9" opacity=".58"/><circle cx="217.5" cy="975.7" r="2.5" opacity=".73"/><circle cx="233.6" cy="964.6" r="2.0" opacity=".50"/><circle cx="225.4" cy="937.6" r="1.9" opacity=".75"/><circle cx="225.4" cy="975.2" r="1.8" opacity=".45"/><circle cx="220.7" cy="970.7" r="2.4" opacity=".49"/><circle cx="222.7" cy="944.1" r="2.5" opacity=".72"/><circle cx="219.9" cy="962.8" r="2.6" opacity=".60"/><circle cx="236.3" cy="980.5" r="2.3" opacity=".61"/><circle cx="216.5" cy="969.3" r="1.8" opacity=".64"/></g><g fill="#7e7aba"><circle cx="233.2" cy="969.4" r="2.3" opacity=".54"/><circle cx="243.1" cy="956.3" r="2.0" opacity=".67"/><circle cx="219.2" cy="940.1" r="2.1" opacity=".76"/><circle cx="251.1" cy="942.9" r="1.8" opacity=".67"/><circle cx="236.0" cy="955.6" r="1.9" opacity=".46"/><circle cx="246.0" cy="942.0" r="2.7" opacity=".77"/><circle cx="216.0" cy="955.5" r="1.8" opacity=".79"/><circle cx="243.3" cy="937.9" r="2.2" opacity=".47"/><circle cx="228.5" cy="943.3" r="2.0" opacity=".78"/><circle cx="230.2" cy="936.4" r="1.7" opacity=".76"/><circle cx="230.0" cy="974.6" r="1.9" opacity=".49"/><circle cx="236.6" cy="986.4" r="2.6" opacity=".55"/><circle cx="241.6" cy="974.9" r="2.0" opacity=".73"/><circle cx="231.4" cy="991.4" r="1.8" opacity=".60"/><circle cx="241.4" cy="968.2" r="2.0" opacity=".81"/><circle cx="236.6" cy="994.7" r="2.5" opacity=".82"/><circle cx="240.5" cy="949.3" r="2.0" opacity=".55"/><circle cx="215.3" cy="981.4" r="2.1" opacity=".63"/><circle cx="225.0" cy="990.3" r="2.8" opacity=".83"/><circle cx="233.1" cy="959.8" r="2.7" opacity=".82"/></g></g>
<g filter="url(#f196)"><g fill="#a8a6d2"><circle cx="198.2" cy="950.4" r="1.4" opacity=".52"/><circle cx="259.8" cy="927.9" r="1.9" opacity=".65"/><circle cx="208.8" cy="973.4" r="1.2" opacity=".64"/><circle cx="199.6" cy="975.5" r="2.0" opacity=".77"/><circle cx="264.7" cy="971.0" r="1.5" opacity=".78"/><circle cx="212.8" cy="954.2" r="1.5" opacity=".65"/><circle cx="250.6" cy="931.0" r="1.6" opacity=".69"/></g><g fill="#9a98ca"><circle cx="253.3" cy="972.9" r="1.7" opacity=".51"/><circle cx="207.5" cy="955.1" r="1.3" opacity=".65"/><circle cx="202.6" cy="972.7" r="1.5" opacity=".56"/><circle cx="198.8" cy="928.0" r="1.9" opacity=".64"/><circle cx="265.4" cy="991.2" r="1.3" opacity=".57"/><circle cx="209.3" cy="981.9" r="1.5" opacity=".55"/><circle cx="231.9" cy="925.7" r="1.9" opacity=".55"/></g></g>
</g>
</g>
<defs><filter id="f202" x="-20%" y="-20%" width="140%" height="140%"><feGaussianBlur stdDeviation="0.8"/></filter></defs>
<defs><filter id="f203" x="-20%" y="-20%" width="140%" height="140%"><feGaussianBlur stdDeviation="0.5"/></filter></defs>
<clipPath id="c204"><rect x="271.20" y="923.70" width="68.80" height="71.30"/></clipPath>
<g clip-path="url(#c204)">
<rect x="271.20" y="923.70" width="68.80" height="71.30" fill="#f1eff6"/>
<defs><filter id="f205" x="0" y="0" width="1" height="1" color-interpolation-filters="sRGB"><feTurbulence type="fractalNoise" baseFrequency="0.08" numOctaves="2" seed="61"/><feColorMatrix type="matrix" values="0 0 0 0 0.871 0 0 0 0 0.855 0 0 0 0 0.933 5 0 0 0 -2.2"/><feGaussianBlur stdDeviation="0.5"/></filter></defs>
<rect x="271.20" y="923.70" width="68.80" height="71.30" fill="#000" filter="url(#f205)" opacity="0.8"/>
<defs><filter id="f206" x="0" y="0" width="1" height="1" color-interpolation-filters="sRGB"><feTurbulence type="fractalNoise" baseFrequency="0.35" numOctaves="2" seed="62"/><feColorMatrix type="matrix" values="0 0 0 0 0.839 0 0 0 0 0.439 0 0 0 0 0.659 7 0 0 0 -4.4"/><feGaussianBlur stdDeviation="0.5"/></filter></defs>
<rect x="271.20" y="923.70" width="68.80" height="71.30" fill="#000" filter="url(#f206)" opacity="0.6"/>
<g>
<g filter="url(#f202)"><g fill="#bfbcde"><circle cx="286.8" cy="992.3" r="2.2" opacity=".87"/><circle cx="284.4" cy="982.9" r="2.1" opacity=".85"/><circle cx="287.3" cy="925.1" r="2.4" opacity=".87"/><circle cx="279.0" cy="942.1" r="3.4" opacity=".85"/><circle cx="311.2" cy="933.8" r="2.1" opacity=".90"/><circle cx="331.8" cy="944.1" r="2.5" opacity=".59"/><circle cx="331.6" cy="933.3" r="3.1" opacity=".89"/><circle cx="284.8" cy="934.4" r="2.7" opacity=".67"/><circle cx="286.3" cy="941.1" r="2.0" opacity=".56"/><circle cx="277.1" cy="931.3" r="2.7" opacity=".62"/><circle cx="310.7" cy="976.7" r="2.5" opacity=".54"/><circle cx="298.3" cy="949.4" r="2.3" opacity=".52"/><circle cx="319.9" cy="967.3" r="2.1" opacity=".73"/><circle cx="296.2" cy="954.5" r="2.2" opacity=".67"/><circle cx="337.8" cy="977.6" r="2.7" opacity=".73"/><circle cx="319.7" cy="938.0" r="2.3" opacity=".78"/><circle cx="315.7" cy="924.2" r="2.9" opacity=".85"/><circle cx="291.6" cy="962.7" r="3.3" opacity=".83"/><circle cx="329.7" cy="960.5" r="2.9" opacity=".70"/><circle cx="291.6" cy="984.0" r="2.3" opacity=".82"/><circle cx="329.2" cy="972.5" r="3.3" opacity=".81"/><circle cx="321.3" cy="982.2" r="2.8" opacity=".76"/><circle cx="327.2" cy="966.2" r="3.1" opacity=".70"/><circle cx="325.8" cy="951.4" r="2.9" opacity=".64"/></g><g fill="#c9c6e4"><circle cx="319.7" cy="929.8" r="2.4" opacity=".51"/><circle cx="339.9" cy="938.6" r="2.9" opacity=".77"/><circle cx="302.8" cy="956.0" r="2.7" opacity=".54"/><circle cx="299.2" cy="988.0" r="2.5" opacity=".55"/><circle cx="275.5" cy="967.9" r="2.5" opacity=".63"/><circle cx="316.7" cy="947.8" r="3.0" opacity=".83"/><circle cx="305.4" cy="970.0" r="3.2" opacity=".84"/><circle cx="336.3" cy="958.5" r="2.3" opacity=".83"/><circle cx="336.3" cy="965.0" r="3.0" opacity=".74"/><circle cx="277.9" cy="972.9" r="3.0" opacity=".71"/><circle cx="336.6" cy="983.8" r="2.7" opacity=".87"/><circle cx="306.3" cy="928.8" r="3.2" opacity=".60"/><circle cx="294.8" cy="942.7" r="2.6" opacity=".54"/><circle cx="297.1" cy="983.2" r="3.2" opacity=".53"/><circle cx="283.3" cy="952.0" r="2.2" opacity=".63"/><circle cx="316.8" cy="993.2" r="2.3" opacity=".54"/><circle cx="323.9" cy="945.1" r="2.0" opacity=".52"/><circle cx="311.7" cy="944.3" r="2.2" opacity=".83"/><circle cx="338.6" cy="928.2" r="2.0" opacity=".79"/><circle cx="328.7" cy="938.7" r="3.2" opacity=".90"/><circle cx="273.5" cy="992.5" r="3.1" opacity=".59"/><circle cx="312.9" cy="959.2" r="2.7" opacity=".66"/><circle cx="321.1" cy="974.7" r="2.7" opacity=".55"/><circle cx="335.0" cy="993.7" r="2.3" opacity=".62"/><circle cx="304.9" cy="961.4" r="3.2" opacity=".62"/><circle cx="300.1" cy="932.0" r="3.1" opacity=".51"/></g></g>
<g filter="url(#f203)"><g fill="#8a86c4"><circle cx="303.1" cy="950.3" r="1.6" opacity=".61"/><circle cx="333.0" cy="929.5" r="2.0" opacity=".84"/><circle cx="319.6" cy="955.9" r="2.1" opacity=".67"/><circle cx="306.0" cy="989.6" r="2.0" opacity=".62"/><circle cx="285.6" cy="943.7" r="2.2" opacity=".85"/><circle cx="284.9" cy="986.9" r="2.3" opacity=".72"/><circle cx="276.9" cy="962.2" r="1.4" opacity=".64"/><circle cx="309.4" cy="966.9" r="1.6" opacity=".94"/><circle cx="289.7" cy="994.6" r="2.4" opacity=".64"/><circle cx="279.5" cy="974.0" r="2.3" opacity=".63"/><circle cx="324.5" cy="929.9" r="1.8" opacity=".76"/><circle cx="272.5" cy="980.7" r="1.7" opacity=".69"/><circle cx="293.5" cy="930.0" r="2.0" opacity=".75"/><circle cx="324.9" cy="981.3" r="1.9" opacity=".78"/><circle cx="289.0" cy="927.3" r="2.4" opacity=".82"/><circle cx="319.1" cy="928.4" r="1.9" opacity=".94"/><circle cx="283.1" cy="968.6" r="1.5" opacity=".61"/><circle cx="315.4" cy="962.4" r="1.7" opacity=".70"/></g><g fill="#9894cc"><circle cx="330.8" cy="924.2" r="1.9" opacity=".63"/><circle cx="282.0" cy="940.7" r="1.5" opacity=".86"/><circle cx="278.2" cy="944.5" r="2.1" opacity=".79"/><circle cx="287.5" cy="967.3" r="1.5" opacity=".94"/><circle cx="330.6" cy="965.3" r="1.9" opacity=".67"/><circle cx="298.9" cy="994.0" r="2.0" opacity=".63"/><circle cx="301.0" cy="938.9" r="1.8" opacity=".84"/><circle cx="278.3" cy="979.6" r="1.4" opacity=".61"/><circle cx="283.1" cy="991.2" r="2.4" opacity=".70"/><circle cx="283.3" cy="956.3" r="2.0" opacity=".71"/><circle cx="273.2" cy="994.5" r="2.3" opacity=".72"/><circle cx="274.8" cy="966.7" r="1.8" opacity=".76"/></g><g fill="#7c78bc"><circle cx="313.6" cy="926.6" r="1.8" opacity=".81"/><circle cx="324.5" cy="951.1" r="2.1" opacity=".82"/><circle cx="275.0" cy="950.7" r="1.9" opacity=".60"/><circle cx="312.3" cy="932.3" r="2.0" opacity=".81"/><circle cx="332.8" cy="938.2" r="1.4" opacity=".95"/><circle cx="334.6" cy="953.7" r="1.8" opacity=".83"/><circle cx="313.1" cy="992.0" r="1.5" opacity=".87"/><circle cx="296.4" cy="971.8" r="2.0" opacity=".64"/><circle cx="320.0" cy="941.4" r="2.1" opacity=".62"/><circle cx="296.9" cy="985.0" r="1.8" opacity=".77"/><circle cx="317.1" cy="935.9" r="2.2" opacity=".81"/><circle cx="275.4" cy="938.6" r="1.8" opacity=".61"/><circle cx="319.6" cy="978.2" r="1.8" opacity=".93"/><circle cx="331.8" cy="959.0" r="1.5" opacity=".94"/><circle cx="324.9" cy="939.6" r="1.4" opacity=".69"/><circle cx="308.7" cy="961.0" r="1.9" opacity=".75"/><circle cx="302.4" cy="958.7" r="2.0" opacity=".76"/><circle cx="327.8" cy="975.7" r="2.0" opacity=".67"/></g></g>
</g>
</g>
<defs><filter id="f207" x="-20%" y="-20%" width="140%" height="140%"><feGaussianBlur stdDeviation="0.6"/></filter></defs>
<clipPath id="c208"><rect x="344.90" y="923.70" width="69.30" height="71.30"/></clipPath>
<g clip-path="url(#c208)">
<rect x="344.90" y="923.70" width="69.30" height="71.30" fill="#e9e4f1"/>
<defs><filter id="f209" filterUnits="userSpaceOnUse" x="336.9" y="915.7" width="85.3" height="87.3" color-interpolation-filters="sRGB"><feTurbulence type="fractalNoise" baseFrequency="0.04" numOctaves="2" seed="93" result="t"/><feDisplacementMap in="SourceGraphic" in2="t" scale="6" xChannelSelector="R" yChannelSelector="G"/><feGaussianBlur stdDeviation="0.5"/></filter></defs>
<g filter="url(#f209)">
<path d="M341.4 920.1 C354.1 907.1 405.0 907.1 417.7 920.1 C430.4 933.2 430.4 985.5 417.7 998.6 C405.0 1011.6 354.1 1011.6 341.4 998.6 C328.7 985.5 328.7 933.2 341.4 920.1 Z" fill="#cbc2e0" fill-opacity="0.85" stroke="#cbc2e0" stroke-width="0.70" stroke-opacity="0.85" stroke-linejoin="round"/>
<defs><filter id="f210" x="0" y="0" width="1" height="1" color-interpolation-filters="sRGB"><feTurbulence type="fractalNoise" baseFrequency="0.2" numOctaves="2" seed="73"/><feColorMatrix type="matrix" values="0 0 0 0 0.541 0 0 0 0 0.494 0 0 0 0 0.753 7 0 0 0 -3.6"/><feComposite in2="SourceAlpha" operator="in"/></filter></defs>
<g filter="url(#f210)" opacity="0.5">
<path d="M341.4 920.1 C354.1 907.1 405.0 907.1 417.7 920.1 C430.4 933.2 430.4 985.5 417.7 998.6 C405.0 1011.6 354.1 1011.6 341.4 998.6 C328.7 985.5 328.7 933.2 341.4 920.1 Z" fill="#000" stroke="#000" stroke-width="0.70" stroke-linejoin="round"/>
</g>
<defs><filter id="f211" x="0" y="0" width="1" height="1" color-interpolation-filters="sRGB"><feTurbulence type="fractalNoise" baseFrequency="0.34" numOctaves="2" seed="83"/><feColorMatrix type="matrix" values="0 0 0 0 0.769 0 0 0 0 0.173 0 0 0 0 0.502 7 0 0 0 -3.95"/><feComposite in2="SourceAlpha" operator="in"/></filter></defs>
<g filter="url(#f211)" opacity="0.75">
<path d="M341.4 920.1 C354.1 907.1 405.0 907.1 417.7 920.1 C430.4 933.2 430.4 985.5 417.7 998.6 C405.0 1011.6 354.1 1011.6 341.4 998.6 C328.7 985.5 328.7 933.2 341.4 920.1 Z" fill="#000" stroke="#000" stroke-width="0.70" stroke-linejoin="round"/>
</g>
<g filter="url(#f207)"><g fill="#7268b0"><circle cx="362.8" cy="972.6" r="2.5" opacity=".63"/><circle cx="353.9" cy="961.6" r="2.0" opacity=".76"/><circle cx="365.3" cy="954.5" r="2.7" opacity=".56"/><circle cx="410.7" cy="980.3" r="2.0" opacity=".46"/><circle cx="413.2" cy="973.0" r="2.4" opacity=".83"/><circle cx="381.1" cy="941.8" r="2.3" opacity=".65"/><circle cx="411.0" cy="951.5" r="2.6" opacity=".63"/><circle cx="389.2" cy="935.1" r="2.2" opacity=".56"/><circle cx="412.2" cy="966.7" r="2.6" opacity=".85"/><circle cx="359.6" cy="967.7" r="2.4" opacity=".57"/><circle cx="368.6" cy="944.8" r="1.9" opacity=".56"/><circle cx="392.3" cy="931.7" r="2.0" opacity=".50"/><circle cx="349.7" cy="969.6" r="2.4" opacity=".67"/><circle cx="386.3" cy="929.2" r="2.3" opacity=".73"/><circle cx="368.1" cy="959.1" r="2.8" opacity=".67"/><circle cx="397.4" cy="966.5" r="1.7" opacity=".68"/><circle cx="405.6" cy="994.3" r="1.8" opacity=".71"/><circle cx="394.7" cy="971.2" r="2.8" opacity=".48"/><circle cx="380.9" cy="989.3" r="2.2" opacity=".73"/><circle cx="384.6" cy="967.9" r="2.7" opacity=".71"/><circle cx="381.9" cy="981.6" r="2.3" opacity=".54"/><circle cx="365.7" cy="992.3" r="2.1" opacity=".59"/><circle cx="394.5" cy="944.4" r="2.6" opacity=".54"/><circle cx="352.0" cy="965.7" r="2.1" opacity=".80"/><circle cx="374.6" cy="992.1" r="1.8" opacity=".82"/><circle cx="345.6" cy="955.7" r="2.6" opacity=".49"/><circle cx="391.1" cy="965.8" r="2.0" opacity=".71"/><circle cx="359.3" cy="990.3" r="2.1" opacity=".74"/><circle cx="367.9" cy="949.6" r="1.7" opacity=".82"/><circle cx="413.9" cy="933.9" r="2.4" opacity=".54"/><circle cx="386.2" cy="991.5" r="1.9" opacity=".78"/><circle cx="356.6" cy="930.2" r="2.5" opacity=".54"/><circle cx="404.8" cy="942.4" r="1.9" opacity=".72"/><circle cx="361.4" cy="928.7" r="2.7" opacity=".66"/><circle cx="391.4" cy="948.0" r="2.3" opacity=".81"/></g><g fill="#7e74b8"><circle cx="403.8" cy="936.9" r="2.0" opacity=".58"/><circle cx="355.1" cy="939.8" r="2.6" opacity=".58"/><circle cx="387.1" cy="924.7" r="2.0" opacity=".58"/><circle cx="355.1" cy="985.8" r="2.7" opacity=".59"/><circle cx="375.6" cy="936.3" r="2.0" opacity=".66"/><circle cx="361.2" cy="940.5" r="1.9" opacity=".54"/><circle cx="370.3" cy="928.9" r="2.5" opacity=".49"/><circle cx="405.1" cy="986.9" r="2.6" opacity=".79"/><circle cx="370.9" cy="974.8" r="1.9" opacity=".59"/><circle cx="345.1" cy="994.9" r="1.9" opacity=".81"/><circle cx="370.3" cy="983.2" r="1.7" opacity=".55"/><circle cx="408.0" cy="976.3" r="2.0" opacity=".59"/><circle cx="353.8" cy="949.4" r="2.2" opacity=".66"/><circle cx="382.0" cy="932.9" r="2.6" opacity=".56"/><circle cx="367.3" cy="987.4" r="2.4" opacity=".55"/><circle cx="353.6" cy="924.1" r="2.0" opacity=".78"/><circle cx="350.9" cy="927.4" r="1.8" opacity=".67"/><circle cx="413.9" cy="957.3" r="2.0" opacity=".83"/><circle cx="399.3" cy="955.8" r="1.7" opacity=".50"/><circle cx="409.9" cy="941.3" r="2.7" opacity=".48"/><circle cx="404.0" cy="953.4" r="2.9" opacity=".60"/><circle cx="359.8" cy="976.8" r="2.5" opacity=".76"/><circle cx="362.7" cy="958.4" r="2.4" opacity=".63"/><circle cx="354.2" cy="975.5" r="2.4" opacity=".55"/><circle cx="359.8" cy="934.1" r="2.1" opacity=".76"/><circle cx="390.6" cy="974.2" r="2.5" opacity=".84"/><circle cx="374.5" cy="953.8" r="2.0" opacity=".59"/><circle cx="364.4" cy="965.0" r="2.4" opacity=".50"/><circle cx="362.5" cy="981.3" r="2.0" opacity=".73"/><circle cx="366.1" cy="931.1" r="2.2" opacity=".50"/><circle cx="351.9" cy="980.6" r="2.7" opacity=".83"/><circle cx="397.0" cy="976.9" r="1.8" opacity=".67"/><circle cx="374.2" cy="926.5" r="2.5" opacity=".50"/><circle cx="375.8" cy="975.3" r="2.4" opacity=".55"/><circle cx="354.1" cy="992.1" r="1.8" opacity=".67"/><circle cx="377.3" cy="932.0" r="2.6" opacity=".64"/><circle cx="394.5" cy="992.0" r="2.1" opacity=".60"/><circle cx="385.3" cy="972.7" r="2.1" opacity=".64"/><circle cx="403.2" cy="948.9" r="2.7" opacity=".47"/><circle cx="369.5" cy="965.0" r="2.2" opacity=".51"/><circle cx="350.7" cy="938.6" r="2.2" opacity=".51"/><circle cx="347.8" cy="991.3" r="2.0" opacity=".52"/><circle cx="396.5" cy="959.6" r="2.2" opacity=".70"/></g><g fill="#8a80c0"><circle cx="400.8" cy="982.6" r="2.6" opacity=".64"/><circle cx="403.8" cy="958.4" r="2.6" opacity=".61"/><circle cx="384.0" cy="954.3" r="2.1" opacity=".82"/><circle cx="374.7" cy="946.1" r="1.9" opacity=".68"/><circle cx="396.8" cy="933.3" r="2.5" opacity=".47"/><circle cx="409.6" cy="926.8" r="1.9" opacity=".85"/><circle cx="385.9" cy="949.3" r="2.6" opacity=".83"/><circle cx="382.6" cy="926.5" r="2.2" opacity=".54"/><circle cx="380.7" cy="957.5" r="2.5" opacity=".53"/><circle cx="365.5" cy="926.0" r="2.3" opacity=".63"/><circle cx="392.3" cy="984.2" r="2.0" opacity=".47"/><circle cx="359.0" cy="948.7" r="1.8" opacity=".55"/><circle cx="398.5" cy="937.3" r="2.3" opacity=".80"/><circle cx="378.1" cy="950.2" r="2.1" opacity=".51"/><circle cx="407.1" cy="931.9" r="1.9" opacity=".59"/><circle cx="374.3" cy="968.1" r="2.7" opacity=".59"/><circle cx="346.9" cy="942.2" r="2.1" opacity=".49"/><circle cx="407.4" cy="962.0" r="1.9" opacity=".64"/><circle cx="347.3" cy="982.3" r="1.9" opacity=".51"/><circle cx="348.6" cy="959.4" r="2.8" opacity=".66"/><circle cx="368.5" cy="939.4" r="1.8" opacity=".71"/><circle cx="393.5" cy="954.2" r="2.8" opacity=".66"/><circle cx="408.3" cy="990.1" r="2.7" opacity=".83"/><circle cx="402.5" cy="972.3" r="2.6" opacity=".56"/><circle cx="387.2" cy="960.2" r="2.6" opacity=".74"/><circle cx="391.5" cy="988.8" r="2.5" opacity=".73"/><circle cx="351.1" cy="931.7" r="1.9" opacity=".63"/><circle cx="349.5" cy="951.3" r="2.0" opacity=".70"/><circle cx="393.3" cy="927.2" r="2.0" opacity=".85"/><circle cx="382.1" cy="977.2" r="2.6" opacity=".69"/><circle cx="396.4" cy="987.2" r="2.4" opacity=".51"/><circle cx="383.4" cy="937.1" r="2.0" opacity=".69"/><circle cx="375.0" cy="959.3" r="2.8" opacity=".57"/><circle cx="389.2" cy="940.8" r="1.9" opacity=".69"/><circle cx="346.3" cy="935.5" r="2.1" opacity=".85"/><circle cx="349.5" cy="975.8" r="2.0" opacity=".56"/><circle cx="372.5" cy="949.8" r="2.2" opacity=".65"/><circle cx="362.8" cy="944.6" r="2.4" opacity=".83"/><circle cx="347.0" cy="930.0" r="2.4" opacity=".66"/><circle cx="386.6" cy="985.9" r="2.3" opacity=".55"/><circle cx="365.6" cy="976.0" r="2.4" opacity=".56"/><circle cx="380.3" cy="971.1" r="2.5" opacity=".69"/></g></g>
<defs><filter id="f212" x="-20%" y="-20%" width="140%" height="140%"><feGaussianBlur stdDeviation="1.2"/></filter></defs>
<g filter="url(#f212)">
<path d="M372.6 920.1 C372.4 914.2 380.2 914.8 383.7 920.1 C387.2 925.5 389.3 939.1 393.4 952.2 C397.6 965.3 407.7 990.8 408.7 998.6 C409.6 1006.3 402.9 1005.7 399.0 998.6 C395.0 991.4 389.5 968.9 385.1 955.8 C380.7 942.7 372.9 926.1 372.6 920.1 Z" fill="#f3f1f7"/>
<path d="M341.4 920.1 C346.9 916.9 370.0 918.4 374.0 920.1 C378.0 921.9 371.1 927.6 365.7 930.8 C360.3 934.0 345.5 941.2 341.4 939.4 C337.4 937.6 336.0 923.3 341.4 920.1 Z" fill="#eeebf5"/>
</g>
</g>
</g>
<defs><filter id="f213" x="-20%" y="-20%" width="140%" height="140%"><feGaussianBlur stdDeviation="0.5"/></filter></defs>
<clipPath id="c214"><rect x="419.00" y="923.70" width="69.90" height="71.30"/></clipPath>
<g clip-path="url(#c214)">
<rect x="419.00" y="923.70" width="69.90" height="71.30" fill="#efeff6"/>
<defs><filter id="f215" x="0" y="0" width="1" height="1" color-interpolation-filters="sRGB"><feTurbulence type="fractalNoise" baseFrequency="0.1" numOctaves="2" seed="65"/><feColorMatrix type="matrix" values="0 0 0 0 0.847 0 0 0 0 0.847 0 0 0 0 0.929 5 0 0 0 -2.3"/><feGaussianBlur stdDeviation="0.45"/></filter></defs>
<rect x="419.00" y="923.70" width="69.90" height="71.30" fill="#000" filter="url(#f215)" opacity="0.7"/>
<defs><filter id="f216" x="0" y="0" width="1" height="1" color-interpolation-filters="sRGB"><feTurbulence type="fractalNoise" baseFrequency="0.4" numOctaves="2" seed="66"/><feColorMatrix type="matrix" values="0 0 0 0 0.824 0 0 0 0 0.235 0 0 0 0 0.557 7 0 0 0 -4.45"/><feGaussianBlur stdDeviation="0.45"/></filter></defs>
<rect x="419.00" y="923.70" width="69.90" height="71.30" fill="#000" filter="url(#f216)" opacity="0.8"/>
<g>
<g filter="url(#f213)"><g fill="#6e70ba"><circle cx="475.9" cy="982.4" r="2.7" opacity=".68"/><circle cx="430.2" cy="960.8" r="2.3" opacity=".78"/><circle cx="436.5" cy="991.6" r="3.1" opacity=".66"/><circle cx="422.1" cy="985.0" r="2.6" opacity=".68"/><circle cx="487.7" cy="992.8" r="2.6" opacity=".74"/><circle cx="465.0" cy="961.7" r="2.9" opacity=".81"/><circle cx="427.4" cy="956.2" r="2.1" opacity=".73"/><circle cx="425.5" cy="931.5" r="2.4" opacity=".86"/><circle cx="452.5" cy="972.9" r="2.8" opacity=".75"/><circle cx="470.8" cy="967.2" r="2.2" opacity=".74"/><circle cx="425.7" cy="980.1" r="3.0" opacity=".71"/><circle cx="484.2" cy="937.1" r="2.7" opacity=".90"/><circle cx="481.2" cy="951.6" r="2.0" opacity=".66"/><circle cx="444.5" cy="928.7" r="2.2" opacity=".68"/><circle cx="455.7" cy="933.7" r="2.0" opacity=".97"/><circle cx="457.5" cy="964.4" r="3.0" opacity=".77"/><circle cx="468.7" cy="973.3" r="2.2" opacity=".80"/><circle cx="476.0" cy="945.3" r="2.2" opacity=".82"/><circle cx="436.2" cy="924.9" r="2.7" opacity=".78"/><circle cx="431.3" cy="980.9" r="2.2" opacity=".90"/><circle cx="438.4" cy="973.6" r="2.8" opacity=".96"/><circle cx="488.5" cy="978.2" r="2.7" opacity=".84"/><circle cx="419.7" cy="977.8" r="2.2" opacity=".71"/></g><g fill="#7c80c4"><circle cx="466.2" cy="956.3" r="2.7" opacity=".83"/><circle cx="445.2" cy="966.6" r="2.0" opacity=".75"/><circle cx="438.2" cy="967.7" r="2.1" opacity=".96"/><circle cx="473.3" cy="957.9" r="2.3" opacity=".98"/><circle cx="461.1" cy="928.2" r="2.5" opacity=".72"/><circle cx="469.8" cy="987.7" r="2.7" opacity=".74"/><circle cx="448.6" cy="970.0" r="3.0" opacity=".90"/><circle cx="463.0" cy="943.8" r="2.7" opacity=".80"/><circle cx="442.9" cy="975.5" r="2.5" opacity=".69"/><circle cx="420.1" cy="947.1" r="2.3" opacity=".71"/><circle cx="479.8" cy="924.8" r="2.1" opacity=".86"/><circle cx="422.3" cy="973.1" r="1.9" opacity=".74"/><circle cx="431.0" cy="934.9" r="2.6" opacity=".76"/><circle cx="483.4" cy="960.1" r="2.3" opacity=".80"/><circle cx="458.8" cy="993.2" r="2.9" opacity=".75"/><circle cx="431.1" cy="986.4" r="2.6" opacity=".77"/><circle cx="439.2" cy="982.2" r="2.2" opacity=".79"/><circle cx="445.3" cy="956.4" r="2.3" opacity=".96"/><circle cx="463.4" cy="977.4" r="2.4" opacity=".86"/><circle cx="483.1" cy="975.3" r="2.0" opacity=".71"/><circle cx="471.4" cy="978.2" r="2.4" opacity=".90"/><circle cx="467.8" cy="937.4" r="3.1" opacity=".94"/><circle cx="449.0" cy="930.3" r="2.5" opacity=".90"/><circle cx="430.5" cy="994.4" r="2.3" opacity=".75"/><circle cx="423.9" cy="942.3" r="3.1" opacity=".71"/><circle cx="439.5" cy="948.5" r="3.1" opacity=".95"/><circle cx="430.8" cy="924.0" r="2.8" opacity=".66"/><circle cx="457.9" cy="923.7" r="2.2" opacity=".97"/><circle cx="488.7" cy="953.2" r="3.0" opacity=".73"/><circle cx="423.5" cy="950.8" r="2.8" opacity=".90"/><circle cx="453.6" cy="927.8" r="2.7" opacity=".81"/><circle cx="461.6" cy="953.0" r="2.4" opacity=".66"/><circle cx="428.3" cy="944.9" r="3.1" opacity=".92"/><circle cx="488.5" cy="965.0" r="1.9" opacity=".91"/></g><g fill="#585cac"><circle cx="465.3" cy="933.2" r="2.8" opacity=".83"/><circle cx="422.1" cy="924.0" r="2.0" opacity=".69"/><circle cx="421.6" cy="959.1" r="2.9" opacity=".89"/><circle cx="473.2" cy="930.6" r="2.1" opacity=".86"/><circle cx="449.4" cy="924.1" r="2.8" opacity=".65"/><circle cx="479.8" cy="971.7" r="2.2" opacity=".88"/><circle cx="449.9" cy="992.8" r="2.4" opacity=".80"/><circle cx="488.4" cy="958.3" r="2.4" opacity=".84"/><circle cx="449.5" cy="959.4" r="2.4" opacity=".84"/><circle cx="462.3" cy="972.7" r="2.7" opacity=".91"/><circle cx="452.5" cy="981.3" r="3.1" opacity=".80"/><circle cx="432.4" cy="948.6" r="2.0" opacity=".66"/><circle cx="480.2" cy="985.8" r="2.7" opacity=".69"/><circle cx="436.8" cy="956.3" r="2.8" opacity=".76"/><circle cx="434.4" cy="976.8" r="3.1" opacity=".76"/><circle cx="478.3" cy="964.6" r="2.5" opacity=".68"/><circle cx="479.4" cy="995.0" r="1.9" opacity=".66"/><circle cx="469.5" cy="994.0" r="2.1" opacity=".94"/><circle cx="422.5" cy="936.3" r="2.7" opacity=".82"/><circle cx="485.2" cy="926.7" r="2.6" opacity=".76"/><circle cx="447.4" cy="977.3" r="2.5" opacity=".92"/><circle cx="486.1" cy="932.1" r="2.0" opacity=".88"/><circle cx="469.4" cy="945.9" r="2.2" opacity=".71"/><circle cx="427.4" cy="974.0" r="2.9" opacity=".72"/><circle cx="463.3" cy="967.1" r="2.7" opacity=".81"/><circle cx="431.3" cy="968.3" r="1.9" opacity=".80"/><circle cx="478.7" cy="938.6" r="1.9" opacity=".95"/><circle cx="485.1" cy="984.3" r="2.5" opacity=".71"/><circle cx="432.3" cy="953.9" r="2.2" opacity=".74"/><circle cx="465.8" cy="927.3" r="2.8" opacity=".88"/><circle cx="483.5" cy="965.8" r="2.1" opacity=".90"/><circle cx="476.7" cy="934.0" r="2.8" opacity=".68"/><circle cx="439.6" cy="942.5" r="2.9" opacity=".97"/><circle cx="443.1" cy="962.1" r="2.6" opacity=".76"/></g><g fill="#6064b2"><circle cx="484.8" cy="945.3" r="2.3" opacity=".69"/><circle cx="423.5" cy="965.4" r="2.9" opacity=".86"/><circle cx="429.9" cy="939.7" r="2.4" opacity=".97"/><circle cx="475.4" cy="991.3" r="2.4" opacity=".95"/><circle cx="455.7" cy="988.6" r="2.5" opacity=".79"/><circle cx="456.7" cy="958.6" r="2.1" opacity=".88"/><circle cx="425.7" cy="995.0" r="3.0" opacity=".74"/><circle cx="462.8" cy="938.6" r="2.6" opacity=".87"/><circle cx="475.0" cy="952.6" r="2.9" opacity=".81"/><circle cx="443.3" cy="934.1" r="3.0" opacity=".75"/><circle cx="443.2" cy="988.4" r="2.6" opacity=".89"/><circle cx="452.2" cy="964.8" r="2.4" opacity=".81"/><circle cx="448.3" cy="984.9" r="2.3" opacity=".86"/><circle cx="435.9" cy="934.8" r="2.4" opacity=".83"/><circle cx="420.6" cy="994.8" r="2.7" opacity=".71"/><circle cx="473.5" cy="925.6" r="2.6" opacity=".92"/><circle cx="475.1" cy="970.6" r="2.8" opacity=".75"/><circle cx="468.0" cy="983.0" r="2.7" opacity=".89"/><circle cx="457.1" cy="978.0" r="2.1" opacity=".76"/></g></g>
</g>
</g>
<rect x="197.50" y="849.10" width="68.80" height="71.30" fill="none" stroke="#141414" stroke-width="1.7"/>
<rect x="197.20" y="848.80" width="10.60" height="11.10" fill="#1b1b1b"/>
<path d="M200.90 855.10H204.40" stroke="#fff" stroke-width="1.03" fill="none"/>
<line x1="202.80" y1="915.00" x2="214.30" y2="915.00" stroke="#1a1a1a" stroke-width="1.5"/>
<rect x="271.20" y="849.10" width="68.80" height="71.30" fill="none" stroke="#141414" stroke-width="1.7"/>
<rect x="270.90" y="848.80" width="10.60" height="11.10" fill="#1b1b1b"/>
<path d="M274.60 855.10H278.10" stroke="#fff" stroke-width="1.03" fill="none"/>
<line x1="276.50" y1="915.00" x2="288.00" y2="915.00" stroke="#1a1a1a" stroke-width="1.5"/>
<rect x="344.90" y="849.10" width="69.30" height="71.30" fill="none" stroke="#141414" stroke-width="1.7"/>
<rect x="344.60" y="848.80" width="10.60" height="11.10" fill="#1b1b1b"/>
<path d="M348.30 855.10H351.80" stroke="#fff" stroke-width="1.03" fill="none"/>
<line x1="350.20" y1="915.00" x2="361.70" y2="915.00" stroke="#1a1a1a" stroke-width="1.5"/>
<rect x="419.00" y="849.10" width="69.90" height="71.30" fill="none" stroke="#141414" stroke-width="1.7"/>
<rect x="418.70" y="848.80" width="10.60" height="11.10" fill="#1b1b1b"/>
<path d="M422.40 855.10H425.90" stroke="#fff" stroke-width="1.03" fill="none"/>
<line x1="424.30" y1="915.00" x2="435.80" y2="915.00" stroke="#1a1a1a" stroke-width="1.5"/>
<rect x="197.50" y="923.70" width="68.80" height="71.30" fill="none" stroke="#141414" stroke-width="1.7"/>
<rect x="197.20" y="923.40" width="10.60" height="11.10" fill="#1b1b1b"/>
<path d="M199.25 929.10H206.05M202.65 925.70V932.50" stroke="#fff" stroke-width="0.88" fill="none"/>
<line x1="202.80" y1="989.60" x2="214.30" y2="989.60" stroke="#1a1a1a" stroke-width="1.5"/>
<rect x="271.20" y="923.70" width="68.80" height="71.30" fill="none" stroke="#141414" stroke-width="1.7"/>
<rect x="270.90" y="923.40" width="10.60" height="11.10" fill="#1b1b1b"/>
<path d="M272.95 929.10H279.75M276.35 925.70V932.50" stroke="#fff" stroke-width="0.88" fill="none"/>
<line x1="276.50" y1="989.60" x2="288.00" y2="989.60" stroke="#1a1a1a" stroke-width="1.5"/>
<rect x="344.90" y="923.70" width="69.30" height="71.30" fill="none" stroke="#141414" stroke-width="1.7"/>
<rect x="344.60" y="923.40" width="10.60" height="11.10" fill="#1b1b1b"/>
<path d="M346.65 929.10H353.45M350.05 925.70V932.50" stroke="#fff" stroke-width="0.88" fill="none"/>
<line x1="350.20" y1="989.60" x2="361.70" y2="989.60" stroke="#1a1a1a" stroke-width="1.5"/>
<rect x="419.00" y="923.70" width="69.90" height="71.30" fill="none" stroke="#141414" stroke-width="1.7"/>
<rect x="418.70" y="923.40" width="10.60" height="11.10" fill="#1b1b1b"/>
<path d="M420.75 929.10H427.55M424.15 925.70V932.50" stroke="#fff" stroke-width="0.88" fill="none"/>
<line x1="424.30" y1="989.60" x2="435.80" y2="989.60" stroke="#1a1a1a" stroke-width="1.5"/>
<text transform="translate(148.65 14.30) scale(1.0500 1)" font-size="19.3" text-anchor="start" fill="#000" font-weight="bold">b</text>
<line x1="174.70" y1="36.00" x2="174.70" y2="181.00" stroke="#231f20" stroke-width="1"/>
<text transform="translate(169.30 107.00) rotate(-90) scale(0.8750 1)" font-size="10.2" text-anchor="middle" fill="#231f20"><tspan font-style="italic">DLX1</tspan> RNA-ISH</text>
<text transform="translate(10.32 224.00) scale(0.9800 1)" font-size="19.3" text-anchor="start" fill="#000" font-weight="bold">d</text>
<line x1="43.80" y1="224.50" x2="43.80" y2="305.10" stroke="#231f20" stroke-width="1"/>
<line x1="43.80" y1="316.30" x2="43.80" y2="396.50" stroke="#231f20" stroke-width="1"/>
<text transform="translate(38.00 264.80) rotate(-90) scale(0.8571 1)" font-size="9.8" text-anchor="middle" fill="#231f20">ERG IHC</text>
<text transform="translate(38.00 356.60) rotate(-90) scale(0.8589 1)" font-size="9.8" text-anchor="middle" fill="#231f20"><tspan font-style="italic">DLX1</tspan> RNA-ISH</text>
<text transform="translate(10.51 431.40) scale(0.9800 1)" font-size="19.3" text-anchor="start" fill="#000" font-weight="bold">g</text>
<text transform="translate(10.80 607.00) scale(0.9800 1)" font-size="19.3" text-anchor="start" fill="#000" font-weight="bold">h</text>
<text transform="translate(68.30 435.90) scale(0.8823 1)" font-size="10.2" text-anchor="middle" fill="#231f20">AR IHC</text>
<text transform="translate(139.70 435.90) scale(0.8705 1)" font-size="10.2" text-anchor="middle" fill="#231f20">ERG IHC</text>
<text transform="translate(213.70 435.90) scale(0.8821 1)" font-size="10.2" text-anchor="middle" fill="#231f20"><tspan font-style="italic">DLX1</tspan> RNA-ISH</text>
<text transform="translate(68.30 609.70) scale(0.8823 1)" font-size="10.2" text-anchor="middle" fill="#231f20">AR IHC</text>
<text transform="translate(139.70 609.70) scale(0.8705 1)" font-size="10.2" text-anchor="middle" fill="#231f20">ERG IHC</text>
<text transform="translate(213.70 609.70) scale(0.8821 1)" font-size="10.2" text-anchor="middle" fill="#231f20"><tspan font-style="italic">DLX1</tspan> RNA-ISH</text>
<text transform="translate(176.77 837.90) scale(0.9800 1)" font-size="19.3" text-anchor="start" fill="#000" font-weight="bold">o</text>
<line x1="192.60" y1="849.10" x2="192.60" y2="995.00" stroke="#231f20" stroke-width="1"/>
<text transform="translate(187.50 921.30) rotate(-90) scale(0.8589 1)" font-size="9.8" text-anchor="middle" fill="#231f20"><tspan font-style="italic">DLX1</tspan> RNA-ISH</text>
<text transform="translate(230.20 845.20) scale(0.9300 1)" font-size="9.8" text-anchor="middle" fill="#231f20">Bone</text>
<text transform="translate(303.90 845.20) scale(0.9300 1)" font-size="9.8" text-anchor="middle" fill="#231f20">Liver</text>
<text transform="translate(380.50 845.20) scale(0.9300 1)" font-size="9.8" text-anchor="middle" fill="#231f20">Lung</text>
<text transform="translate(454.20 845.20) scale(0.9300 1)" font-size="9.8" text-anchor="middle" fill="#231f20">Lymph Node</text>
</svg></body></html>
